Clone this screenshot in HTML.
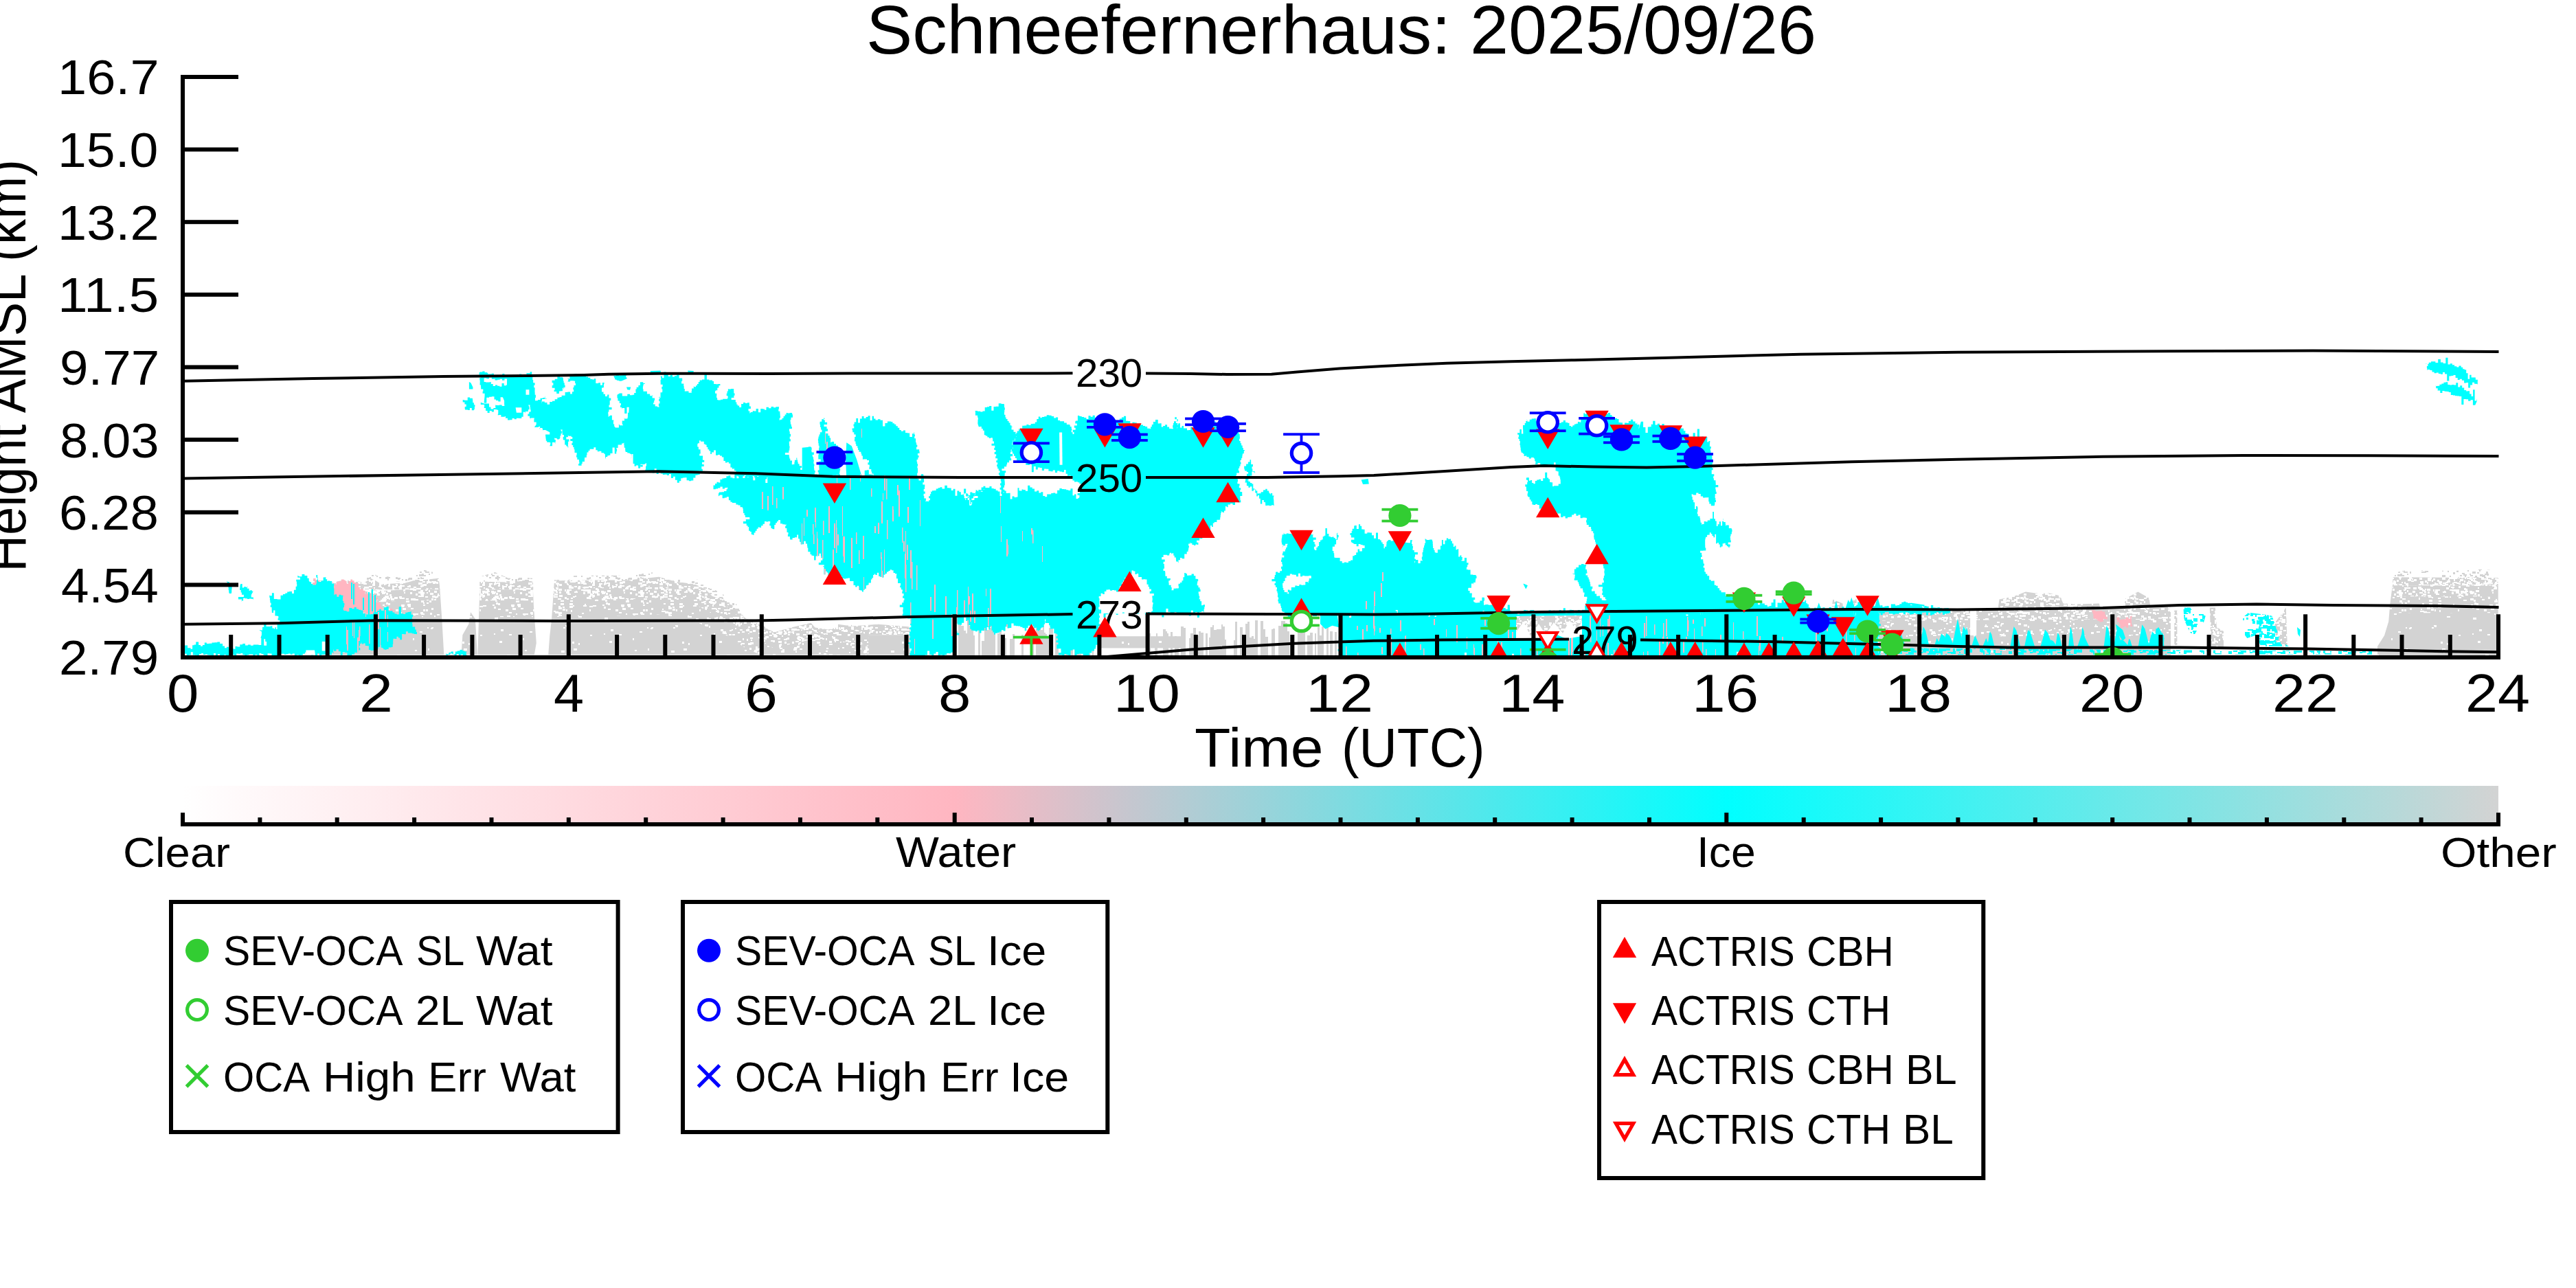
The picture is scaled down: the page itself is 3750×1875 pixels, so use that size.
<!DOCTYPE html>
<html><head><meta charset="utf-8"><title>Schneefernerhaus: 2025/09/26</title>
<style>
html,body{margin:0;padding:0;background:#fff;}
body{width:3750px;height:1875px;position:relative;overflow:hidden;font-family:"Liberation Sans",sans-serif;color:#000;}
svg{position:absolute;left:0;top:0;}
.g{position:absolute;left:0;top:0;}
.t{display:block;position:absolute;white-space:nowrap;line-height:1;transform-origin:0 0;}
</style></head><body>
<svg width="3750" height="1875" viewBox="0 0 3750 1875">
<defs>
<pattern id="g95" width="160" height="120" patternUnits="userSpaceOnUse"><rect width="160" height="120" fill="#d3d3d3"/><path d="M101 83h4v2h-4zM137 12h2v2h-2zM129 27h4v2h-4zM111 53h2v2h-2zM23 70h2v2h-2zM144 15h5v2h-5zM147 74h3v2h-3zM56 5h5v2h-5zM107 18h3v3h-3zM143 104h2v3h-2zM148 73h3v2h-3zM24 70h3v3h-3zM158 26h2v2h-2zM80 59h5v3h-5zM76 31h5v3h-5zM20 73h3v2h-3zM87 93h4v3h-4zM155 9h5v3h-5zM42 96h2v3h-2zM125 53h4v2h-4zM142 73h2v2h-2zM89 76h4v3h-4zM17 107h5v3h-5zM121 89h2v3h-2zM79 82h2v2h-2zM98 113h5v3h-5zM118 45h4v2h-4zM126 7h3v2h-3zM33 94h3v3h-3zM100 117h3v3h-3zM42 57h5v2h-5zM35 104h5v3h-5zM106 45h5v3h-5zM38 10h5v2h-5zM59 84h3v2h-3zM124 106h3v2h-3zM72 0h3v3h-3zM136 47h3v3h-3zM131 79h4v2h-4z" fill="#fff"/></pattern>
<pattern id="g70" width="160" height="120" patternUnits="userSpaceOnUse"><rect width="160" height="120" fill="#d3d3d3"/><path d="M143 50h2v3h-2zM100 13h5v3h-5zM15 24h5v3h-5zM112 20h2v2h-2zM153 6h2v3h-2zM145 19h2v2h-2zM157 3h2v3h-2zM157 48h2v2h-2zM88 77h3v3h-3zM31 14h4v3h-4zM122 61h5v3h-5zM36 13h4v2h-4zM122 106h4v3h-4zM52 67h3v2h-3zM139 117h4v2h-4zM23 89h2v3h-2zM42 45h4v3h-4zM57 78h3v3h-3zM102 94h3v2h-3zM132 63h3v2h-3zM7 101h4v2h-4zM66 24h4v3h-4zM89 46h4v3h-4zM26 29h2v2h-2zM86 26h5v2h-5zM122 116h5v2h-5zM30 116h4v2h-4zM122 113h5v2h-5zM85 11h3v3h-3zM102 95h5v3h-5zM43 16h2v2h-2zM151 115h2v2h-2zM152 60h5v2h-5zM140 70h4v2h-4zM3 102h3v2h-3zM111 111h2v2h-2zM7 32h3v2h-3zM128 30h3v3h-3zM139 53h4v3h-4zM90 114h3v2h-3zM128 16h5v3h-5zM112 99h3v2h-3zM38 22h3v2h-3zM30 71h3v3h-3zM132 67h2v3h-2zM143 7h5v2h-5zM70 5h3v2h-3zM143 3h2v3h-2zM83 78h2v3h-2zM115 65h3v3h-3zM133 112h5v2h-5zM114 17h4v2h-4zM100 56h5v2h-5zM61 54h4v2h-4zM77 100h2v2h-2zM93 18h2v2h-2zM119 28h4v2h-4zM124 20h2v3h-2zM110 65h3v2h-3zM107 25h5v3h-5zM23 92h4v3h-4zM86 70h4v2h-4zM4 49h5v3h-5zM131 8h4v3h-4zM26 10h2v2h-2zM10 115h4v3h-4zM33 104h3v3h-3zM103 19h5v3h-5zM22 35h5v3h-5zM108 114h2v2h-2zM4 81h2v3h-2zM21 77h2v3h-2zM67 110h3v2h-3zM2 43h2v3h-2zM33 5h5v3h-5zM41 33h3v2h-3zM51 39h2v2h-2zM74 57h4v2h-4zM88 102h3v3h-3zM9 1h2v3h-2zM131 60h2v2h-2zM27 84h3v3h-3zM139 106h5v3h-5zM55 29h5v3h-5zM35 51h4v2h-4zM33 1h4v2h-4zM110 20h2v3h-2zM97 111h2v2h-2zM75 5h4v2h-4zM40 34h5v2h-5zM67 46h5v2h-5zM62 4h4v3h-4zM91 23h4v2h-4zM97 10h2v3h-2zM128 83h5v3h-5zM129 99h3v2h-3zM67 104h2v2h-2zM102 75h2v2h-2zM5 38h2v3h-2zM21 74h4v2h-4zM83 92h3v3h-3zM72 92h5v2h-5zM131 80h3v2h-3zM134 96h5v2h-5zM21 3h2v2h-2zM92 13h2v2h-2zM142 6h5v3h-5zM125 33h2v2h-2zM17 95h2v3h-2zM121 32h2v2h-2zM60 93h2v3h-2zM117 63h3v2h-3zM122 116h5v2h-5zM50 9h4v2h-4zM65 83h3v3h-3zM3 61h4v2h-4zM68 86h2v3h-2zM125 37h2v2h-2zM119 59h4v3h-4zM79 10h2v2h-2zM74 58h5v2h-5zM68 49h2v3h-2zM19 74h3v2h-3zM134 33h2v2h-2zM154 104h4v2h-4zM93 29h4v2h-4zM100 3h5v3h-5zM125 87h3v2h-3zM77 93h5v3h-5zM88 48h3v3h-3zM84 0h4v2h-4zM101 15h4v3h-4zM74 32h3v2h-3zM100 49h4v2h-4zM109 96h2v3h-2zM71 13h4v2h-4zM38 31h2v3h-2zM130 40h4v3h-4zM109 113h3v3h-3zM141 70h2v3h-2zM12 93h3v2h-3zM35 82h5v3h-5zM12 116h4v3h-4zM120 53h3v2h-3zM76 32h4v3h-4zM61 38h4v3h-4zM30 21h5v3h-5zM53 64h3v2h-3zM115 116h5v2h-5zM109 17h4v3h-4zM23 22h3v2h-3zM81 30h4v2h-4zM145 25h4v3h-4zM98 52h2v3h-2zM69 43h3v3h-3zM71 73h2v3h-2zM128 67h4v2h-4zM69 114h3v2h-3zM102 82h3v3h-3zM79 108h5v3h-5zM8 54h2v2h-2zM0 9h5v3h-5zM114 31h5v3h-5zM39 19h2v2h-2zM21 70h2v3h-2zM32 29h2v2h-2zM32 80h2v3h-2zM28 12h4v3h-4zM134 74h2v3h-2zM66 28h3v3h-3zM137 38h2v2h-2zM80 82h5v3h-5zM134 30h3v3h-3zM105 90h3v2h-3zM5 24h4v2h-4zM20 32h5v3h-5zM94 29h3v3h-3zM86 91h5v2h-5zM101 25h5v3h-5zM129 8h2v3h-2zM51 39h3v3h-3zM119 28h3v2h-3zM27 79h4v3h-4zM57 62h5v2h-5zM152 18h5v2h-5zM54 3h5v2h-5zM13 90h3v3h-3zM100 57h2v2h-2zM20 21h4v2h-4zM47 83h4v2h-4zM79 85h5v2h-5zM84 56h5v3h-5zM0 10h3v2h-3zM89 53h4v2h-4zM97 45h2v2h-2zM22 6h4v3h-4zM95 69h5v2h-5zM82 46h5v2h-5zM105 31h5v2h-5zM96 4h5v2h-5zM15 32h5v2h-5zM155 43h3v2h-3zM85 78h4v3h-4zM81 35h2v3h-2zM152 117h4v2h-4zM59 13h2v2h-2zM98 101h5v3h-5zM126 16h4v3h-4zM2 102h5v2h-5zM155 30h4v2h-4zM117 46h4v3h-4zM100 96h2v2h-2zM104 8h3v2h-3zM141 69h2v3h-2zM109 113h4v2h-4zM67 79h2v2h-2zM24 53h2v2h-2zM44 29h5v3h-5zM117 79h3v3h-3zM75 37h3v2h-3zM95 32h4v3h-4zM112 31h4v2h-4zM60 19h3v2h-3zM83 8h4v2h-4zM62 64h5v3h-5zM118 4h3v2h-3zM121 113h2v2h-2zM95 5h3v3h-3zM30 6h4v2h-4zM19 47h3v2h-3zM154 33h3v3h-3zM152 90h2v2h-2zM9 47h4v2h-4zM11 26h4v2h-4zM153 93h4v2h-4zM83 52h3v2h-3zM79 9h4v2h-4zM126 70h3v2h-3zM104 12h5v2h-5zM136 11h5v2h-5zM69 52h3v3h-3zM106 6h4v3h-4zM106 53h4v3h-4zM50 50h2v3h-2zM1 55h5v2h-5zM29 105h3v3h-3zM147 113h2v3h-2zM41 16h4v3h-4zM141 18h2v2h-2zM146 79h5v2h-5zM37 44h4v2h-4zM133 21h4v2h-4zM98 62h2v2h-2zM32 107h3v3h-3zM80 6h2v3h-2zM41 81h5v2h-5zM157 108h3v3h-3zM46 72h3v3h-3zM102 66h3v2h-3zM91 15h3v3h-3zM49 5h3v2h-3zM30 49h2v3h-2zM107 39h5v3h-5zM99 84h3v3h-3zM128 56h4v3h-4zM0 79h3v2h-3zM60 57h5v3h-5zM121 51h5v2h-5zM32 45h2v2h-2zM23 102h5v3h-5zM10 81h5v2h-5zM80 99h3v2h-3zM129 114h2v2h-2zM6 109h5v2h-5zM49 16h2v2h-2zM42 87h5v3h-5zM89 78h3v2h-3zM82 114h4v2h-4zM36 32h4v3h-4zM151 33h5v2h-5zM95 4h3v3h-3zM103 20h3v2h-3zM96 21h4v3h-4zM135 6h4v2h-4zM142 66h4v3h-4zM137 80h2v3h-2zM67 48h5v3h-5zM92 42h4v2h-4zM58 22h2v3h-2zM132 32h2v3h-2zM0 95h4v3h-4zM38 37h2v2h-2zM131 46h5v3h-5zM125 29h2v2h-2zM13 0h2v2h-2zM27 66h4v3h-4zM105 74h4v2h-4zM52 46h4v2h-4zM34 1h5v2h-5zM115 12h3v2h-3zM69 51h2v2h-2zM14 82h4v2h-4zM154 66h4v3h-4zM42 115h5v2h-5zM15 68h2v2h-2zM47 30h2v3h-2zM26 1h3v2h-3zM105 25h3v2h-3zM130 39h5v2h-5zM12 113h2v3h-2zM96 108h5v2h-5zM20 94h5v3h-5zM57 13h5v2h-5zM9 15h4v2h-4zM13 34h4v3h-4zM75 82h5v3h-5zM129 1h3v2h-3zM60 107h3v3h-3zM83 24h3v2h-3zM153 30h5v3h-5zM120 107h5v3h-5zM111 92h2v2h-2zM54 50h3v3h-3zM37 4h2v2h-2zM27 79h2v2h-2zM36 89h3v3h-3zM10 17h2v2h-2zM11 8h2v2h-2zM136 114h4v2h-4zM27 31h2v3h-2zM28 4h3v2h-3zM73 61h2v2h-2zM25 101h2v2h-2zM81 43h3v3h-3zM5 44h5v3h-5zM12 91h4v3h-4zM154 64h4v3h-4zM7 100h5v3h-5zM111 66h5v2h-5zM120 90h2v3h-2zM23 73h2v2h-2zM111 0h4v2h-4zM13 0h3v3h-3zM24 62h4v3h-4zM151 44h3v3h-3zM72 104h4v2h-4zM127 21h3v2h-3zM125 100h2v2h-2zM91 12h2v3h-2zM22 54h5v3h-5zM52 38h2v3h-2zM139 64h4v3h-4zM59 58h3v3h-3zM89 74h3v2h-3zM115 84h4v2h-4zM118 56h4v2h-4zM32 42h4v2h-4zM129 24h5v2h-5zM39 92h4v3h-4zM83 77h3v2h-3zM60 41h4v2h-4zM26 21h3v3h-3zM98 19h2v2h-2zM76 55h3v3h-3zM27 81h4v2h-4zM52 113h2v3h-2zM8 1h5v3h-5zM56 64h5v3h-5zM5 18h4v3h-4zM1 94h4v3h-4zM146 75h3v3h-3zM149 109h5v2h-5zM31 58h3v2h-3zM66 80h5v3h-5zM62 100h2v3h-2zM64 108h5v2h-5zM116 2h5v3h-5zM83 99h5v2h-5zM125 116h2v3h-2zM64 69h2v2h-2zM51 66h3v2h-3zM147 58h4v2h-4zM131 2h3v3h-3zM105 94h4v3h-4zM47 50h5v2h-5zM14 32h2v3h-2zM102 7h4v3h-4zM107 117h2v2h-2zM148 33h5v3h-5zM77 94h2v2h-2zM100 59h5v2h-5zM33 118h3v2h-3zM120 82h2v2h-2zM90 85h3v2h-3zM75 97h5v3h-5zM90 100h3v3h-3zM96 87h3v3h-3zM47 61h4v3h-4zM91 31h2v3h-2zM122 62h4v3h-4zM92 19h5v2h-5zM14 10h4v3h-4zM135 106h4v2h-4zM2 26h4v2h-4zM64 77h2v3h-2zM59 23h2v2h-2zM39 26h5v3h-5zM155 100h5v2h-5zM50 63h2v3h-2zM112 85h3v2h-3zM67 53h2v2h-2zM121 63h3v2h-3zM119 115h2v3h-2zM63 63h3v3h-3zM41 107h3v2h-3zM144 63h4v3h-4zM95 54h4v3h-4zM46 81h5v2h-5zM5 78h4v2h-4zM24 65h2v3h-2zM36 4h5v3h-5zM32 43h3v3h-3zM87 60h2v3h-2zM111 43h3v3h-3zM141 6h5v3h-5zM90 105h4v3h-4zM85 64h5v3h-5zM52 83h4v3h-4zM84 24h5v2h-5zM32 75h4v3h-4zM102 92h2v2h-2zM102 38h5v2h-5zM11 24h2v2h-2zM128 116h5v2h-5zM152 112h5v2h-5zM10 85h2v2h-2zM25 84h5v2h-5zM107 99h3v2h-3zM94 111h2v2h-2zM143 90h3v3h-3zM47 53h4v3h-4zM5 55h2v3h-2zM145 66h2v3h-2zM107 73h2v2h-2zM17 1h5v3h-5zM121 98h5v2h-5zM21 82h5v2h-5zM38 80h5v2h-5zM1 1h2v3h-2zM55 111h2v2h-2zM120 2h2v2h-2zM115 93h4v2h-4zM93 99h3v2h-3zM75 80h3v2h-3zM65 116h5v3h-5zM2 7h2v2h-2zM99 39h2v2h-2zM124 77h4v2h-4zM94 73h2v3h-2zM42 18h5v3h-5zM41 80h2v3h-2zM98 99h5v3h-5zM145 42h5v3h-5zM15 79h4v3h-4zM38 76h4v2h-4zM63 48h4v3h-4zM154 98h5v3h-5zM72 88h3v3h-3zM67 34h2v3h-2zM150 117h5v2h-5zM36 103h2v3h-2zM140 87h3v3h-3zM136 10h5v3h-5zM51 100h5v3h-5zM155 7h3v3h-3zM52 32h5v3h-5zM117 69h2v3h-2zM16 29h2v3h-2zM133 41h5v3h-5zM48 27h5v2h-5zM46 103h3v2h-3zM147 72h4v3h-4zM132 109h4v3h-4zM11 118h3v2h-3zM27 47h5v3h-5zM39 40h5v2h-5zM71 66h2v3h-2zM8 26h2v2h-2zM66 118h5v2h-5zM24 57h4v3h-4zM9 43h3v3h-3zM96 10h3v2h-3zM8 71h2v2h-2zM124 108h4v3h-4zM30 90h2v3h-2zM81 72h2v3h-2zM129 50h3v2h-3zM40 47h3v3h-3zM44 4h3v2h-3zM15 115h4v3h-4zM66 100h2v2h-2zM25 18h5v2h-5zM50 86h4v2h-4zM26 60h4v3h-4zM65 49h4v3h-4zM123 48h2v3h-2zM61 103h3v3h-3zM119 91h3v2h-3zM40 118h3v2h-3zM95 113h3v2h-3zM24 49h3v3h-3zM115 43h2v2h-2zM122 14h4v2h-4zM84 28h4v2h-4zM115 70h2v2h-2zM38 34h3v3h-3zM63 19h5v3h-5zM146 107h2v3h-2zM42 33h4v3h-4zM81 58h5v2h-5zM39 65h5v2h-5zM143 61h2v2h-2zM65 96h4v2h-4zM110 33h3v3h-3zM24 49h3v2h-3zM41 7h4v3h-4zM4 56h4v2h-4zM113 0h4v2h-4zM92 55h4v2h-4zM55 35h2v3h-2zM46 66h3v2h-3zM50 76h3v2h-3zM155 93h2v2h-2zM44 26h5v3h-5zM149 39h3v2h-3zM16 88h3v2h-3zM132 103h5v2h-5zM72 107h4v3h-4zM3 52h5v2h-5zM68 31h5v2h-5zM9 20h3v3h-3zM91 66h4v2h-4zM30 45h5v2h-5zM97 73h3v3h-3zM27 93h2v3h-2zM131 3h5v3h-5zM62 11h3v2h-3zM42 13h3v2h-3zM142 104h4v3h-4zM24 118h2v2h-2zM4 107h3v3h-3zM113 13h5v2h-5zM45 5h4v2h-4zM119 63h4v2h-4zM31 15h4v2h-4zM138 75h5v2h-5zM37 85h3v2h-3zM42 105h5v3h-5zM107 76h2v3h-2zM13 99h2v3h-2zM102 30h4v3h-4zM144 102h4v3h-4zM143 6h4v3h-4zM90 31h4v2h-4zM93 13h5v2h-5zM83 55h3v2h-3zM57 17h3v2h-3zM116 81h5v3h-5zM8 110h2v2h-2zM138 103h4v3h-4zM64 15h2v2h-2zM60 5h2v3h-2zM78 44h4v2h-4zM15 76h3v2h-3zM119 75h4v2h-4zM31 65h3v3h-3zM104 73h3v3h-3zM62 94h4v3h-4zM116 78h2v3h-2zM51 70h3v3h-3zM140 38h4v3h-4zM79 3h5v3h-5zM56 24h3v3h-3zM3 45h5v3h-5zM82 71h3v2h-3zM69 36h4v3h-4zM14 98h3v3h-3zM141 8h2v2h-2zM15 66h4v3h-4zM90 94h5v3h-5zM39 53h2v2h-2zM35 86h4v3h-4zM132 12h3v3h-3zM32 52h5v3h-5zM105 98h2v2h-2zM101 73h2v3h-2zM71 111h3v3h-3zM115 88h2v3h-2zM90 37h5v3h-5zM134 71h4v3h-4zM1 100h5v3h-5zM113 38h5v3h-5zM37 55h3v3h-3zM22 105h5v2h-5zM155 107h4v3h-4zM52 54h3v3h-3zM12 32h2v2h-2zM137 99h5v3h-5zM132 105h4v3h-4zM118 45h5v3h-5zM115 1h2v3h-2zM25 52h2v2h-2zM143 73h4v3h-4zM107 62h3v2h-3zM150 43h5v3h-5zM92 40h2v2h-2zM79 65h4v2h-4zM75 88h3v2h-3zM40 67h4v3h-4zM129 114h4v2h-4zM46 7h3v3h-3zM145 80h2v3h-2zM2 100h2v3h-2zM141 0h2v3h-2zM25 75h4v3h-4zM50 22h2v2h-2zM136 65h5v3h-5zM105 77h3v2h-3zM40 66h2v2h-2zM25 9h2v2h-2zM119 78h3v3h-3zM3 87h5v2h-5zM60 45h4v2h-4zM8 34h4v2h-4zM89 24h2v2h-2zM5 6h5v3h-5zM149 97h3v3h-3zM13 79h2v3h-2zM57 5h3v2h-3zM80 0h3v2h-3zM107 77h5v3h-5zM17 31h4v3h-4zM105 39h5v2h-5zM5 101h5v3h-5zM44 21h3v2h-3zM47 0h4v3h-4zM143 46h4v3h-4zM136 111h2v3h-2zM103 83h5v3h-5zM108 105h2v2h-2zM99 24h4v2h-4zM88 30h5v3h-5zM71 85h5v2h-5zM39 30h2v3h-2zM50 34h3v2h-3zM119 107h3v3h-3zM94 45h3v2h-3zM96 80h3v3h-3zM121 64h3v3h-3zM115 86h3v2h-3zM152 115h3v3h-3zM136 31h5v3h-5zM32 111h5v2h-5zM138 109h2v2h-2zM7 84h4v3h-4zM3 49h3v3h-3zM59 41h2v2h-2zM17 71h3v2h-3zM49 8h4v3h-4zM57 36h4v2h-4zM72 45h3v3h-3zM33 35h5v3h-5zM93 86h3v2h-3zM6 84h4v3h-4zM102 45h5v2h-5zM74 14h2v2h-2zM10 51h4v2h-4zM110 25h2v2h-2zM97 94h4v2h-4zM45 72h2v3h-2zM133 32h3v3h-3zM0 14h5v3h-5zM149 77h4v2h-4zM28 4h2v2h-2zM88 95h4v2h-4zM100 95h2v3h-2zM134 11h3v3h-3zM113 43h4v3h-4zM52 54h5v2h-5zM48 5h3v3h-3zM139 20h4v2h-4zM63 7h3v3h-3zM88 52h3v3h-3zM79 17h2v2h-2zM123 30h3v3h-3zM131 88h3v2h-3zM89 89h5v2h-5zM36 75h4v2h-4zM30 70h3v3h-3zM39 76h5v2h-5zM52 14h5v3h-5zM92 62h4v2h-4zM15 114h3v2h-3zM50 14h4v3h-4zM28 20h4v3h-4zM119 72h4v3h-4zM43 71h4v3h-4zM2 59h2v2h-2zM84 94h5v2h-5zM125 55h4v2h-4zM139 41h5v2h-5zM23 82h2v3h-2zM62 10h4v3h-4zM6 99h3v2h-3zM75 47h5v2h-5zM26 100h3v2h-3zM97 23h4v3h-4zM58 47h4v3h-4zM64 30h3v3h-3zM27 72h2v2h-2zM55 63h5v2h-5zM40 38h5v3h-5zM58 20h2v2h-2zM102 11h3v3h-3zM122 24h2v3h-2zM0 4h3v3h-3zM72 9h5v2h-5zM86 8h2v3h-2zM45 115h5v2h-5zM75 0h3v3h-3zM145 25h5v3h-5zM138 41h5v2h-5zM136 116h5v3h-5zM155 79h3v3h-3zM84 77h2v2h-2zM94 61h4v3h-4zM87 67h3v3h-3zM56 86h2v2h-2zM37 84h5v2h-5zM92 67h4v3h-4zM101 33h3v3h-3zM46 113h2v2h-2zM56 110h3v2h-3zM48 67h4v2h-4zM58 70h4v3h-4zM138 73h5v2h-5zM104 86h2v2h-2zM34 110h2v3h-2zM117 106h2v2h-2zM49 72h5v2h-5zM35 47h5v2h-5zM60 6h2v3h-2zM3 89h4v2h-4zM76 15h3v3h-3zM22 79h3v3h-3zM90 21h3v2h-3zM2 105h4v3h-4zM61 47h4v2h-4zM11 104h4v3h-4zM91 70h4v2h-4zM8 118h4v2h-4zM90 24h3v3h-3zM148 56h5v2h-5zM124 14h2v2h-2zM47 19h2v3h-2zM36 75h4v3h-4zM113 1h4v3h-4zM38 62h2v3h-2zM9 9h5v2h-5zM121 20h3v3h-3zM58 111h5v3h-5zM84 67h2v3h-2zM33 75h3v3h-3zM43 104h2v2h-2zM84 73h4v3h-4zM90 40h5v3h-5zM148 61h2v3h-2zM5 31h4v2h-4zM37 93h5v2h-5zM98 34h3v3h-3zM91 72h2v3h-2zM143 115h3v2h-3zM109 81h2v2h-2zM72 101h2v3h-2zM18 38h3v2h-3zM130 109h4v3h-4zM140 91h3v3h-3zM15 90h5v3h-5zM123 64h4v3h-4zM60 44h4v2h-4zM52 0h3v2h-3zM114 50h5v3h-5zM150 8h4v2h-4zM78 32h3v3h-3zM48 74h4v2h-4zM77 74h2v2h-2zM91 99h4v3h-4zM124 40h5v2h-5zM65 69h3v3h-3zM68 30h2v2h-2zM12 51h2v2h-2zM154 36h5v2h-5zM61 93h2v2h-2zM153 6h2v2h-2zM147 43h2v2h-2zM48 34h3v2h-3zM7 27h2v3h-2zM6 83h4v3h-4zM86 22h5v3h-5zM11 11h2v3h-2zM153 51h4v3h-4zM3 3h4v3h-4zM14 53h4v3h-4zM23 2h4v2h-4zM36 67h3v2h-3zM92 54h2v3h-2zM154 73h4v2h-4zM66 104h4v2h-4zM79 83h5v2h-5zM92 66h5v3h-5zM64 1h4v2h-4zM92 19h5v2h-5zM23 3h3v3h-3zM15 69h3v2h-3zM66 77h3v2h-3zM45 111h4v2h-4zM89 99h3v2h-3zM127 27h3v3h-3zM117 27h4v3h-4zM27 84h4v2h-4zM102 86h2v2h-2zM58 72h4v2h-4zM96 84h5v3h-5zM64 2h3v2h-3zM61 29h4v3h-4zM83 97h4v2h-4zM76 112h5v3h-5zM145 101h5v2h-5zM68 96h3v3h-3zM72 11h3v3h-3zM124 111h4v2h-4zM81 87h3v2h-3zM148 6h5v2h-5zM11 99h3v3h-3zM111 110h5v2h-5zM6 103h3v3h-3zM2 17h2v2h-2zM128 94h4v2h-4zM43 59h4v2h-4zM106 43h5v2h-5zM8 74h5v3h-5zM3 4h3v2h-3zM147 55h3v2h-3zM12 114h2v2h-2zM28 15h4v2h-4zM134 54h5v2h-5zM57 87h2v2h-2zM135 45h3v2h-3zM89 27h5v2h-5zM69 90h3v2h-3zM67 34h3v2h-3z" fill="#fff"/></pattern>
<pattern id="g50" width="160" height="120" patternUnits="userSpaceOnUse"><rect width="160" height="120" fill="#d3d3d3"/><path d="M50 65h2v2h-2zM142 46h2v3h-2zM83 88h4v2h-4zM139 36h2v3h-2zM68 51h4v3h-4zM138 53h5v3h-5zM99 97h5v2h-5zM36 114h5v3h-5zM155 64h2v2h-2zM61 105h4v3h-4zM22 107h3v2h-3zM103 88h2v2h-2zM140 85h4v3h-4zM147 0h4v3h-4zM130 43h5v3h-5zM96 45h5v2h-5zM134 34h2v3h-2zM139 85h4v2h-4zM67 116h3v3h-3zM133 75h5v3h-5zM36 8h5v2h-5zM135 21h4v2h-4zM44 19h4v2h-4zM11 41h5v2h-5zM109 15h5v3h-5zM64 48h5v2h-5zM91 84h2v3h-2zM22 35h4v3h-4zM114 88h5v3h-5zM122 93h2v3h-2zM1 87h3v2h-3zM125 66h3v3h-3zM133 43h3v3h-3zM4 71h5v3h-5zM146 33h3v2h-3zM78 91h2v2h-2zM65 30h4v3h-4zM23 67h4v3h-4zM51 16h5v2h-5zM95 117h5v3h-5zM96 46h2v3h-2zM104 55h2v3h-2zM61 49h4v3h-4zM148 47h3v2h-3zM84 110h2v2h-2zM114 48h2v2h-2zM127 115h5v3h-5zM151 72h2v2h-2zM111 53h5v3h-5zM16 56h5v2h-5zM34 65h5v3h-5zM51 51h2v2h-2zM141 42h2v3h-2zM30 11h5v3h-5zM146 104h3v2h-3zM127 11h2v2h-2zM14 105h3v3h-3zM123 110h3v3h-3zM149 17h2v3h-2zM37 41h5v2h-5zM132 0h4v2h-4zM133 33h3v3h-3zM98 32h2v3h-2zM130 113h4v3h-4zM78 38h5v2h-5zM111 109h3v3h-3zM51 16h4v3h-4zM137 83h2v2h-2zM125 90h4v3h-4zM87 25h3v3h-3zM80 1h5v2h-5zM144 105h2v3h-2zM70 28h4v2h-4zM51 90h5v3h-5zM103 93h3v3h-3zM52 7h5v2h-5zM31 6h3v3h-3zM152 63h3v2h-3zM143 94h3v2h-3zM56 86h3v3h-3zM136 107h4v2h-4zM52 66h3v2h-3zM24 25h2v3h-2zM106 28h2v2h-2zM108 19h4v3h-4zM10 20h2v2h-2zM59 111h5v3h-5zM79 116h4v2h-4zM140 107h4v3h-4zM59 50h3v2h-3zM97 19h2v3h-2zM139 88h4v2h-4zM118 19h2v2h-2zM85 86h3v3h-3zM9 106h5v2h-5zM53 83h4v2h-4zM125 44h2v3h-2zM23 25h2v3h-2zM77 76h5v3h-5zM35 60h2v2h-2zM148 118h4v2h-4zM148 76h4v2h-4zM88 24h2v2h-2zM12 22h3v3h-3zM115 61h4v3h-4zM93 22h3v3h-3zM17 92h2v3h-2zM141 14h5v2h-5zM118 4h3v3h-3zM131 74h2v2h-2zM33 53h2v3h-2zM95 93h4v2h-4zM43 84h3v3h-3zM1 107h2v3h-2zM38 33h5v3h-5zM61 14h2v2h-2zM69 68h3v3h-3zM119 31h2v3h-2zM129 32h3v2h-3zM72 51h4v2h-4zM61 93h3v2h-3zM3 13h3v2h-3zM146 26h2v3h-2zM43 19h3v2h-3zM108 50h4v2h-4zM145 113h2v3h-2zM148 27h2v2h-2zM152 99h3v2h-3zM18 76h2v2h-2zM10 27h4v2h-4zM87 10h3v3h-3zM2 40h5v2h-5zM8 11h5v3h-5zM130 86h3v2h-3zM88 98h3v2h-3zM50 118h3v2h-3zM17 0h3v3h-3zM127 67h5v2h-5zM154 81h4v2h-4zM12 108h2v2h-2zM23 83h4v3h-4zM126 86h4v2h-4zM66 106h5v2h-5zM119 106h4v2h-4zM98 105h3v3h-3zM17 100h4v2h-4zM61 25h4v2h-4zM126 73h5v2h-5zM101 101h2v3h-2zM103 11h4v3h-4zM152 115h3v3h-3zM1 38h5v3h-5zM28 112h5v2h-5zM105 77h5v3h-5zM37 42h4v3h-4zM90 50h3v2h-3zM74 42h5v2h-5zM47 89h2v3h-2zM137 103h5v3h-5zM55 87h3v2h-3zM47 49h2v3h-2zM38 46h4v3h-4zM89 113h3v2h-3zM127 40h5v3h-5zM100 67h3v2h-3zM44 13h2v2h-2zM144 103h3v3h-3zM25 70h4v3h-4zM64 85h5v2h-5zM131 79h5v2h-5zM68 37h4v3h-4zM96 66h4v3h-4zM126 46h2v3h-2zM30 71h2v2h-2zM79 96h5v3h-5zM8 41h3v3h-3zM1 114h5v2h-5zM48 75h4v2h-4zM44 95h2v3h-2zM74 98h4v2h-4zM140 52h2v3h-2zM126 90h2v3h-2zM82 20h4v3h-4zM136 44h5v2h-5zM132 103h3v2h-3zM78 94h2v2h-2zM13 75h3v3h-3zM92 88h4v3h-4zM79 114h3v3h-3zM82 118h5v2h-5zM27 87h5v3h-5zM100 40h4v3h-4zM68 14h5v3h-5zM128 107h3v3h-3zM80 5h5v2h-5zM137 60h3v3h-3zM70 50h5v2h-5zM135 103h4v3h-4zM66 57h4v2h-4zM136 105h2v2h-2zM154 46h4v3h-4zM17 112h4v2h-4zM28 39h2v3h-2zM30 99h3v2h-3zM87 51h5v3h-5zM86 44h5v3h-5zM136 94h3v2h-3zM34 27h5v3h-5zM105 8h4v2h-4zM147 55h2v2h-2zM146 93h5v2h-5zM38 28h4v2h-4zM72 115h3v2h-3zM73 16h2v3h-2zM17 98h5v3h-5zM57 39h4v2h-4zM145 113h2v3h-2zM5 89h2v3h-2zM83 27h2v2h-2zM35 57h2v3h-2zM114 75h4v2h-4zM137 105h2v2h-2zM123 28h5v2h-5zM84 67h4v3h-4zM142 101h3v2h-3zM147 68h3v3h-3zM44 3h2v2h-2zM95 8h4v3h-4zM149 14h4v2h-4zM131 75h5v3h-5zM14 102h5v2h-5zM64 9h4v3h-4zM110 58h5v2h-5zM87 78h5v2h-5zM103 21h3v2h-3zM19 94h4v2h-4zM50 101h2v3h-2zM51 71h3v3h-3zM156 92h4v2h-4zM90 26h2v2h-2zM137 33h5v2h-5zM144 80h4v2h-4zM78 13h4v3h-4zM90 53h2v2h-2zM26 43h2v3h-2zM93 99h2v2h-2zM21 116h5v3h-5zM121 114h4v3h-4zM135 72h3v2h-3zM53 45h4v3h-4zM49 90h4v2h-4zM98 20h4v3h-4zM35 1h5v2h-5zM149 68h2v2h-2zM2 104h5v2h-5zM11 26h2v3h-2zM86 79h2v3h-2zM52 0h5v3h-5zM90 48h3v2h-3zM151 112h2v2h-2zM112 58h3v2h-3zM145 92h5v2h-5zM43 51h2v3h-2zM120 77h3v3h-3zM127 76h3v2h-3zM61 102h5v2h-5zM100 72h3v2h-3zM62 12h3v2h-3zM9 59h3v2h-3zM61 28h2v3h-2zM67 5h2v3h-2zM4 61h3v3h-3zM47 18h2v2h-2zM27 65h3v3h-3zM18 108h5v2h-5zM128 71h2v2h-2zM139 78h2v2h-2zM101 85h4v3h-4zM6 23h2v2h-2zM31 90h5v2h-5zM28 78h3v3h-3zM24 11h2v3h-2zM22 47h3v2h-3zM79 97h4v3h-4zM126 77h4v2h-4zM1 10h4v2h-4zM29 87h2v2h-2zM116 52h3v3h-3zM5 107h3v2h-3zM34 108h2v2h-2zM46 79h5v2h-5zM65 90h4v3h-4zM76 108h3v3h-3zM83 48h4v2h-4zM113 20h2v2h-2zM70 102h5v3h-5zM105 68h3v2h-3zM59 69h2v3h-2zM0 98h4v3h-4zM20 68h3v3h-3zM9 105h3v2h-3zM86 46h4v3h-4zM117 20h2v2h-2zM137 31h3v2h-3zM54 27h5v2h-5zM66 55h4v2h-4zM156 56h2v2h-2zM100 31h3v3h-3zM7 11h4v3h-4zM151 18h3v3h-3zM100 38h2v2h-2zM17 68h2v2h-2zM92 9h2v2h-2zM126 82h3v2h-3zM45 115h4v3h-4zM77 50h2v3h-2zM113 93h5v2h-5zM87 41h2v3h-2zM99 106h3v2h-3zM53 102h3v2h-3zM71 79h4v3h-4zM18 115h2v2h-2zM150 39h2v2h-2zM11 18h4v2h-4zM14 49h5v2h-5zM145 74h4v2h-4zM16 37h3v2h-3zM33 45h2v3h-2zM35 47h4v2h-4zM93 21h4v3h-4zM42 36h2v2h-2zM57 83h5v2h-5zM98 109h3v2h-3zM120 33h4v2h-4zM25 84h2v2h-2zM60 36h5v3h-5zM112 62h2v3h-2zM117 71h2v2h-2zM103 15h5v2h-5zM44 116h5v3h-5zM112 7h3v3h-3zM17 34h2v2h-2zM120 30h4v3h-4zM18 65h4v2h-4zM55 72h3v3h-3zM15 55h5v2h-5zM133 21h2v2h-2zM25 10h4v2h-4zM119 58h5v3h-5zM115 80h3v2h-3zM52 35h4v2h-4zM30 90h4v2h-4zM65 23h5v3h-5zM120 87h2v2h-2zM127 85h2v2h-2zM37 49h3v3h-3zM94 84h4v2h-4zM4 76h3v2h-3zM115 27h5v2h-5zM112 17h2v3h-2zM80 74h3v3h-3zM102 3h3v2h-3zM92 61h3v2h-3zM122 47h3v2h-3zM55 24h5v2h-5zM79 100h5v2h-5zM57 96h5v3h-5zM104 22h4v2h-4zM5 72h4v3h-4zM61 105h4v2h-4zM155 103h2v2h-2zM121 71h4v3h-4zM66 30h5v2h-5zM106 19h2v3h-2zM148 41h3v2h-3zM59 54h2v2h-2zM149 104h3v2h-3zM64 113h5v3h-5zM68 91h3v2h-3zM13 55h5v2h-5zM74 9h2v2h-2zM35 53h4v2h-4zM76 103h2v3h-2zM62 63h2v3h-2zM111 9h4v2h-4zM46 110h4v3h-4zM105 46h4v2h-4zM14 79h4v2h-4zM83 102h5v2h-5zM121 43h2v3h-2zM83 100h3v3h-3zM22 26h3v3h-3zM34 115h5v3h-5zM92 48h3v3h-3zM32 28h5v3h-5zM28 4h3v3h-3zM157 53h3v3h-3zM149 58h2v3h-2zM88 90h4v3h-4zM44 103h5v3h-5zM41 50h5v2h-5zM74 106h4v2h-4zM151 98h3v2h-3zM77 83h3v3h-3zM16 76h4v2h-4zM50 114h5v2h-5zM143 34h2v3h-2zM1 107h2v2h-2zM63 0h3v2h-3zM44 33h3v2h-3zM6 14h3v2h-3zM50 19h2v2h-2zM18 66h5v3h-5zM74 53h4v3h-4zM85 7h5v3h-5zM41 33h2v3h-2zM13 89h2v2h-2zM84 43h4v2h-4zM48 77h5v2h-5zM108 49h2v2h-2zM58 39h4v2h-4zM24 8h2v3h-2zM115 102h3v2h-3zM23 105h5v2h-5zM35 1h5v3h-5zM27 107h3v2h-3zM66 64h5v2h-5zM14 3h5v3h-5zM56 65h3v2h-3zM116 78h4v2h-4zM52 39h3v2h-3zM40 7h4v2h-4zM86 105h3v3h-3zM80 66h4v3h-4zM155 40h4v2h-4zM12 41h2v3h-2zM44 80h3v2h-3zM7 25h3v3h-3zM129 91h4v2h-4zM135 39h4v3h-4zM17 79h2v2h-2zM123 8h5v3h-5zM115 40h4v2h-4zM95 68h5v3h-5zM13 13h5v3h-5zM71 17h5v2h-5zM16 59h2v2h-2zM17 109h2v3h-2zM133 10h4v3h-4zM24 91h3v3h-3zM73 116h2v2h-2zM18 40h3v2h-3zM43 30h3v3h-3zM109 90h3v3h-3zM31 114h4v3h-4zM141 14h3v3h-3zM98 60h2v3h-2zM154 103h3v2h-3zM100 91h4v3h-4zM49 117h3v2h-3zM131 43h5v2h-5zM65 65h3v2h-3zM82 40h5v2h-5zM48 84h3v3h-3zM0 110h5v2h-5zM2 100h3v3h-3zM9 41h4v2h-4zM68 46h3v3h-3zM90 50h4v3h-4zM28 29h5v3h-5zM145 96h2v3h-2zM43 96h3v2h-3zM64 64h3v3h-3zM111 107h4v3h-4zM61 69h4v2h-4zM88 114h4v2h-4zM35 109h3v3h-3zM86 60h2v3h-2zM87 46h5v2h-5zM25 15h3v2h-3zM6 29h4v2h-4zM17 63h4v2h-4zM118 81h2v2h-2zM122 48h5v3h-5zM81 115h4v3h-4zM90 73h4v3h-4zM123 57h2v2h-2zM58 26h5v2h-5zM138 46h3v3h-3zM118 75h2v2h-2zM33 54h5v2h-5zM134 37h2v2h-2zM56 101h4v2h-4zM93 113h2v2h-2zM97 81h5v2h-5zM51 41h2v3h-2zM131 93h4v3h-4zM139 96h3v3h-3zM154 48h2v2h-2zM4 116h3v2h-3zM13 7h2v3h-2zM128 108h3v2h-3zM39 71h3v3h-3zM39 80h3v2h-3zM108 17h5v2h-5zM59 53h4v3h-4zM13 11h3v3h-3zM42 95h2v3h-2zM59 66h3v3h-3zM154 22h3v2h-3zM118 91h3v2h-3zM108 65h3v3h-3zM0 56h2v3h-2zM143 86h2v2h-2zM81 58h5v2h-5zM139 43h3v2h-3zM50 29h5v2h-5zM91 79h3v3h-3zM79 20h5v3h-5zM21 18h3v3h-3zM31 64h3v3h-3zM106 61h4v2h-4zM121 35h5v3h-5zM120 75h5v2h-5zM59 9h3v2h-3zM17 51h4v3h-4zM108 42h2v3h-2zM38 59h4v3h-4zM122 45h2v2h-2zM76 20h5v3h-5zM93 86h2v2h-2zM151 73h5v3h-5zM40 70h3v3h-3zM73 14h5v2h-5zM157 41h3v2h-3zM126 35h5v3h-5zM89 70h4v2h-4zM29 42h4v3h-4zM156 77h4v3h-4zM94 102h4v2h-4zM92 103h5v2h-5zM85 36h2v3h-2zM96 2h5v2h-5zM53 7h2v2h-2zM79 29h3v2h-3zM111 33h3v2h-3zM36 70h2v2h-2zM111 107h2v2h-2zM127 109h3v2h-3zM23 80h5v3h-5zM77 4h3v2h-3zM41 15h2v2h-2zM83 90h2v2h-2zM118 20h3v2h-3zM50 77h2v2h-2zM92 15h4v2h-4zM100 52h5v3h-5zM59 61h4v3h-4zM42 23h2v2h-2zM15 57h3v3h-3zM140 101h2v3h-2zM112 112h2v3h-2zM101 65h2v3h-2zM143 66h3v2h-3zM44 88h3v3h-3zM1 64h5v2h-5zM106 90h2v3h-2zM104 42h3v3h-3zM80 114h5v2h-5zM68 115h5v2h-5zM148 88h3v2h-3zM143 33h4v3h-4zM146 109h4v2h-4zM21 62h5v3h-5zM109 97h2v2h-2zM75 75h2v3h-2zM22 75h5v2h-5zM96 35h3v2h-3zM113 112h2v3h-2zM114 83h4v2h-4zM9 63h4v2h-4zM16 83h4v2h-4zM94 26h4v3h-4zM116 82h5v3h-5zM121 15h4v3h-4zM75 6h2v2h-2zM96 109h3v3h-3zM129 4h3v3h-3zM6 11h5v3h-5zM55 59h2v2h-2zM74 43h5v2h-5zM30 82h3v2h-3zM86 21h3v3h-3zM121 109h3v2h-3zM66 116h3v3h-3zM41 116h2v2h-2zM98 68h4v2h-4zM25 53h5v2h-5zM15 95h5v3h-5zM118 61h5v2h-5zM41 66h3v3h-3zM103 113h2v3h-2zM120 60h3v2h-3zM144 47h5v3h-5zM150 42h2v3h-2zM24 47h3v3h-3zM35 63h5v2h-5zM98 73h4v3h-4zM7 40h3v3h-3zM31 36h3v3h-3zM144 99h5v3h-5zM50 69h4v3h-4zM48 77h3v3h-3zM75 90h3v3h-3zM107 1h3v2h-3zM52 65h3v2h-3zM28 87h2v2h-2zM49 86h4v2h-4zM12 54h2v3h-2zM80 114h2v3h-2zM89 115h2v3h-2zM146 25h3v2h-3zM26 26h3v2h-3zM149 112h2v3h-2zM103 89h4v3h-4zM152 106h2v2h-2zM69 65h5v2h-5zM93 111h3v3h-3zM13 54h2v2h-2zM95 92h5v2h-5zM91 117h4v2h-4zM139 18h4v3h-4zM38 19h3v2h-3zM40 39h2v2h-2zM105 59h2v3h-2zM60 54h2v2h-2zM1 30h3v2h-3zM23 106h4v2h-4zM109 42h5v3h-5zM56 85h5v2h-5zM128 30h2v3h-2zM50 8h2v2h-2zM84 96h4v2h-4zM20 54h2v3h-2zM131 99h4v2h-4zM39 22h5v2h-5zM83 116h4v3h-4zM42 75h2v3h-2zM31 108h2v3h-2zM72 64h3v2h-3zM12 13h2v3h-2zM43 29h3v3h-3zM66 84h3v3h-3zM61 115h5v2h-5zM57 84h5v2h-5zM50 52h5v2h-5zM93 42h2v3h-2zM84 28h3v3h-3zM106 88h2v3h-2zM39 10h5v2h-5zM139 24h2v2h-2zM97 64h4v2h-4zM49 12h5v3h-5zM74 8h5v3h-5zM36 8h5v2h-5zM32 84h5v3h-5zM148 92h2v2h-2zM28 102h2v2h-2zM13 28h4v2h-4zM43 89h4v3h-4zM70 20h4v3h-4zM45 0h5v3h-5zM139 92h3v2h-3zM39 84h5v2h-5zM29 103h4v2h-4zM56 0h5v2h-5zM90 10h3v2h-3zM143 110h4v3h-4zM79 66h5v2h-5zM86 16h3v3h-3zM130 71h4v3h-4zM128 16h3v3h-3zM110 85h2v3h-2zM136 37h3v2h-3zM114 99h4v2h-4zM63 90h4v3h-4zM75 51h5v3h-5zM123 41h2v3h-2zM91 90h3v3h-3zM92 11h4v3h-4zM59 100h4v2h-4zM93 88h5v3h-5zM140 7h2v3h-2zM104 4h4v3h-4zM58 43h5v3h-5zM27 92h4v3h-4zM26 47h3v3h-3zM124 5h3v3h-3zM107 111h3v3h-3zM107 19h5v3h-5zM46 91h4v2h-4zM71 7h3v3h-3zM9 109h3v3h-3zM109 54h3v2h-3zM95 65h3v2h-3zM69 56h2v2h-2zM5 50h5v3h-5zM97 100h5v2h-5zM29 97h2v3h-2zM32 86h4v3h-4zM52 2h2v2h-2zM25 25h3v3h-3zM120 75h3v2h-3zM9 73h4v2h-4zM130 58h4v2h-4zM54 56h2v2h-2zM92 1h4v3h-4zM84 51h3v2h-3zM62 42h3v3h-3zM9 66h3v3h-3zM120 99h4v3h-4zM3 6h5v3h-5zM58 76h5v3h-5zM140 49h3v3h-3zM66 97h3v2h-3zM79 59h5v2h-5zM17 11h3v2h-3zM94 0h2v2h-2zM129 58h5v3h-5zM132 47h4v3h-4zM130 67h3v2h-3zM95 37h5v2h-5zM99 45h3v2h-3zM72 97h4v3h-4zM29 46h2v3h-2zM84 86h4v2h-4zM41 53h2v3h-2zM56 51h2v3h-2zM50 85h2v2h-2zM103 33h5v3h-5zM117 21h3v2h-3zM7 48h4v2h-4zM102 86h3v3h-3zM139 60h2v3h-2zM17 82h3v2h-3zM66 103h3v2h-3zM130 111h3v2h-3zM140 68h4v3h-4zM157 14h3v3h-3zM79 38h3v3h-3zM113 95h3v2h-3zM93 63h4v2h-4zM15 83h5v2h-5zM156 79h2v2h-2zM68 103h2v2h-2zM133 2h2v2h-2zM112 11h2v2h-2zM46 25h5v2h-5zM154 3h4v3h-4zM95 8h3v3h-3zM30 6h2v2h-2zM71 38h3v3h-3zM112 77h2v2h-2zM15 93h4v2h-4zM78 11h4v2h-4zM97 89h5v2h-5zM116 106h5v3h-5zM71 34h3v2h-3zM78 50h3v2h-3zM24 27h2v2h-2zM118 65h5v3h-5zM6 79h4v3h-4zM53 20h4v3h-4zM103 20h4v3h-4zM47 60h3v3h-3zM63 45h3v2h-3zM70 44h2v3h-2zM72 48h2v3h-2zM111 103h3v3h-3zM65 101h2v3h-2zM43 37h3v2h-3zM119 55h2v3h-2zM25 19h5v2h-5zM130 114h5v2h-5zM56 82h3v3h-3zM71 19h5v3h-5zM147 107h2v2h-2zM121 75h3v2h-3zM128 62h3v3h-3zM51 56h2v2h-2zM137 55h2v2h-2zM152 29h3v3h-3zM95 13h3v3h-3zM40 88h5v2h-5zM64 70h4v2h-4zM146 111h2v2h-2zM63 26h2v2h-2zM64 106h2v3h-2zM125 23h2v3h-2zM76 117h4v2h-4zM95 31h5v2h-5zM57 110h5v2h-5zM84 95h2v2h-2zM125 99h2v3h-2zM53 44h2v2h-2zM99 52h2v3h-2zM79 53h5v2h-5zM111 74h2v3h-2zM45 105h5v3h-5zM54 84h5v3h-5zM118 73h2v2h-2zM20 87h3v2h-3zM2 1h4v3h-4zM40 107h4v3h-4zM33 111h3v3h-3zM52 18h4v3h-4zM75 2h5v2h-5zM83 66h5v3h-5zM17 16h3v3h-3zM73 5h2v2h-2zM139 88h4v3h-4zM23 93h3v2h-3zM6 99h2v3h-2zM101 81h4v2h-4zM30 66h5v2h-5zM124 56h5v3h-5zM111 118h5v2h-5zM51 41h3v3h-3zM100 66h5v3h-5zM150 5h4v2h-4zM51 19h5v3h-5zM70 46h5v3h-5zM108 19h3v2h-3zM31 71h4v2h-4zM20 4h2v3h-2zM150 56h5v3h-5zM27 51h2v2h-2zM96 46h4v2h-4zM22 2h3v3h-3zM128 28h2v2h-2zM141 24h2v2h-2zM74 105h2v2h-2zM64 75h5v3h-5zM12 72h3v3h-3zM78 76h2v3h-2zM25 54h2v2h-2zM150 107h2v2h-2zM74 23h4v3h-4zM72 58h5v2h-5zM140 35h4v3h-4zM132 63h2v2h-2zM94 14h4v2h-4zM78 47h4v3h-4zM131 35h3v3h-3zM119 32h3v3h-3zM140 82h3v2h-3zM20 32h3v2h-3zM66 88h3v3h-3zM118 22h3v3h-3zM26 23h2v3h-2zM11 114h5v3h-5zM100 87h3v3h-3zM95 85h5v2h-5zM145 51h4v3h-4zM99 18h5v2h-5zM9 107h4v3h-4zM19 91h2v2h-2zM68 114h3v3h-3zM85 39h5v3h-5zM139 85h4v2h-4zM22 19h3v2h-3zM86 110h3v3h-3zM36 91h2v2h-2zM73 38h3v3h-3zM52 50h2v3h-2zM56 48h2v3h-2zM112 110h5v2h-5zM24 29h5v2h-5zM61 3h5v3h-5zM107 74h2v3h-2zM114 36h2v2h-2zM95 73h3v2h-3zM151 2h2v2h-2zM102 19h5v2h-5zM88 51h5v3h-5zM23 90h3v2h-3zM49 103h4v3h-4zM12 64h4v3h-4zM9 42h4v2h-4zM70 55h4v3h-4zM118 59h5v3h-5zM44 103h4v2h-4zM32 26h2v2h-2zM126 85h3v2h-3zM85 93h4v2h-4zM11 80h5v3h-5zM44 57h3v2h-3zM115 3h2v2h-2zM105 64h2v3h-2zM59 108h2v3h-2zM150 52h3v2h-3zM78 80h3v3h-3zM101 7h5v3h-5zM9 77h2v3h-2zM56 42h5v2h-5zM24 107h2v2h-2zM125 89h2v3h-2zM25 74h5v3h-5zM3 49h5v3h-5zM16 63h4v3h-4zM125 12h5v2h-5zM127 93h5v2h-5zM29 93h5v2h-5zM11 77h5v3h-5zM0 105h5v3h-5zM89 73h5v2h-5zM26 37h5v3h-5zM78 69h2v3h-2zM144 102h3v3h-3zM117 112h2v3h-2zM77 81h3v3h-3zM3 18h2v3h-2zM62 3h4v2h-4zM60 93h3v3h-3zM135 77h5v2h-5zM25 31h4v2h-4zM88 19h5v3h-5zM142 99h5v2h-5zM4 67h4v3h-4zM13 15h4v3h-4zM101 106h3v2h-3zM84 9h2v3h-2zM34 38h3v3h-3zM117 64h2v2h-2zM30 27h3v3h-3zM58 115h3v3h-3zM66 12h2v2h-2zM133 106h3v3h-3zM47 40h4v2h-4zM145 57h5v2h-5zM154 69h4v3h-4zM157 110h3v2h-3zM62 88h4v2h-4zM51 99h2v2h-2zM78 41h4v2h-4zM119 103h2v3h-2zM27 11h3v3h-3zM46 20h4v3h-4zM1 11h3v2h-3zM32 31h5v2h-5zM104 80h5v2h-5zM7 50h5v2h-5zM61 75h4v2h-4zM116 68h5v3h-5zM98 8h4v2h-4zM72 37h4v3h-4zM111 41h2v2h-2zM48 110h5v3h-5zM97 79h5v3h-5zM115 8h2v2h-2zM65 63h5v3h-5zM26 29h4v3h-4zM48 0h3v3h-3zM87 48h5v3h-5zM100 84h2v2h-2zM105 65h3v3h-3zM83 57h3v3h-3zM150 61h5v3h-5zM65 81h3v2h-3zM6 35h2v3h-2zM54 54h5v3h-5zM105 93h2v3h-2zM22 81h3v2h-3zM96 25h3v3h-3zM147 84h5v3h-5zM93 49h5v3h-5zM17 39h2v2h-2zM105 84h2v3h-2zM43 30h4v3h-4zM64 49h5v3h-5zM114 4h4v3h-4zM13 104h5v2h-5zM88 38h3v2h-3zM60 63h2v2h-2zM137 52h4v3h-4zM16 22h2v2h-2zM97 19h3v2h-3zM17 18h4v3h-4zM57 15h4v3h-4zM124 41h2v2h-2zM71 47h2v3h-2zM68 23h5v2h-5zM40 104h5v2h-5zM34 76h5v3h-5zM48 38h5v2h-5zM136 30h4v3h-4zM98 29h2v3h-2zM2 56h4v2h-4zM77 63h5v3h-5zM76 26h3v2h-3zM146 45h4v3h-4zM2 73h5v2h-5zM80 63h2v3h-2zM140 76h3v3h-3zM9 60h3v3h-3zM120 99h3v3h-3zM74 85h2v3h-2zM52 36h3v3h-3zM50 39h5v2h-5zM5 12h5v3h-5zM49 73h4v3h-4zM105 93h3v2h-3zM95 96h4v2h-4zM77 32h3v2h-3zM116 114h5v3h-5zM65 84h4v3h-4zM84 29h2v2h-2zM110 33h4v2h-4zM79 36h4v2h-4zM35 27h2v3h-2zM94 43h4v2h-4zM109 32h2v2h-2zM127 39h2v3h-2zM87 53h4v2h-4zM121 63h4v2h-4zM62 113h4v2h-4zM60 118h4v2h-4zM8 25h3v2h-3zM137 87h3v2h-3zM127 47h5v3h-5zM59 54h2v2h-2zM11 91h5v2h-5zM21 35h4v2h-4zM124 19h4v2h-4zM132 79h3v2h-3zM32 38h3v3h-3zM120 10h3v3h-3zM101 26h5v3h-5zM125 114h4v2h-4zM50 69h5v2h-5zM57 76h2v3h-2zM38 13h2v3h-2zM92 87h3v3h-3zM26 96h2v3h-2zM98 103h2v3h-2zM69 103h5v3h-5zM139 106h4v3h-4zM125 22h2v2h-2zM88 86h2v2h-2zM16 85h5v2h-5zM155 16h2v2h-2zM112 76h2v3h-2zM7 52h4v3h-4zM69 17h4v2h-4zM53 31h5v2h-5zM149 34h3v2h-3zM105 46h3v3h-3zM107 89h2v3h-2zM127 74h2v2h-2zM34 63h2v3h-2zM37 99h5v2h-5zM128 112h5v2h-5zM68 10h5v3h-5zM117 118h3v2h-3zM130 68h4v2h-4zM35 2h3v2h-3zM59 40h2v3h-2zM12 53h3v2h-3zM23 117h3v2h-3zM54 97h5v3h-5zM52 18h5v3h-5zM42 5h5v3h-5zM85 115h4v2h-4zM112 13h2v2h-2zM133 99h2v3h-2zM68 75h3v2h-3zM147 96h2v3h-2zM33 42h5v2h-5zM17 55h5v3h-5zM132 50h3v3h-3zM66 47h3v3h-3zM112 2h4v2h-4zM101 63h4v2h-4zM151 15h5v2h-5zM61 72h4v2h-4zM13 90h2v2h-2zM82 116h4v3h-4zM61 57h2v2h-2zM113 49h4v3h-4zM47 102h2v2h-2zM89 75h4v2h-4zM15 54h5v2h-5zM113 85h3v2h-3zM25 89h5v2h-5zM104 31h2v3h-2zM112 43h2v2h-2zM23 56h3v3h-3zM16 41h3v3h-3zM64 52h2v2h-2zM8 57h3v3h-3zM143 26h2v3h-2zM137 79h3v3h-3zM65 116h3v3h-3zM39 37h4v3h-4zM54 116h4v3h-4zM113 16h3v2h-3zM44 50h3v3h-3zM121 50h4v3h-4zM12 54h3v3h-3zM134 42h4v2h-4zM69 105h3v3h-3zM92 89h3v2h-3zM35 22h5v2h-5zM0 86h4v3h-4zM17 33h5v2h-5zM27 105h2v2h-2zM83 76h4v3h-4zM71 100h3v3h-3zM144 83h4v2h-4zM5 21h2v2h-2zM149 110h4v2h-4zM61 62h5v2h-5zM11 108h4v3h-4zM30 50h4v3h-4zM25 95h4v3h-4zM72 35h3v3h-3zM59 99h4v2h-4zM156 48h2v2h-2zM111 43h4v2h-4zM42 110h4v2h-4zM147 111h4v2h-4zM7 30h2v2h-2zM34 70h4v3h-4zM42 5h5v3h-5zM4 83h4v2h-4zM6 77h4v2h-4zM32 38h2v2h-2zM129 87h4v2h-4zM39 69h3v3h-3zM44 17h4v3h-4zM114 51h5v2h-5zM77 49h3v2h-3zM141 30h3v3h-3zM22 67h5v3h-5zM24 97h4v3h-4zM156 12h2v3h-2zM82 110h3v3h-3zM137 12h5v2h-5zM107 101h2v2h-2zM14 18h4v3h-4zM95 44h4v2h-4zM116 58h4v2h-4zM77 41h2v3h-2zM14 45h2v3h-2zM141 71h5v3h-5zM70 17h4v3h-4zM21 88h2v3h-2zM10 5h3v3h-3zM105 116h4v2h-4zM63 13h2v2h-2zM0 30h3v3h-3zM2 92h2v2h-2zM96 68h3v2h-3zM135 109h3v2h-3zM71 0h5v3h-5zM77 71h3v3h-3zM93 55h5v2h-5zM33 72h3v3h-3zM125 70h4v2h-4zM86 61h3v2h-3zM145 3h5v3h-5zM31 60h5v2h-5zM145 51h2v2h-2zM66 83h4v2h-4zM113 116h5v2h-5zM135 77h5v3h-5zM55 105h4v3h-4zM105 15h5v2h-5zM138 54h4v2h-4zM56 30h3v2h-3zM5 51h3v3h-3zM14 1h4v3h-4zM143 49h5v3h-5zM120 58h4v2h-4zM102 5h5v3h-5zM157 41h2v3h-2zM125 111h3v2h-3zM69 47h3v2h-3zM1 74h2v3h-2zM99 76h4v3h-4zM84 116h2v3h-2zM36 22h4v3h-4zM118 69h2v2h-2zM128 13h4v2h-4zM55 52h2v3h-2zM64 68h4v3h-4zM136 33h2v2h-2zM147 71h4v2h-4zM4 44h5v3h-5zM75 32h5v2h-5zM12 74h2v3h-2zM141 90h2v2h-2zM152 117h5v2h-5zM136 89h4v2h-4zM25 18h4v3h-4zM115 101h2v3h-2zM136 103h3v2h-3zM121 85h4v3h-4zM143 73h4v3h-4zM6 69h3v2h-3zM112 43h2v2h-2zM105 108h3v3h-3zM49 0h4v3h-4zM32 32h2v2h-2zM1 96h5v2h-5zM81 2h2v3h-2zM67 30h2v3h-2zM115 26h3v2h-3zM27 29h2v2h-2zM112 74h3v2h-3zM111 40h2v3h-2zM102 60h5v2h-5zM97 101h3v3h-3zM137 12h5v2h-5zM143 117h2v3h-2zM18 95h5v2h-5zM32 10h3v3h-3zM120 48h5v3h-5zM127 23h3v3h-3zM140 12h5v3h-5zM95 28h3v3h-3zM114 88h3v2h-3zM111 68h5v3h-5zM58 44h3v2h-3zM18 39h4v2h-4zM46 95h2v3h-2zM0 51h5v3h-5zM133 55h2v2h-2zM134 80h3v2h-3zM88 52h3v2h-3zM91 83h4v2h-4zM51 99h3v3h-3zM82 95h2v2h-2zM76 1h2v2h-2zM99 67h2v2h-2zM91 107h5v3h-5zM36 75h2v3h-2zM118 40h2v2h-2zM5 36h4v3h-4zM4 8h4v3h-4zM1 67h2v3h-2zM122 103h5v2h-5zM68 1h2v2h-2zM136 106h5v2h-5zM56 15h3v3h-3zM132 53h4v2h-4zM21 22h3v2h-3zM44 41h3v2h-3zM15 44h4v3h-4zM128 105h5v2h-5zM77 66h5v2h-5zM86 52h2v2h-2zM59 39h3v3h-3zM99 73h2v3h-2zM145 49h3v3h-3zM24 13h2v2h-2zM124 6h4v2h-4zM52 4h2v2h-2zM144 53h3v2h-3zM68 44h5v2h-5zM117 22h3v3h-3zM130 59h5v3h-5zM55 69h2v3h-2zM77 116h3v3h-3zM138 101h4v2h-4zM28 28h3v2h-3zM41 63h3v2h-3zM138 33h3v2h-3zM52 61h4v3h-4zM62 109h2v3h-2zM106 33h4v2h-4zM82 18h4v3h-4zM152 63h2v3h-2zM20 115h2v2h-2zM52 106h5v3h-5zM31 64h5v2h-5zM1 40h5v2h-5zM154 79h3v2h-3zM4 25h5v2h-5zM29 21h4v2h-4zM29 25h5v3h-5zM50 33h5v3h-5zM106 29h5v2h-5zM105 12h4v3h-4zM41 17h5v2h-5zM36 67h4v2h-4zM136 21h3v3h-3zM47 18h3v2h-3zM120 44h5v2h-5zM56 8h4v2h-4zM24 73h2v2h-2zM94 30h2v2h-2zM95 93h5v3h-5zM143 69h5v3h-5zM76 97h3v2h-3zM42 72h3v2h-3zM59 55h5v3h-5zM18 62h5v2h-5zM68 92h5v3h-5zM67 90h4v3h-4zM114 63h5v2h-5zM120 20h4v2h-4zM26 62h4v3h-4zM18 112h5v2h-5zM113 44h3v3h-3zM135 43h5v3h-5zM117 2h5v2h-5zM72 19h2v3h-2zM82 95h4v3h-4zM154 101h5v3h-5zM33 26h2v2h-2zM102 42h4v2h-4zM144 56h5v2h-5zM85 88h2v2h-2zM136 74h2v2h-2zM95 53h2v3h-2zM96 117h5v3h-5zM70 66h4v2h-4zM124 34h3v2h-3zM140 14h3v3h-3zM19 53h3v3h-3zM30 98h4v2h-4zM126 104h2v3h-2zM20 114h3v3h-3zM65 109h5v3h-5zM32 6h3v3h-3zM146 63h3v2h-3zM122 34h3v2h-3zM27 50h5v2h-5zM130 108h4v2h-4zM74 76h4v2h-4zM42 116h2v3h-2zM157 65h3v2h-3zM120 1h5v2h-5zM137 44h3v2h-3zM13 40h4v3h-4zM58 49h5v2h-5zM39 32h4v3h-4zM63 64h2v2h-2zM42 13h3v3h-3zM82 66h4v3h-4zM47 19h5v2h-5zM3 98h4v3h-4zM16 96h5v2h-5zM41 28h2v3h-2zM60 6h2v2h-2zM19 98h4v2h-4zM25 91h5v3h-5zM138 65h2v2h-2zM148 95h2v3h-2zM23 106h5v3h-5zM30 51h4v2h-4zM13 30h2v3h-2zM85 110h4v2h-4zM121 31h4v2h-4zM54 27h5v2h-5zM156 17h3v2h-3zM19 22h2v2h-2zM53 110h4v3h-4zM86 114h2v2h-2zM46 77h3v2h-3zM129 66h3v3h-3zM25 28h2v2h-2zM20 94h3v2h-3zM64 93h2v3h-2zM91 60h5v3h-5zM17 72h2v2h-2zM94 86h5v2h-5zM147 48h5v3h-5zM13 74h5v2h-5zM3 91h4v3h-4zM129 33h3v2h-3zM119 116h4v3h-4zM29 32h2v3h-2zM136 110h3v2h-3zM127 30h3v3h-3zM64 17h4v3h-4zM63 39h4v3h-4zM6 109h2v2h-2zM113 33h4v3h-4zM96 46h4v2h-4zM117 74h3v2h-3zM55 66h2v2h-2zM77 81h4v2h-4zM141 89h5v3h-5zM4 66h5v3h-5zM8 59h4v3h-4zM100 0h2v3h-2zM50 11h4v3h-4zM91 31h2v3h-2zM100 3h3v2h-3zM152 13h4v3h-4zM98 57h2v2h-2zM11 44h2v2h-2zM139 99h2v2h-2zM22 34h3v2h-3zM87 86h5v3h-5zM148 90h3v2h-3zM30 8h4v2h-4zM155 73h5v2h-5zM84 116h4v2h-4zM11 114h3v3h-3zM26 9h3v2h-3zM125 10h5v3h-5zM138 93h4v2h-4zM138 41h3v3h-3zM56 58h4v3h-4zM78 91h4v3h-4zM40 37h3v2h-3zM97 8h5v3h-5zM15 34h4v3h-4zM21 12h4v2h-4zM82 6h5v2h-5zM53 66h5v3h-5zM120 16h3v2h-3zM29 72h4v3h-4zM32 49h5v3h-5zM97 5h2v3h-2zM94 20h4v2h-4zM72 56h5v2h-5zM154 94h2v2h-2zM138 106h4v3h-4zM2 52h3v3h-3zM142 9h4v3h-4zM111 69h4v3h-4zM13 45h5v2h-5zM136 7h2v2h-2zM57 102h5v3h-5zM5 79h2v3h-2zM154 65h4v3h-4zM25 45h3v2h-3zM138 64h4v2h-4zM62 46h2v3h-2zM153 109h4v2h-4zM54 49h3v2h-3z" fill="#fff"/></pattern>
<pattern id="g25" width="160" height="120" patternUnits="userSpaceOnUse"><path d="M155 47h5v3h-5zM54 1h4v3h-4zM19 24h2v3h-2zM3 24h4v3h-4zM81 71h3v2h-3zM94 105h3v2h-3zM48 70h3v3h-3zM86 8h5v2h-5zM51 37h4v3h-4zM13 7h5v2h-5zM19 74h5v3h-5zM99 46h3v3h-3zM112 70h2v2h-2zM134 88h5v3h-5zM52 18h5v2h-5zM110 5h2v3h-2zM35 109h2v3h-2zM66 64h2v2h-2zM118 55h5v2h-5zM103 102h5v3h-5zM131 24h4v2h-4zM49 92h3v3h-3zM88 86h4v2h-4zM76 117h4v2h-4zM81 68h5v2h-5zM125 52h2v3h-2zM57 58h4v3h-4zM107 10h4v3h-4zM123 18h4v2h-4zM156 23h4v2h-4zM59 102h4v2h-4zM118 18h3v2h-3zM18 86h4v2h-4zM155 97h5v3h-5zM93 60h5v2h-5zM18 11h4v2h-4zM95 39h5v2h-5zM5 26h4v3h-4zM130 30h3v2h-3zM42 107h4v3h-4zM33 24h5v2h-5zM68 79h4v3h-4zM35 54h4v3h-4zM70 25h3v3h-3zM109 73h2v3h-2zM10 106h4v3h-4zM39 71h2v2h-2zM20 19h4v2h-4zM96 23h5v2h-5zM12 29h4v2h-4zM8 65h3v2h-3zM91 14h2v3h-2zM100 90h5v3h-5zM129 70h2v3h-2zM148 112h2v3h-2zM72 23h4v2h-4zM141 85h5v2h-5zM34 94h3v2h-3zM99 2h3v2h-3zM156 14h3v2h-3zM3 52h5v2h-5zM54 106h5v2h-5zM55 15h5v2h-5zM150 74h5v2h-5zM10 89h5v2h-5zM99 88h5v2h-5zM109 73h5v2h-5zM11 50h4v3h-4zM66 63h4v2h-4zM37 43h2v2h-2zM149 58h2v3h-2zM110 83h5v3h-5zM3 30h3v2h-3zM135 107h5v2h-5zM9 112h3v2h-3zM34 47h3v2h-3zM141 46h5v2h-5zM118 23h2v3h-2zM28 99h5v2h-5zM139 61h5v2h-5zM24 78h4v3h-4zM92 95h2v2h-2zM122 18h5v2h-5zM52 42h5v2h-5zM106 38h3v3h-3zM3 53h5v3h-5zM123 55h5v2h-5zM126 98h5v3h-5zM89 36h2v2h-2zM52 8h4v2h-4zM91 19h2v2h-2zM10 85h2v2h-2zM44 85h4v3h-4zM113 71h4v2h-4zM28 84h3v2h-3zM140 57h2v2h-2zM155 67h4v2h-4zM47 10h3v3h-3zM135 53h3v2h-3zM119 97h2v3h-2zM17 79h2v3h-2zM121 9h5v3h-5zM122 107h3v2h-3zM80 93h3v2h-3zM33 25h4v2h-4zM14 20h2v2h-2zM1 89h3v3h-3zM91 40h2v2h-2zM33 44h2v3h-2zM126 99h5v2h-5zM126 117h2v2h-2zM144 85h2v2h-2zM55 41h3v2h-3zM50 42h2v2h-2zM17 98h2v3h-2zM22 46h4v3h-4zM61 89h4v3h-4zM35 28h5v3h-5zM38 80h4v2h-4zM84 0h4v2h-4zM142 95h5v3h-5zM66 116h2v2h-2zM52 20h4v3h-4zM93 95h3v3h-3zM68 70h2v3h-2zM132 63h2v2h-2zM130 116h5v3h-5zM43 104h5v2h-5zM77 33h5v2h-5zM5 9h2v3h-2zM8 102h4v2h-4zM100 115h3v3h-3zM134 85h4v2h-4zM132 65h5v3h-5zM126 108h3v3h-3zM70 88h3v3h-3zM132 0h2v2h-2zM111 26h5v3h-5zM15 9h4v3h-4zM116 105h4v3h-4zM76 102h3v2h-3zM65 65h5v2h-5zM135 57h5v3h-5zM28 11h4v2h-4zM105 13h2v3h-2zM143 82h2v2h-2zM134 115h3v3h-3zM21 74h2v2h-2zM58 16h3v3h-3zM144 22h4v3h-4zM61 117h3v2h-3zM3 71h5v2h-5zM115 85h2v2h-2zM32 44h3v3h-3zM137 49h4v2h-4zM79 84h4v3h-4zM30 23h5v3h-5zM153 47h2v3h-2zM27 61h4v2h-4zM83 58h4v3h-4zM72 36h3v3h-3zM28 69h4v2h-4zM32 90h2v2h-2zM137 40h4v2h-4zM127 8h4v3h-4zM128 1h3v2h-3zM144 87h4v3h-4zM130 42h3v2h-3zM31 89h2v2h-2zM152 102h2v2h-2zM76 14h5v2h-5zM120 5h5v2h-5zM56 16h2v3h-2zM108 82h2v2h-2zM124 29h3v3h-3zM54 49h5v3h-5zM86 113h3v2h-3zM141 68h3v3h-3zM55 66h4v3h-4zM1 50h3v3h-3zM135 65h3v2h-3zM130 88h2v3h-2zM132 1h5v2h-5zM30 95h2v3h-2zM80 36h4v3h-4zM125 37h4v2h-4zM79 47h5v2h-5zM74 106h4v2h-4zM81 88h5v2h-5zM153 53h3v3h-3zM92 59h5v3h-5zM128 98h5v3h-5zM94 17h4v2h-4zM51 40h2v2h-2zM121 63h4v2h-4zM57 31h3v3h-3zM83 35h4v2h-4zM75 115h2v2h-2zM103 18h4v2h-4zM140 29h2v2h-2zM72 110h2v2h-2zM151 82h5v2h-5zM40 23h2v2h-2zM18 5h3v2h-3zM48 109h2v2h-2zM22 36h3v2h-3zM40 85h3v2h-3zM97 79h3v2h-3zM0 69h4v2h-4zM10 4h4v3h-4zM129 94h2v2h-2zM71 88h3v3h-3zM39 16h3v2h-3zM65 20h2v3h-2zM64 5h2v2h-2zM115 1h5v3h-5zM132 16h3v3h-3zM125 4h5v3h-5zM105 26h3v3h-3zM7 28h4v3h-4zM116 28h4v2h-4zM132 27h3v2h-3zM115 21h2v3h-2zM88 108h5v2h-5zM146 23h2v2h-2zM37 96h5v3h-5zM148 73h3v2h-3zM23 33h3v2h-3zM77 81h4v3h-4zM76 99h5v2h-5zM81 68h2v2h-2zM107 92h2v3h-2zM130 75h2v2h-2zM134 26h2v3h-2zM56 111h3v2h-3zM89 71h5v2h-5zM109 94h3v3h-3zM107 7h2v2h-2zM33 103h2v2h-2zM76 73h3v2h-3zM7 66h4v2h-4zM49 51h2v2h-2zM148 61h2v2h-2zM154 23h4v2h-4zM150 70h2v2h-2zM28 30h2v3h-2zM6 77h4v3h-4zM111 38h5v3h-5zM144 50h5v2h-5zM33 13h2v3h-2zM101 94h5v3h-5zM14 91h2v3h-2zM157 29h3v2h-3zM44 39h2v2h-2zM5 112h4v2h-4zM89 78h2v2h-2zM7 4h2v3h-2zM81 19h3v3h-3zM3 66h2v2h-2zM45 72h5v3h-5zM64 23h4v2h-4zM107 59h4v3h-4zM19 72h2v2h-2zM122 46h4v2h-4zM126 31h5v3h-5zM52 106h2v3h-2zM86 33h2v3h-2zM134 45h5v2h-5zM134 107h5v2h-5zM124 42h4v2h-4zM9 70h5v3h-5zM150 58h3v2h-3zM46 118h2v2h-2zM111 46h5v2h-5zM58 75h2v3h-2zM83 118h3v2h-3zM124 97h2v2h-2zM2 89h5v3h-5zM133 62h4v3h-4zM87 88h4v2h-4zM82 62h3v2h-3zM30 53h4v3h-4zM125 14h3v2h-3zM142 63h5v3h-5zM91 66h2v2h-2zM111 24h3v2h-3zM93 22h4v3h-4zM80 43h3v3h-3zM60 11h4v2h-4zM26 25h4v3h-4zM123 53h3v2h-3zM31 56h3v2h-3zM147 74h3v3h-3zM73 17h3v2h-3zM6 19h2v3h-2zM65 24h5v2h-5zM152 66h4v3h-4zM80 85h3v2h-3zM124 13h2v2h-2zM110 3h3v2h-3zM49 74h2v3h-2zM88 13h5v3h-5zM16 68h4v3h-4zM15 76h2v2h-2zM38 10h4v2h-4zM120 15h4v3h-4zM67 57h2v2h-2zM91 79h4v3h-4zM115 90h5v3h-5zM91 43h5v2h-5zM76 98h2v3h-2zM2 22h3v2h-3zM84 58h4v2h-4zM35 62h2v3h-2zM70 83h3v3h-3zM134 66h5v2h-5zM15 97h4v2h-4zM114 2h2v3h-2zM4 31h3v2h-3zM58 67h4v2h-4zM124 4h5v2h-5zM102 83h5v2h-5zM36 87h4v2h-4zM39 105h5v2h-5zM68 117h2v3h-2zM14 67h5v3h-5zM82 69h3v2h-3zM146 77h2v3h-2zM76 87h4v3h-4zM41 67h2v3h-2zM69 96h5v3h-5zM100 78h4v3h-4zM87 29h5v2h-5zM105 3h2v2h-2zM146 104h4v3h-4zM52 75h2v3h-2zM7 8h5v3h-5zM37 22h3v3h-3zM34 34h3v3h-3zM132 18h4v3h-4zM106 84h4v2h-4zM98 45h5v3h-5zM125 83h2v2h-2zM42 57h2v3h-2zM95 14h5v3h-5zM54 80h3v3h-3zM75 34h4v2h-4zM121 37h5v3h-5zM95 75h2v2h-2zM33 46h3v3h-3zM43 64h3v3h-3zM149 86h5v3h-5zM4 14h2v2h-2zM123 17h5v3h-5zM59 46h3v3h-3zM107 89h5v2h-5zM156 19h3v3h-3zM35 117h2v3h-2zM10 97h3v2h-3zM5 13h2v3h-2zM81 0h4v3h-4zM75 46h4v2h-4zM100 46h4v2h-4zM109 75h3v2h-3zM79 103h5v3h-5zM56 109h3v3h-3zM67 54h2v3h-2zM36 117h4v3h-4zM1 43h5v2h-5zM0 19h4v3h-4zM117 37h2v3h-2zM2 86h2v3h-2zM23 19h4v3h-4zM108 63h5v2h-5zM145 62h4v3h-4zM149 99h5v3h-5zM96 0h3v3h-3zM89 109h2v3h-2zM139 36h5v2h-5zM92 92h2v2h-2zM114 53h5v2h-5zM139 112h2v2h-2zM155 63h3v2h-3zM125 103h5v3h-5zM124 80h5v3h-5zM61 98h3v2h-3zM157 76h2v3h-2zM153 86h4v3h-4zM126 74h3v3h-3zM58 0h2v3h-2zM134 9h4v2h-4zM124 49h3v3h-3zM62 46h5v3h-5zM93 117h5v3h-5zM105 26h4v2h-4zM20 101h2v2h-2zM97 115h4v2h-4zM64 15h5v2h-5zM0 96h5v2h-5zM47 6h4v3h-4zM67 77h2v3h-2zM96 25h4v2h-4zM141 89h2v2h-2zM2 67h5v3h-5zM90 116h5v3h-5zM152 22h3v3h-3zM105 73h2v2h-2zM54 39h3v3h-3zM27 4h3v3h-3zM68 40h2v3h-2zM73 8h3v3h-3zM81 45h4v2h-4zM11 54h3v3h-3zM34 108h5v2h-5zM85 8h2v3h-2zM25 20h4v2h-4zM14 11h5v3h-5zM116 74h4v2h-4zM101 107h4v3h-4zM144 86h4v3h-4zM86 55h4v3h-4zM21 45h5v2h-5zM56 36h3v3h-3zM29 79h2v2h-2zM61 82h5v2h-5zM59 71h3v3h-3zM71 50h4v3h-4zM117 80h5v2h-5zM100 67h5v2h-5zM134 62h3v3h-3zM131 50h2v2h-2zM126 32h5v3h-5zM63 63h4v2h-4zM141 112h4v2h-4zM152 12h2v2h-2zM105 13h5v3h-5zM137 110h4v2h-4zM26 104h2v3h-2zM129 6h4v3h-4zM48 57h2v2h-2zM31 71h3v2h-3zM151 7h2v2h-2zM41 87h2v3h-2zM7 12h5v2h-5zM138 40h3v2h-3zM118 64h5v3h-5zM93 11h2v3h-2zM38 108h2v2h-2zM118 103h5v2h-5zM131 112h3v2h-3zM21 17h4v2h-4zM153 92h5v2h-5zM111 4h2v3h-2zM97 6h5v2h-5zM8 32h4v2h-4zM43 39h3v2h-3zM58 88h3v3h-3zM132 13h2v3h-2zM74 97h4v3h-4zM128 34h3v3h-3zM19 87h2v3h-2zM72 46h3v2h-3zM82 71h5v2h-5zM96 71h4v2h-4zM5 108h2v3h-2zM49 102h5v2h-5zM17 39h2v3h-2zM97 53h2v3h-2zM5 23h3v3h-3zM154 41h5v3h-5zM76 87h2v2h-2zM71 16h2v2h-2zM43 110h2v3h-2zM158 35h2v3h-2zM152 64h5v3h-5zM77 102h5v2h-5zM51 95h5v3h-5zM8 83h2v2h-2zM38 82h5v2h-5zM99 1h4v2h-4zM114 64h5v2h-5zM144 115h2v2h-2zM92 25h2v2h-2zM42 17h5v2h-5zM137 54h4v3h-4zM104 90h2v3h-2zM19 21h3v3h-3zM140 60h5v2h-5zM10 27h2v3h-2zM37 80h5v2h-5zM132 70h3v2h-3zM122 50h5v2h-5zM99 112h3v3h-3zM134 65h2v3h-2zM27 79h5v2h-5zM103 57h5v3h-5zM108 10h5v2h-5zM50 101h5v3h-5zM19 33h4v2h-4zM133 96h4v3h-4zM145 101h3v3h-3zM124 16h2v2h-2zM14 97h5v2h-5zM47 71h4v3h-4zM3 42h4v2h-4zM106 94h2v3h-2zM24 23h4v3h-4zM44 18h5v3h-5zM94 88h4v2h-4zM135 117h5v2h-5zM81 53h2v3h-2zM38 97h5v3h-5zM62 93h3v2h-3zM80 86h3v3h-3zM66 58h2v3h-2zM106 16h4v3h-4zM108 66h3v2h-3zM45 37h3v2h-3zM145 107h2v2h-2zM139 87h5v3h-5zM84 2h2v3h-2zM34 13h3v3h-3zM88 86h3v3h-3zM144 25h5v2h-5zM124 97h5v3h-5zM84 67h5v3h-5zM64 114h4v2h-4zM104 86h2v2h-2zM113 56h5v3h-5zM4 43h2v2h-2zM36 104h4v2h-4zM20 28h2v3h-2zM109 27h2v2h-2zM2 73h2v2h-2zM65 59h4v2h-4zM106 75h5v2h-5zM90 56h3v3h-3zM67 95h3v3h-3zM45 44h3v2h-3zM99 60h2v2h-2zM30 23h2v3h-2zM68 116h3v2h-3zM141 69h3v2h-3zM51 113h3v3h-3zM80 25h4v2h-4zM99 59h2v3h-2zM77 20h4v2h-4zM119 64h5v3h-5zM84 60h5v2h-5zM126 23h2v3h-2zM134 92h5v3h-5zM109 52h5v3h-5zM45 32h2v3h-2zM113 56h5v3h-5zM6 95h2v2h-2zM79 112h5v3h-5zM102 72h2v3h-2zM10 111h5v2h-5zM26 74h3v2h-3zM119 108h4v3h-4zM43 56h4v3h-4zM108 13h2v2h-2zM72 0h3v2h-3zM88 12h4v3h-4zM65 69h2v2h-2zM113 48h4v2h-4zM68 8h2v3h-2zM56 104h3v3h-3zM100 93h4v3h-4zM32 87h2v2h-2zM106 85h2v2h-2zM10 67h4v3h-4zM141 52h4v3h-4zM88 30h5v3h-5zM43 59h5v3h-5zM45 54h4v3h-4z" fill="#d3d3d3"/></pattern>
<pattern id="w25" width="160" height="120" patternUnits="userSpaceOnUse"><path d="M93 65h5v3h-5zM87 25h3v3h-3zM57 72h2v2h-2zM35 11h5v2h-5zM111 97h2v3h-2zM94 64h3v3h-3zM98 42h2v2h-2zM111 76h2v3h-2zM94 113h4v2h-4zM152 80h3v3h-3zM34 2h5v3h-5zM64 55h5v3h-5zM155 86h4v3h-4zM0 14h5v3h-5zM113 106h3v2h-3zM113 37h5v3h-5zM0 61h2v2h-2zM82 89h2v3h-2zM146 66h5v2h-5zM60 55h3v3h-3zM26 55h2v3h-2zM54 106h4v2h-4zM70 95h2v3h-2zM6 85h5v2h-5zM154 66h2v3h-2zM21 68h5v2h-5zM83 63h2v3h-2zM21 106h5v2h-5zM2 22h5v2h-5zM118 16h5v3h-5zM84 19h5v3h-5zM42 112h2v2h-2zM28 64h2v3h-2zM47 110h2v3h-2zM24 89h5v2h-5zM112 14h3v3h-3zM38 93h5v2h-5zM56 18h4v3h-4zM151 56h4v2h-4zM112 14h3v2h-3zM34 28h3v2h-3zM149 80h2v2h-2zM68 70h2v2h-2zM98 83h5v2h-5zM144 7h3v3h-3zM116 44h5v2h-5zM35 100h5v2h-5zM132 19h4v3h-4zM125 101h5v2h-5zM64 55h5v3h-5zM72 53h3v2h-3zM70 65h3v3h-3zM120 31h5v3h-5zM75 20h4v3h-4zM112 67h5v2h-5zM138 51h3v3h-3zM100 52h3v2h-3zM47 68h4v3h-4zM154 55h5v2h-5zM39 103h4v2h-4zM33 38h5v3h-5zM78 66h5v2h-5zM34 80h2v3h-2zM85 106h4v3h-4zM49 18h5v3h-5zM114 41h4v3h-4zM118 67h2v3h-2zM5 8h5v2h-5zM114 65h3v2h-3zM48 52h5v3h-5zM135 55h5v3h-5zM118 80h4v2h-4zM131 45h2v3h-2zM107 58h5v2h-5zM59 32h2v2h-2zM152 67h4v3h-4zM62 67h2v2h-2zM78 105h3v3h-3zM105 8h3v2h-3zM89 51h3v2h-3zM94 88h2v3h-2zM109 77h3v2h-3zM60 98h3v3h-3zM3 70h3v2h-3zM54 29h3v3h-3zM26 88h3v3h-3zM111 13h3v3h-3zM125 24h3v3h-3zM125 56h3v2h-3zM60 3h3v3h-3zM156 27h2v3h-2zM66 51h5v3h-5zM54 18h5v3h-5zM82 46h2v2h-2zM94 51h4v3h-4zM18 52h3v2h-3zM59 24h4v3h-4zM33 51h2v2h-2zM6 28h4v2h-4zM13 17h5v3h-5zM43 97h3v2h-3zM14 26h5v3h-5zM117 47h3v3h-3zM94 109h2v2h-2zM41 15h4v3h-4zM39 3h5v3h-5zM58 31h3v3h-3zM32 3h3v3h-3zM107 94h3v3h-3zM24 21h5v3h-5zM72 35h4v2h-4zM108 22h2v2h-2zM62 64h4v3h-4zM54 53h2v2h-2zM44 7h4v3h-4zM107 100h5v3h-5zM146 90h3v3h-3zM21 90h4v2h-4zM118 31h5v3h-5zM90 78h5v2h-5zM148 5h3v3h-3zM138 91h4v2h-4zM97 53h2v2h-2zM151 116h3v3h-3zM155 101h4v3h-4zM30 111h5v2h-5zM140 39h5v3h-5zM154 61h5v2h-5zM149 66h2v3h-2zM4 72h4v3h-4zM59 64h5v3h-5zM157 24h2v3h-2zM34 40h3v3h-3zM14 53h3v3h-3zM152 96h3v2h-3zM51 91h5v2h-5zM137 100h2v3h-2zM151 50h4v3h-4zM148 88h4v3h-4zM125 32h4v3h-4zM7 24h5v3h-5zM93 81h5v2h-5zM152 67h2v2h-2zM0 14h4v2h-4zM70 111h2v3h-2zM109 60h2v2h-2zM119 11h2v3h-2zM154 86h2v2h-2zM89 31h5v3h-5zM34 98h2v3h-2zM117 98h3v3h-3zM87 57h4v3h-4zM95 35h4v2h-4zM44 114h4v3h-4zM77 40h2v3h-2zM153 106h2v2h-2zM5 35h5v3h-5zM74 104h5v3h-5zM27 43h4v3h-4zM67 90h3v2h-3zM80 27h3v3h-3zM2 78h4v2h-4zM142 53h2v2h-2zM120 41h2v2h-2zM55 62h2v3h-2zM10 60h5v2h-5zM139 28h4v2h-4zM43 87h5v2h-5zM115 69h3v3h-3zM85 0h3v3h-3zM132 27h5v2h-5zM136 77h4v3h-4zM144 53h5v2h-5zM92 87h4v3h-4zM98 9h5v2h-5zM94 29h5v3h-5zM141 5h2v2h-2zM72 35h3v3h-3zM95 68h4v2h-4zM134 70h5v3h-5zM140 61h5v2h-5zM47 89h4v2h-4zM22 8h3v2h-3zM10 69h4v2h-4zM146 118h5v2h-5zM128 57h2v2h-2zM110 101h4v2h-4zM140 99h4v2h-4zM99 47h4v2h-4zM8 85h3v3h-3zM64 85h5v2h-5zM105 38h5v2h-5zM63 61h5v3h-5zM57 27h4v2h-4zM135 34h4v2h-4zM25 31h3v2h-3zM150 52h4v3h-4zM42 7h5v2h-5zM128 75h3v2h-3zM73 3h2v3h-2zM124 55h5v3h-5zM23 80h3v3h-3zM141 67h4v3h-4zM93 61h2v3h-2zM78 45h5v2h-5zM141 38h5v2h-5zM106 118h4v2h-4zM110 16h5v2h-5zM143 73h4v3h-4zM49 97h2v2h-2zM9 21h3v2h-3zM128 52h5v2h-5zM154 5h2v2h-2zM129 72h3v2h-3zM66 43h4v3h-4zM85 10h3v3h-3zM57 90h4v3h-4zM102 30h5v2h-5zM42 3h4v3h-4zM99 113h2v2h-2zM103 36h3v2h-3zM87 3h5v3h-5zM135 48h2v2h-2zM8 28h4v2h-4zM79 30h2v2h-2zM90 8h5v2h-5zM76 32h3v3h-3zM2 80h5v2h-5zM28 39h2v2h-2zM82 49h5v2h-5zM130 116h4v3h-4zM31 117h5v3h-5zM130 46h4v3h-4zM65 99h3v2h-3zM27 83h3v2h-3zM129 21h4v3h-4zM133 65h5v3h-5zM61 44h3v3h-3zM79 30h3v3h-3zM109 111h3v2h-3zM132 24h2v2h-2zM28 103h3v3h-3zM123 93h2v2h-2zM103 94h2v2h-2zM146 23h5v3h-5zM21 4h4v2h-4zM111 66h5v3h-5zM81 103h3v3h-3zM51 103h3v2h-3zM150 116h5v2h-5zM86 30h2v3h-2zM69 94h5v3h-5zM108 94h4v3h-4zM76 78h3v2h-3zM133 59h4v3h-4zM35 39h5v3h-5zM135 64h2v3h-2zM58 0h5v3h-5zM71 114h4v3h-4zM109 3h2v3h-2zM13 67h5v2h-5zM70 12h5v2h-5zM152 20h4v3h-4zM149 69h3v2h-3zM53 115h5v3h-5zM87 15h2v2h-2zM26 24h5v2h-5zM120 111h5v2h-5zM152 110h3v3h-3zM149 27h5v3h-5zM73 88h5v2h-5zM59 13h3v3h-3zM64 51h5v3h-5zM111 92h5v3h-5zM101 28h4v3h-4zM118 60h3v2h-3zM121 14h3v2h-3zM66 85h3v3h-3zM84 48h2v3h-2zM54 79h2v3h-2zM151 52h4v2h-4zM108 69h5v3h-5zM118 62h4v3h-4zM144 57h5v3h-5zM120 50h2v2h-2zM20 67h4v2h-4zM107 99h5v3h-5zM2 92h3v2h-3zM102 59h5v3h-5zM62 8h4v2h-4zM71 51h4v2h-4zM2 16h5v3h-5zM96 115h4v3h-4zM28 41h4v3h-4zM141 22h2v2h-2zM13 64h5v3h-5zM77 65h2v2h-2zM153 28h3v3h-3zM98 11h3v2h-3zM58 47h5v3h-5zM69 24h4v3h-4zM97 80h4v3h-4zM133 79h2v2h-2zM39 82h5v3h-5zM96 81h2v2h-2zM16 44h3v2h-3zM151 0h4v3h-4zM31 63h3v2h-3zM112 100h5v2h-5zM12 31h5v2h-5zM78 29h5v2h-5zM74 37h4v2h-4zM98 38h5v3h-5zM95 93h2v2h-2zM10 64h5v2h-5zM14 21h3v3h-3zM20 110h2v2h-2zM74 36h4v3h-4zM53 74h4v3h-4zM0 102h5v2h-5zM141 33h3v3h-3zM1 33h3v3h-3zM146 15h3v2h-3zM89 65h5v3h-5zM14 66h4v3h-4zM32 76h5v3h-5zM20 63h5v3h-5zM114 83h4v2h-4zM22 116h2v2h-2zM101 118h3v2h-3zM152 92h2v2h-2zM111 77h3v3h-3zM22 115h5v2h-5zM44 52h4v2h-4zM14 98h3v2h-3zM144 12h2v2h-2zM41 86h4v3h-4zM119 8h2v3h-2zM56 51h5v2h-5zM68 20h5v2h-5zM13 93h5v3h-5zM57 29h3v3h-3zM18 11h4v3h-4zM6 18h3v3h-3zM78 37h3v3h-3zM148 31h3v3h-3zM106 30h3v2h-3zM62 27h3v3h-3zM95 47h5v2h-5zM135 67h3v3h-3zM152 32h3v2h-3zM47 92h4v3h-4zM10 17h2v2h-2zM147 63h3v2h-3zM94 47h3v2h-3zM70 100h2v2h-2zM74 62h3v2h-3zM121 17h5v3h-5zM153 108h3v3h-3zM118 58h2v3h-2zM138 108h4v3h-4zM3 8h3v3h-3zM60 50h5v3h-5zM35 2h5v2h-5zM41 89h3v3h-3zM0 43h5v3h-5zM43 56h3v3h-3zM17 42h4v3h-4zM117 22h3v3h-3zM89 59h2v2h-2zM85 45h4v2h-4zM0 64h3v2h-3zM151 88h5v3h-5zM21 10h3v3h-3zM79 67h3v2h-3zM90 35h5v2h-5zM37 27h2v2h-2zM62 74h3v3h-3zM27 104h2v3h-2zM22 90h4v2h-4zM82 23h3v3h-3zM23 6h5v3h-5zM71 70h2v3h-2zM48 14h5v2h-5zM50 33h5v2h-5zM0 84h4v2h-4zM129 35h2v3h-2zM42 7h5v2h-5zM79 78h2v2h-2zM10 116h2v2h-2zM141 108h2v2h-2zM53 56h5v2h-5zM67 16h3v3h-3zM53 56h2v2h-2zM30 52h5v3h-5zM150 53h4v2h-4zM105 112h5v2h-5zM29 48h2v3h-2zM56 73h5v2h-5zM3 111h4v3h-4zM145 95h3v2h-3zM52 96h2v2h-2zM73 61h5v2h-5zM62 20h5v3h-5zM76 23h5v2h-5zM15 107h4v2h-4zM66 45h3v3h-3zM77 7h2v3h-2zM122 98h3v2h-3zM87 97h5v2h-5zM148 113h4v2h-4zM110 8h4v2h-4zM84 70h3v3h-3zM144 81h2v2h-2zM131 95h4v2h-4zM51 3h5v3h-5zM47 9h2v3h-2zM61 36h5v2h-5zM34 95h2v2h-2zM64 35h4v2h-4zM126 77h4v2h-4zM136 118h4v2h-4zM22 29h3v3h-3zM81 71h4v2h-4zM87 39h4v2h-4zM105 115h5v2h-5zM53 62h5v3h-5zM12 89h2v2h-2zM152 116h3v3h-3zM54 52h2v2h-2zM49 83h5v2h-5zM149 109h2v2h-2zM14 100h3v3h-3zM93 61h3v2h-3zM18 43h3v3h-3zM5 92h3v3h-3zM108 77h3v3h-3zM44 116h2v2h-2zM59 115h3v2h-3zM90 72h5v2h-5zM54 56h4v3h-4zM1 28h5v3h-5zM27 18h5v2h-5zM18 85h2v2h-2zM83 30h4v2h-4zM143 50h2v2h-2zM78 34h4v3h-4zM150 1h4v2h-4zM16 35h3v3h-3zM1 63h3v2h-3zM18 7h2v3h-2zM52 47h2v2h-2zM54 67h4v2h-4zM9 19h2v3h-2zM62 115h4v2h-4zM57 79h2v2h-2zM12 62h4v3h-4zM67 84h4v3h-4zM46 103h2v3h-2zM11 36h3v3h-3zM123 65h4v3h-4zM153 70h5v3h-5zM117 16h3v3h-3zM62 91h5v2h-5zM142 38h2v3h-2zM133 22h5v3h-5zM107 66h3v2h-3zM7 61h5v2h-5zM51 38h5v3h-5zM78 32h5v2h-5zM57 80h3v3h-3zM29 99h4v2h-4zM0 78h3v2h-3zM128 1h3v2h-3zM115 7h4v2h-4zM67 32h3v2h-3zM64 110h3v3h-3zM69 41h3v2h-3zM103 42h3v2h-3zM3 107h2v2h-2zM46 7h3v3h-3zM62 26h4v3h-4zM69 17h3v3h-3zM72 77h4v3h-4zM119 16h4v2h-4zM114 117h3v3h-3zM140 15h4v2h-4zM50 15h2v2h-2zM66 21h5v3h-5zM113 102h5v3h-5zM153 0h2v2h-2zM59 59h4v2h-4zM101 97h4v2h-4zM23 110h5v3h-5zM111 115h3v2h-3zM34 114h5v3h-5zM62 94h2v3h-2zM76 60h2v3h-2zM111 31h4v2h-4zM36 21h5v2h-5zM65 38h3v2h-3zM141 49h5v3h-5zM87 40h5v2h-5zM113 61h2v2h-2zM126 76h5v3h-5zM147 46h2v2h-2zM33 57h4v3h-4zM32 77h4v3h-4zM131 9h3v2h-3zM106 101h5v3h-5zM112 58h4v3h-4zM22 18h2v3h-2zM135 6h3v2h-3zM115 110h5v2h-5zM139 41h2v2h-2zM99 101h2v3h-2zM37 114h2v2h-2zM41 50h4v2h-4zM63 113h4v2h-4zM46 88h3v2h-3zM139 18h3v2h-3zM57 115h3v2h-3zM60 56h5v2h-5zM122 34h3v2h-3zM55 21h5v3h-5zM82 11h4v2h-4zM54 86h5v2h-5zM79 61h4v2h-4zM102 69h3v3h-3zM134 6h5v3h-5zM46 18h4v2h-4zM84 49h3v3h-3zM51 11h2v2h-2zM149 99h5v3h-5zM82 27h4v3h-4zM40 88h4v2h-4zM74 33h4v3h-4zM46 76h2v2h-2zM59 108h4v3h-4zM63 22h2v3h-2zM60 4h3v2h-3zM108 11h5v3h-5zM57 88h5v3h-5zM5 26h2v3h-2zM103 35h3v2h-3zM62 94h3v3h-3zM112 105h4v3h-4zM139 46h3v3h-3zM156 58h3v2h-3zM57 73h3v2h-3zM77 56h4v3h-4zM112 64h5v3h-5zM94 90h5v3h-5zM119 48h3v3h-3zM70 90h4v2h-4zM27 98h2v3h-2zM88 28h3v3h-3zM149 51h2v3h-2zM113 34h2v3h-2zM59 93h4v3h-4zM143 70h5v3h-5zM71 85h3v3h-3zM144 19h2v3h-2zM25 18h4v3h-4zM98 91h3v2h-3zM96 107h5v2h-5zM9 73h3v3h-3zM153 48h3v3h-3zM26 97h4v3h-4zM65 83h4v2h-4zM12 89h4v2h-4zM47 54h2v2h-2zM102 116h4v3h-4zM144 87h5v3h-5zM62 86h3v3h-3zM30 69h2v2h-2zM78 37h4v2h-4zM45 12h2v3h-2zM16 66h4v2h-4zM16 97h2v3h-2zM61 109h4v3h-4zM152 47h5v3h-5zM73 6h3v3h-3zM7 111h2v3h-2zM49 106h2v3h-2zM16 104h3v2h-3zM142 94h3v2h-3zM77 89h3v2h-3zM50 10h3v2h-3zM17 70h3v3h-3zM43 90h3v3h-3zM86 11h5v2h-5zM97 69h3v3h-3zM76 45h4v2h-4zM141 16h2v3h-2zM114 83h3v3h-3zM22 94h3v3h-3zM51 4h2v3h-2zM133 25h4v2h-4zM81 64h2v2h-2zM147 54h2v2h-2zM79 21h3v2h-3zM87 71h2v3h-2zM49 22h3v3h-3zM30 103h3v2h-3zM31 30h3v2h-3zM106 61h4v3h-4zM37 74h3v3h-3zM98 103h4v3h-4zM1 49h4v2h-4zM21 56h4v3h-4zM48 90h2v3h-2zM97 68h3v3h-3zM104 37h3v3h-3zM110 73h5v2h-5zM116 47h5v3h-5zM127 61h3v2h-3zM117 109h2v3h-2zM38 20h2v2h-2zM77 5h5v3h-5zM23 44h2v3h-2zM153 16h2v2h-2zM136 34h3v2h-3zM127 47h2v2h-2zM57 79h5v2h-5zM124 103h5v3h-5zM91 86h2v2h-2zM12 1h3v3h-3zM149 28h2v2h-2zM153 15h5v3h-5zM127 59h4v3h-4z" fill="#fff"/></pattern>
<pattern id="w10" width="160" height="120" patternUnits="userSpaceOnUse"><path d="M150 90h2v2h-2zM132 95h5v3h-5zM55 85h2v2h-2zM63 41h5v2h-5zM92 79h5v2h-5zM104 40h5v3h-5zM40 100h4v3h-4zM130 76h4v3h-4zM4 46h2v2h-2zM29 2h5v3h-5zM32 69h2v3h-2zM146 52h3v3h-3zM128 19h2v3h-2zM81 4h5v3h-5zM57 63h2v2h-2zM36 10h5v3h-5zM64 26h3v3h-3zM85 46h4v2h-4zM117 30h5v3h-5zM53 60h4v3h-4zM80 114h2v3h-2zM117 76h4v2h-4zM102 29h3v3h-3zM153 85h3v2h-3zM140 101h3v3h-3zM16 33h5v3h-5zM116 109h2v2h-2zM41 27h3v3h-3zM43 19h5v3h-5zM114 93h5v2h-5zM3 49h5v2h-5zM34 41h2v2h-2zM123 71h3v2h-3zM132 88h4v2h-4zM29 30h4v2h-4zM146 94h5v3h-5zM134 57h2v2h-2zM58 67h4v3h-4zM101 51h4v2h-4zM133 80h5v2h-5zM65 0h5v3h-5zM147 89h2v2h-2zM133 34h4v3h-4zM107 57h2v2h-2zM29 76h4v3h-4zM100 19h3v3h-3zM129 81h2v2h-2zM110 118h4v2h-4zM72 71h2v3h-2zM88 57h5v2h-5zM139 113h3v2h-3zM27 71h3v3h-3zM138 106h5v2h-5zM85 38h3v3h-3zM82 37h3v3h-3zM79 13h2v2h-2zM33 67h2v3h-2zM31 86h4v3h-4zM66 33h5v2h-5zM10 3h2v2h-2zM137 31h5v2h-5zM110 2h2v2h-2zM94 63h5v3h-5zM40 77h4v3h-4zM138 67h2v3h-2zM113 67h3v2h-3zM77 40h3v2h-3zM133 64h2v2h-2zM8 27h3v2h-3zM72 110h3v2h-3zM6 4h4v2h-4zM102 13h2v2h-2zM114 41h4v3h-4zM2 88h2v2h-2zM11 117h5v2h-5zM70 60h5v2h-5zM91 81h3v3h-3zM68 23h2v2h-2zM3 96h2v2h-2zM130 26h2v2h-2zM143 109h3v3h-3zM134 28h3v3h-3zM106 83h4v2h-4zM120 101h4v2h-4zM122 113h5v2h-5zM49 41h5v2h-5zM149 1h3v3h-3zM29 38h5v3h-5zM128 14h4v3h-4zM13 42h3v3h-3zM108 117h4v2h-4zM156 54h4v2h-4zM145 103h3v3h-3zM133 53h5v2h-5zM95 22h5v2h-5zM33 83h5v3h-5zM152 56h2v3h-2zM74 80h5v3h-5zM31 83h3v2h-3zM132 51h4v3h-4zM133 14h2v3h-2zM89 4h3v2h-3zM125 1h3v3h-3zM66 69h5v3h-5zM105 76h2v2h-2zM59 29h4v2h-4zM75 62h5v2h-5zM93 32h4v2h-4zM43 94h3v3h-3zM27 65h4v2h-4zM24 47h2v3h-2zM112 96h3v3h-3zM2 99h5v3h-5zM60 113h3v2h-3zM156 91h4v2h-4zM81 33h3v3h-3zM6 38h3v2h-3zM1 30h2v3h-2zM53 61h3v3h-3zM51 39h2v2h-2zM38 26h2v2h-2zM140 47h3v3h-3zM18 60h5v2h-5zM83 58h2v2h-2zM114 80h3v2h-3zM108 59h5v3h-5zM79 43h3v3h-3zM23 25h4v2h-4zM25 4h5v3h-5zM82 107h3v2h-3zM3 58h3v2h-3zM19 18h2v2h-2zM73 86h2v2h-2zM131 103h3v3h-3zM31 48h2v3h-2zM20 29h2v2h-2zM92 115h4v2h-4zM136 60h4v3h-4zM113 32h2v3h-2zM19 46h4v3h-4zM22 93h3v3h-3zM130 7h5v3h-5zM29 42h5v3h-5zM113 39h5v3h-5zM38 108h2v2h-2zM32 95h4v2h-4zM39 28h3v2h-3zM124 4h3v3h-3zM30 34h4v2h-4zM127 90h2v3h-2zM109 63h5v2h-5zM16 2h4v3h-4zM39 26h2v2h-2zM13 54h3v3h-3zM89 8h3v3h-3zM138 108h4v3h-4zM36 102h5v2h-5zM50 15h2v3h-2zM79 111h4v2h-4zM110 24h5v2h-5zM13 55h5v2h-5zM118 64h3v3h-3zM10 69h2v2h-2zM121 53h2v2h-2zM141 37h3v2h-3zM122 21h3v2h-3zM108 117h3v2h-3zM3 118h5v2h-5zM94 84h5v2h-5zM145 34h3v3h-3zM13 51h5v3h-5zM87 112h5v2h-5zM80 113h5v3h-5zM42 13h3v2h-3zM138 8h3v2h-3zM91 28h2v2h-2zM96 47h4v3h-4zM123 29h3v2h-3zM66 77h3v3h-3zM148 45h3v3h-3zM140 104h4v3h-4zM83 103h3v2h-3zM100 103h2v2h-2zM58 47h2v3h-2zM77 62h5v2h-5zM82 18h5v2h-5zM5 112h4v3h-4zM137 108h4v3h-4zM9 71h5v2h-5zM119 96h5v2h-5zM69 83h4v3h-4zM58 42h5v2h-5zM4 80h4v3h-4zM19 43h3v2h-3zM141 118h2v2h-2zM136 40h3v2h-3zM111 34h5v3h-5zM137 74h3v2h-3zM12 79h5v2h-5zM136 37h2v2h-2zM69 59h3v3h-3zM102 77h3v2h-3zM13 44h5v3h-5zM8 50h5v3h-5zM35 4h5v3h-5zM110 2h4v3h-4zM68 15h4v2h-4zM91 60h5v3h-5zM151 16h5v3h-5zM19 105h3v3h-3zM62 13h2v3h-2zM109 61h4v3h-4zM28 9h2v2h-2zM157 100h3v2h-3zM41 56h2v3h-2zM150 62h3v2h-3zM133 91h2v2h-2zM118 97h2v3h-2zM145 7h4v3h-4zM133 70h2v2h-2zM48 96h2v3h-2zM129 96h5v3h-5zM73 4h4v2h-4zM156 24h3v2h-3zM62 84h3v2h-3zM35 67h2v2h-2zM36 82h2v2h-2zM152 2h2v2h-2zM127 19h2v2h-2zM104 6h2v2h-2zM44 104h4v2h-4zM92 18h2v2h-2zM50 91h2v2h-2zM36 84h4v3h-4zM110 74h2v2h-2zM16 38h5v3h-5zM5 49h4v2h-4zM42 8h5v3h-5zM121 17h5v3h-5zM15 17h3v2h-3zM72 98h3v2h-3zM15 103h4v2h-4zM47 52h3v2h-3zM61 19h3v3h-3zM2 13h2v3h-2zM141 24h5v3h-5zM149 89h3v2h-3zM146 117h5v3h-5zM15 27h5v3h-5zM51 25h5v2h-5zM98 56h5v2h-5zM76 78h3v2h-3zM94 81h4v2h-4zM120 79h4v2h-4zM11 57h3v3h-3zM106 102h3v2h-3zM46 27h2v3h-2zM107 7h5v3h-5zM105 42h3v2h-3zM87 59h5v3h-5zM122 53h3v3h-3zM57 103h4v2h-4z" fill="#fff"/></pattern>
<pattern id="c60" width="160" height="120" patternUnits="userSpaceOnUse"><path d="M76 92h7v3h-7zM134 51h4v4h-4zM33 16h5v4h-5zM8 59h5v3h-5zM124 33h8v5h-8zM51 39h5v5h-5zM147 102h2v3h-2zM13 106h5v4h-5zM109 83h2v2h-2zM121 60h8v2h-8zM137 24h5v4h-5zM131 54h6v3h-6zM128 88h2v3h-2zM41 62h2v4h-2zM33 27h4v5h-4zM49 96h4v4h-4zM126 24h2v4h-2zM141 20h7v4h-7zM98 39h6v4h-6zM153 84h3v2h-3zM147 92h4v4h-4zM130 66h8v2h-8zM100 3h8v3h-8zM139 107h4v5h-4zM116 46h6v2h-6zM51 78h3v5h-3zM13 19h5v4h-5zM11 61h5v2h-5zM130 18h4v3h-4zM148 45h3v3h-3zM36 15h8v5h-8zM40 4h8v5h-8zM69 20h6v2h-6zM29 63h7v3h-7zM4 99h6v3h-6zM18 41h3v2h-3zM61 38h8v2h-8zM48 76h3v5h-3zM12 87h4v2h-4zM102 115h3v4h-3zM12 32h3v4h-3zM21 117h7v3h-7zM97 92h7v5h-7zM69 88h7v2h-7zM153 100h3v5h-3zM149 96h5v2h-5zM57 82h6v2h-6zM100 80h4v5h-4zM37 1h8v2h-8zM148 24h4v2h-4zM74 88h8v5h-8zM80 80h4v4h-4zM105 111h3v5h-3zM49 100h6v2h-6zM88 72h2v5h-2zM14 3h3v4h-3zM96 104h5v4h-5zM112 87h5v5h-5zM49 68h5v4h-5zM12 73h7v5h-7zM110 92h3v3h-3zM93 37h2v5h-2zM152 27h2v2h-2zM59 85h8v3h-8zM146 30h3v4h-3zM99 32h3v3h-3zM10 41h3v5h-3zM68 84h8v4h-8zM65 60h2v3h-2zM48 54h4v4h-4zM120 7h8v2h-8zM35 6h5v3h-5zM34 21h2v5h-2zM75 109h4v2h-4zM130 2h5v3h-5zM152 93h8v2h-8zM7 62h7v4h-7zM25 23h3v2h-3zM54 37h7v5h-7zM46 102h2v4h-2zM147 91h2v5h-2zM88 29h4v2h-4zM144 88h8v5h-8zM42 60h2v2h-2zM14 41h7v3h-7zM76 55h4v2h-4zM7 6h7v2h-7zM60 74h5v4h-5zM107 42h2v2h-2zM42 96h7v5h-7zM8 53h2v2h-2zM51 2h4v3h-4zM124 60h8v2h-8zM76 52h7v3h-7zM95 94h4v4h-4zM152 78h8v2h-8zM48 14h4v4h-4zM133 89h5v5h-5zM105 67h3v4h-3zM50 87h7v3h-7zM11 112h7v5h-7zM117 56h3v2h-3zM90 92h6v4h-6zM101 108h6v2h-6zM116 29h2v2h-2zM135 36h3v3h-3zM26 82h6v5h-6zM87 58h2v4h-2zM68 48h2v5h-2zM53 76h4v4h-4zM70 41h5v3h-5zM117 24h4v2h-4zM83 1h6v4h-6zM48 52h2v2h-2zM59 7h7v4h-7zM112 62h7v4h-7zM66 30h7v3h-7zM15 81h5v4h-5zM82 27h2v5h-2zM123 108h4v3h-4zM154 61h5v4h-5zM20 31h7v2h-7zM51 117h6v3h-6zM31 102h8v4h-8zM148 89h4v3h-4zM131 33h3v5h-3zM134 57h6v4h-6zM15 60h5v5h-5zM76 102h3v4h-3zM57 20h3v3h-3zM47 8h6v2h-6zM107 9h6v4h-6zM44 47h8v3h-8zM148 87h5v3h-5zM61 43h7v4h-7zM108 97h8v4h-8zM37 56h8v5h-8zM8 80h3v4h-3zM30 23h7v4h-7zM140 10h3v4h-3zM101 10h7v3h-7zM151 73h2v3h-2zM33 45h6v5h-6zM115 3h4v3h-4zM124 114h4v3h-4zM130 54h4v3h-4zM94 111h4v5h-4zM78 46h3v2h-3zM8 43h7v2h-7zM22 0h4v5h-4zM23 39h3v5h-3zM68 36h6v5h-6zM65 117h4v2h-4zM127 49h3v5h-3zM6 56h7v5h-7zM76 46h5v3h-5zM123 76h6v3h-6zM8 73h6v3h-6zM57 21h8v5h-8zM94 97h4v2h-4zM74 105h3v3h-3zM62 95h4v2h-4zM152 54h2v2h-2zM35 43h2v4h-2zM138 19h5v5h-5zM111 78h7v3h-7zM38 64h5v3h-5zM28 8h3v2h-3zM105 47h6v3h-6zM45 83h2v4h-2zM16 58h7v2h-7zM89 84h4v4h-4zM33 101h7v3h-7zM80 103h5v4h-5zM149 64h4v3h-4zM11 17h4v5h-4zM137 55h4v4h-4zM149 31h2v2h-2zM32 44h2v3h-2zM40 85h6v4h-6zM11 9h4v2h-4zM58 22h3v4h-3zM89 28h7v2h-7zM119 6h8v4h-8zM100 114h7v3h-7zM91 43h7v3h-7zM36 76h7v4h-7zM21 11h5v2h-5zM109 26h8v5h-8zM126 69h4v4h-4zM135 23h8v5h-8zM76 50h8v4h-8zM147 22h3v4h-3zM37 10h4v3h-4zM12 32h4v2h-4zM94 93h5v4h-5zM32 92h2v2h-2zM75 22h5v4h-5zM138 39h5v3h-5zM120 55h3v3h-3zM142 104h3v2h-3zM97 10h5v5h-5zM89 117h7v2h-7zM44 115h2v2h-2zM103 71h5v5h-5zM151 33h6v3h-6zM115 102h2v5h-2zM102 65h8v4h-8zM36 29h2v3h-2zM13 88h2v2h-2zM51 8h4v4h-4zM99 71h4v3h-4zM83 21h6v2h-6zM98 32h5v3h-5zM18 71h2v2h-2zM111 75h4v3h-4zM84 52h5v3h-5zM136 36h3v2h-3zM85 15h4v4h-4zM66 53h7v4h-7zM67 50h2v5h-2zM94 70h7v5h-7zM84 11h7v5h-7zM9 66h4v2h-4zM62 36h2v2h-2zM104 46h5v2h-5zM139 82h2v3h-2zM6 78h7v5h-7zM153 60h6v4h-6zM102 86h3v3h-3zM107 74h4v5h-4zM53 65h6v5h-6zM51 36h4v2h-4zM44 108h5v4h-5zM83 54h2v4h-2zM95 73h5v2h-5zM66 25h7v4h-7zM120 60h2v2h-2zM65 38h8v5h-8zM148 105h3v5h-3zM152 102h3v2h-3zM86 6h3v5h-3zM4 1h5v4h-5zM90 51h5v3h-5zM41 49h6v5h-6zM5 6h6v2h-6zM8 44h2v4h-2zM111 94h3v5h-3zM1 17h3v3h-3zM27 17h7v4h-7zM139 38h4v5h-4zM89 82h7v2h-7zM85 92h6v4h-6zM20 67h4v4h-4zM2 98h8v3h-8zM5 17h6v2h-6zM42 4h6v4h-6zM53 67h3v4h-3zM2 114h5v4h-5zM65 47h4v3h-4zM83 89h8v2h-8zM116 104h3v3h-3zM36 66h2v3h-2zM54 14h6v2h-6zM133 114h3v4h-3zM105 85h5v5h-5zM100 1h7v3h-7zM43 19h6v2h-6zM97 39h7v4h-7zM105 59h8v3h-8zM10 28h7v2h-7zM31 85h6v5h-6zM22 10h3v3h-3zM37 113h5v5h-5zM23 56h6v4h-6zM119 68h2v3h-2zM103 99h6v4h-6zM140 89h5v5h-5zM106 71h8v3h-8zM10 57h3v5h-3zM48 10h3v5h-3zM25 65h6v5h-6zM88 9h6v3h-6zM78 49h3v4h-3zM51 107h6v2h-6zM51 51h2v2h-2zM25 74h8v2h-8zM15 49h8v2h-8zM107 4h5v2h-5zM115 48h4v4h-4zM30 111h4v4h-4zM0 3h5v4h-5zM134 56h4v4h-4zM9 77h5v5h-5zM18 116h8v2h-8zM7 0h7v3h-7zM37 9h3v4h-3zM139 69h8v2h-8zM50 87h5v3h-5zM115 95h5v5h-5zM3 96h3v5h-3zM146 28h5v4h-5zM100 50h4v4h-4zM32 108h2v2h-2zM50 114h2v4h-2zM117 49h5v3h-5zM117 70h7v4h-7zM103 81h5v2h-5zM32 62h6v4h-6zM144 46h7v2h-7zM20 35h8v3h-8zM2 104h5v5h-5zM22 106h3v5h-3zM118 83h4v5h-4zM56 49h7v4h-7zM24 111h8v5h-8zM127 31h4v3h-4zM73 103h3v4h-3zM16 53h8v3h-8zM32 20h6v3h-6zM79 41h2v2h-2zM8 115h4v3h-4zM39 74h7v5h-7zM59 44h3v3h-3zM98 27h6v4h-6zM28 21h7v3h-7zM103 93h7v4h-7zM59 95h5v2h-5zM4 103h7v2h-7zM75 28h4v2h-4zM138 113h2v2h-2zM66 21h6v2h-6zM57 114h8v2h-8zM129 94h6v5h-6zM137 97h5v4h-5zM153 91h2v4h-2zM25 64h7v4h-7zM88 53h3v2h-3zM22 39h5v3h-5zM119 41h5v4h-5zM88 108h8v3h-8zM34 57h3v4h-3zM102 11h2v5h-2zM102 26h3v2h-3zM21 82h8v2h-8zM20 20h5v4h-5zM141 68h3v5h-3zM82 28h7v3h-7zM15 92h3v5h-3zM8 47h3v4h-3zM29 2h2v2h-2zM116 98h6v4h-6zM14 11h5v5h-5zM79 95h4v3h-4zM124 44h6v3h-6zM110 41h8v5h-8zM39 3h4v5h-4zM97 12h5v3h-5zM139 14h7v3h-7zM24 42h6v2h-6zM59 83h3v3h-3zM30 57h5v3h-5zM77 92h6v5h-6zM113 71h3v3h-3zM70 59h3v3h-3zM105 48h3v5h-3zM131 12h6v3h-6zM154 12h6v4h-6zM54 112h4v5h-4zM86 111h6v3h-6zM4 37h3v5h-3zM11 60h4v4h-4zM65 11h5v4h-5zM97 61h8v3h-8zM27 29h5v4h-5zM7 9h3v5h-3zM107 32h5v3h-5zM18 86h3v3h-3zM130 68h8v5h-8zM102 0h3v5h-3zM19 45h4v2h-4zM118 25h8v4h-8zM64 107h6v3h-6zM55 41h8v4h-8zM12 106h3v2h-3zM37 45h5v2h-5zM7 57h4v4h-4zM92 40h5v4h-5zM132 59h8v4h-8zM85 63h6v2h-6zM99 63h7v5h-7zM51 9h8v2h-8zM76 0h6v5h-6zM45 82h5v3h-5zM114 69h3v2h-3zM138 47h2v4h-2zM88 2h2v5h-2zM57 42h8v4h-8zM86 85h4v3h-4zM78 61h4v3h-4zM23 75h2v4h-2zM67 10h6v3h-6zM9 20h3v3h-3zM95 57h8v5h-8zM141 31h6v2h-6zM120 109h7v3h-7zM151 35h4v3h-4zM97 116h8v2h-8zM104 38h5v5h-5zM143 106h8v4h-8zM71 99h3v4h-3zM23 46h5v5h-5zM66 49h6v2h-6zM107 82h5v5h-5zM127 100h8v4h-8zM14 117h4v2h-4zM72 17h7v2h-7zM93 58h7v4h-7zM68 13h6v4h-6zM94 58h5v3h-5zM114 53h2v2h-2zM76 32h5v4h-5zM137 55h4v2h-4zM146 48h3v5h-3zM103 3h8v5h-8zM29 68h5v4h-5zM41 78h8v2h-8zM4 19h6v4h-6zM123 46h8v3h-8zM132 65h8v5h-8zM111 54h7v2h-7zM140 44h2v5h-2zM139 2h8v2h-8zM142 113h7v3h-7zM109 113h5v5h-5zM79 105h5v5h-5zM10 20h6v4h-6zM109 15h8v4h-8zM42 92h4v4h-4zM130 73h6v2h-6zM35 100h8v2h-8zM102 22h6v4h-6zM89 39h5v2h-5zM134 88h5v3h-5zM132 109h2v2h-2zM62 108h7v2h-7zM127 13h4v3h-4zM141 17h2v5h-2zM88 115h7v4h-7zM7 111h2v2h-2zM103 36h3v5h-3zM147 66h4v4h-4zM141 45h4v5h-4zM129 22h5v5h-5zM3 25h4v2h-4zM129 102h6v5h-6zM150 20h5v2h-5zM51 11h5v5h-5zM65 50h8v3h-8zM69 30h5v3h-5zM87 66h2v3h-2zM61 99h4v5h-4zM134 97h8v4h-8zM42 34h8v3h-8zM74 6h7v4h-7zM90 9h4v5h-4zM83 49h8v3h-8zM50 43h3v5h-3zM133 42h8v2h-8zM54 90h7v3h-7zM4 31h5v2h-5zM138 69h5v4h-5zM129 63h5v2h-5zM72 76h8v2h-8zM3 16h2v5h-2zM22 21h4v5h-4zM54 17h3v5h-3zM53 81h4v2h-4zM154 68h5v2h-5zM96 108h7v3h-7zM61 10h7v4h-7zM9 46h7v5h-7zM102 104h7v4h-7zM107 51h8v2h-8zM47 12h6v5h-6zM30 30h6v5h-6zM107 37h3v3h-3zM15 107h2v5h-2zM149 94h7v3h-7zM134 101h3v5h-3zM9 15h3v2h-3zM98 9h2v3h-2zM110 41h4v4h-4zM63 28h3v5h-3zM142 64h8v5h-8zM90 73h5v2h-5zM86 43h6v3h-6zM66 99h4v2h-4zM39 20h4v3h-4zM21 78h3v4h-3zM55 41h8v3h-8zM35 113h6v4h-6zM118 30h2v2h-2zM54 9h6v3h-6zM140 12h3v2h-3zM148 99h3v4h-3zM151 35h6v2h-6zM41 41h3v3h-3zM75 39h8v3h-8zM113 75h3v4h-3zM71 45h6v4h-6zM134 26h2v4h-2zM153 78h4v5h-4zM131 69h7v2h-7zM111 97h4v4h-4zM4 10h7v2h-7zM120 50h8v2h-8zM21 7h6v5h-6zM1 54h7v2h-7zM126 38h3v3h-3zM138 52h7v2h-7zM62 76h2v4h-2zM75 11h8v2h-8zM89 95h6v4h-6zM122 117h3v3h-3zM54 37h4v4h-4zM115 13h2v3h-2zM98 98h2v3h-2zM128 40h4v3h-4zM142 99h6v3h-6zM37 90h8v2h-8zM130 102h6v3h-6zM76 33h6v5h-6zM49 63h3v3h-3zM64 3h7v2h-7zM9 101h8v5h-8zM112 2h6v3h-6zM57 27h3v5h-3zM149 66h3v5h-3zM72 46h4v2h-4zM71 53h4v2h-4zM17 31h4v3h-4zM45 6h8v3h-8zM70 22h5v4h-5zM51 20h4v5h-4zM64 15h5v5h-5zM58 43h6v5h-6zM147 80h4v2h-4zM83 25h6v5h-6zM147 40h8v4h-8zM31 75h7v2h-7zM123 27h8v3h-8zM60 104h7v4h-7zM101 108h7v3h-7zM84 113h8v4h-8zM150 70h8v3h-8zM19 47h4v5h-4zM26 14h5v5h-5zM120 86h2v2h-2zM156 25h2v4h-2zM25 23h3v2h-3zM112 112h2v4h-2zM128 97h3v4h-3zM139 93h8v4h-8zM137 93h8v5h-8zM50 73h6v4h-6zM63 8h8v3h-8zM56 76h4v2h-4zM113 102h8v2h-8zM29 35h3v3h-3zM100 75h5v4h-5zM117 83h5v5h-5zM48 53h3v2h-3zM69 36h6v4h-6zM7 100h3v3h-3zM110 52h7v2h-7zM45 52h3v4h-3zM132 113h4v4h-4zM125 51h7v4h-7zM94 23h7v3h-7zM12 39h5v2h-5zM68 80h7v5h-7zM146 17h2v4h-2zM1 41h3v5h-3zM81 14h4v2h-4zM56 4h8v2h-8zM95 9h7v4h-7zM146 69h5v2h-5zM129 2h3v3h-3zM30 61h7v5h-7zM4 107h3v3h-3zM106 64h8v3h-8zM10 19h3v2h-3zM49 80h6v3h-6zM91 63h3v4h-3zM111 42h6v2h-6zM112 96h7v5h-7zM37 62h5v3h-5zM101 71h3v4h-3zM63 18h2v4h-2zM107 8h6v3h-6zM143 95h6v4h-6zM100 55h3v2h-3zM72 24h7v4h-7zM4 29h2v2h-2zM10 78h5v3h-5zM14 45h3v5h-3zM99 112h3v2h-3zM66 43h8v2h-8zM33 94h6v3h-6zM29 84h6v4h-6zM56 49h3v5h-3zM8 83h3v4h-3zM28 69h7v3h-7zM121 63h3v5h-3zM33 95h4v3h-4zM10 54h3v2h-3zM33 12h3v2h-3zM88 65h7v3h-7zM93 53h8v2h-8zM38 91h2v2h-2zM89 58h5v5h-5zM150 73h2v4h-2zM128 34h5v2h-5zM82 104h6v4h-6zM60 33h4v2h-4zM127 31h6v5h-6zM46 64h4v3h-4zM104 53h6v5h-6zM33 21h4v5h-4zM124 20h2v3h-2zM111 105h2v3h-2zM98 46h3v3h-3zM156 81h4v4h-4zM0 45h4v4h-4zM73 103h5v4h-5zM4 76h4v2h-4zM10 56h6v5h-6zM139 88h2v5h-2zM149 69h8v3h-8zM25 58h6v3h-6zM48 3h5v5h-5zM152 17h8v2h-8zM96 84h7v5h-7zM107 106h4v2h-4zM52 3h7v2h-7zM92 79h2v5h-2zM102 8h4v4h-4zM46 86h3v4h-3zM100 19h2v2h-2zM113 51h8v5h-8zM26 27h3v4h-3zM67 45h7v2h-7zM98 50h3v3h-3zM82 92h5v2h-5zM49 61h7v3h-7zM89 110h7v3h-7zM95 19h3v2h-3zM58 109h6v5h-6zM134 47h4v3h-4zM107 104h8v3h-8zM86 46h5v3h-5zM78 78h8v4h-8zM84 75h3v2h-3zM130 112h8v4h-8zM82 95h8v4h-8zM47 23h8v2h-8zM84 75h8v5h-8zM121 113h2v3h-2zM77 83h7v5h-7zM79 36h2v3h-2zM101 62h4v3h-4zM144 62h7v5h-7zM47 18h7v4h-7zM83 6h8v3h-8zM93 93h5v5h-5zM108 50h4v2h-4zM133 81h4v4h-4zM56 60h8v3h-8zM136 59h8v5h-8zM93 26h7v3h-7zM59 72h4v3h-4zM127 97h8v2h-8zM143 43h6v5h-6zM85 65h8v4h-8zM140 65h8v5h-8zM130 77h7v4h-7zM115 109h6v2h-6zM146 64h5v3h-5zM123 44h2v5h-2zM11 68h5v4h-5zM148 66h4v5h-4zM142 74h5v4h-5zM27 100h6v4h-6zM28 66h2v2h-2zM49 94h6v4h-6zM133 6h2v4h-2zM66 42h7v3h-7zM117 11h4v4h-4zM11 89h6v4h-6zM39 77h7v4h-7zM69 31h3v5h-3zM94 19h5v2h-5zM77 45h6v4h-6zM79 64h4v4h-4zM89 104h5v4h-5zM69 114h3v5h-3zM44 23h8v2h-8zM39 21h3v4h-3zM89 69h3v3h-3zM127 18h8v4h-8zM113 38h8v5h-8zM136 48h7v5h-7zM74 34h6v3h-6zM12 37h6v5h-6zM116 62h7v3h-7zM97 118h5v2h-5zM116 62h4v3h-4zM78 77h7v2h-7zM157 16h2v4h-2zM32 112h2v2h-2zM129 34h3v4h-3zM66 113h3v5h-3zM29 44h2v4h-2zM97 53h2v5h-2zM19 53h4v4h-4zM105 50h2v4h-2zM53 67h8v2h-8zM137 88h6v4h-6zM24 7h3v2h-3zM56 105h6v2h-6zM63 53h8v2h-8zM59 33h5v3h-5zM54 50h4v5h-4zM36 73h2v4h-2zM123 104h3v5h-3zM132 114h2v3h-2zM153 45h4v5h-4zM128 103h5v5h-5zM0 15h5v2h-5zM21 10h7v4h-7zM92 101h6v5h-6zM28 43h2v5h-2zM0 6h6v3h-6zM128 0h8v2h-8zM4 33h6v5h-6zM151 97h2v4h-2zM40 103h4v2h-4zM142 48h4v3h-4zM3 61h4v4h-4zM114 59h3v3h-3zM99 24h2v2h-2zM61 70h4v2h-4zM106 71h7v5h-7zM136 19h2v3h-2zM39 54h2v3h-2zM40 62h3v2h-3zM7 107h2v4h-2zM69 40h5v3h-5zM35 38h4v4h-4zM139 35h6v5h-6zM96 83h3v4h-3zM110 13h2v4h-2zM65 25h8v4h-8zM37 43h3v5h-3zM86 78h6v3h-6zM33 64h7v4h-7zM62 22h2v5h-2zM139 105h8v3h-8zM141 67h7v2h-7zM60 101h2v2h-2zM124 55h8v5h-8zM124 107h3v3h-3zM112 7h7v4h-7zM57 75h3v5h-3zM59 110h7v4h-7zM123 39h3v2h-3zM46 32h4v4h-4zM21 70h3v5h-3zM142 89h8v2h-8zM31 85h7v3h-7zM68 22h4v4h-4zM20 3h6v3h-6zM8 20h6v5h-6z" fill="#00ffff"/></pattern>
</defs>
<clipPath id="cc"><rect x="266" y="100" width="3371.5" height="857"/></clipPath>
<g clip-path="url(#cc)">
<path d="M531.7 841.7L539.5 834.0L551.1 838.8L590.0 840.8L601.6 836.9L615.2 829.1L638.5 834.9L639.5 843.7L531.7 848.5Z" fill="url(#g25)" />
<path d="M701.2 838.8L720.6 833.0L740.0 841.7L763.3 840.8L774.9 841.7L775.9 847.6L698.3 847.6Z" fill="url(#g25)" />
<path d="M807.9 838.8L856.5 837.8L914.7 837.8L959.3 832.0L982.6 839.8L1015.6 843.7L1031.1 853.4L1050.6 864.1L1070.0 877.6L1081.6 891.2L1081.6 897.0L1070.0 885.4L1062.2 877.6L1050.6 871.8L1037.0 867.9L1027.3 858.2L1011.7 850.5L982.6 846.6L959.3 839.8L914.7 844.6L856.5 844.6L807.0 845.6Z" fill="url(#g25)" />
<path d="M3484.3 834.1L3503.4 830.1L3574.1 831.1L3602.3 828.5L3630.6 830.1L3636.7 841.2L3483.7 840.2Z" fill="url(#g25)" />
<path d="M455.1 843.7L485.2 847.6L500.7 844.6L531.7 847.6L539.5 841.7L547.3 845.6L555.0 850.5L590.0 848.5L601.6 845.6L621.0 843.7L638.5 841.7L640.8 858.2L455.1 858.2Z" fill="url(#g70)" />
<path d="M698.3 846.6L740.0 847.6L763.3 845.6L775.9 846.6L776.3 858.2L698.3 858.2Z" fill="url(#g70)" />
<path d="M807.0 845.6L856.5 844.6L914.7 844.6L959.3 839.8L982.6 846.6L1011.7 850.5L1027.3 858.2L1037.0 867.9L1050.6 871.8L1062.2 877.6L1070.0 885.4L1081.6 897.0L1089.4 902.9L1108.8 908.7L1118.5 916.5L1128.2 920.3L1147.6 914.5L1180.6 906.8L1186.4 913.5L1205.8 916.5L1221.4 912.6L1240.0 909.7L1240.0 917.4L1221.4 921.3L1205.8 925.2L1186.4 921.3L1180.6 915.5L1167.0 919.4L1147.6 923.3L1137.9 927.1L1128.2 929.1L1118.5 925.2L1108.8 917.4L1101.0 911.6L1089.4 906.8L1081.6 901.9L1070.0 894.1L1062.2 888.3L1050.6 882.5L1037.0 878.6L1027.3 872.8L1011.7 865.0L982.6 859.2L959.3 855.3L914.7 857.3L856.5 857.3L806.0 859.2Z" fill="url(#g70)" />
<path d="M1220.0 908.7L1239.4 911.6L1278.2 908.7L1324.8 912.6L1324.8 924.2L1220.0 924.2Z" fill="url(#g70)" />
<path d="M2207.7 898.4L2237.5 903.4L2262.4 898.4L2287.2 905.8L2312.0 899.6L2312.0 913.3L2287.2 915.8L2262.4 912.0L2237.5 915.8L2207.7 910.8Z" fill="url(#g70)" />
<path d="M2908.5 886.6L2910.5 872.5L2930.7 868.4L2948.8 861.4L2963.0 863.4L2983.2 863.4L2999.3 867.4L3003.3 878.5L3023.5 879.5L3055.8 878.5L3057.8 886.6Z" fill="url(#g70)" />
<path d="M3092.2 884.6L3094.2 871.5L3112.3 861.4L3128.5 870.5L3130.5 883.6Z" fill="url(#g70)" />
<path d="M2666.2 886.6L2668.3 872.5L2682.4 878.5L2683.4 886.6Z" fill="url(#g70)" />
<path d="M2696.5 886.6L2697.5 871.5L2702.6 872.5L2702.6 886.6Z" fill="url(#g70)" />
<path d="M3136.1 886.6L3148.2 886.6L3148.2 941.1L3136.1 941.1Z" fill="url(#g70)" />
<path d="M3165.3 888.6L3169.4 888.6L3169.4 939.1L3165.3 939.1Z" fill="url(#g70)" />
<path d="M3216.8 884.6L3224.9 884.6L3226.9 912.9L3237.0 918.9L3237.0 941.1L3218.8 941.1Z" fill="url(#g70)" />
<path d="M3311.7 906.8L3327.8 884.6L3329.8 941.1L3313.7 941.1Z" fill="url(#g70)" />
<path d="M3483.7 840.2L3636.7 841.2L3636.7 852.3L3482.8 852.3Z" fill="url(#g50)" />
<path d="M455.1 858.2L485.2 856.3L531.7 858.2L555.0 860.2L590.0 858.2L640.4 858.2L643.3 900.9L646.3 953.3L444.4 953.3L446.3 945.6L455.1 935.9Z" fill="url(#g95)" />
<path d="M685.1 891.2L691.9 900.9L694.8 953.3L671.5 953.3L673.4 924.2L682.2 908.7Z" fill="url(#g95)" />
<path d="M698.3 858.2L775.9 858.2L776.9 881.5L778.8 908.7L780.8 935.9L777.8 953.3L695.4 953.3Z" fill="url(#g95)" />
<path d="M806.0 858.2L856.5 856.3L914.7 856.3L959.3 854.3L982.6 858.2L1011.7 864.1L1027.3 871.8L1037.0 877.6L1050.6 881.5L1062.2 887.3L1070.0 893.2L1081.6 900.9L1089.4 905.8L1101.0 910.6L1108.8 916.5L1118.5 924.2L1128.2 928.1L1137.9 926.2L1147.6 922.3L1167.0 918.4L1180.6 914.5L1186.4 920.3L1205.8 924.2L1221.4 920.3L1240.0 916.5L1264.1 924.2L1264.1 953.3L798.2 953.3L800.2 926.2L803.1 900.9L805.0 873.8Z" fill="url(#g95)" />
<path d="M1220.0 924.2L1324.8 924.2L1324.8 953.3L1220.0 953.3Z" fill="url(#g95)" />
<path d="M1600.4 926.2L1720.0 926.2L1720.0 943.6L1600.4 943.6Z" fill="url(#g95)" />
<path d="M2734.9 887.6L2868.1 887.6L2868.1 925.0L2877.2 925.0L2877.2 887.6L3104.3 885.6L3160.0 883.6L3160.0 957.3L2734.9 957.3Z" fill="url(#g95)" />
<path d="M3482.8 852.3L3636.7 852.3L3636.7 957.3L3461.0 957.3L3461.0 941.1L3471.1 925.0L3477.2 904.8L3479.2 880.6Z" fill="url(#g95)" />
<path d="M1395 957v-48h4v48zM1399 957v-46h4v46zM1403 957v-39h3v39zM1406 957v-35h2v35zM1408 957v-53h3v53zM1411 957v-46h3v46zM1414 957v-42h3v42zM1417 957v-32h2v32zM1424 957v-40h3v40zM1429 957v-24h4v24zM1433 957v-49h3v49zM1436 957v-40h4v40zM1440 957v-43h3v43zM1443 957v-55h2v55zM1445 957v-40h4v40zM1452 957v-35h3v35zM1455 957v-48h3v48zM1461 957v-35h2v35zM1463 957v-28h2v28zM1470 957v-27h4v27zM1474 957v-34h3v34zM1487 957v-33h3v33zM1503 957v-44h2v44zM1508 957v-47h4v47zM1512 957v-50h3v50zM1515 957v-40h3v40zM1518 957v-50h2v50zM1520 957v-36h2v36zM1522 957v-34h2v34zM1524 957v-28h3v28zM1527 957v-43h3v43zM1530 957v-50h3v50zM1536 957v-42h2v42zM1538 957v-64h3v64zM1672 957v-35h3v35zM1681 957v-27h2v27zM1683 957v-35h2v35zM1693 957v-41h4v41zM1697 957v-38h2v38zM1699 957v-35h2v35zM1704 957v-37h3v37zM1710 957v-31h3v31zM1713 957v-26h3v26zM1719 957v-45h4v45zM1723 957v-43h3v43zM1731 957v-28h2v28zM1733 957v-35h4v35zM1737 957v-43h4v43zM1741 957v-28h2v28zM1743 957v-32h2v32zM1745 957v-38h3v38zM1748 957v-36h4v36zM1755 957v-35h3v35zM1760 957v-29h2v29zM1762 957v-44h3v44zM1765 957v-47h2v47zM1767 957v-40h4v40zM1771 957v-41h4v41zM1775 957v-41h3v41zM1778 957v-48h2v48zM1780 957v-45h3v45zM1783 957v-26h2v26zM1796 957v-25h2v25zM1798 957v-52h3v52zM1805 957v-44h4v44zM1809 957v-33h4v33zM1813 957v-49h3v49zM1816 957v-52h3v52zM1819 957v-29h3v29zM1822 957v-31h3v31zM1825 957v-27h2v27zM1827 957v-54h4v54zM1835 957v-53h4v53zM1839 957v-41h3v41zM1842 957v-30h4v30zM1851 957v-41h2v41zM1853 957v-42h3v42zM1861 957v-46h4v46zM1865 957v-53h3v53zM1868 957v-53h3v53zM1871 957v-50h3v50zM1874 957v-38h3v38zM1889 957v-42h3v42zM1892 957v-48h3v48zM1895 957v-50h2v50zM1897 957v-45h3v45zM1903 957v-32h4v32zM1907 957v-36h4v36zM1914 957v-35h2v35zM1918 957v-44h3v44zM1921 957v-32h3v32zM1924 957v-45h3v45zM1931 957v-55h3v55zM1936 957v-38h4v38zM1943 957v-37h3v37zM1949 957v-43h4v43zM1548 957v-41h3v41zM1551 957v-36h4v36zM1555 957v-37h2v37zM1557 957v-22h3v22zM1560 957v-39h2v39zM1564 957v-14h2v14zM1566 957v-12h4v12zM1570 957v-18h4v18zM1585 957v-37h2v37zM1590 957v-25h2v25z" fill="#d3d3d3"/>
<path d="M455.1 856.2L485.2 854.3L531.7 856.2L555.0 858.2L590.0 856.2L640.4 856.2L640.4 874.2L590.0 874.2L555.0 876.2L531.7 874.2L485.2 872.3L455.1 874.2Z" fill="url(#w25)" />
<path d="M455.1 874.2L485.2 872.3L531.7 874.2L555.0 876.2L590.0 874.2L640.4 874.2L640.4 898.2L590.0 898.2L555.0 900.2L531.7 898.2L485.2 896.3L455.1 898.2Z" fill="url(#w10)" />
<path d="M698.3 856.2L775.9 856.2L775.9 874.2L698.3 874.2Z" fill="url(#w25)" />
<path d="M698.3 874.2L775.9 874.2L775.9 898.2L698.3 898.2Z" fill="url(#w10)" />
<path d="M806.0 856.2L856.5 854.3L914.7 854.3L959.3 852.3L982.6 856.2L1011.7 862.1L1027.3 869.8L1037.0 875.6L1050.6 879.5L1062.2 885.3L1070.0 891.2L1081.6 898.9L1089.4 903.8L1101.0 908.6L1108.8 914.5L1118.5 922.2L1128.2 926.1L1137.9 924.2L1147.6 920.3L1167.0 916.4L1180.6 912.5L1186.4 918.3L1205.8 922.2L1221.4 918.3L1240.0 914.5L1264.1 922.2L1264.1 940.2L1240.0 932.5L1221.4 936.3L1205.8 940.2L1186.4 936.3L1180.6 930.5L1167.0 934.4L1147.6 938.3L1137.9 942.2L1128.2 944.1L1118.5 940.2L1108.8 932.5L1101.0 926.6L1089.4 921.8L1081.6 916.9L1070.0 909.2L1062.2 903.3L1050.6 897.5L1037.0 893.6L1027.3 887.8L1011.7 880.1L982.6 874.2L959.3 870.3L914.7 872.3L856.5 872.3L806.0 874.2Z" fill="url(#w25)" />
<path d="M806.0 874.2L856.5 872.3L914.7 872.3L959.3 870.3L982.6 874.2L1011.7 880.1L1027.3 887.8L1037.0 893.6L1050.6 897.5L1062.2 903.3L1070.0 909.2L1081.6 916.9L1089.4 921.8L1101.0 926.6L1108.8 932.5L1118.5 940.2L1128.2 944.1L1137.9 942.2L1147.6 938.3L1167.0 934.4L1180.6 930.5L1186.4 936.3L1205.8 940.2L1221.4 936.3L1240.0 932.5L1264.1 940.2L1264.1 964.2L1240.0 956.5L1221.4 960.3L1205.8 964.2L1186.4 960.3L1180.6 954.5L1167.0 958.4L1147.6 962.3L1137.9 966.2L1128.2 968.1L1118.5 964.2L1108.8 956.5L1101.0 950.6L1089.4 945.8L1081.6 940.9L1070.0 933.2L1062.2 927.3L1050.6 921.5L1037.0 917.6L1027.3 911.8L1011.7 904.1L982.6 898.2L959.3 894.3L914.7 896.3L856.5 896.3L806.0 898.2Z" fill="url(#w10)" />
<path d="M3482.8 850.3L3636.7 850.3L3636.7 868.3L3482.8 868.3Z" fill="url(#w25)" />
<path d="M3482.8 868.3L3636.7 868.3L3636.7 892.3L3482.8 892.3Z" fill="url(#w10)" />
<path d="M2734.9 885.6L3160.0 882.6L3160.0 900.6L2734.9 903.6Z" fill="url(#w25)" />
<path d="M2734.9 903.6L3160.0 900.6L3160.0 924.6L2734.9 927.6Z" fill="url(#w10)" />
<path d="M486.1 850.7L489.5 850.7L489.5 847.3L492.9 847.3L492.9 846.2L496.8 846.2L496.8 843.4L500.7 843.4L500.7 844.4L502.6 844.4L502.6 845.9L504.6 845.9L504.6 849.7L507.5 849.7L507.5 846.1L510.4 846.1L510.4 843.4L513.0 843.4L513.0 845.3L515.6 845.3L515.6 848.0L518.2 848.0L518.2 849.1L522.0 849.1L521.2 851.4L521.2 854.8L523.8 854.8L523.8 858.2L525.9 857.3L528.8 857.3L528.8 859.7L531.7 859.7L531.7 864.7L535.6 864.7L535.6 863.3L539.5 863.3L539.5 863.7L543.4 863.7L543.4 866.4L547.3 866.4L547.5 866.0L547.5 869.9L549.7 869.9L549.7 873.8L547.4 873.8L547.4 877.0L553.7 877.0L553.7 880.2L554.2 880.2L554.2 883.5L556.2 883.5L556.2 887.3L554.9 887.3L554.9 891.2L556.0 892.4L558.9 892.4L558.9 895.1L561.8 895.1L561.8 886.2L564.7 886.2L564.7 887.8L567.6 887.8L567.6 885.8L570.6 885.8L570.8 883.5L570.8 887.3L572.7 887.3L572.7 891.2L574.4 890.3L571.1 890.3L571.1 889.8L567.8 889.8L567.8 893.4L564.5 893.4L564.5 892.5L561.1 892.5L561.1 889.0L557.8 889.0L557.8 893.8L554.5 893.8L554.5 891.8L551.1 891.8L551.1 891.7L548.0 891.7L548.0 892.8L544.8 892.8L544.8 893.6L541.7 893.6L541.7 894.7L538.5 894.7L538.5 893.6L535.4 893.6L535.4 893.0L532.2 893.0L532.2 890.9L529.1 890.9L529.1 893.1L525.9 893.1L525.9 891.5L522.8 891.5L522.8 891.1L519.6 891.1L519.6 889.6L516.5 889.6L516.5 889.4L513.3 889.4L513.3 890.1L510.1 890.1L510.1 891.2L507.0 891.2L507.0 891.0L503.8 891.0L503.8 891.6L500.7 891.6L500.7 890.5L498.9 890.5L498.9 888.2L497.0 888.2L497.0 885.9L495.2 885.9L495.2 880.7L493.4 880.7L493.4 880.3L491.6 880.3L491.6 875.3L489.8 875.3L489.8 874.7L487.9 874.7L487.9 869.8L486.1 869.8L485.5 867.9L485.5 864.9L486.0 864.9L486.0 861.8L485.1 861.8L485.1 858.7L485.2 858.7L485.2 855.6L486.4 855.6L486.4 852.6L485.2 852.6L485.2 849.5Z" fill="#ffb6c1" />
<path d="M456.0 842.0L459.9 842.0L459.5 841.7L459.5 845.0L465.0 845.0L465.0 848.3L461.2 848.3L461.2 851.6L461.9 851.6L461.9 854.9L461.9 854.9L461.9 858.2L460.9 860.7L457.0 860.7L457.4 858.2L457.4 854.9L456.1 854.9L456.1 851.6L455.4 851.6L455.4 848.3L457.9 848.3L457.9 845.0L456.1 845.0L456.1 841.7Z" fill="#ffb6c1" />
<path d="M3043.7 888.2L3047.1 888.2L3047.1 888.4L3050.4 888.4L3050.4 889.7L3053.8 889.7L3053.8 889.6L3057.2 889.6L3057.2 889.0L3060.5 889.0L3060.5 890.5L3063.9 890.5L3064.2 888.6L3064.2 891.7L3064.3 891.7L3064.3 894.7L3065.4 894.7L3065.4 897.7L3067.7 897.7L3067.7 900.7L3067.9 901.5L3064.9 901.5L3064.9 900.9L3061.9 900.9L3061.9 905.1L3059.1 905.1L3059.1 905.6L3056.2 905.6L3056.2 903.9L3053.4 903.9L3053.4 901.4L3050.6 901.4L3050.6 900.5L3047.8 900.5L3047.3 896.7L3047.3 893.2L3046.1 893.2L3046.1 889.6Z" fill="#ffb6c1" />
<path d="M3082.1 898.6L3085.2 898.6L3085.2 901.9L3088.4 901.9L3088.4 901.6L3091.6 901.6L3091.6 901.3L3094.8 901.3L3094.8 898.6L3097.9 898.6L3097.9 900.6L3101.1 900.6L3101.1 897.0L3104.3 897.0L3102.8 898.7L3102.8 902.3L3102.9 902.3L3102.9 905.8L3103.1 905.8L3103.1 909.3L3104.0 909.3L3104.0 912.9L3104.3 912.0L3101.2 912.0L3101.2 906.7L3098.2 906.7L3098.2 913.9L3095.2 913.9L3095.2 912.0L3092.2 912.0L3092.2 913.6L3089.5 913.6L3089.5 914.5L3086.8 914.5L3086.8 909.5L3084.1 909.5L3084.9 908.8L3084.9 905.8L3082.2 905.8L3082.2 902.8L3081.3 902.8L3081.3 899.7Z" fill="#ffb6c1" />
<path d="M267.9 953.3L267.9 949.0L268.3 949.0L268.3 944.6L268.7 939.6L273.1 939.6L273.1 943.3L277.5 943.3L277.5 944.8L280.1 944.8L280.1 939.2L282.6 939.2L282.6 938.4L285.2 938.4L285.2 934.5L289.1 934.5L289.1 939.1L292.0 939.1L292.0 940.8L294.9 940.8L294.9 938.9L297.8 938.9L297.8 935.5L300.8 935.5L300.8 936.9L304.6 936.9L304.6 936.7L308.5 936.7L308.5 935.4L312.4 935.4L312.4 935.3L316.3 935.3L316.3 934.4L320.2 934.4L320.2 937.1L324.1 937.1L324.1 940.4L327.0 940.4L327.0 943.3L329.9 943.3L329.9 941.7L333.1 941.7L333.1 943.9L336.3 943.9L336.3 943.8L339.6 943.8L339.6 944.7L342.5 944.7L342.5 941.0L345.4 941.0L345.4 941.5L349.3 941.5L349.3 938.3L353.2 938.3L353.2 936.9L357.0 936.9L357.0 939.5L360.9 939.5L360.9 938.5L364.8 938.5L364.8 939.7L368.7 939.7L368.7 938.4L372.6 938.4L372.6 938.6L376.5 938.6L376.5 939.0L380.3 939.0L380.3 928.3L384.2 928.3L384.2 939.7L388.1 939.7L388.1 934.0L386.2 934.0L386.2 930.2L384.2 930.2L384.2 929.0L381.8 929.0L381.8 928.8L379.4 928.8L380.9 924.2L380.9 919.4L377.4 917.2L379.7 917.2L379.7 917.6L382.0 917.6L382.0 912.9L384.2 912.9L384.2 908.6L387.5 908.6L387.5 911.9L390.7 911.9L390.7 911.9L393.9 911.9L393.9 911.3L396.4 911.3L396.4 914.6L398.8 914.6L398.8 915.6L400.4 915.6L400.4 913.3L402.0 913.3L402.0 916.0L403.6 916.0L403.6 906.4L406.5 906.4L407.3 905.8L407.3 902.9L404.6 902.9L404.6 900.0L405.3 900.0L405.3 897.0L402.7 896.4L400.4 896.4L400.4 888.4L398.1 888.4L398.1 892.1L395.9 892.1L395.6 887.3L395.6 884.1L393.7 884.1L393.7 880.9L394.6 880.9L394.6 877.6L393.3 877.6L393.3 873.8L392.9 873.8L392.9 869.9L392.3 869.9L392.3 866.0L393.0 867.2L395.9 867.2L395.9 863.3L398.8 863.3L398.8 872.0L403.6 872.0L403.6 872.4L408.5 872.4L408.5 866.8L411.9 866.8L411.9 865.0L415.3 865.0L415.3 863.6L418.2 863.6L418.2 861.6L421.1 861.6L421.1 861.0L425.0 861.0L425.0 864.0L427.9 864.0L427.9 858.7L430.8 858.7L430.6 857.3L430.6 853.7L432.2 853.7L432.2 850.1L431.9 850.1L431.9 846.6L431.2 846.6L431.2 843.7L437.0 843.7L437.0 840.8L433.3 840.8L433.3 837.8L435.7 839.2L439.5 839.2L439.5 836.1L443.4 836.1L443.4 837.9L447.3 837.9L447.4 837.8L447.4 841.7L449.7 841.7L449.7 845.6L451.2 847.3L453.1 847.3L453.1 849.9L455.1 849.9L455.1 851.6L459.9 851.6L460.9 848.5L460.9 844.6L461.9 844.6L461.9 840.8L460.3 840.8L460.3 836.9L462.2 836.9L462.2 840.1L462.6 840.1L462.6 843.3L462.9 843.3L462.9 846.6L464.8 847.1L467.7 847.1L467.7 845.3L470.6 845.3L470.6 840.6L473.5 840.6L474.3 839.8L474.3 843.2L476.2 843.2L476.2 846.6L477.4 845.6L480.3 845.6L480.3 846.0L483.2 846.0L483.2 849.4L486.1 849.4L486.2 849.5L486.2 853.0L485.9 853.0L485.9 856.5L486.4 856.5L486.4 860.0L486.4 860.0L486.4 863.5L486.3 863.5L486.3 867.0L487.1 865.2L490.3 865.2L490.3 868.7L493.4 868.7L493.4 865.7L496.6 865.7L496.6 866.7L499.7 866.7L499.1 868.9L499.1 872.0L498.9 872.0L498.9 875.1L500.1 875.1L500.1 878.1L501.4 878.1L501.4 881.2L501.0 881.2L501.0 884.3L499.7 884.3L499.7 887.3L500.7 889.1L504.6 889.1L504.6 890.3L508.4 890.3L508.4 885.0L512.3 885.0L512.3 886.2L515.6 886.2L515.6 884.0L518.8 884.0L518.8 886.6L522.0 886.6L522.0 887.7L525.3 887.7L525.3 888.5L528.5 888.5L528.5 893.0L531.7 893.0L531.7 894.5L535.6 894.5L535.6 894.5L539.5 894.5L539.5 894.1L543.4 894.1L543.4 891.6L546.3 891.6L546.3 891.0L549.2 891.0L549.2 889.1L552.1 889.1L552.1 887.0L555.0 887.0L555.0 889.1L558.9 889.1L558.9 884.0L562.8 884.0L562.8 882.9L565.7 882.9L565.7 889.5L568.6 889.5L568.6 889.2L571.5 889.2L571.5 891.6L574.4 891.6L574.4 893.4L577.6 893.4L577.6 894.5L580.7 894.5L580.7 883.3L583.9 883.3L583.9 893.2L587.1 893.2L587.1 893.9L590.2 893.9L590.2 891.8L593.4 891.8L593.4 890.9L596.5 890.9L596.5 890.6L599.7 890.6L598.6 891.2L598.6 894.7L601.1 894.7L601.1 898.2L600.0 898.2L600.0 901.7L602.3 901.7L602.3 905.2L600.1 905.2L600.1 908.7L600.5 908.7L600.5 912.6L604.2 912.6L604.2 916.5L605.9 916.5L605.9 919.9L607.0 919.9L607.0 923.3L605.5 923.0L602.6 923.0L602.6 922.2L599.7 922.2L599.7 921.6L596.8 921.6L596.8 921.4L593.9 921.4L593.9 919.3L590.9 919.3L590.9 923.2L588.0 923.2L588.0 923.1L585.1 923.1L585.1 931.2L582.2 931.2L582.2 928.5L579.8 928.5L579.8 926.8L577.4 926.8L577.4 930.1L574.9 930.1L574.9 929.7L572.5 929.7L572.2 933.9L572.2 937.8L571.7 937.8L571.7 941.7L568.6 942.5L565.7 942.5L565.7 944.9L562.8 944.9L562.8 945.7L559.9 945.7L559.9 945.2L558.2 945.2L558.2 943.4L556.5 943.4L556.5 942.7L554.8 942.7L554.8 939.1L553.1 939.1L554.0 935.9L554.0 938.8L553.4 938.8L553.4 941.7L550.7 941.7L550.7 944.6L547.5 944.6L547.5 947.5L547.3 946.5L543.4 946.5L543.4 946.9L539.5 946.9L539.5 946.0L536.9 946.0L536.9 940.2L534.3 940.2L534.3 940.1L531.7 940.1L531.7 936.5L529.3 936.5L529.3 937.4L526.9 937.4L525.8 933.9L525.8 937.0L524.1 937.0L524.1 940.1L522.9 940.1L522.9 943.2L524.3 943.2L524.3 946.4L521.6 946.4L521.6 949.5L520.1 950.1L516.2 950.1L516.2 952.6L512.3 952.6L512.3 954.6L508.9 954.6L508.9 954.4L505.5 954.4L505.5 950.0L502.1 950.0L502.1 949.4L498.7 949.4L498.7 953.8L495.8 953.8L495.8 948.2L492.9 948.2L492.9 945.3L489.5 945.3L489.5 947.7L486.1 947.7L485.1 944.6L485.1 949.0L485.7 949.0L485.7 953.3L486.1 949.9L483.1 949.9L483.1 953.3L480.1 953.3L480.1 952.5L477.1 952.5L477.1 954.7L474.0 954.7L474.0 952.8L471.0 952.8L471.0 953.0L468.0 953.0L468.0 954.5L465.0 954.5L465.0 951.3L462.0 951.3L462.0 954.8L459.0 954.8L459.0 951.9L455.9 951.9L455.9 953.6L452.9 953.6L452.9 952.9L449.9 952.9L449.9 952.3L446.9 952.3L446.9 949.8L443.9 949.8L443.9 951.8L440.8 951.8L440.8 953.8L437.8 953.8L437.8 954.4L434.8 954.4L434.8 953.6L431.8 953.6L431.8 955.4L428.8 955.4L428.8 951.5L425.7 951.5L425.7 952.7L422.7 952.7L422.7 951.6L419.7 951.6L419.7 952.2L416.7 952.2L416.7 952.7L413.7 952.7L413.7 951.8L410.6 951.8L410.6 951.7L407.6 951.7L407.6 951.4L404.6 951.4L404.6 955.8L401.6 955.8L401.6 956.8L398.6 956.8L398.6 954.8L395.5 954.8L395.5 951.4L392.5 951.4L392.5 951.2L389.5 951.2L389.5 954.0L386.5 954.0L386.5 953.7L383.5 953.7L383.5 952.1L380.4 952.1L380.4 950.9L377.4 950.9L377.4 955.6L374.4 955.6L374.4 953.0L371.4 953.0L371.4 954.3L368.4 954.3L368.4 952.5L365.4 952.5L365.4 952.6L362.3 952.6L362.3 953.4L359.3 953.4L359.3 955.3L356.3 955.3L356.3 953.3L353.3 953.3L353.3 951.1L350.3 951.1L350.3 951.8L347.2 951.8L347.2 951.5L344.2 951.5L344.2 954.4L341.2 954.4L341.2 953.3L338.2 953.3L338.2 953.2L335.2 953.2L335.2 955.6L332.1 955.6L332.1 954.3L329.1 954.3L329.1 953.2L326.1 953.2L326.1 954.3L323.1 954.3L323.1 954.8L320.1 954.8L320.1 952.0L317.0 952.0L317.0 954.8L314.0 954.8L314.0 950.9L311.0 950.9L311.0 955.3L308.0 955.3L308.0 953.7L305.0 953.7L305.0 953.5L301.9 953.5L301.9 952.5L298.9 952.5L298.9 953.1L295.9 953.1L295.9 951.0L292.9 951.0L292.9 951.9L289.9 951.9L289.9 954.8L286.9 954.8L286.9 953.8L283.8 953.8L283.8 953.5L280.8 953.5L280.8 949.2L277.8 949.2L277.8 953.4L274.8 953.4L274.8 953.9L271.8 953.9L271.8 951.7L268.7 951.7Z" fill="#00ffff" />
<path d="M329.9 846.9L334.7 846.9L333.3 847.6L333.3 850.5L335.4 850.5L335.4 853.4L337.6 853.4L337.6 857.7L337.2 857.7L337.2 862.1L336.7 864.0L333.8 864.0L333.2 862.1L333.2 859.2L332.7 859.2L332.7 856.3L331.8 849.7L328.9 849.7L327.4 853.4L327.4 849.5L330.8 849.5L330.8 845.6Z" fill="#00ffff" />
<path d="M350.3 850.0L352.7 850.0L352.7 855.6L355.1 855.6L355.1 854.2L358.0 854.2L358.0 854.7L360.9 854.7L359.8 853.4L359.8 856.8L362.6 856.8L362.6 860.2L364.8 859.3L366.8 859.3L366.8 860.7L368.7 860.7L365.7 866.0L365.7 869.4L368.8 869.4L368.8 872.8L367.7 871.7L365.3 871.7L365.3 871.4L362.9 871.4L362.9 872.1L360.0 872.1L360.0 871.2L357.0 871.2L357.0 870.7L354.1 870.7L354.1 874.6L351.2 874.6L351.9 875.7L351.9 872.4L346.9 872.4L346.9 869.0L354.9 869.0L354.9 865.7L351.9 865.7L351.9 862.4L350.7 862.4L350.7 859.1L349.1 859.1L349.1 855.7L349.4 855.7L349.4 852.4Z" fill="#00ffff" />
<path d="M649.4 953.3L649.4 950.4L650.1 952.3L653.4 952.3L653.4 950.0L656.6 950.0L656.6 948.4L659.8 948.4L659.8 951.9L662.8 951.9L662.8 948.5L665.7 948.5L665.7 947.4L669.5 947.4L669.5 946.0L673.4 946.0L673.4 947.5L676.3 947.5L676.3 948.4L679.3 948.4L678.6 951.4L678.6 953.3L680.2 954.1L677.1 954.1L677.1 955.5L674.0 955.5L674.0 952.8L670.9 952.8L670.9 954.8L667.8 954.8L667.8 952.2L664.7 952.2L664.7 954.7L661.6 954.7L661.6 952.5L658.5 952.5L658.5 951.2L655.4 951.2L655.4 952.9L652.3 952.9L652.3 953.8L649.2 953.8Z" fill="#00ffff" />
<path d="M699.0 541.4L702.3 541.4L702.3 540.5L705.6 540.5L705.6 543.0L708.9 543.0L710.2 542.4L710.2 545.5L709.6 544.6L712.7 544.6L712.7 544.4L715.8 544.4L715.8 543.7L718.9 543.7L718.9 547.9L722.0 547.9L722.0 547.7L725.1 547.7L725.1 546.6L728.2 546.6L728.2 546.4L731.3 546.4L731.3 544.1L734.4 544.1L734.4 548.1L737.5 548.1L737.5 548.1L740.6 548.1L740.6 546.7L743.7 546.7L743.7 547.0L746.8 547.0L746.8 547.7L749.9 547.7L749.9 547.8L753.0 547.8L753.0 547.6L756.1 547.6L756.1 544.6L759.3 544.6L759.3 547.5L762.4 547.5L762.4 545.9L765.5 545.9L766.5 546.1L766.5 542.4L766.1 543.2L771.7 543.2L771.7 541.2L774.2 541.2L774.2 547.9L776.6 547.9L775.3 548.6L775.3 552.9L776.2 552.9L776.2 557.3L778.6 557.3L778.6 560.7L777.3 560.7L777.3 564.2L778.6 564.2L778.6 567.7L778.5 567.7L778.5 571.2L778.7 571.2L778.7 574.7L779.9 574.7L779.9 579.0L779.0 579.0L779.0 583.4L779.1 583.3L782.9 583.3L782.9 581.9L786.6 581.9L786.6 579.8L790.3 579.8L790.3 579.0L794.0 579.0L793.5 575.9L793.5 580.9L796.5 580.1L792.8 580.1L792.8 581.0L789.1 581.0L788.6 584.6L788.6 587.7L789.1 584.6L792.8 584.6L792.8 586.1L796.5 586.1L796.5 588.7L800.2 588.7L800.2 585.1L804.0 585.1L804.0 583.7L807.7 583.7L807.7 581.3L811.4 581.3L811.4 578.7L814.5 578.7L814.5 577.9L817.6 577.9L817.6 575.8L822.6 575.8L822.6 570.9L826.3 570.9L826.3 570.6L830.1 570.6L830.1 573.4L833.8 573.4L832.9 573.4L832.9 570.3L835.2 570.3L835.2 567.2L834.4 567.2L834.4 564.1L835.5 564.1L835.5 561.0L838.0 561.0L838.0 557.9L837.1 557.9L837.1 554.8L833.8 554.2L830.1 554.2L830.1 555.5L826.3 555.5L827.4 553.5L827.4 549.8L826.3 551.6L829.4 551.6L829.4 547.8L832.5 547.8L832.5 546.7L836.3 546.7L836.3 543.9L840.0 543.9L840.0 545.9L843.7 545.9L843.7 546.5L846.8 546.5L846.8 547.6L849.9 547.6L849.9 547.1L853.0 547.1L853.0 548.6L856.1 548.6L856.1 549.8L859.3 549.8L859.3 551.9L862.4 551.9L862.4 552.4L864.8 552.4L864.8 551.2L867.3 551.2L867.3 557.9L871.1 557.9L871.1 557.3L874.0 557.3L874.0 560.7L876.9 560.7L876.9 557.1L879.8 557.1L878.9 560.4L878.9 563.5L879.8 564.0L877.9 564.0L877.9 564.4L876.0 564.4L876.0 570.6L878.5 570.6L878.5 573.8L881.0 573.8L881.0 577.0L884.1 577.0L884.1 574.4L887.2 574.4L886.4 574.7L886.4 579.6L889.3 579.6L889.3 582.9L887.7 582.9L887.7 586.3L887.7 586.3L887.7 589.6L886.5 589.6L886.5 592.9L890.6 592.9L890.6 596.2L886.4 596.2L886.4 599.5L885.3 599.5L885.3 603.2L885.6 603.2L885.6 607.0L888.4 604.8L890.9 604.8L890.9 611.4L893.4 611.4L892.9 614.4L892.9 617.5L894.2 617.5L894.2 620.6L895.9 622.4L900.9 622.4L900.9 621.2L900.9 616.9L902.1 619.3L907.1 619.3L905.7 616.9L905.7 612.5L909.0 612.5L909.0 608.2L908.3 609.4L913.3 609.4L913.9 607.0L913.9 603.9L914.0 603.9L914.0 600.7L915.4 600.7L915.4 597.6L915.6 597.6L915.6 594.5L915.8 592.8L912.5 592.8L912.5 601.9L909.2 601.9L909.2 594.1L905.8 594.1L905.2 595.8L905.2 592.9L903.0 592.9L903.0 590.0L903.9 590.0L903.9 587.1L901.8 587.1L901.8 583.4L899.4 583.4L899.4 579.6L898.5 579.6L898.5 574.7L902.1 572.5L905.8 572.5L905.8 576.6L909.6 576.6L909.6 576.5L913.3 576.5L913.3 573.7L917.0 573.7L917.0 575.2L920.7 575.2L920.7 574.8L923.2 574.8L923.2 572.0L925.7 572.0L925.4 569.7L925.4 566.6L926.7 566.6L926.7 563.5L927.0 563.7L929.4 563.7L929.4 561.0L931.9 561.0L931.9 556.2L936.3 556.2L936.3 557.9L940.6 557.9L940.6 558.1L938.8 558.1L938.8 559.1L936.9 559.1L935.9 563.5L935.9 566.6L936.5 566.6L936.5 569.7L938.1 569.7L941.9 569.7L941.9 573.5L946.2 573.5L946.2 576.3L950.6 576.3L949.6 574.7L949.6 579.6L953.1 579.6L953.1 582.9L952.2 582.9L952.2 586.3L951.0 586.3L951.0 589.6L950.6 588.4L953.7 588.4L953.7 591.5L956.9 591.5L956.9 592.5L960.0 592.5L958.9 590.8L958.9 587.4L960.5 587.4L960.5 584.0L959.3 584.0L959.3 580.6L960.4 580.6L960.4 577.1L959.0 578.9L961.5 578.9L961.5 571.3L964.0 571.3L964.3 569.7L964.3 566.4L963.3 566.4L963.3 563.1L964.6 563.1L964.6 559.8L961.7 559.8L961.7 556.4L961.6 556.4L961.6 553.1L962.3 553.1L962.3 549.8L961.5 547.7L964.0 547.7L964.0 550.3L966.5 550.3L966.5 541.4L969.6 541.4L969.6 544.8L972.7 544.8L972.7 547.9L975.8 547.9L975.8 545.8L978.9 545.8L978.9 548.4L982.0 548.4L982.0 547.3L985.1 547.3L985.1 545.5L988.2 545.5L988.2 545.7L991.3 545.7L988.6 546.1L988.6 550.4L993.2 550.4L993.2 554.8L992.1 554.8L992.1 558.5L995.3 558.5L995.3 562.2L995.7 562.2L995.7 566.0L996.8 566.0L996.8 569.7L998.8 569.6L1002.5 569.6L1002.5 571.8L1006.2 571.8L1006.7 572.2L1006.7 568.9L1007.1 568.9L1007.1 565.5L1009.8 565.5L1009.8 562.2L1011.2 563.2L1013.0 563.2L1013.0 561.3L1014.9 561.3L1014.9 558.9L1016.8 558.9L1016.8 556.0L1018.6 556.0L1018.6 553.6L1022.0 553.6L1022.0 552.6L1025.5 552.6L1025.5 542.5L1028.9 542.5L1028.9 552.5L1032.3 552.5L1032.2 549.8L1032.2 553.5L1037.0 553.5L1037.0 557.3L1036.0 554.9L1039.1 554.9L1039.1 559.0L1042.2 559.0L1042.2 559.2L1045.3 559.2L1045.3 559.0L1048.4 559.0L1048.4 561.3L1046.4 561.3L1046.4 564.4L1044.3 564.4L1044.3 568.3L1042.2 568.3L1041.0 569.7L1041.0 572.8L1043.3 572.8L1043.3 575.9L1043.1 575.9L1043.1 579.0L1044.1 579.0L1044.1 582.1L1046.0 582.4L1049.1 582.4L1049.1 581.8L1052.2 581.8L1052.2 580.7L1055.3 580.7L1055.3 580.7L1058.4 580.7L1059.6 579.6L1059.6 576.2L1057.7 576.2L1057.7 572.8L1058.6 572.8L1058.6 569.4L1059.9 569.4L1059.9 566.0L1060.9 566.4L1064.0 566.4L1064.0 566.0L1067.1 566.0L1068.2 566.0L1068.2 569.2L1068.3 569.2L1068.3 572.4L1069.5 572.4L1069.5 575.7L1068.4 575.7L1068.4 578.9L1064.7 578.9L1064.7 582.1L1070.8 582.1L1070.8 585.4L1072.3 585.4L1072.3 588.7L1073.7 588.7L1073.7 592.0L1073.3 590.5L1076.2 590.5L1076.2 593.1L1079.1 593.1L1079.1 588.1L1082.0 588.1L1082.0 586.0L1084.9 586.0L1084.9 586.9L1087.8 586.9L1087.8 586.3L1090.7 586.3L1090.8 584.6L1090.8 588.1L1090.9 588.1L1090.9 591.6L1092.9 591.6L1092.9 595.0L1089.5 595.0L1089.5 598.5L1091.4 598.5L1091.4 602.0L1093.2 600.1L1095.7 600.1L1095.7 598.3L1098.1 598.3L1098.1 598.5L1100.6 598.5L1100.6 594.9L1103.9 594.9L1103.9 600.3L1107.2 600.3L1107.2 594.9L1110.6 594.9L1110.6 595.6L1113.0 595.6L1113.0 596.7L1115.5 596.7L1115.5 592.8L1119.0 592.8L1119.0 594.2L1122.5 594.2L1122.5 592.1L1126.0 592.1L1126.0 593.2L1129.4 593.2L1129.4 592.3L1132.9 592.3L1133.9 592.0L1133.9 595.4L1133.3 595.4L1133.3 598.7L1135.4 598.7L1135.4 602.0L1135.6 602.0L1135.6 605.3L1135.9 605.3L1135.9 608.6L1134.7 608.6L1134.7 611.9L1136.6 610.8L1138.6 610.8L1138.6 608.7L1140.6 608.7L1140.6 606.0L1142.6 606.0L1142.6 603.4L1144.6 603.4L1144.6 600.9L1146.6 600.9L1146.6 601.4L1149.7 601.4L1149.7 601.0L1152.8 601.0L1154.0 604.5L1154.0 607.8L1151.5 607.8L1151.5 611.1L1150.6 611.1L1150.6 614.4L1150.9 614.4L1150.9 617.7L1151.9 617.7L1151.9 621.0L1152.9 621.0L1152.9 624.3L1148.9 624.3L1148.9 628.1L1149.7 628.1L1149.7 631.8L1151.1 631.8L1151.1 635.5L1149.7 635.5L1149.7 639.3L1150.9 639.3L1150.9 642.6L1148.8 642.6L1148.8 645.9L1149.0 645.9L1149.0 649.2L1149.5 649.2L1149.5 652.5L1149.2 652.5L1149.2 655.8L1148.3 655.8L1148.3 659.1L1142.9 659.1L1142.9 662.0L1148.7 662.0L1148.7 664.8L1149.2 664.8L1149.2 667.6L1150.3 667.6L1150.3 670.5L1153.0 670.5L1153.0 673.3L1152.8 673.3L1152.8 676.2L1154.9 676.2L1154.9 679.0L1154.3 679.0L1154.3 675.9L1156.4 675.9L1156.4 672.8L1156.9 672.8L1156.9 669.7L1160.3 669.7L1160.3 666.6L1159.3 666.6L1159.3 669.5L1161.1 669.5L1161.1 672.4L1161.7 672.4L1161.7 675.3L1163.6 675.3L1163.6 678.2L1167.1 678.2L1167.1 681.1L1165.2 681.1L1165.2 684.0L1168.1 684.0L1168.1 680.7L1168.6 680.7L1168.6 677.5L1172.0 677.5L1172.0 674.3L1168.8 674.3L1168.8 671.1L1168.4 671.1L1168.4 667.8L1168.8 667.8L1168.8 664.6L1168.6 664.6L1168.6 661.4L1168.3 661.4L1168.3 658.1L1168.7 658.1L1168.7 654.9L1171.2 654.9L1171.2 651.7L1170.2 653.3L1173.5 653.3L1173.5 655.8L1176.8 655.8L1176.8 650.6L1180.1 650.6L1181.6 651.7L1181.6 655.2L1180.9 655.2L1180.9 658.6L1184.8 658.6L1184.8 662.1L1181.8 662.1L1181.8 665.6L1184.1 665.6L1184.1 669.1L1184.7 669.1L1184.7 672.3L1184.1 672.3L1184.1 675.5L1185.4 675.5L1185.4 678.7L1184.1 678.7L1184.1 681.8L1185.1 681.8L1185.1 685.0L1186.7 685.0L1186.7 688.2L1184.7 688.2L1184.7 691.4L1185.9 691.4L1185.9 695.2L1184.9 695.2L1184.9 698.9L1186.3 697.4L1183.3 697.4L1183.3 700.6L1180.3 700.6L1180.3 699.6L1177.2 699.6L1177.2 700.3L1174.2 700.3L1174.2 700.0L1171.1 700.0L1171.1 697.2L1168.1 697.2L1168.1 695.8L1165.1 695.8L1165.1 699.3L1162.0 699.3L1162.0 696.9L1159.0 696.9L1159.0 699.9L1155.9 699.9L1155.9 697.4L1152.9 697.4L1152.9 697.7L1149.9 697.7L1149.9 697.7L1146.8 697.7L1146.8 696.6L1143.8 696.6L1143.8 698.5L1140.7 698.5L1140.7 696.2L1137.7 696.2L1137.7 694.7L1134.7 694.7L1134.7 695.9L1131.6 695.9L1131.6 696.4L1128.6 696.4L1128.6 698.0L1125.5 698.0L1125.5 701.9L1122.5 701.9L1122.5 698.3L1119.5 698.3L1119.5 694.7L1116.4 694.7L1116.4 697.4L1113.4 697.4L1113.4 697.9L1110.3 697.9L1110.3 693.6L1107.3 693.6L1107.3 696.7L1104.2 696.7L1104.2 692.9L1101.2 692.9L1101.2 695.2L1098.2 695.2L1098.2 693.1L1095.1 693.1L1095.1 694.2L1092.1 694.2L1092.1 694.6L1089.0 694.6L1089.0 694.6L1086.0 694.6L1086.0 692.3L1083.0 692.3L1083.0 693.2L1079.9 693.2L1079.9 693.6L1076.9 693.6L1076.9 693.5L1073.8 693.5L1073.8 692.7L1070.8 692.7L1069.5 693.9L1069.5 688.9L1071.5 688.9L1071.5 685.2L1069.0 685.2L1069.0 681.5L1068.3 682.6L1065.8 682.6L1065.8 680.5L1063.4 680.5L1063.4 674.8L1060.9 674.8L1060.9 672.7L1058.4 672.7L1058.4 673.5L1055.9 673.5L1055.9 670.9L1053.4 670.9L1053.4 665.5L1050.9 665.5L1050.9 663.4L1048.0 663.4L1048.0 661.9L1045.0 661.9L1045.0 662.7L1042.0 662.7L1042.0 655.6L1039.0 655.6L1039.0 658.4L1036.0 658.4L1036.0 660.9L1034.2 660.9L1034.2 656.5L1032.3 656.5L1032.3 654.2L1030.4 654.2L1030.4 651.0L1028.6 651.0L1028.6 647.6L1026.7 647.6L1026.7 646.6L1024.8 646.6L1024.8 642.8L1019.9 642.8L1019.9 641.2L1018.0 641.2L1018.0 645.3L1016.1 645.3L1015.3 646.7L1015.3 650.4L1016.9 650.4L1016.9 654.2L1019.6 654.2L1019.6 657.3L1019.7 657.3L1019.7 660.4L1018.3 660.4L1018.3 663.5L1023.1 663.5L1023.1 666.6L1022.9 666.6L1022.9 669.7L1025.2 669.7L1025.2 672.8L1022.1 672.8L1022.1 675.9L1024.7 675.9L1024.7 679.0L1021.3 679.0L1021.3 682.7L1022.8 682.7L1022.8 686.5L1023.6 688.1L1021.1 688.1L1021.1 687.8L1018.6 687.8L1018.6 691.0L1015.5 691.0L1015.5 691.8L1012.4 691.8L1012.4 695.6L1009.3 695.6L1009.3 699.4L1006.2 699.4L1006.2 700.2L1002.9 700.2L1002.9 699.2L999.6 699.2L999.6 695.3L996.3 695.3L996.3 695.6L993.8 695.6L993.8 696.2L991.3 696.2L991.3 700.3L988.8 700.3L988.8 702.7L985.8 702.7L985.8 698.8L982.9 698.8L982.9 693.8L979.9 693.8L979.9 696.0L976.9 696.0L976.9 689.9L973.9 689.9L973.9 692.0L970.9 692.0L970.9 690.7L967.8 690.7L967.8 691.0L964.8 691.0L964.8 689.4L961.8 689.4L961.8 687.1L958.7 687.1L958.7 690.1L955.7 690.1L955.7 682.2L952.7 682.2L952.7 688.6L949.6 688.6L949.6 684.9L946.6 684.9L946.6 685.5L942.9 685.5L942.9 685.0L939.1 685.0L940.1 682.7L940.1 678.4L941.0 678.4L941.0 674.0L937.9 676.1L935.0 676.1L935.0 675.8L932.1 675.8L932.1 681.8L929.2 681.8L929.2 674.9L932.4 674.9L932.4 679.5L935.7 679.5L935.7 676.7L932.3 676.7L932.3 678.7L929.0 678.7L929.0 677.4L925.7 677.4L925.7 678.8L923.6 678.8L923.6 675.0L921.6 675.0L921.6 660.9L919.5 660.9L918.9 669.1L918.9 665.3L919.1 665.3L919.1 661.6L915.8 659.6L913.3 659.6L913.3 658.0L910.8 658.0L910.2 655.4L910.2 651.7L908.7 651.7L908.7 648.0L908.4 648.0L908.4 644.2L907.1 645.4L905.2 645.4L905.2 647.6L903.4 647.6L903.4 647.6L899.6 647.6L899.6 652.1L897.1 652.1L898.0 654.2L898.0 657.3L897.2 657.3L897.2 660.4L894.8 660.4L894.8 656.6L894.7 651.4L891.6 651.4L891.6 660.1L888.4 660.1L888.4 662.7L886.4 662.7L886.4 663.2L884.3 663.2L884.3 665.0L882.2 665.0L881.1 668.4L881.1 665.0L880.9 665.0L880.9 661.6L878.5 659.2L875.4 659.2L875.4 656.8L872.3 656.8L872.3 657.2L869.8 657.2L869.8 655.3L867.3 655.3L867.3 651.2L864.4 651.2L864.4 653.8L861.5 653.8L861.5 653.8L858.6 653.8L858.6 656.1L856.6 656.1L856.6 658.5L854.5 658.5L854.5 662.8L852.4 662.8L853.8 662.9L853.8 666.0L851.0 666.0L851.0 669.1L850.9 669.1L850.9 672.0L847.7 672.0L847.7 674.9L846.6 674.9L846.6 677.8L842.1 677.8L842.1 674.9L843.3 674.9L843.3 672.0L842.9 672.0L842.9 669.1L840.3 669.1L840.3 665.8L839.1 665.8L839.1 662.4L839.6 662.4L839.6 659.1L836.5 659.1L836.5 654.2L835.6 654.2L835.6 651.1L834.2 651.1L834.2 648.0L832.4 648.0L832.4 645.0L833.5 645.0L833.5 642.0L830.3 642.0L830.3 639.0L833.3 639.0L833.3 636.0L831.6 636.0L831.6 633.0L831.9 634.8L827.6 634.8L826.9 633.0L826.9 636.3L824.3 636.3L824.3 639.5L828.4 639.5L828.4 642.7L827.1 642.7L827.1 646.0L826.9 646.0L826.9 649.2L827.6 651.3L826.3 651.3L826.3 649.4L824.3 649.4L824.3 647.4L822.2 647.4L822.2 640.5L820.1 640.5L819.7 639.3L819.7 636.1L820.9 636.1L820.9 633.0L818.7 633.0L818.7 629.9L818.4 629.9L818.4 626.8L818.9 625.4L815.8 625.4L817.8 628.1L817.8 631.2L816.5 631.2L816.5 634.3L815.4 634.3L815.4 637.4L813.9 639.4L810.8 639.4L810.8 638.1L807.7 638.1L807.2 636.8L807.2 640.1L808.8 640.1L808.8 643.4L808.3 643.4L808.3 646.7L807.7 643.9L804.0 643.9L804.0 649.2L800.2 649.2L801.3 646.7L801.3 644.2L799.0 643.8L796.2 643.8L796.2 641.7L793.4 641.7L794.8 641.7L794.8 638.6L794.4 638.6L794.4 635.5L794.1 635.5L794.1 632.4L800.3 632.4L800.3 629.3L794.0 625.9L790.3 625.9L790.0 628.1L790.0 624.3L789.1 623.1L785.3 623.1L786.1 625.6L786.1 620.6L782.9 622.0L777.9 622.0L780.7 618.1L780.7 614.4L777.4 614.4L777.4 610.7L777.9 608.5L772.9 608.5L772.6 611.9L772.6 608.8L771.1 608.8L771.1 605.7L768.4 605.7L768.4 602.6L770.3 602.6L770.3 599.5L772.6 599.5L772.6 596.2L772.0 596.2L772.0 592.9L771.5 592.9L771.5 589.6L771.7 589.5L769.2 589.5L770.7 593.3L770.7 596.2L768.9 596.2L768.9 599.1L764.9 599.1L764.9 602.0L764.2 599.7L761.7 599.7L761.7 606.8L759.3 606.8L759.3 609.0L755.5 609.0L755.5 608.7L751.8 608.7L751.8 610.3L748.7 610.3L748.7 609.1L745.6 609.1L745.6 611.2L742.3 611.2L742.3 611.6L739.0 611.6L739.0 608.7L735.7 608.7L736.0 609.4L736.0 605.7L734.4 606.8L729.4 606.8L729.4 604.0L727.0 604.0L727.0 604.3L724.5 604.3L725.3 602.0L725.3 597.0L722.0 596.0L718.9 596.0L718.9 599.4L715.8 599.4L715.8 598.1L712.7 598.1L712.7 601.0L709.6 601.0L709.6 597.9L707.1 597.9L707.1 593.9L704.6 593.9L705.1 592.0L705.1 588.9L699.8 588.9L699.8 585.8L704.6 587.6L709.6 587.6L709.6 587.4L712.0 587.4L712.0 592.5L714.5 592.5L714.5 595.5L718.3 595.5L718.3 594.1L722.0 594.1L721.2 593.3L721.2 589.6L723.2 589.9L727.0 589.9L727.0 589.6L730.7 589.6L730.7 590.9L734.4 590.9L734.1 588.3L734.1 583.4L731.9 578.2L728.6 578.2L728.6 584.4L725.3 584.4L725.3 583.0L722.0 583.0L722.0 581.4L719.5 581.4L719.5 577.3L715.8 577.3L715.8 577.7L712.0 577.7L712.0 578.7L708.3 578.7L708.3 586.6L704.6 586.6L705.6 575.9L705.6 572.8L702.6 572.8L702.6 569.7L703.3 569.7L703.3 566.6L700.2 566.6L700.2 563.5L700.0 563.5L700.0 560.4L698.6 560.4L698.6 557.3L698.7 557.3L698.7 553.5L698.3 553.5L698.3 549.8L700.3 549.8L700.3 546.1L697.6 546.1L697.6 542.4Z" fill="#00ffff" />
<path d="M677.3 582.7L680.7 582.7L680.7 578.6L684.1 578.6L684.1 579.8L687.8 579.8L688.3 583.4L688.3 586.3L689.9 586.3L689.9 589.2L691.4 589.2L691.4 592.0L690.9 592.0L690.9 595.2L689.7 597.2L686.8 597.2L686.8 594.0L683.9 594.0L683.9 597.1L681.0 597.1L681.0 596.6L677.3 596.6L676.7 595.2L676.7 591.9L678.7 591.9L678.7 588.6L676.4 588.6L676.4 585.4L673.7 585.4L673.7 582.1Z" fill="#00ffff" />
<path d="M682.9 556.0L685.3 557.3L688.4 563.5L688.4 566.6L682.9 566.6Z" fill="#00ffff" />
<path d="M804.0 553.8L807.7 553.8L807.7 551.7L811.4 551.7L811.4 547.8L815.2 547.8L815.2 549.2L818.9 549.2L819.9 551.1L819.9 554.2L820.6 554.2L820.6 557.3L821.7 557.3L821.7 560.6L822.6 560.6L822.6 563.9L820.4 563.9L820.4 567.2L821.4 564.8L818.9 564.8L818.9 569.2L816.4 569.2L816.4 569.6L813.9 569.6L813.9 573.1L810.2 573.1L810.2 570.1L806.5 570.1L806.6 570.9L806.6 567.8L807.6 567.8L807.6 564.7L803.7 564.7L803.7 561.0L805.4 561.0L805.4 557.3L803.6 557.3L803.6 553.5Z" fill="#00ffff" />
<path d="M893.4 547.4L897.1 547.4L897.1 545.2L900.9 545.2L900.9 548.4L904.6 548.4L904.6 547.7L908.3 547.7L908.3 546.1L912.0 546.1L911.0 548.0L911.0 553.5L910.8 551.4L907.1 551.4L907.1 553.6L904.0 553.6L904.0 554.4L900.9 554.4L900.9 553.7L897.8 553.7L897.8 552.3L894.7 552.3L895.3 552.9L895.3 547.3Z" fill="#00ffff" />
<path d="M912.0 563.5L918.3 563.5L917.0 567.8L913.3 567.2Z" fill="#00ffff" />
<path d="M699.0 542.4L708.9 542.1L708.9 546.7L699.6 546.7Z" fill="#00ffff" />
<path d="M946.6 539.9L961.5 539.4L962.7 544.8L947.8 544.8Z" fill="#00ffff" />
<path d="M1001.2 539.4L1009.9 539.9L1008.7 544.8L1002.5 544.8Z" fill="#00ffff" />
<path d="M893.2 547.3L909.3 546.1L913.0 551.1L904.3 554.8L895.7 552.3Z" fill="#00ffff" />
<path d="M1193.8 613.7L1196.3 613.7L1196.3 610.3L1198.8 610.3L1198.8 609.8L1201.2 609.8L1199.1 608.2L1199.1 611.4L1200.8 611.4L1200.8 614.7L1204.1 614.7L1204.1 617.9L1199.5 617.9L1199.5 621.1L1203.5 621.1L1203.5 624.3L1205.0 624.3L1205.0 627.7L1201.5 627.7L1201.5 631.0L1205.5 631.0L1205.5 634.3L1207.7 634.3L1207.7 637.6L1209.2 637.6L1209.2 640.9L1209.1 640.9L1209.1 644.2L1211.2 642.9L1214.1 642.9L1214.1 646.0L1217.0 646.0L1217.0 648.5L1219.9 648.5L1219.5 651.7L1219.5 654.7L1219.6 654.7L1219.6 657.7L1221.7 657.7L1221.7 660.7L1221.2 660.7L1221.2 663.7L1221.3 663.7L1221.3 666.8L1222.2 666.8L1222.2 669.8L1219.4 669.8L1219.4 672.8L1221.7 672.8L1221.7 675.8L1222.7 675.8L1222.7 678.8L1221.9 678.8L1221.9 681.8L1223.1 681.8L1223.1 684.9L1222.5 684.9L1222.5 687.9L1222.0 687.9L1222.0 690.9L1223.0 690.9L1223.0 693.9L1222.4 691.7L1219.3 691.7L1219.3 693.9L1216.1 693.9L1216.1 696.0L1213.0 696.0L1213.0 693.6L1209.9 693.6L1209.9 693.9L1206.8 693.9L1206.8 691.4L1203.7 691.4L1203.7 696.0L1200.6 696.0L1200.6 694.1L1197.5 694.1L1197.5 693.1L1194.4 693.1L1194.4 695.3L1191.3 695.3L1191.5 693.9L1191.5 690.8L1191.8 690.8L1191.8 687.6L1190.7 687.6L1190.7 684.4L1192.6 684.4L1192.6 681.3L1192.4 681.3L1192.4 678.1L1192.4 678.1L1192.4 674.9L1191.8 674.9L1191.8 671.8L1194.7 671.8L1194.7 668.6L1191.3 668.6L1191.3 665.5L1191.3 665.5L1191.3 662.3L1191.8 662.3L1191.8 659.1L1192.3 659.1L1192.3 655.7L1192.1 655.7L1192.1 652.2L1192.6 652.2L1192.6 648.7L1191.7 648.7L1191.7 645.2L1191.2 645.2L1191.2 641.7L1190.9 641.7L1190.9 638.6L1191.5 638.6L1191.5 635.5L1192.5 635.5L1192.5 632.4L1193.8 632.4L1193.8 629.3L1196.5 629.3L1196.5 625.6L1195.1 625.6L1195.1 621.9L1194.1 621.9L1194.1 618.1L1193.5 618.1L1193.5 614.4Z" fill="#00ffff" />
<path d="M1232.3 644.2L1239.8 649.2L1247.2 669.1L1254.7 693.9L1232.3 695.2L1231.1 669.1Z" fill="#00ffff" />
<path d="M1241.2 629.3L1241.2 626.3L1240.6 626.3L1240.6 623.4L1243.3 623.4L1243.3 620.4L1242.5 620.4L1242.5 617.4L1243.7 617.4L1243.7 614.4L1243.5 614.6L1246.3 614.6L1246.3 609.0L1249.1 609.0L1249.1 615.6L1251.9 615.6L1251.9 609.6L1254.7 609.6L1254.7 606.1L1257.6 606.1L1257.6 609.0L1260.6 609.0L1260.6 607.1L1263.6 607.1L1263.6 605.2L1266.6 605.2L1266.6 611.9L1269.6 611.9L1269.6 605.8L1272.0 605.8L1272.0 609.6L1274.5 609.6L1274.5 611.5L1278.0 611.5L1278.0 610.3L1281.5 610.3L1281.5 611.7L1285.0 611.7L1285.0 620.6L1288.4 620.6L1288.4 616.1L1291.9 616.1L1291.9 613.6L1296.9 613.6L1296.9 614.1L1299.4 614.1L1299.4 616.3L1301.9 616.3L1301.9 617.7L1304.3 617.7L1304.3 620.2L1306.8 620.2L1306.8 622.7L1309.3 622.7L1309.3 625.9L1311.8 625.9L1311.8 627.7L1314.9 627.7L1314.9 626.5L1318.0 626.5L1318.0 630.1L1321.1 630.1L1321.1 630.5L1324.2 630.5L1324.2 636.1L1328.0 636.1L1328.0 631.3L1331.7 631.3L1330.2 629.3L1330.2 632.3L1331.9 632.3L1331.9 635.3L1331.2 635.3L1331.2 638.3L1333.1 638.3L1333.1 641.2L1333.1 641.2L1333.1 644.2L1334.0 644.2L1334.0 647.5L1335.3 647.5L1335.3 650.8L1334.0 650.8L1334.0 654.2L1338.2 654.2L1338.2 657.1L1338.6 657.1L1338.6 660.1L1335.9 660.1L1335.9 663.1L1337.5 663.1L1337.5 666.1L1336.3 666.1L1336.3 669.1L1334.6 669.1L1334.6 672.2L1335.2 672.2L1335.2 675.3L1336.1 675.3L1336.1 678.4L1335.4 678.4L1335.4 681.5L1336.1 681.5L1336.1 685.0L1336.1 685.0L1336.1 688.4L1335.2 688.4L1335.2 691.9L1335.4 691.9L1335.4 695.4L1335.4 695.4L1335.4 698.9L1334.2 697.0L1331.0 697.0L1331.0 699.6L1327.9 699.6L1327.9 700.9L1324.7 700.9L1324.7 699.4L1321.6 699.4L1321.6 697.7L1318.5 697.7L1318.5 698.2L1315.3 698.2L1315.3 697.5L1312.2 697.5L1312.2 701.2L1309.1 701.2L1309.1 699.2L1305.9 699.2L1305.9 697.7L1302.8 697.7L1302.8 697.6L1299.6 697.6L1299.6 699.8L1296.5 699.8L1296.5 700.9L1293.4 700.9L1293.4 698.8L1290.2 698.8L1290.2 698.4L1287.1 698.4L1287.1 703.6L1283.9 703.6L1283.9 699.9L1280.8 699.9L1280.8 700.4L1277.7 700.4L1277.7 700.8L1274.5 700.8L1275.4 698.9L1275.4 695.8L1272.1 695.8L1272.1 692.7L1271.6 692.7L1271.6 689.6L1269.2 689.6L1269.2 686.5L1268.3 686.5L1268.3 683.1L1265.4 683.1L1265.4 679.8L1265.8 679.8L1265.8 676.5L1263.4 676.5L1263.4 673.2L1265.0 673.2L1265.0 669.9L1262.0 669.9L1262.0 666.6L1262.1 668.6L1257.1 668.6L1255.9 669.1L1255.9 666.2L1255.9 666.2L1255.9 663.4L1254.3 663.4L1254.3 660.6L1253.4 660.6L1253.4 657.7L1250.5 657.7L1250.5 654.9L1249.1 654.9L1249.1 652.0L1248.3 652.0L1248.3 649.2L1246.3 649.2L1246.3 645.9L1245.5 645.9L1245.5 642.6L1244.0 642.6L1244.0 639.3L1244.2 639.3L1244.2 635.9L1245.7 635.9L1245.7 632.6L1243.3 632.6L1243.3 629.3Z" fill="#00ffff" />
<path d="M1167.7 651.7L1180.1 650.4L1183.9 669.1L1186.3 693.9L1167.7 693.9Z" fill="#00ffff" />
<path d="M1063.4 692.3L1060.4 692.3L1060.4 693.3L1057.4 693.3L1057.4 695.9L1054.4 695.9L1054.4 696.6L1051.4 696.6L1051.4 698.0L1048.4 698.0L1048.4 702.4L1046.0 702.4L1046.0 701.8L1043.5 701.8L1043.5 704.0L1041.0 704.0L1041.0 706.6L1038.5 706.6L1038.5 712.2L1041.8 712.2L1041.8 711.4L1045.1 711.4L1045.1 710.4L1048.4 710.4L1048.4 708.4L1051.8 708.4L1051.8 711.4L1055.1 711.4L1055.1 710.1L1058.4 710.1L1059.1 708.8L1059.1 713.8L1060.9 712.2L1057.5 712.2L1057.5 714.9L1054.0 714.9L1054.0 716.3L1050.6 716.3L1050.6 716.6L1047.2 716.6L1045.9 718.8L1045.9 722.5L1048.4 720.4L1051.6 720.4L1051.6 725.3L1054.7 725.3L1054.7 724.4L1057.8 724.4L1057.8 723.3L1060.9 723.3L1060.9 728.2L1063.4 728.2L1063.4 730.8L1065.8 730.8L1065.8 732.1L1068.3 732.1L1068.3 732.1L1071.4 732.1L1071.4 734.4L1074.5 734.4L1074.5 735.6L1077.6 735.6L1077.6 738.2L1080.7 738.2L1081.8 741.1L1081.8 744.1L1082.0 744.1L1082.0 747.1L1083.6 747.1L1083.6 750.1L1084.9 750.1L1084.9 753.0L1091.3 753.0L1091.3 756.0L1085.8 756.0L1085.8 759.1L1081.9 759.1L1081.9 762.2L1086.7 762.2L1086.7 765.3L1088.6 765.3L1088.6 768.4L1088.2 767.0L1090.1 767.0L1090.1 772.7L1091.9 772.7L1091.9 773.9L1093.8 773.9L1093.8 777.9L1095.7 777.9L1095.7 778.7L1097.6 778.7L1097.6 775.6L1099.6 775.6L1099.6 772.8L1101.6 772.8L1101.6 769.7L1103.6 769.7L1103.6 767.4L1105.6 767.4L1105.6 768.1L1108.1 768.1L1108.1 765.3L1110.6 765.3L1110.6 762.8L1113.0 762.8L1113.0 758.9L1115.5 758.9L1115.5 759.4L1118.0 759.4L1117.9 756.0L1117.9 759.1L1121.2 759.1L1121.2 762.2L1120.3 762.2L1120.3 765.3L1122.3 765.3L1122.3 768.4L1125.5 770.2L1127.3 770.2L1127.3 764.1L1129.2 764.1L1129.2 761.3L1131.1 761.3L1131.1 759.1L1132.9 759.1L1132.9 757.0L1136.0 757.0L1136.0 762.2L1139.1 762.2L1139.1 763.2L1142.2 763.2L1142.2 763.8L1145.3 763.8L1143.2 766.0L1143.2 769.0L1145.4 769.0L1145.4 772.0L1145.5 772.0L1145.5 775.0L1147.5 775.0L1147.5 778.0L1146.9 778.0L1146.9 781.0L1149.9 781.0L1149.9 784.1L1150.2 784.1L1150.2 787.1L1150.3 785.4L1153.6 785.4L1153.6 782.9L1156.9 782.9L1156.9 782.2L1160.2 782.2L1160.2 778.6L1162.1 778.6L1162.1 784.3L1164.0 784.3L1164.0 788.7L1165.8 788.7L1165.8 792.5L1167.7 792.5L1167.7 792.3L1170.2 792.3L1170.2 787.8L1172.7 787.8L1172.7 785.8L1172.7 788.7L1172.9 788.7L1172.9 791.6L1175.0 791.6L1175.0 794.5L1175.3 794.5L1175.3 797.4L1176.3 797.4L1176.3 800.3L1176.3 800.3L1176.3 803.2L1177.6 803.3L1179.5 803.3L1179.5 807.1L1181.4 807.1L1181.4 808.7L1183.2 808.7L1183.2 809.0L1185.1 809.0L1185.1 815.4L1187.6 815.4L1187.6 809.5L1190.1 809.5L1190.1 809.3L1192.5 809.3L1192.5 805.7L1195.0 805.7L1194.9 805.7L1194.9 809.0L1195.4 809.0L1195.4 812.3L1197.3 812.3L1197.3 815.7L1194.9 815.7L1194.9 819.0L1191.8 819.0L1191.8 822.3L1199.7 822.3L1199.7 825.6L1197.5 824.1L1199.5 824.1L1199.5 836.2L1201.5 836.2L1201.5 831.5L1203.5 831.5L1203.5 833.4L1205.5 833.4L1205.5 838.0L1207.5 838.0L1207.5 841.0L1210.5 841.0L1210.5 832.8L1213.5 832.8L1213.5 841.7L1216.5 841.7L1216.5 840.8L1219.5 840.8L1219.5 838.1L1222.6 838.1L1222.6 838.5L1225.6 838.5L1225.6 841.9L1228.6 841.9L1228.6 842.6L1231.6 842.6L1231.6 841.9L1234.4 841.9L1234.4 841.4L1237.1 841.4L1237.1 846.1L1239.8 846.1L1239.8 845.9L1242.5 845.9L1242.5 852.1L1245.2 852.1L1245.2 854.6L1247.7 854.6L1247.7 852.7L1250.1 852.7L1250.1 859.0L1252.5 859.0L1252.5 859.6L1254.9 859.6L1254.9 861.6L1256.9 861.6L1256.9 858.7L1258.8 858.7L1258.8 857.1L1260.8 857.1L1260.8 852.3L1262.7 852.3L1262.7 851.6L1264.6 851.6L1264.6 848.6L1266.3 848.6L1266.3 848.4L1267.9 848.4L1267.9 843.5L1269.5 843.5L1269.5 841.3L1271.1 841.3L1271.1 837.0L1272.7 837.0L1272.7 835.4L1274.3 835.4L1274.3 837.0L1276.8 837.0L1276.8 833.7L1279.2 833.7L1279.2 838.9L1281.6 838.9L1281.6 839.9L1284.1 839.9L1284.1 840.8L1286.4 840.8L1286.4 836.6L1288.7 836.6L1288.7 834.9L1291.0 834.9L1291.0 832.4L1293.4 832.4L1293.4 830.9L1295.7 830.9L1295.7 829.2L1298.1 829.2L1298.1 830.3L1300.6 830.3L1300.6 834.1L1303.0 834.1L1303.0 835.3L1305.4 835.3L1304.9 838.8L1304.9 842.2L1307.1 842.2L1307.1 845.6L1307.1 845.6L1307.1 849.0L1311.1 849.0L1311.1 852.4L1310.2 852.4L1310.2 855.3L1311.8 855.3L1311.8 858.2L1313.8 858.2L1313.8 861.1L1313.3 861.1L1313.3 864.1L1315.6 864.1L1315.6 867.4L1314.1 867.4L1314.1 870.7L1316.4 870.7L1316.4 874.0L1315.4 874.0L1315.4 877.3L1313.2 877.3L1313.2 880.6L1309.8 880.6L1309.8 883.9L1314.7 883.9L1314.7 887.2L1314.3 887.2L1314.3 890.5L1314.6 890.5L1314.6 893.8L1313.7 893.8L1313.7 897.0L1314.1 896.4L1317.7 896.4L1317.7 899.3L1321.3 899.3L1321.3 900.4L1324.8 900.4L1325.4 900.9L1325.4 904.0L1325.6 904.0L1325.6 907.1L1325.1 907.1L1325.1 910.2L1326.3 910.2L1326.3 913.3L1324.1 913.3L1324.1 916.3L1325.6 916.3L1325.6 919.4L1324.2 919.4L1324.2 922.5L1323.8 922.5L1323.8 925.6L1324.9 925.6L1324.9 928.7L1324.0 928.7L1324.0 931.8L1325.3 931.8L1325.3 934.8L1320.7 934.8L1320.7 937.9L1323.7 937.9L1323.7 941.0L1324.0 941.0L1324.0 944.1L1326.8 944.1L1326.8 947.2L1325.4 947.2L1325.4 950.3L1324.4 950.3L1324.4 953.3L1324.8 955.3L1328.0 955.3L1328.0 954.9L1331.1 954.9L1331.1 955.6L1334.2 955.6L1334.2 960.0L1337.4 960.0L1337.4 955.1L1340.5 955.1L1340.5 955.1L1343.7 955.1L1343.7 955.0L1346.8 955.0L1346.8 953.6L1350.0 953.6L1350.0 947.5L1353.1 947.5L1353.1 953.0L1356.2 953.0L1356.2 955.6L1359.4 955.6L1359.4 951.5L1362.5 951.5L1362.5 948.9L1365.7 948.9L1365.7 955.3L1368.8 955.3L1368.8 953.4L1372.0 953.4L1372.0 954.0L1375.1 954.0L1375.1 953.2L1378.2 953.2L1378.2 951.0L1381.4 951.0L1381.4 951.2L1384.5 951.2L1384.5 949.8L1387.7 949.8L1387.7 953.0L1390.8 953.0L1389.7 953.3L1389.7 950.1L1390.2 950.1L1390.2 947.0L1390.0 947.0L1390.0 943.8L1392.2 943.8L1392.2 940.6L1391.8 940.6L1391.8 937.4L1390.7 937.4L1390.7 934.2L1391.0 934.2L1391.0 931.0L1389.5 931.0L1389.5 927.8L1391.8 927.8L1391.8 924.6L1396.2 924.6L1396.2 921.5L1393.5 921.5L1393.5 918.3L1391.8 918.3L1391.8 915.1L1390.5 915.1L1390.5 911.9L1392.1 911.9L1392.1 908.7L1390.8 907.4L1393.9 907.4L1393.9 909.2L1397.0 909.2L1397.0 909.6L1400.1 909.6L1400.1 906.8L1403.2 906.8L1403.2 899.1L1406.3 899.1L1406.3 903.9L1408.3 903.9L1408.3 909.6L1410.2 909.6L1410.2 909.9L1412.2 909.9L1412.2 915.7L1414.1 915.7L1414.1 917.8L1417.0 917.8L1417.0 918.3L1419.9 918.3L1419.9 919.3L1422.8 919.3L1422.8 917.8L1425.7 917.8L1425.7 921.5L1428.5 921.5L1428.5 917.9L1431.2 917.9L1431.2 917.9L1433.9 917.9L1433.9 917.7L1436.6 917.7L1436.6 913.1L1439.3 913.1L1439.3 916.4L1441.3 916.4L1441.3 912.8L1443.2 912.8L1443.2 917.8L1445.2 917.8L1445.2 920.6L1447.1 920.6L1447.1 923.8L1449.0 923.8L1449.0 921.8L1451.9 921.8L1451.9 921.1L1454.9 921.1L1454.9 919.5L1457.8 919.5L1457.8 917.3L1460.7 917.3L1460.7 918.6L1463.6 918.6L1463.6 912.2L1466.5 912.2L1466.5 914.4L1469.4 914.4L1469.4 914.0L1472.3 914.0L1472.3 907.6L1475.6 907.6L1475.6 910.7L1478.8 910.7L1478.8 911.3L1482.0 911.3L1482.0 911.4L1485.3 911.4L1485.3 912.8L1488.5 912.8L1488.5 914.3L1491.7 914.3L1491.7 918.3L1494.2 918.3L1494.2 914.0L1496.6 914.0L1496.6 910.8L1499.0 910.8L1499.0 911.2L1501.4 911.2L1501.4 909.6L1503.4 909.6L1503.4 911.9L1505.3 911.9L1505.3 914.5L1507.3 914.5L1507.3 913.7L1509.2 913.7L1509.2 917.4L1511.1 917.4L1511.1 918.4L1512.8 918.4L1512.8 917.0L1514.5 917.0L1514.5 914.7L1516.1 914.7L1516.1 913.6L1517.8 913.6L1517.8 913.1L1519.5 913.1L1519.5 908.8L1521.1 908.8L1521.1 901.6L1522.8 901.6L1522.2 900.9L1522.2 904.0L1521.6 904.0L1521.6 907.1L1527.0 907.1L1527.0 910.2L1528.5 910.2L1528.5 913.4L1529.2 913.4L1529.2 916.5L1530.6 915.2L1534.4 915.2L1534.4 922.0L1538.3 922.0L1537.6 920.3L1537.6 923.3L1539.4 923.3L1539.4 926.3L1537.6 926.3L1537.6 929.3L1540.0 929.3L1540.0 932.3L1537.5 932.3L1537.5 935.3L1540.6 935.3L1540.6 938.3L1538.3 938.3L1538.3 941.3L1538.3 941.3L1538.3 944.3L1544.5 944.3L1544.5 947.3L1544.6 947.3L1544.6 950.3L1541.0 950.3L1541.0 953.3L1540.3 953.5L1543.3 953.5L1543.3 953.5L1546.3 953.5L1546.3 955.7L1549.4 955.7L1549.4 952.0L1552.4 952.0L1552.4 953.3L1555.4 953.3L1555.4 954.8L1558.5 954.8L1558.5 946.7L1561.5 946.7L1561.5 945.5L1564.5 945.5L1564.5 954.9L1567.6 954.9L1567.6 952.2L1570.6 952.2L1570.6 951.4L1573.6 951.4L1573.6 951.8L1576.7 951.8L1576.7 954.4L1579.7 954.4L1579.7 954.7L1582.7 954.7L1582.7 955.7L1585.8 955.7L1585.8 952.2L1588.8 952.2L1585.6 953.3L1585.6 950.4L1589.3 950.4L1589.3 947.5L1593.0 947.5L1593.0 944.6L1595.0 944.6L1595.0 941.7L1595.4 941.7L1595.4 938.8L1598.1 938.8L1598.1 935.9L1597.9 935.9L1597.9 932.8L1598.0 932.8L1598.0 929.8L1600.1 929.8L1600.1 926.7L1599.3 926.7L1599.3 923.7L1597.7 923.7L1597.7 920.6L1603.3 920.6L1603.3 917.6L1599.2 917.6L1599.2 914.5L1599.2 914.5L1599.2 911.5L1603.7 911.5L1603.7 908.4L1599.7 908.4L1599.7 905.4L1600.5 905.4L1600.5 902.3L1600.0 902.3L1600.0 899.3L1601.0 899.3L1601.0 896.2L1600.0 896.2L1600.0 893.2L1600.4 892.9L1603.5 892.9L1603.5 885.6L1606.5 885.6L1606.5 899.0L1609.5 899.0L1609.5 894.3L1612.6 894.3L1612.6 893.4L1615.6 893.4L1615.6 895.0L1618.6 895.0L1618.6 892.5L1621.7 892.5L1621.7 892.3L1624.7 892.3L1624.7 894.9L1627.7 894.9L1627.7 891.8L1630.7 891.8L1630.7 890.9L1633.8 890.9L1633.8 892.7L1636.8 892.7L1636.8 890.8L1639.8 890.8L1639.8 890.8L1642.9 890.8L1642.9 892.8L1645.9 892.8L1645.9 891.6L1648.9 891.6L1648.9 890.7L1652.0 890.7L1652.0 888.8L1655.0 888.8L1655.0 893.5L1658.0 893.5L1658.0 892.9L1661.1 892.9L1661.1 890.7L1664.1 890.7L1664.1 892.2L1667.1 892.2L1667.1 894.8L1670.2 894.8L1670.2 892.3L1673.2 892.3L1673.2 894.6L1676.2 894.6L1676.2 892.6L1679.2 892.6L1679.2 893.1L1682.3 893.1L1682.3 893.9L1685.3 893.9L1685.3 893.7L1688.3 893.7L1688.3 894.4L1691.4 894.4L1691.4 898.5L1694.4 898.5L1694.4 894.8L1697.4 894.8L1697.4 886.1L1700.5 886.1L1700.5 890.7L1703.5 890.7L1703.5 892.8L1706.5 892.8L1706.5 892.8L1709.6 892.8L1709.6 890.9L1712.6 890.9L1712.6 893.9L1715.6 893.9L1715.6 893.4L1718.7 893.4L1718.7 892.3L1721.7 892.3L1721.7 892.9L1724.7 892.9L1724.7 892.9L1727.7 892.9L1727.7 893.4L1730.8 893.4L1730.8 896.4L1733.8 896.4L1733.8 888.7L1736.8 888.7L1736.8 893.8L1739.9 893.8L1739.9 891.1L1742.9 891.1L1742.9 898.9L1745.9 898.9L1745.9 891.1L1749.0 891.1L1749.0 890.1L1752.0 890.1L1752.8 893.0L1752.8 889.8L1752.6 889.8L1752.6 886.5L1753.3 886.5L1753.3 883.2L1754.0 883.2L1754.0 880.0L1752.8 880.6L1750.9 880.6L1750.9 881.2L1749.1 881.2L1749.1 875.2L1747.2 875.2L1747.2 872.2L1745.3 872.2L1746.2 870.6L1746.2 867.5L1745.3 867.5L1745.3 864.3L1744.7 864.3L1744.7 861.2L1747.6 861.2L1747.6 858.1L1746.6 858.1L1746.6 855.2L1744.5 855.2L1744.5 852.2L1742.7 852.2L1742.7 849.2L1743.1 849.2L1743.1 846.2L1744.2 846.2L1744.2 843.2L1742.9 842.7L1740.4 842.7L1740.4 838.2L1737.9 838.2L1737.9 835.4L1734.6 835.4L1734.6 837.5L1731.3 837.5L1731.3 837.7L1728.0 837.7L1728.0 835.0L1726.1 835.0L1726.1 833.9L1724.2 833.9L1724.2 840.2L1722.4 840.2L1722.4 845.3L1720.5 845.3L1720.5 848.0L1718.0 848.0L1718.0 849.8L1715.5 849.8L1715.5 847.9L1713.0 847.9L1713.0 851.8L1710.6 851.8L1710.6 852.3L1708.1 852.3L1707.4 856.9L1707.4 853.7L1707.5 853.7L1707.5 850.4L1706.4 850.4L1706.4 847.2L1703.2 847.2L1703.2 844.0L1704.6 844.0L1704.6 840.7L1701.9 841.2L1699.8 841.2L1699.8 835.4L1697.7 835.4L1697.7 833.1L1695.7 833.1L1696.9 830.8L1696.9 827.7L1695.4 827.7L1695.4 824.6L1697.0 824.6L1697.0 821.5L1696.5 821.5L1696.5 818.4L1697.9 818.4L1697.9 815.3L1699.7 815.3L1699.7 812.2L1700.2 812.2L1700.2 809.1L1702.6 809.1L1702.6 806.0L1703.1 804.8L1705.1 804.8L1705.1 807.9L1707.1 807.9L1707.1 817.4L1709.1 817.4L1709.1 813.6L1711.1 813.6L1711.1 817.8L1713.0 817.8L1713.0 819.2L1715.5 819.2L1715.5 815.3L1718.0 815.3L1718.0 812.0L1720.5 812.0L1720.5 813.2L1724.2 813.2L1724.2 806.5L1728.0 806.5L1727.7 806.0L1727.7 803.1L1729.6 803.1L1729.6 800.2L1730.2 800.2L1730.2 797.3L1730.9 797.3L1730.9 794.4L1730.1 794.4L1730.1 791.5L1732.4 791.5L1732.4 788.6L1732.9 790.8L1735.4 790.8L1735.4 792.9L1737.9 792.9L1737.9 793.9L1740.4 793.9L1740.4 792.5L1742.9 792.5L1742.8 796.0L1742.8 792.9L1744.4 792.9L1744.4 789.8L1742.1 789.8L1742.1 786.7L1746.1 786.7L1746.1 783.6L1747.8 784.0L1750.3 784.0L1750.3 781.6L1752.8 781.6L1752.8 780.9L1755.3 780.9L1755.3 780.7L1757.8 780.7L1757.8 772.8L1760.2 772.8L1760.2 773.2L1762.1 773.2L1762.1 765.1L1764.0 765.1L1764.0 767.1L1765.8 767.1L1765.8 761.6L1767.7 761.6L1767.7 760.1L1771.4 760.1L1771.4 756.8L1775.2 756.8L1776.2 756.3L1776.2 753.2L1776.7 753.2L1776.7 750.1L1777.1 750.1L1777.1 747.0L1777.8 747.0L1777.8 743.9L1780.1 746.1L1782.0 746.1L1782.0 743.6L1783.9 743.6L1783.9 736.9L1785.7 736.9L1785.7 738.2L1787.6 738.2L1787.6 734.5L1791.1 734.5L1791.1 733.1L1794.5 733.1L1794.5 735.1L1798.0 735.1L1798.0 730.5L1801.5 730.5L1801.5 731.3L1805.0 731.3L1806.3 731.4L1806.3 728.3L1805.5 728.3L1805.5 725.2L1805.3 725.2L1805.3 722.1L1808.3 722.1L1808.3 719.0L1808.2 719.0L1808.2 716.1L1805.3 716.1L1805.3 713.1L1806.2 713.1L1806.2 710.2L1803.8 710.2L1803.8 707.2L1804.5 707.2L1804.5 704.3L1801.4 704.3L1801.4 701.3L1802.0 701.3L1802.0 698.4L1801.7 698.4L1801.7 695.4L1799.2 695.4L1799.2 692.0L1800.2 692.0L1800.2 688.6L1803.9 688.6L1803.9 685.2L1802.8 685.2L1802.8 681.7L1804.2 681.7L1804.2 678.8L1805.5 678.8L1805.5 675.8L1806.5 675.8L1806.5 672.8L1805.6 672.8L1805.6 669.8L1807.1 669.8L1807.1 666.8L1808.3 666.8L1808.3 663.5L1808.3 663.5L1808.3 660.2L1810.8 660.2L1810.8 656.9L1812.4 655.0L1809.9 655.0L1809.9 652.0L1807.5 652.0L1808.7 651.9L1808.7 648.6L1807.1 648.6L1807.1 645.3L1805.7 645.3L1805.7 642.0L1804.1 642.0L1804.1 638.7L1804.9 638.7L1804.9 635.4L1804.7 635.4L1804.7 632.0L1803.4 632.0L1803.4 628.9L1802.6 628.9L1802.6 625.8L1801.6 625.8L1801.6 622.7L1804.2 622.7L1804.2 619.6L1802.5 622.1L1799.5 622.1L1799.5 619.3L1796.5 619.3L1796.5 617.3L1793.5 617.3L1793.5 616.9L1790.6 616.9L1790.6 619.5L1787.6 619.5L1787.6 619.1L1784.6 619.1L1784.6 618.9L1781.6 618.9L1781.6 617.7L1778.6 617.7L1778.6 615.3L1775.7 615.3L1775.7 617.3L1772.7 617.3L1772.7 616.1L1769.6 616.1L1769.6 613.6L1766.5 613.6L1766.5 617.8L1763.4 617.8L1763.4 614.6L1760.2 614.6L1760.2 615.4L1757.1 615.4L1757.1 616.2L1754.0 616.2L1754.0 617.2L1750.9 617.2L1750.9 614.8L1747.8 614.8L1747.8 624.9L1744.9 624.9L1744.9 621.1L1742.0 621.1L1742.0 620.8L1739.1 620.8L1739.1 623.6L1736.2 623.6L1736.2 621.8L1733.3 621.8L1733.3 626.1L1730.4 626.1L1730.4 626.3L1728.0 626.3L1728.0 623.4L1725.5 623.4L1725.5 623.5L1723.0 623.5L1723.0 619.9L1720.5 619.9L1720.5 622.4L1718.0 622.4L1718.0 616.2L1715.5 616.2L1713.7 624.6L1713.7 621.7L1715.7 621.7L1715.7 618.8L1714.3 618.8L1714.3 615.9L1711.9 615.9L1711.9 613.0L1713.5 613.0L1713.5 610.1L1712.8 610.1L1712.8 607.2L1710.3 607.2L1710.3 610.2L1714.8 610.2L1714.8 613.2L1709.0 613.2L1709.0 616.1L1708.0 616.1L1708.0 619.1L1707.2 619.1L1707.2 622.1L1708.1 624.3L1705.1 624.3L1705.1 623.9L1702.1 623.9L1702.1 621.4L1699.1 621.4L1699.1 618.2L1696.1 618.2L1696.1 620.0L1693.2 620.0L1693.2 621.6L1690.7 621.6L1690.7 616.3L1688.2 616.3L1688.2 616.6L1685.7 616.6L1685.7 611.1L1682.0 611.1L1682.0 614.0L1678.3 614.0L1678.9 614.7L1678.9 618.0L1676.8 618.0L1676.8 621.3L1675.2 621.3L1675.2 624.6L1673.3 623.8L1670.2 623.8L1670.2 620.9L1667.1 620.9L1667.1 620.1L1664.0 620.1L1664.0 618.6L1660.9 618.6L1660.9 616.8L1657.8 616.8L1657.8 619.8L1654.7 619.8L1654.7 615.3L1651.6 615.3L1651.6 614.7L1648.4 614.7L1648.4 617.2L1645.3 617.2L1645.3 613.0L1642.2 613.0L1642.2 612.8L1639.1 612.8L1639.1 605.8L1636.0 605.8L1636.0 607.4L1632.9 607.4L1632.9 609.5L1629.8 609.5L1629.8 612.5L1626.7 612.5L1626.7 612.8L1623.6 612.8L1623.6 610.1L1620.6 610.1L1620.6 615.4L1617.6 615.4L1617.6 610.4L1614.7 610.4L1614.7 606.7L1611.7 606.7L1611.7 609.6L1608.7 609.6L1608.7 607.5L1605.7 607.5L1605.7 609.3L1602.7 609.3L1602.7 607.9L1599.8 607.9L1599.8 605.2L1596.8 605.2L1596.8 607.9L1593.8 607.9L1593.8 604.7L1590.7 604.7L1590.7 606.7L1587.6 606.7L1587.6 605.3L1584.5 605.3L1584.5 610.0L1581.4 610.0L1581.4 607.9L1578.1 607.9L1578.1 607.0L1574.7 607.0L1574.7 605.9L1571.4 605.9L1571.4 605.0L1568.9 605.0L1568.9 612.4L1566.5 612.4L1565.3 613.4L1565.3 616.5L1567.8 616.5L1567.8 619.6L1563.8 619.6L1563.8 622.7L1565.7 622.7L1565.7 625.8L1561.7 625.8L1561.7 628.9L1563.5 628.9L1563.5 632.0L1561.5 632.0L1561.5 629.3L1559.7 629.3L1559.7 626.6L1560.3 626.6L1560.3 623.9L1559.7 623.9L1559.7 621.1L1557.7 621.1L1557.7 618.4L1556.5 617.9L1552.8 617.9L1552.8 615.6L1549.1 615.6L1549.1 613.3L1546.1 613.3L1546.1 613.2L1543.1 613.2L1543.1 612.1L1540.1 612.1L1540.1 607.5L1537.1 607.5L1537.1 608.5L1534.2 608.5L1534.2 605.9L1530.7 605.9L1530.7 604.7L1527.2 604.7L1527.2 604.3L1523.7 604.3L1523.7 606.3L1520.2 606.3L1520.2 606.9L1516.8 606.9L1516.8 608.2L1514.3 608.2L1514.3 606.6L1511.8 606.6L1511.8 609.9L1509.3 609.9L1509.3 614.4L1506.8 614.4L1506.8 616.7L1503.7 616.7L1503.7 616.9L1500.6 616.9L1500.6 619.1L1497.5 619.1L1497.5 618.0L1494.4 618.0L1494.4 619.6L1491.3 619.6L1491.3 619.8L1488.2 619.8L1488.2 623.8L1485.1 623.8L1485.1 625.0L1482.0 625.0L1483.1 624.6L1483.1 627.4L1480.7 627.4L1480.7 630.3L1479.3 630.3L1479.3 633.1L1479.7 633.1L1479.7 636.0L1477.5 636.0L1477.5 638.8L1477.7 638.8L1477.7 641.6L1474.4 641.6L1474.4 644.5L1473.8 644.5L1473.8 647.5L1474.2 647.5L1474.2 650.4L1474.3 650.4L1474.3 653.4L1472.8 653.4L1472.8 656.4L1471.5 656.4L1471.5 659.4L1472.0 657.3L1474.0 657.3L1474.0 660.5L1476.0 660.5L1476.0 663.8L1478.0 663.8L1478.0 667.0L1480.0 667.0L1480.0 670.6L1482.0 670.6L1482.0 671.6L1484.8 671.6L1484.8 670.6L1487.7 670.6L1487.7 673.5L1490.5 673.5L1490.5 674.0L1493.3 674.0L1493.3 676.7L1496.2 676.7L1496.2 676.9L1499.0 676.9L1499.0 675.8L1501.9 675.8L1501.9 687.3L1504.8 687.3L1504.8 679.0L1507.8 679.0L1507.8 683.6L1510.8 683.6L1510.8 680.4L1513.8 680.4L1513.8 681.0L1516.8 681.0L1516.8 684.9L1520.0 684.9L1520.0 682.6L1523.2 682.6L1523.2 682.8L1526.4 682.8L1526.4 685.7L1529.5 685.7L1529.5 686.2L1532.7 686.2L1532.7 684.6L1535.9 684.6L1535.9 688.1L1539.1 688.1L1539.1 685.6L1542.4 685.6L1542.4 686.5L1545.8 686.5L1545.8 687.3L1549.1 687.3L1549.1 684.0L1551.6 684.0L1551.6 689.8L1554.0 689.8L1554.0 692.8L1556.5 692.8L1556.5 692.6L1559.0 692.6L1559.0 693.3L1561.5 693.3L1561.5 699.5L1564.0 699.5L1564.0 701.4L1566.5 701.4L1566.5 701.2L1568.9 701.2L1568.9 702.2L1571.4 702.2L1571.4 704.3L1573.9 704.3L1572.5 709.1L1572.5 712.0L1573.1 712.0L1573.1 715.0L1572.1 715.0L1572.1 718.0L1568.6 718.0L1568.6 721.0L1571.4 721.0L1571.4 724.0L1568.9 726.0L1566.5 726.0L1566.5 719.5L1564.0 719.5L1564.0 721.3L1561.5 721.3L1561.5 711.3L1558.4 711.3L1558.4 713.9L1555.3 713.9L1555.3 713.3L1552.2 713.3L1552.2 712.3L1549.1 712.3L1549.1 712.0L1545.8 712.0L1545.8 711.1L1542.4 711.1L1542.4 713.8L1539.1 713.8L1539.1 718.5L1536.1 718.5L1536.1 717.5L1533.2 717.5L1533.2 718.1L1530.2 718.1L1530.2 719.6L1527.2 719.6L1527.2 719.6L1524.2 719.6L1524.2 723.3L1521.2 723.3L1521.2 722.1L1518.3 722.1L1518.3 716.2L1515.3 716.2L1515.3 717.5L1512.3 717.5L1512.3 714.3L1509.3 714.3L1509.3 715.4L1506.0 715.4L1506.0 711.5L1502.7 711.5L1502.7 709.6L1499.4 709.6L1499.4 706.7L1496.1 706.7L1496.1 714.7L1492.8 714.7L1492.8 713.1L1489.4 713.1L1489.4 712.6L1487.5 712.6L1487.5 714.6L1485.5 714.6L1485.5 714.2L1483.5 714.2L1483.5 710.2L1481.5 710.2L1481.5 723.5L1479.5 723.5L1479.5 724.0L1476.5 724.0L1476.5 722.6L1473.5 722.6L1473.5 726.6L1470.6 726.6L1470.6 717.8L1467.6 717.8L1467.6 718.1L1464.6 718.1L1464.6 714.5L1461.5 714.5L1461.5 717.4L1458.4 717.4L1458.4 721.9L1455.5 721.9L1455.5 715.6L1452.6 715.6L1452.6 714.1L1449.7 714.1L1449.7 711.7L1446.6 711.7L1446.6 710.9L1443.5 710.9L1443.5 708.1L1440.4 708.1L1440.4 710.0L1437.3 710.0L1437.3 709.9L1434.4 709.9L1434.4 707.8L1431.5 707.8L1431.5 709.6L1428.6 709.6L1428.6 713.5L1425.7 713.5L1425.7 716.3L1422.8 716.3L1422.8 713.4L1419.9 713.4L1420.6 714.0L1420.6 716.9L1420.2 716.9L1420.2 719.7L1419.1 719.7L1419.1 722.6L1416.9 722.6L1416.9 725.4L1414.4 725.4L1414.4 728.2L1415.2 728.2L1415.2 731.1L1412.5 731.1L1412.5 733.9L1413.8 733.9L1413.8 730.9L1412.4 730.9L1412.4 728.0L1405.3 728.0L1405.3 725.0L1410.4 725.0L1410.4 722.0L1409.4 722.0L1409.4 719.0L1407.5 718.2L1403.7 718.2L1403.7 721.7L1400.0 721.7L1400.0 721.7L1403.1 721.7L1403.1 711.4L1406.2 711.4L1406.2 722.4L1409.2 722.4L1409.2 721.0L1412.3 721.0L1412.3 716.4L1415.4 716.4L1415.4 717.8L1418.5 717.8L1418.5 717.9L1421.5 717.9L1421.5 718.2L1424.6 718.2L1424.6 715.8L1427.7 715.8L1427.7 714.8L1430.8 714.8L1430.8 712.0L1433.8 712.0L1433.8 713.9L1436.9 713.9L1436.9 712.0L1440.0 712.0L1440.0 711.5L1436.9 711.5L1436.9 711.2L1433.7 711.2L1433.7 712.3L1430.6 712.3L1430.6 715.8L1427.4 715.8L1427.4 713.1L1424.3 713.1L1424.3 715.0L1421.1 715.0L1420.0 716.3L1420.0 719.2L1418.8 719.2L1418.8 722.1L1423.5 722.1L1423.5 725.0L1418.4 725.0L1418.4 727.9L1415.1 727.9L1415.1 730.8L1415.1 730.8L1415.1 733.7L1413.7 735.8L1411.2 735.8L1411.2 723.2L1408.7 723.2L1408.7 728.1L1406.2 728.1L1406.2 725.2L1403.7 725.2L1403.7 719.7L1401.2 719.7L1401.2 720.2L1398.8 720.2L1398.8 716.3L1396.3 716.3L1396.3 714.5L1393.4 714.5L1393.4 721.8L1390.5 721.8L1390.5 711.8L1387.6 711.8L1387.6 714.0L1384.7 714.0L1384.7 710.4L1381.8 710.4L1381.8 710.3L1378.9 710.3L1378.9 706.7L1375.2 706.7L1375.2 711.6L1371.4 711.6L1371.4 709.2L1368.5 709.2L1368.5 710.3L1365.6 710.3L1365.6 711.4L1362.7 711.4L1362.7 713.9L1359.8 713.9L1359.8 714.3L1356.9 714.3L1356.9 715.7L1354.0 715.7L1355.2 716.3L1355.2 719.3L1353.9 719.3L1353.9 722.2L1352.1 722.2L1352.1 725.2L1353.9 725.2L1353.9 728.2L1352.1 728.2L1352.1 731.2L1351.6 729.7L1346.6 729.7L1347.9 728.7L1347.9 725.4L1345.3 725.4L1345.3 722.1L1344.6 722.1L1344.6 718.8L1346.7 718.8L1346.7 715.4L1344.7 715.4L1344.7 712.1L1346.0 712.1L1346.0 708.8L1346.3 708.8L1346.3 705.5L1343.3 705.5L1343.3 702.2L1345.1 702.2L1345.1 698.9L1344.1 690.2L1340.8 690.2L1340.8 699.4L1337.5 699.4L1337.5 696.8L1334.2 696.8L1334.2 696.4L1331.1 696.4L1331.1 693.8L1328.1 693.8L1328.1 696.0L1325.1 696.0L1325.1 695.2L1322.1 695.2L1322.1 692.9L1319.1 692.9L1319.1 694.9L1316.1 694.9L1316.1 692.5L1313.0 692.5L1313.0 693.3L1310.0 693.3L1310.0 695.4L1307.0 695.4L1307.0 694.6L1304.0 694.6L1304.0 695.4L1301.0 695.4L1301.0 692.4L1298.0 692.4L1298.0 695.1L1294.9 695.1L1294.9 694.2L1291.9 694.2L1291.9 691.4L1288.9 691.4L1288.9 692.4L1285.9 692.4L1285.9 695.0L1282.9 695.0L1282.9 694.1L1279.9 694.1L1279.9 695.0L1276.8 695.0L1276.8 690.5L1273.8 690.5L1273.8 691.9L1270.8 691.9L1270.8 690.7L1267.8 690.7L1267.8 690.5L1264.8 690.5L1264.8 684.3L1261.8 684.3L1261.8 684.7L1258.7 684.7L1258.7 694.3L1255.7 694.3L1255.7 694.3L1252.7 694.3L1252.7 694.4L1249.7 694.4L1249.7 690.2L1246.7 690.2L1246.7 691.4L1243.7 691.4L1243.7 693.6L1240.6 693.6L1240.6 691.3L1237.6 691.3L1237.6 691.7L1234.6 691.7L1234.6 692.6L1231.6 692.6L1231.6 692.8L1228.6 692.8L1228.6 693.1L1225.6 693.1L1225.6 694.3L1222.5 694.3L1222.5 690.0L1219.5 690.0L1219.5 690.9L1216.5 690.9L1216.5 692.7L1213.5 692.7L1213.5 691.9L1210.5 691.9L1210.5 693.7L1207.5 693.7L1207.5 688.1L1204.4 688.1L1204.4 690.6L1201.4 690.6L1201.4 692.5L1198.4 692.5L1198.4 690.2L1195.4 690.2L1195.4 691.2L1192.4 691.2L1192.4 690.7L1189.4 690.7L1189.4 690.4L1186.3 690.4L1186.3 691.4L1183.3 691.4L1183.3 689.1L1180.3 689.1L1180.3 693.7L1177.3 693.7L1177.3 692.0L1174.3 692.0L1174.3 689.8L1171.3 689.8L1171.3 693.6L1168.3 693.6L1168.3 689.4L1165.3 689.4L1165.3 694.3L1162.3 694.3L1162.3 692.0L1159.3 692.0L1159.3 689.5L1156.3 689.5L1156.3 693.8L1153.3 693.8L1153.3 693.9L1150.3 693.9L1150.3 693.1L1147.3 693.1L1147.3 691.9L1144.3 691.9L1144.3 690.9L1141.3 690.9L1141.3 690.0L1138.3 690.0L1138.3 692.4L1135.3 692.4L1135.3 693.1L1132.3 693.1L1132.3 691.6L1129.3 691.6L1129.3 692.3L1126.3 692.3L1126.3 692.0L1123.3 692.0L1123.3 694.5L1120.3 694.5L1120.3 694.6L1117.3 694.6L1117.3 703.1L1114.3 703.1L1114.3 696.8L1111.3 696.8L1111.3 692.1L1108.3 692.1L1108.3 690.8L1105.3 690.8L1105.3 693.9L1102.3 693.9L1102.3 692.3L1099.3 692.3L1099.3 699.2L1096.3 699.2L1096.3 693.4L1093.3 693.4L1093.3 692.4L1090.3 692.4L1090.3 695.1L1087.4 695.1L1087.4 692.9L1084.4 692.9L1084.4 695.9L1081.4 695.9L1081.4 692.0L1078.4 692.0L1078.4 691.6L1075.4 691.6L1075.4 696.2L1072.4 696.2L1072.4 692.2L1069.4 692.2L1069.4 696.3L1066.4 696.3L1066.4 695.2L1063.4 695.2Z" fill="#00ffff" />
<path d="M1418.6 598.1L1423.0 598.1L1423.0 598.7L1427.3 598.7L1427.3 599.6L1430.5 599.6L1430.5 598.4L1433.7 598.4L1433.7 593.1L1436.9 593.1L1436.9 592.3L1440.1 592.3L1440.1 591.0L1443.3 591.0L1443.3 597.7L1446.5 597.7L1446.5 592.0L1449.7 592.0L1449.7 591.7L1453.7 591.7L1453.7 587.2L1457.6 587.2L1457.6 587.9L1461.6 587.9L1462.0 589.8L1462.0 593.3L1462.8 593.3L1462.8 596.8L1462.2 596.8L1462.2 600.2L1461.9 600.2L1461.9 603.7L1463.5 603.7L1463.5 607.2L1462.6 607.5L1464.6 607.5L1464.6 609.9L1466.6 609.9L1466.6 613.1L1468.6 613.1L1468.6 615.5L1470.6 615.5L1470.6 619.2L1472.5 619.2L1472.5 620.9L1474.5 620.9L1472.5 622.1L1472.5 625.4L1475.5 625.4L1475.5 628.7L1478.5 628.7L1478.5 632.0L1480.6 632.0L1480.6 635.2L1479.3 635.2L1479.3 638.3L1477.1 638.3L1477.1 641.4L1474.0 641.4L1474.0 644.5L1473.3 644.5L1473.3 647.8L1475.2 647.8L1475.2 651.1L1474.0 651.1L1474.0 654.4L1471.6 654.4L1471.6 657.7L1470.8 657.7L1470.8 661.0L1474.1 661.0L1474.1 664.3L1470.9 664.3L1470.9 667.3L1472.2 667.3L1472.2 670.3L1469.0 670.3L1469.0 673.3L1466.1 673.3L1466.1 676.3L1465.2 676.3L1465.2 679.3L1461.9 679.3L1461.9 682.2L1458.4 682.2L1458.4 685.2L1464.2 685.2L1464.2 688.2L1462.7 688.2L1462.7 691.2L1462.5 691.2L1462.5 694.2L1461.1 694.2L1461.1 697.3L1462.4 697.3L1462.4 700.4L1462.7 700.4L1462.7 703.5L1462.8 703.5L1462.8 706.6L1461.9 706.6L1461.9 709.7L1460.4 709.7L1460.4 712.8L1462.4 712.8L1462.4 715.9L1460.7 715.9L1460.7 719.0L1460.9 718.9L1457.6 718.9L1457.3 719.0L1457.3 715.9L1457.7 715.9L1457.7 712.8L1455.6 712.8L1455.6 709.7L1457.3 709.7L1457.3 706.6L1456.0 706.6L1456.0 703.5L1457.5 703.5L1457.5 700.4L1456.8 700.4L1456.8 697.3L1456.2 697.3L1456.2 694.2L1455.2 694.2L1455.2 691.2L1453.9 691.2L1453.9 688.2L1455.5 688.2L1455.5 685.2L1453.8 685.2L1453.8 682.2L1452.2 682.2L1452.2 679.3L1451.2 679.3L1451.2 676.3L1452.2 676.3L1452.2 673.3L1450.3 673.3L1450.3 670.3L1452.1 670.3L1452.1 667.3L1449.2 667.3L1449.2 664.3L1450.2 664.3L1450.2 661.2L1447.7 661.2L1447.7 658.1L1449.5 658.1L1449.5 655.0L1447.3 655.0L1447.3 651.9L1448.3 651.9L1448.3 648.8L1443.5 648.8L1443.5 645.7L1447.0 645.7L1447.0 642.6L1445.2 642.6L1445.2 639.5L1444.7 637.2L1442.2 637.2L1442.2 637.9L1439.8 637.9L1439.8 636.5L1437.3 636.5L1437.3 634.4L1434.8 634.4L1434.8 633.2L1432.8 633.2L1432.8 626.8L1430.8 626.8L1430.8 623.9L1428.8 623.9L1428.8 621.0L1426.8 621.0L1426.8 621.3L1424.8 621.3L1423.4 617.1L1423.4 614.0L1423.5 614.0L1423.5 610.9L1423.8 610.9L1423.8 607.8L1423.1 607.8L1423.1 604.7L1419.9 604.7L1419.9 601.6L1419.9 601.6L1419.9 598.5Z" fill="#00ffff" />
<path d="M1821.1 669.3L1821.1 672.6L1821.2 672.6L1821.2 675.9L1824.0 675.9L1824.0 679.3L1822.5 679.3L1822.5 682.6L1823.3 682.6L1823.3 685.9L1826.5 685.9L1826.5 689.2L1827.3 687.4L1824.8 687.4L1824.8 686.4L1822.4 686.4L1822.4 692.6L1819.9 692.6L1819.9 693.8L1817.4 693.8L1817.4 698.8L1814.9 698.8L1814.9 699.3L1817.4 699.3L1817.4 700.9L1819.9 700.9L1819.9 703.0L1822.4 703.0L1822.4 704.5L1824.3 704.5L1824.3 711.3L1826.3 711.3L1826.3 712.4L1828.3 712.4L1828.3 714.6L1830.3 714.6L1830.3 718.5L1832.3 718.5L1832.3 718.2L1835.6 718.2L1835.6 716.3L1838.9 716.3L1838.9 713.6L1842.2 713.6L1842.2 711.8L1844.7 711.8L1844.7 714.6L1847.2 714.6L1847.2 719.8L1849.7 719.8L1849.7 718.1L1852.2 718.1L1852.2 721.4L1854.7 721.4L1853.9 724.0L1853.9 727.1L1854.3 727.1L1854.3 730.2L1854.4 730.2L1854.4 733.3L1854.6 733.3L1854.6 736.4L1853.4 735.2L1850.5 735.2L1850.5 736.3L1847.6 736.3L1847.6 733.0L1844.7 733.0L1844.7 736.0L1842.2 736.0L1842.2 731.0L1839.8 731.0L1839.8 728.0L1837.3 728.0L1837.3 733.4L1834.8 733.4L1834.8 725.7L1832.9 725.7L1832.9 721.1L1831.1 721.1L1831.1 722.5L1829.2 722.5L1829.2 717.4L1827.3 717.4L1827.3 712.7L1824.8 712.7L1824.8 714.7L1822.4 714.7L1822.4 708.3L1819.9 708.3L1819.9 709.7L1817.4 709.7L1817.4 707.2L1814.9 707.2L1814.9 702.5L1812.4 702.5L1813.2 699.1L1813.2 696.0L1813.7 696.0L1813.7 692.9L1815.0 692.9L1815.0 689.8L1817.1 689.8L1817.1 686.7L1817.4 687.0L1814.9 687.0L1814.9 685.6L1812.4 685.6L1811.2 681.7L1811.2 678.6L1814.1 678.6L1814.1 675.5L1816.9 675.5L1816.9 672.4L1819.5 672.4L1819.5 669.3Z" fill="#00ffff" />
<path d="M1800.0 654.4L1809.9 656.9L1807.5 666.8L1801.2 664.3Z" fill="#00ffff" />
<path d="M1865.7 786.6L1865.7 783.8L1866.2 783.8L1866.2 781.0L1866.5 781.0L1866.5 778.2L1868.7 778.2L1868.7 775.4L1869.8 777.5L1872.8 777.5L1872.8 776.6L1875.8 776.6L1875.8 777.1L1878.9 777.1L1878.9 777.3L1881.9 777.3L1881.9 777.9L1884.9 777.9L1884.9 779.0L1887.9 779.0L1887.9 778.2L1890.9 778.2L1890.9 776.0L1893.9 776.0L1893.9 775.5L1897.0 775.5L1897.0 775.7L1900.0 775.7L1900.0 781.7L1903.0 781.7L1903.0 779.3L1906.0 779.3L1906.0 777.0L1909.0 777.0L1909.0 778.3L1912.0 778.3L1911.3 779.1L1911.3 782.4L1915.7 782.4L1915.7 785.8L1912.0 785.8L1912.0 789.1L1913.7 789.1L1913.7 792.4L1915.0 792.4L1915.0 795.7L1912.9 795.7L1912.9 799.0L1914.5 801.1L1916.4 801.1L1916.4 796.9L1918.3 796.9L1918.3 795.1L1920.1 795.1L1920.1 789.0L1922.0 789.0L1922.0 786.4L1923.9 786.4L1923.9 785.4L1925.7 785.4L1925.7 780.9L1927.6 780.9L1927.6 779.8L1929.4 779.8L1929.4 769.1L1931.9 769.1L1931.9 777.0L1934.4 777.0L1934.4 780.9L1936.9 780.9L1936.9 782.1L1939.4 782.1L1939.4 781.6L1941.6 781.6L1941.6 782.9L1943.7 782.9L1943.7 785.0L1945.9 785.0L1945.9 776.3L1948.1 776.3L1946.9 775.4L1946.9 778.8L1948.6 778.8L1948.6 782.2L1947.4 782.2L1947.4 785.7L1945.1 785.7L1945.1 789.1L1945.1 789.1L1945.1 792.4L1942.9 792.4L1942.9 795.7L1939.8 795.7L1939.8 799.0L1939.7 799.0L1939.7 802.1L1941.4 802.1L1941.4 805.2L1942.2 805.2L1942.2 808.3L1942.3 808.3L1942.3 811.4L1944.3 811.9L1947.5 811.9L1947.5 811.9L1950.6 811.9L1950.6 817.1L1953.7 817.1L1953.7 819.4L1956.8 819.4L1956.8 818.5L1959.9 818.5L1959.9 819.1L1963.0 819.1L1963.0 816.9L1966.1 816.9L1966.1 815.6L1969.2 815.6L1969.2 809.2L1971.7 809.2L1971.7 807.9L1974.2 807.9L1974.2 804.3L1976.6 804.3L1976.6 799.5L1979.1 799.5L1979.1 802.4L1982.9 802.4L1982.9 798.0L1986.6 798.0L1986.6 794.1L1983.6 794.1L1983.6 793.0L1980.6 793.0L1980.6 792.0L1977.6 792.0L1977.6 795.2L1974.7 795.2L1974.7 792.1L1971.7 792.1L1966.9 789.1L1966.9 785.8L1971.4 785.8L1971.4 782.4L1966.9 782.4L1966.9 779.1L1965.5 779.1L1965.5 776.0L1967.7 776.0L1967.7 772.9L1968.7 772.9L1968.7 769.8L1971.2 769.8L1971.2 766.7L1971.7 764.9L1974.8 764.9L1974.8 770.0L1977.9 770.0L1977.9 763.2L1980.1 763.2L1980.1 765.7L1982.2 765.7L1982.2 770.6L1984.4 770.6L1984.4 770.8L1986.6 770.8L1986.6 776.8L1990.3 776.8L1990.3 775.2L1994.0 775.2L1994.0 775.4L1997.0 775.4L1997.0 779.3L2000.0 779.3L2000.0 783.7L2003.0 783.7L2003.0 775.6L2006.0 775.6L2006.0 784.9L2008.9 784.9L2008.9 786.6L2010.8 786.6L2010.8 789.6L2012.7 789.6L2012.7 792.0L2014.5 792.0L2014.5 798.2L2016.4 798.2L2015.9 799.0L2015.9 795.7L2018.2 795.7L2018.2 792.4L2018.5 792.4L2018.5 789.1L2021.4 786.1L2024.5 786.1L2024.5 787.6L2027.7 787.6L2027.7 786.7L2030.9 786.7L2030.9 789.5L2034.0 789.5L2034.0 790.2L2037.2 790.2L2037.2 789.5L2040.3 789.5L2040.3 787.3L2043.5 787.3L2043.5 789.5L2046.7 789.5L2046.7 789.9L2049.8 789.9L2049.8 790.3L2053.0 790.3L2053.0 786.3L2056.1 786.3L2055.1 789.1L2055.1 792.0L2056.1 792.0L2056.1 795.0L2056.9 795.0L2056.9 798.0L2056.6 798.0L2056.6 801.0L2058.8 801.0L2058.8 804.0L2063.9 804.0L2063.9 807.2L2060.0 807.2L2060.0 810.4L2059.3 810.4L2059.3 813.7L2061.0 813.7L2061.0 816.9L2059.2 816.9L2059.2 820.1L2061.1 815.1L2064.4 815.1L2064.4 820.0L2067.7 820.0L2067.7 816.2L2071.1 816.2L2069.8 813.9L2069.8 810.6L2070.8 810.6L2070.8 807.3L2070.6 807.3L2070.6 804.0L2071.6 804.0L2071.6 800.7L2072.1 800.7L2072.1 797.3L2073.1 797.3L2073.1 794.0L2073.9 794.0L2073.9 790.7L2075.1 790.7L2075.1 787.4L2074.6 787.4L2074.6 784.1L2077.3 786.1L2081.0 786.1L2081.0 785.4L2084.7 785.4L2085.7 789.1L2085.7 792.0L2085.9 792.0L2085.9 795.0L2086.1 795.0L2086.1 798.0L2087.4 798.0L2087.4 801.0L2088.6 801.0L2088.6 804.0L2090.9 804.7L2092.9 804.7L2092.9 800.1L2094.9 800.1L2094.9 800.0L2096.9 800.0L2096.9 794.5L2098.9 794.5L2098.9 786.0L2100.9 786.0L2100.9 792.3L2103.4 792.3L2103.4 786.8L2105.8 786.8L2105.8 783.4L2108.3 783.4L2108.3 785.0L2110.2 785.0L2110.2 784.5L2112.0 784.5L2112.0 787.6L2113.9 787.6L2113.9 791.2L2115.8 791.2L2115.8 795.9L2117.6 795.9L2117.6 794.5L2119.5 794.5L2119.5 800.3L2121.4 800.3L2121.4 799.3L2123.2 799.3L2123.2 810.5L2125.3 810.5L2125.3 808.5L2127.4 808.5L2127.4 811.1L2129.4 811.1L2128.7 811.4L2128.7 815.2L2127.5 815.2L2127.5 818.9L2125.7 816.4L2128.8 816.4L2128.8 816.5L2131.9 816.5L2131.9 812.1L2135.0 812.1L2135.0 819.2L2138.1 819.2L2137.5 818.9L2137.5 822.2L2136.2 822.2L2136.2 825.5L2135.0 825.5L2135.0 828.8L2133.2 829.1L2136.9 829.1L2136.9 829.5L2140.6 829.5L2140.6 836.4L2144.3 836.4L2144.3 837.1L2148.1 837.1L2149.5 838.8L2149.5 841.9L2148.2 841.9L2148.2 845.0L2147.8 845.0L2147.8 848.1L2145.1 848.1L2145.1 851.2L2145.6 849.6L2141.9 849.6L2141.9 855.7L2138.1 855.7L2137.3 856.1L2137.3 859.9L2139.6 859.9L2139.6 863.6L2142.8 863.6L2142.8 866.7L2142.6 866.7L2142.6 869.8L2147.2 869.8L2147.2 872.9L2145.2 872.9L2145.2 876.0L2148.1 877.4L2151.2 877.4L2151.2 877.2L2154.3 877.2L2154.3 874.6L2157.4 874.6L2157.4 869.8L2160.5 869.8L2161.0 871.1L2161.0 874.4L2159.9 874.4L2159.9 877.7L2160.1 877.7L2160.1 881.0L2163.0 880.0L2166.7 880.0L2166.7 880.8L2170.4 880.8L2170.4 880.6L2173.5 880.6L2173.5 879.4L2176.5 879.4L2176.5 881.5L2179.5 881.5L2179.5 882.4L2182.6 882.4L2182.6 885.0L2185.6 885.0L2185.6 885.0L2188.7 885.0L2188.7 885.1L2191.7 885.1L2191.7 887.0L2194.7 887.0L2194.7 880.4L2197.8 880.4L2198.1 888.4L2198.1 892.2L2198.9 892.2L2198.9 895.9L2197.8 894.4L2194.7 894.4L2194.7 897.3L2191.7 897.3L2191.7 898.4L2188.7 898.4L2188.7 897.3L2185.7 897.3L2185.7 897.1L2182.7 897.1L2182.7 898.2L2179.7 898.2L2179.7 896.0L2176.6 896.0L2176.6 895.8L2173.6 895.8L2173.6 896.7L2170.6 896.7L2170.6 898.3L2167.6 898.3L2167.6 895.5L2164.6 895.5L2164.6 894.9L2161.5 894.9L2161.5 889.3L2158.5 889.3L2158.5 895.5L2155.5 895.5L2155.5 893.6L2152.5 893.6L2152.5 897.6L2149.5 897.6L2149.5 895.6L2146.4 895.6L2146.4 893.9L2143.4 893.9L2143.4 894.6L2140.4 894.6L2140.4 897.1L2137.4 897.1L2137.4 894.3L2134.4 894.3L2134.4 894.0L2131.4 894.0L2131.4 897.4L2128.3 897.4L2128.3 894.9L2125.3 894.9L2125.3 897.6L2122.3 897.6L2122.3 900.2L2119.3 900.2L2119.3 897.8L2116.3 897.8L2116.3 894.2L2113.2 894.2L2113.2 897.5L2110.2 897.5L2110.2 897.5L2107.2 897.5L2107.2 894.2L2104.2 894.2L2104.2 897.7L2101.2 897.7L2101.2 893.7L2098.2 893.7L2098.2 896.3L2095.1 896.3L2095.1 897.1L2092.1 897.1L2092.1 896.4L2089.1 896.4L2089.1 897.6L2086.1 897.6L2086.1 897.8L2083.1 897.8L2083.1 895.8L2080.0 895.8L2080.0 896.7L2077.0 896.7L2077.0 893.5L2074.0 893.5L2074.0 894.5L2071.0 894.5L2071.0 893.6L2068.0 893.6L2068.0 895.3L2064.9 895.3L2064.9 895.0L2061.9 895.0L2061.9 896.3L2058.9 896.3L2058.9 897.3L2055.9 897.3L2055.9 894.1L2052.9 894.1L2052.9 893.6L2049.9 893.6L2049.9 893.7L2046.8 893.7L2046.8 897.9L2043.8 897.9L2043.8 895.4L2040.8 895.4L2040.8 897.3L2037.8 897.3L2037.8 895.8L2034.8 895.8L2034.8 888.0L2031.7 888.0L2031.7 897.3L2028.7 897.3L2028.7 897.4L2025.7 897.4L2025.7 893.9L2022.7 893.9L2022.7 897.0L2019.7 897.0L2019.7 896.4L2016.7 896.4L2016.7 898.0L2013.6 898.0L2013.6 895.2L2010.6 895.2L2010.6 896.1L2007.6 896.1L2007.6 893.6L2004.6 893.6L2004.6 894.1L2001.6 894.1L2001.6 897.1L1998.5 897.1L1998.5 893.9L1995.5 893.9L1995.5 896.0L1992.5 896.0L1992.5 897.9L1989.5 897.9L1989.5 894.2L1986.5 894.2L1986.5 898.7L1983.4 898.7L1983.4 895.9L1980.4 895.9L1980.4 894.2L1977.4 894.2L1977.4 893.4L1974.4 893.4L1974.4 896.0L1971.4 896.0L1971.4 896.0L1968.4 896.0L1968.4 895.7L1965.3 895.7L1965.3 896.8L1962.3 896.8L1962.3 894.0L1959.3 894.0L1959.3 897.9L1956.3 897.9L1956.3 894.3L1953.3 894.3L1953.3 895.1L1950.2 895.1L1950.2 894.8L1947.2 894.8L1947.2 896.6L1944.2 896.6L1944.2 894.9L1941.2 894.9L1941.2 897.6L1938.2 897.6L1938.2 896.7L1935.2 896.7L1935.2 897.7L1932.1 897.7L1932.1 896.4L1929.1 896.4L1929.1 896.3L1926.1 896.3L1926.1 895.4L1923.1 895.4L1923.1 895.6L1920.1 895.6L1920.1 895.5L1917.0 895.5L1917.0 896.9L1914.0 896.9L1914.0 896.9L1911.0 896.9L1911.0 895.5L1908.0 895.5L1908.0 898.3L1905.0 898.3L1905.0 894.4L1901.9 894.4L1901.9 894.1L1898.9 894.1L1898.9 901.6L1895.9 901.6L1895.9 894.0L1892.9 894.0L1892.9 897.6L1889.9 897.6L1889.9 897.5L1886.9 897.5L1886.9 896.1L1883.8 896.1L1883.8 898.1L1880.8 898.1L1880.8 898.3L1877.8 898.3L1877.8 898.2L1874.8 898.2L1874.8 896.3L1872.3 896.3L1872.3 892.5L1869.8 892.5L1869.8 890.7L1867.3 890.7L1865.8 888.4L1865.8 885.1L1864.8 885.1L1864.8 881.8L1864.0 881.8L1864.0 878.5L1861.2 878.5L1861.2 875.5L1860.4 875.5L1860.4 872.5L1861.1 872.5L1861.1 869.6L1860.0 869.6L1860.0 866.6L1860.2 866.6L1860.2 863.6L1859.5 863.6L1859.5 860.7L1858.5 860.7L1858.5 857.8L1859.0 857.8L1859.0 854.9L1857.1 854.9L1857.1 852.0L1855.5 852.0L1855.5 849.1L1856.9 849.1L1856.9 846.2L1851.4 846.2L1851.4 843.1L1855.2 843.1L1855.2 840.0L1855.8 840.0L1855.8 836.9L1857.0 836.9L1857.0 833.8L1857.4 832.5L1860.3 832.5L1860.3 833.8L1863.2 833.8L1863.2 831.2L1866.1 831.2L1866.1 831.3L1866.1 828.0L1865.0 828.0L1865.0 824.7L1867.1 824.7L1867.1 821.4L1866.3 821.4L1866.3 818.1L1865.0 818.1L1865.0 814.7L1865.8 814.7L1865.8 811.4L1869.3 811.4L1869.3 808.5L1866.8 808.5L1866.8 805.6L1867.6 805.6L1867.6 802.7L1870.8 802.7L1870.8 799.8L1872.1 799.8L1872.1 796.9L1873.6 796.9L1873.6 794.0L1874.8 791.8L1871.1 791.8L1871.1 794.3L1867.3 794.3L1866.9 799.0L1866.9 795.9L1867.7 795.9L1867.7 792.8L1866.1 792.8L1866.1 789.7L1865.6 789.7L1865.6 786.6Z" fill="#00ffff" />
<path d="M1840.0 713.3L1847.5 717.0L1853.7 725.7L1851.2 735.7L1843.7 735.7L1840.0 727.0Z" fill="#00ffff" />
<path d="M1981.6 698.4L1991.6 697.1L1992.8 704.6L1984.1 705.1Z" fill="#00ffff" />
<path d="M2217.6 849.9L2223.9 852.4L2221.4 857.4Z" fill="#00ffff" />
<path d="M2209.9 630.3L2212.4 630.3L2212.4 625.1L2214.9 625.1L2214.9 631.5L2217.4 631.5L2217.0 622.2L2217.0 619.1L2219.7 619.1L2219.7 616.0L2221.2 616.0L2221.2 612.9L2222.8 612.9L2222.8 609.8L2223.6 613.8L2226.7 613.8L2226.7 610.8L2229.7 610.8L2229.7 609.5L2232.8 609.5L2232.8 609.3L2235.9 609.3L2235.9 613.2L2239.0 613.2L2239.0 611.6L2242.0 611.6L2242.0 612.9L2245.1 612.9L2245.1 613.9L2248.2 613.9L2248.2 611.4L2251.3 611.4L2251.3 614.2L2254.3 614.2L2254.3 613.8L2257.4 613.8L2257.4 611.9L2260.5 611.9L2260.5 612.2L2263.6 612.2L2263.6 611.5L2266.6 611.5L2266.6 612.5L2269.7 612.5L2269.7 615.8L2272.8 615.8L2272.8 614.5L2275.8 614.5L2275.8 612.1L2278.9 612.1L2278.9 615.0L2282.0 615.0L2282.0 615.8L2284.5 615.8L2284.5 620.1L2287.0 620.1L2287.0 621.3L2289.4 621.3L2289.4 619.2L2291.9 619.2L2291.9 617.4L2294.4 617.4L2294.4 616.8L2296.9 616.8L2296.9 614.1L2299.4 614.1L2299.4 614.8L2301.4 614.8L2301.4 607.4L2303.4 607.4L2303.4 608.2L2305.3 608.2L2305.3 601.6L2307.3 601.6L2307.3 603.0L2309.3 603.0L2309.3 599.5L2312.5 599.5L2312.5 606.6L2315.6 606.6L2315.6 598.3L2318.8 598.3L2318.8 599.8L2322.0 599.8L2322.0 602.4L2325.1 602.4L2325.1 601.1L2328.3 601.1L2328.3 599.7L2331.5 599.7L2331.5 603.2L2334.6 603.2L2334.6 601.0L2337.8 601.0L2337.8 602.6L2340.9 602.6L2340.9 600.9L2344.1 600.9L2344.1 604.2L2346.6 604.2L2346.6 606.4L2349.1 606.4L2349.1 609.0L2351.6 609.0L2351.6 609.0L2354.0 609.0L2354.0 610.0L2356.5 610.0L2356.5 614.9L2359.0 614.9L2359.0 615.2L2362.0 615.2L2362.0 618.0L2365.0 618.0L2365.0 615.5L2368.0 615.5L2368.0 615.7L2370.9 615.7L2370.9 613.0L2373.9 613.0L2373.9 610.8L2377.2 610.8L2377.2 613.4L2380.5 613.4L2380.5 616.5L2383.9 616.5L2382.8 614.8L2382.8 618.1L2386.3 618.1L2386.3 621.4L2385.7 621.4L2385.7 624.7L2388.8 613.7L2392.1 613.7L2392.1 621.9L2395.4 621.9L2395.4 630.0L2398.8 630.0L2398.8 621.5L2401.2 621.5L2401.2 621.2L2403.7 621.2L2403.7 617.8L2406.2 617.8L2406.2 612.7L2409.5 612.7L2409.5 618.4L2412.8 618.4L2412.8 616.8L2416.1 616.8L2416.1 620.3L2419.4 620.3L2419.4 617.1L2422.6 617.1L2422.6 622.2L2425.8 622.2L2425.8 621.1L2429.1 621.1L2429.1 621.1L2432.3 621.1L2432.3 623.6L2435.5 623.6L2435.5 624.8L2438.8 624.8L2438.8 623.8L2442.0 623.8L2442.0 621.8L2445.2 621.8L2445.2 623.4L2448.4 623.4L2448.4 623.8L2450.9 623.8L2450.9 626.9L2453.4 626.9L2453.4 631.1L2455.9 631.1L2455.9 631.5L2458.4 631.5L2458.4 636.8L2461.5 636.8L2461.5 637.0L2464.6 637.0L2464.6 630.3L2467.7 630.3L2467.7 643.6L2470.8 643.6L2470.8 624.6L2473.9 624.6L2473.9 637.5L2477.0 637.5L2477.0 635.4L2480.1 635.4L2480.1 638.4L2483.2 638.4L2483.2 635.9L2485.3 635.9L2485.3 643.4L2487.4 643.4L2487.4 642.1L2489.4 642.1L2488.9 647.1L2488.9 650.1L2490.8 650.1L2490.8 653.0L2489.8 653.0L2489.8 656.0L2490.4 656.0L2490.4 659.0L2492.5 659.0L2492.5 662.0L2492.3 662.0L2492.3 665.2L2492.4 665.2L2492.4 668.4L2492.5 668.4L2492.5 671.6L2493.2 671.6L2493.2 674.8L2492.6 674.8L2492.6 678.0L2492.2 678.0L2492.2 681.2L2493.6 681.2L2493.6 684.3L2491.7 684.3L2491.7 687.3L2491.7 687.3L2491.7 690.3L2495.3 690.3L2495.3 693.3L2494.2 693.3L2494.2 696.3L2494.9 696.3L2494.9 699.3L2497.5 699.3L2497.5 702.6L2497.7 702.6L2497.7 705.9L2501.3 705.9L2501.3 709.2L2497.3 709.2L2497.3 712.5L2497.8 712.5L2497.8 715.8L2498.7 715.8L2498.7 719.1L2496.7 719.1L2496.7 722.1L2496.6 722.1L2496.6 725.1L2497.3 725.1L2497.3 728.1L2497.9 728.1L2497.9 731.1L2496.3 731.1L2496.3 734.0L2495.7 736.3L2490.7 736.3L2490.8 736.5L2490.8 733.4L2488.3 733.4L2488.3 730.3L2487.3 730.3L2487.3 727.2L2487.3 727.2L2487.3 724.1L2485.7 724.2L2482.4 724.2L2482.4 724.4L2479.1 724.4L2479.1 722.4L2475.8 722.4L2475.8 719.1L2472.5 719.1L2472.5 717.4L2469.2 717.4L2469.2 720.4L2465.8 720.4L2462.7 719.1L2462.7 722.9L2463.7 722.9L2463.7 726.6L2463.4 727.6L2465.2 727.6L2465.2 731.3L2467.1 731.3L2467.1 741.1L2468.9 741.1L2468.9 737.1L2470.8 737.1L2471.5 739.0L2471.5 742.1L2471.4 742.1L2471.4 745.2L2470.8 745.2L2470.8 748.3L2471.7 748.3L2471.7 751.4L2474.5 751.4L2474.5 754.5L2475.1 754.5L2475.1 757.6L2475.5 757.6L2475.5 760.7L2477.1 760.7L2477.1 763.9L2478.3 763.0L2480.7 763.0L2480.7 758.9L2483.2 758.9L2483.2 759.4L2485.7 759.4L2485.7 757.5L2489.4 757.5L2489.4 755.0L2493.2 755.0L2493.2 744.9L2495.0 744.9L2495.0 755.3L2496.9 755.3L2496.9 758.4L2498.8 758.4L2498.8 765.9L2500.6 765.9L2500.6 763.3L2502.8 763.3L2502.8 759.3L2505.0 759.3L2505.0 765.3L2507.1 765.3L2507.1 758.7L2509.3 758.7L2508.5 753.9L2508.5 757.0L2509.1 757.0L2509.1 760.1L2511.8 760.1L2511.8 763.2L2512.2 763.2L2512.2 766.3L2513.0 764.4L2516.8 764.4L2516.8 768.9L2520.5 768.9L2521.5 771.3L2521.5 774.3L2520.9 774.3L2520.9 777.4L2519.5 777.4L2519.5 780.4L2518.8 780.4L2518.8 783.5L2519.1 783.5L2519.1 786.5L2519.8 786.5L2519.8 789.5L2515.7 789.5L2515.7 792.6L2518.7 792.6L2518.7 795.6L2517.6 795.6L2517.6 798.6L2518.0 796.8L2515.9 796.8L2515.9 795.2L2513.9 795.2L2513.9 793.6L2511.8 793.6L2511.8 790.7L2509.7 790.7L2509.7 791.3L2507.7 791.3L2507.7 795.4L2505.6 795.4L2505.6 796.8L2503.7 796.8L2503.7 792.5L2501.9 792.5L2501.9 790.0L2500.0 790.0L2500.0 791.2L2498.1 791.2L2498.1 777.7L2496.3 777.7L2496.3 782.3L2494.4 782.3L2494.4 780.1L2492.5 780.1L2492.5 777.3L2490.7 777.3L2490.7 775.2L2488.8 775.2L2488.8 778.5L2487.0 778.5L2487.0 778.7L2485.1 778.7L2485.1 781.7L2483.2 781.7L2482.2 786.2L2482.2 789.9L2482.2 789.9L2482.2 793.7L2482.3 793.7L2482.3 797.4L2483.3 797.4L2483.3 801.1L2483.2 801.5L2479.5 801.5L2479.5 801.8L2475.8 801.8L2475.9 798.6L2475.9 801.7L2475.1 801.7L2475.1 804.8L2477.2 804.8L2477.2 808.0L2477.6 808.0L2477.6 811.1L2476.0 811.1L2476.0 814.2L2479.3 814.2L2479.3 817.3L2479.6 817.3L2479.6 820.4L2481.0 820.4L2481.0 823.5L2479.7 823.5L2479.7 826.5L2481.5 826.5L2481.5 829.4L2481.3 829.4L2481.3 832.4L2483.0 832.4L2483.0 835.4L2485.3 835.4L2485.3 838.4L2485.7 838.2L2488.2 838.2L2488.2 844.1L2490.7 844.1L2490.7 845.8L2493.2 845.8L2493.2 845.6L2495.7 845.6L2495.7 851.7L2498.1 851.7L2498.1 852.8L2500.6 852.8L2500.6 856.3L2503.1 856.3L2503.1 859.5L2505.6 859.5L2505.6 862.3L2508.1 862.3L2508.1 862.3L2511.8 862.3L2511.8 867.8L2515.5 867.8L2515.5 866.7L2518.6 866.7L2518.6 868.4L2521.7 868.4L2521.7 867.6L2524.8 867.6L2524.8 866.3L2528.0 866.3L2528.0 869.8L2531.1 869.8L2531.1 864.1L2534.2 864.1L2534.2 871.9L2537.3 871.9L2537.3 874.2L2540.4 874.2L2540.4 872.6L2543.5 872.6L2543.5 876.6L2546.6 876.6L2546.6 874.2L2549.7 874.2L2549.7 876.6L2552.8 876.6L2552.8 873.3L2555.9 873.3L2555.9 875.5L2559.0 875.5L2559.0 880.3L2562.1 880.3L2562.1 876.1L2565.2 876.1L2565.2 878.5L2568.9 878.5L2568.9 880.7L2572.7 880.7L2572.7 883.0L2575.7 883.0L2575.7 882.1L2578.6 882.1L2578.6 877.2L2581.6 877.2L2581.6 872.4L2584.6 872.4L2584.6 884.0L2587.6 884.0L2587.6 877.4L2590.6 877.4L2590.6 877.8L2593.7 877.8L2593.7 873.6L2596.8 873.6L2596.8 876.8L2599.8 876.8L2599.8 875.7L2602.9 875.7L2602.9 873.6L2605.9 873.6L2605.9 877.5L2609.0 877.5L2609.0 875.6L2612.0 875.6L2612.0 873.4L2615.1 873.4L2615.1 876.8L2618.2 876.8L2618.2 876.3L2621.2 876.3L2621.2 874.5L2624.3 874.5L2624.3 875.9L2627.3 875.9L2627.3 874.1L2629.2 874.1L2629.2 878.2L2631.1 878.2L2631.1 879.8L2632.9 879.8L2632.9 884.2L2634.8 884.2L2634.8 886.1L2637.9 886.1L2637.9 886.6L2641.0 886.6L2641.0 884.8L2644.1 884.8L2644.1 885.7L2647.2 885.7L2647.2 883.1L2650.3 883.1L2650.3 885.6L2653.4 885.6L2653.4 884.3L2656.5 884.3L2656.5 886.4L2659.6 886.4L2659.6 886.6L2662.7 886.6L2662.7 884.1L2665.8 884.1L2665.8 887.3L2668.9 887.3L2668.9 887.2L2672.0 887.2L2672.0 886.3L2675.2 886.3L2675.2 887.9L2678.3 887.9L2678.3 887.8L2681.4 887.8L2681.4 883.3L2684.5 883.3L2684.5 887.5L2687.6 887.5L2687.6 887.8L2690.7 887.8L2690.7 885.1L2693.8 885.1L2693.8 886.1L2696.9 886.1L2696.9 885.0L2698.8 885.0L2698.8 884.1L2700.6 884.1L2700.6 882.0L2702.5 882.0L2702.5 880.6L2704.3 880.6L2704.3 876.6L2707.3 876.6L2707.3 875.9L2710.3 875.9L2710.3 875.9L2713.3 875.9L2713.3 882.2L2716.3 882.2L2716.3 876.9L2719.3 876.9L2719.3 879.1L2722.2 879.1L2722.2 881.1L2725.2 881.1L2725.2 881.5L2728.2 881.5L2728.2 883.3L2731.2 883.3L2731.2 880.8L2734.2 880.8L2734.2 883.8L2737.3 883.8L2737.3 881.2L2740.4 881.2L2740.4 883.4L2743.5 883.4L2743.5 882.6L2746.6 882.6L2746.6 882.0L2749.7 882.0L2749.7 885.8L2752.8 885.8L2752.8 879.5L2755.9 879.5L2755.9 879.6L2759.0 879.6L2759.0 881.5L2762.1 881.5L2762.1 881.0L2765.2 881.0L2765.2 879.2L2768.3 879.2L2768.3 876.8L2771.4 876.8L2771.4 875.7L2774.4 875.7L2774.4 876.9L2777.4 876.9L2777.4 878.5L2780.4 878.5L2780.4 881.5L2783.4 881.5L2783.4 879.5L2786.3 879.5L2786.3 882.9L2789.3 882.9L2789.3 880.0L2792.3 880.0L2792.3 879.9L2795.3 879.9L2795.3 882.2L2798.3 882.2L2798.3 884.5L2801.2 884.5L2801.2 882.0L2804.5 882.0L2804.5 882.8L2807.7 882.8L2807.7 885.9L2810.9 885.9L2810.9 880.9L2814.2 880.9L2814.2 884.6L2817.4 884.6L2817.4 884.7L2820.6 884.7L2820.6 884.3L2823.9 884.3L2823.9 885.2L2827.1 885.2L2827.1 886.0L2830.3 886.0L2830.3 885.2L2833.5 885.2L2833.5 885.0L2836.8 885.0L2836.8 888.9L2840.0 888.9L2839.6 886.8L2839.6 889.9L2838.9 889.9L2838.9 893.0L2840.0 892.2L2837.0 892.2L2837.0 893.1L2834.0 893.1L2834.0 893.5L2831.0 893.5L2831.0 894.8L2828.0 894.8L2828.0 891.4L2825.0 891.4L2825.0 893.0L2821.9 893.0L2821.9 890.9L2818.9 890.9L2818.9 892.7L2815.9 892.7L2815.9 894.4L2812.9 894.4L2812.9 895.4L2809.9 895.4L2809.9 891.7L2806.9 891.7L2806.9 895.4L2803.9 895.4L2803.9 891.4L2800.9 891.4L2800.9 891.8L2797.9 891.8L2797.9 895.1L2794.9 895.1L2794.9 895.5L2791.9 895.5L2791.9 893.7L2788.8 893.7L2788.8 892.7L2785.8 892.7L2785.8 893.9L2782.8 893.9L2782.8 894.5L2779.8 894.5L2779.8 892.2L2776.8 892.2L2776.8 891.3L2773.8 891.3L2773.8 894.2L2770.8 894.2L2770.8 891.7L2767.8 891.7L2767.8 892.0L2764.8 892.0L2764.8 893.5L2761.8 893.5L2761.8 893.4L2758.7 893.4L2758.7 894.6L2755.7 894.6L2755.7 893.4L2752.7 893.4L2752.7 893.5L2749.7 893.5L2749.7 890.8L2746.7 890.8L2746.7 891.1L2743.7 891.1L2743.7 893.1L2740.7 893.1L2740.7 895.3L2737.7 895.3L2737.7 892.4L2734.7 892.4L2734.7 891.3L2731.7 891.3L2731.7 893.6L2728.7 893.6L2728.7 891.4L2725.6 891.4L2725.6 895.1L2722.6 895.1L2722.6 895.2L2719.6 895.2L2719.6 893.7L2716.6 893.7L2716.6 892.5L2713.6 892.5L2713.6 891.7L2710.6 891.7L2710.6 893.2L2707.6 893.2L2707.6 895.1L2704.6 895.1L2704.6 891.8L2701.6 891.8L2701.6 895.4L2698.6 895.4L2698.6 890.0L2695.6 890.0L2695.6 893.6L2692.5 893.6L2692.5 894.2L2689.5 894.2L2689.5 894.3L2686.5 894.3L2686.5 895.6L2683.5 895.6L2683.5 895.9L2680.5 895.9L2680.5 892.2L2677.5 892.2L2677.5 894.7L2674.5 894.7L2674.5 893.3L2671.5 893.3L2671.5 894.8L2668.5 894.8L2668.5 894.4L2665.5 894.4L2665.5 891.6L2662.5 891.6L2662.5 893.2L2659.4 893.2L2659.4 895.5L2656.4 895.5L2656.4 893.0L2653.4 893.0L2653.4 892.0L2650.4 892.0L2650.4 891.6L2647.4 891.6L2647.4 894.2L2644.4 894.2L2644.4 895.8L2641.4 895.8L2641.4 894.2L2638.4 894.2L2638.4 892.2L2635.4 892.2L2635.4 892.9L2632.4 892.9L2632.4 893.6L2629.4 893.6L2629.4 891.6L2626.3 891.6L2626.3 892.9L2623.3 892.9L2623.3 891.2L2620.3 891.2L2620.3 895.5L2617.3 895.5L2617.3 894.7L2614.3 894.7L2614.3 894.9L2611.3 894.9L2611.3 893.0L2608.3 893.0L2608.3 895.2L2605.3 895.2L2605.3 893.3L2602.3 893.3L2602.3 894.1L2599.3 894.1L2599.3 891.8L2596.2 891.8L2596.2 894.1L2593.2 894.1L2593.2 891.5L2590.2 891.5L2590.2 891.4L2587.2 891.4L2587.2 891.2L2584.2 891.2L2584.2 894.4L2581.2 894.4L2581.2 895.5L2578.2 895.5L2578.2 895.6L2575.2 895.6L2575.2 893.8L2572.2 893.8L2572.2 894.5L2569.2 894.5L2569.2 895.8L2566.2 895.8L2566.2 895.1L2563.1 895.1L2563.1 892.6L2560.1 892.6L2560.1 894.1L2557.1 894.1L2557.1 894.7L2554.1 894.7L2554.1 891.4L2551.1 891.4L2551.1 894.4L2548.1 894.4L2548.1 893.7L2545.1 893.7L2545.1 896.0L2542.1 896.0L2542.1 891.4L2539.1 891.4L2539.1 895.5L2536.1 895.5L2536.1 894.6L2533.1 894.6L2533.1 895.5L2530.0 895.5L2530.0 892.4L2527.0 892.4L2527.0 895.5L2524.0 895.5L2524.0 891.7L2521.0 891.7L2521.0 893.1L2518.0 893.1L2518.0 895.8L2515.0 895.8L2515.0 894.4L2512.0 894.4L2512.0 893.0L2509.0 893.0L2509.0 896.2L2506.0 896.2L2506.0 895.2L2503.0 895.2L2503.0 891.6L2500.0 891.6L2500.0 895.0L2496.9 895.0L2496.9 896.3L2493.9 896.3L2493.9 895.2L2490.9 895.2L2490.9 892.1L2487.9 892.1L2487.9 895.3L2484.9 895.3L2484.9 892.9L2481.9 892.9L2481.9 892.0L2478.9 892.0L2478.9 895.3L2475.9 895.3L2475.9 892.2L2472.9 892.2L2472.9 894.7L2469.9 894.7L2469.9 896.3L2466.8 896.3L2466.8 894.4L2463.8 894.4L2463.8 893.4L2460.8 893.4L2460.8 896.4L2457.8 896.4L2457.8 894.5L2454.8 894.5L2454.8 893.9L2451.8 893.9L2451.8 892.2L2448.8 892.2L2448.8 891.7L2445.8 891.7L2445.8 894.1L2442.8 894.1L2442.8 895.7L2439.8 895.7L2439.8 892.5L2436.8 892.5L2436.8 892.8L2433.7 892.8L2433.7 891.5L2430.7 891.5L2430.7 892.9L2427.7 892.9L2427.7 894.5L2424.7 894.5L2424.7 891.6L2421.7 891.6L2421.7 893.1L2418.7 893.1L2418.7 893.8L2415.7 893.8L2415.7 892.9L2412.7 892.9L2412.7 896.2L2409.7 896.2L2409.7 893.5L2406.7 893.5L2406.7 891.8L2403.7 891.8L2403.7 895.4L2400.6 895.4L2400.6 895.0L2397.6 895.0L2397.6 894.9L2394.6 894.9L2394.6 893.6L2391.6 893.6L2391.6 894.9L2388.6 894.9L2388.6 892.5L2385.6 892.5L2385.6 894.2L2382.6 894.2L2382.6 893.8L2379.6 893.8L2379.6 893.0L2376.6 893.0L2376.6 895.2L2373.6 895.2L2373.6 894.3L2370.6 894.3L2370.6 893.3L2367.5 893.3L2367.5 896.6L2364.5 896.6L2364.5 897.0L2361.5 897.0L2361.5 893.0L2358.5 893.0L2358.5 894.8L2355.5 894.8L2355.5 894.7L2352.5 894.7L2352.5 894.3L2349.5 894.3L2349.5 896.6L2346.5 896.6L2346.5 894.9L2343.5 894.9L2343.5 896.5L2340.5 896.5L2340.5 896.7L2337.4 896.7L2337.4 894.8L2334.4 894.8L2334.4 892.5L2331.4 892.5L2331.4 893.5L2328.4 893.5L2328.4 895.0L2325.4 895.0L2325.4 894.5L2322.4 894.5L2322.4 893.6L2319.4 893.6L2319.4 895.0L2316.4 895.0L2316.4 895.3L2313.4 895.3L2313.4 893.5L2310.4 893.5L2310.4 895.8L2307.4 895.8L2307.4 894.1L2304.3 894.1L2304.7 894.3L2304.7 891.1L2305.8 891.1L2305.8 887.8L2307.4 887.8L2307.4 884.6L2307.2 884.6L2307.2 881.4L2308.3 881.4L2308.3 878.1L2309.4 878.1L2309.4 875.0L2309.9 875.0L2309.9 871.9L2310.4 871.9L2310.4 868.8L2306.0 868.8L2306.0 865.7L2306.5 865.7L2306.5 862.6L2304.6 862.6L2304.6 859.5L2304.1 859.5L2304.1 856.4L2300.6 856.4L2300.6 853.3L2299.0 853.3L2299.0 850.5L2298.2 850.5L2298.2 847.6L2296.7 847.6L2296.7 844.8L2291.7 844.8L2291.7 841.9L2292.4 841.9L2292.4 839.1L2292.7 839.1L2292.7 836.3L2290.3 836.3L2290.3 833.4L2289.4 835.4L2291.9 835.4L2291.9 828.5L2294.4 828.5L2294.4 826.0L2298.1 826.0L2298.1 822.5L2301.9 822.5L2301.9 820.9L2305.6 820.9L2305.6 822.1L2309.3 822.1L2308.2 826.0L2308.2 828.9L2310.0 828.9L2310.0 831.8L2310.4 831.8L2310.4 834.7L2308.6 834.7L2308.6 837.6L2311.2 837.6L2311.2 840.5L2312.7 840.5L2312.7 843.4L2313.8 843.4L2313.8 846.8L2314.8 846.8L2314.8 850.3L2315.3 850.3L2315.3 853.8L2318.3 853.8L2318.3 857.3L2317.0 857.3L2317.0 860.7L2316.8 860.8L2319.3 860.8L2319.3 860.6L2321.7 860.6L2321.7 864.4L2324.2 864.4L2324.2 867.8L2326.7 867.8L2326.7 867.5L2329.2 867.5L2329.2 871.0L2331.7 871.0L2331.7 873.8L2334.2 873.8L2334.2 874.0L2336.6 874.0L2336.6 873.8L2339.1 873.8L2338.5 878.1L2338.5 875.2L2338.4 875.2L2338.4 872.2L2336.8 872.2L2336.8 869.2L2334.0 869.2L2334.0 866.2L2332.2 866.2L2332.2 863.2L2333.0 863.2L2333.0 860.2L2332.4 860.2L2332.4 857.3L2333.0 857.3L2333.0 854.3L2327.0 854.3L2327.0 851.3L2332.3 851.3L2332.3 848.3L2334.8 848.3L2334.8 844.8L2334.0 844.8L2334.0 841.4L2334.9 841.4L2334.9 837.9L2335.8 837.9L2335.8 834.4L2335.4 834.4L2335.4 830.9L2335.7 830.9L2335.7 827.6L2334.3 827.6L2334.3 824.3L2333.7 824.3L2333.7 821.0L2332.8 821.0L2332.8 818.1L2329.9 818.1L2329.9 815.1L2336.2 815.1L2336.2 812.2L2328.9 812.2L2328.9 809.2L2326.6 809.2L2326.6 806.3L2326.0 806.3L2326.0 803.4L2326.0 803.4L2326.0 800.4L2326.7 800.4L2326.7 797.5L2325.3 797.5L2325.3 794.6L2323.7 794.6L2323.7 791.6L2322.8 791.6L2322.8 788.7L2322.0 788.7L2322.0 785.6L2320.6 785.6L2320.6 782.5L2320.2 782.5L2320.2 779.4L2320.4 779.4L2320.4 776.3L2319.2 776.3L2319.2 773.2L2316.7 773.2L2316.7 770.1L2316.1 770.1L2316.1 767.0L2312.7 767.0L2312.7 763.9L2309.8 763.9L2309.8 760.5L2309.1 760.5L2309.1 757.2L2309.9 757.2L2309.9 753.9L2306.8 753.6L2303.7 753.6L2303.7 754.2L2300.6 754.2L2300.6 749.5L2297.5 749.5L2297.5 750.8L2294.4 750.8L2294.4 747.8L2291.3 747.8L2291.3 749.5L2288.2 749.5L2288.2 752.5L2285.1 752.5L2285.1 752.9L2282.0 752.9L2282.0 754.6L2278.7 754.6L2278.7 751.6L2275.4 751.6L2275.4 753.0L2272.0 753.0L2272.0 747.5L2269.2 747.5L2269.2 747.4L2266.4 747.4L2266.4 745.3L2263.5 745.3L2263.5 747.2L2260.7 747.2L2260.7 742.5L2257.9 742.5L2257.9 742.1L2255.0 742.1L2255.0 738.6L2252.2 738.6L2252.2 741.9L2249.3 741.9L2249.3 741.0L2246.5 741.0L2246.5 739.6L2243.7 739.6L2243.7 740.6L2240.8 740.6L2240.8 734.9L2238.0 734.9L2238.0 734.0L2235.1 734.0L2235.1 734.9L2232.3 734.9L2232.3 734.6L2230.4 734.6L2230.4 729.9L2228.6 729.9L2228.6 727.2L2226.7 727.2L2226.7 723.5L2224.8 723.5L2223.6 721.6L2223.6 718.3L2224.2 718.3L2224.2 715.0L2222.0 715.0L2222.0 711.7L2221.9 711.7L2221.9 708.4L2220.3 708.4L2220.3 705.2L2223.2 705.2L2223.2 702.0L2224.0 702.0L2224.0 698.8L2221.9 698.8L2221.9 695.5L2223.6 695.2L2225.8 695.2L2225.8 699.8L2228.0 699.8L2228.0 699.1L2230.1 699.1L2230.1 702.9L2232.3 702.9L2232.3 704.3L2234.8 704.3L2234.8 700.1L2237.3 700.1L2237.3 698.6L2240.2 698.6L2240.2 697.8L2243.2 697.8L2243.2 700.1L2246.2 700.1L2246.2 696.2L2249.2 696.2L2249.2 687.8L2252.2 687.8L2252.2 695.4L2254.2 695.4L2254.2 697.4L2256.1 697.4L2256.1 702.0L2258.1 702.0L2258.1 702.2L2260.1 702.2L2260.1 708.1L2262.1 708.1L2262.1 707.2L2265.4 707.2L2265.4 707.2L2268.7 707.2L2268.7 704.6L2272.0 704.6L2271.8 704.2L2271.8 701.1L2271.7 701.1L2271.7 698.0L2271.2 698.0L2271.2 694.9L2270.5 694.9L2270.5 691.8L2270.8 692.6L2268.7 692.6L2268.7 686.3L2266.7 686.3L2266.7 685.6L2264.6 685.6L2264.6 673.2L2262.1 673.2L2262.1 678.4L2259.0 678.4L2259.0 679.7L2255.9 679.7L2255.9 676.2L2252.8 676.2L2252.8 678.7L2249.7 678.7L2249.7 677.0L2246.0 677.0L2246.0 677.0L2242.2 677.0L2242.2 674.0L2238.5 674.0L2238.5 676.1L2234.8 676.1L2235.4 674.4L2235.4 671.3L2234.2 671.3L2234.2 668.2L2232.3 666.1L2229.0 666.1L2229.0 667.6L2225.7 667.6L2225.7 665.2L2222.4 665.2L2222.4 663.6L2220.5 663.6L2220.5 663.9L2218.6 663.9L2218.6 660.6L2216.8 660.6L2216.8 659.0L2214.9 659.0L2213.7 654.5L2213.7 651.4L2213.2 651.4L2213.2 648.3L2212.6 648.3L2212.6 645.2L2212.9 645.2L2212.9 642.1L2211.8 642.1L2211.8 639.0L2210.4 639.0L2210.4 635.9L2211.0 635.9L2211.0 632.8L2209.2 632.8L2209.2 629.7Z" fill="#00ffff" />
<path d="M2217.4 849.6L2223.6 852.0L2221.1 857.0Z" fill="#00ffff" />
<path d="M3529.4 529.2L3532.6 529.2L3532.6 529.7L3535.8 529.7L3535.8 527.7L3539.0 527.7L3539.0 526.2L3542.2 526.2L3542.2 526.2L3545.4 526.2L3545.4 528.1L3549.2 528.1L3549.2 522.9L3552.9 522.9L3552.9 527.4L3556.6 527.4L3556.6 529.0L3560.3 529.0L3560.3 520.7L3563.5 520.7L3563.5 530.6L3566.7 530.6L3566.7 529.3L3569.9 529.3L3569.9 531.3L3573.1 531.3L3573.1 533.2L3576.3 533.2L3576.3 534.4L3579.5 534.4L3579.5 532.6L3582.7 532.6L3582.7 534.7L3585.2 534.7L3585.2 537.2L3587.7 537.2L3587.7 538.3L3590.2 538.3L3590.2 543.3L3592.6 543.3L3592.6 551.8L3595.1 551.8L3595.1 545.7L3597.6 545.7L3597.6 549.6L3600.7 549.6L3600.7 549.6L3603.8 549.6L3603.8 552.8L3606.9 552.8L3606.8 555.9L3606.8 559.6L3605.1 558.8L3602.1 558.8L3602.1 556.7L3599.1 556.7L3599.1 560.4L3596.1 560.4L3596.1 564.6L3593.1 564.6L3593.1 556.9L3590.2 556.9L3590.2 557.4L3587.1 557.4L3587.1 553.7L3583.9 553.7L3583.9 551.7L3580.8 551.7L3580.8 553.1L3577.7 553.1L3577.7 549.9L3574.6 549.9L3574.6 545.9L3571.5 545.9L3571.5 546.9L3568.4 546.9L3568.4 547.5L3565.3 547.5L3565.3 554.6L3562.2 554.6L3562.2 544.6L3559.1 544.6L3559.1 542.0L3556.0 542.0L3556.0 544.7L3552.9 544.7L3552.9 544.1L3549.8 544.1L3549.8 542.6L3546.7 542.6L3546.7 543.3L3543.6 543.3L3543.6 541.6L3540.5 541.6L3540.5 538.9L3537.4 538.9L3537.4 538.0L3534.3 538.0L3533.3 539.1L3533.3 536.0L3532.9 536.0L3532.9 532.9L3534.4 532.9L3534.4 529.8Z" fill="#00ffff" />
<path d="M3545.4 562.0L3548.4 562.0L3548.4 561.7L3551.4 561.7L3551.4 559.8L3554.4 559.8L3554.4 558.6L3557.4 558.6L3557.4 556.7L3560.3 556.7L3560.3 556.2L3563.3 556.2L3563.3 560.1L3566.3 560.1L3566.3 560.6L3569.3 560.6L3569.3 560.0L3572.3 560.0L3572.3 560.4L3575.3 560.4L3575.3 557.3L3578.2 557.3L3578.2 563.6L3581.2 563.6L3581.2 561.3L3584.2 561.3L3584.2 564.4L3587.2 564.4L3587.2 568.1L3590.2 568.1L3590.2 569.5L3592.6 569.5L3592.6 569.3L3595.1 569.3L3595.1 573.4L3597.6 573.4L3597.6 577.0L3600.1 577.0L3600.1 567.3L3602.6 567.3L3602.6 583.5L3605.1 583.5L3605.7 580.1L3605.7 583.9L3603.2 589.7L3599.9 589.7L3599.9 582.3L3596.5 582.3L3596.5 583.7L3593.1 583.7L3593.1 581.3L3589.8 581.3L3589.8 580.9L3586.4 580.9L3586.4 589.0L3583.3 589.0L3583.3 576.9L3580.2 576.9L3580.2 576.5L3577.1 576.5L3577.1 576.2L3574.0 576.2L3574.0 575.4L3570.9 575.4L3570.9 575.1L3567.8 575.1L3567.8 570.9L3564.7 570.9L3564.7 570.1L3561.6 570.1L3561.6 569.7L3558.5 569.7L3558.5 568.9L3555.4 568.9L3555.4 572.0L3552.3 572.0L3552.3 568.5L3549.2 568.5L3548.7 569.0L3548.7 565.2L3546.2 565.2L3546.2 561.5Z" fill="#00ffff" />
<path d="M1949.0 892.7L1952.0 892.7L1952.0 891.9L1955.0 891.9L1955.0 893.0L1958.1 893.0L1958.1 895.4L1961.1 895.4L1961.1 891.1L1964.1 891.1L1964.1 899.0L1967.1 899.0L1967.1 893.3L1970.1 893.3L1970.1 890.8L1973.2 890.8L1973.2 892.8L1976.2 892.8L1976.2 891.2L1979.2 891.2L1979.2 893.1L1982.2 893.1L1982.2 893.4L1985.2 893.4L1985.2 894.9L1988.3 894.9L1988.3 892.4L1991.3 892.4L1991.3 891.8L1994.3 891.8L1994.3 891.8L1997.3 891.8L1997.3 894.4L2000.3 894.4L2000.3 890.6L2003.4 890.6L2003.4 890.1L2006.4 890.1L2006.4 894.4L2009.4 894.4L2009.4 890.4L2012.4 890.4L2012.4 893.9L2015.4 893.9L2015.4 891.0L2018.5 891.0L2018.5 891.7L2021.5 891.7L2021.5 891.4L2024.5 891.4L2024.5 890.0L2027.5 890.0L2027.5 893.9L2030.5 893.9L2030.5 889.5L2033.6 889.5L2033.6 894.2L2036.6 894.2L2036.6 890.8L2039.6 890.8L2039.6 891.8L2042.6 891.8L2042.6 892.6L2045.6 892.6L2045.6 889.2L2048.7 889.2L2048.7 891.7L2051.7 891.7L2051.7 889.5L2054.7 889.5L2054.7 888.9L2057.7 888.9L2057.7 889.4L2060.7 889.4L2060.7 889.2L2063.8 889.2L2063.8 891.0L2066.8 891.0L2066.8 893.4L2069.8 893.4L2069.8 893.0L2072.8 893.0L2072.8 889.7L2075.8 889.7L2075.8 892.8L2078.9 892.8L2078.9 897.4L2081.9 897.4L2081.9 890.1L2084.9 890.1L2084.9 889.1L2087.9 889.1L2087.9 897.9L2090.9 897.9L2090.9 889.7L2094.0 889.7L2094.0 891.4L2097.0 891.4L2097.0 890.8L2100.0 890.8L2100.0 890.7L2103.0 890.7L2103.0 888.5L2106.1 888.5L2106.1 892.3L2109.1 892.3L2109.1 889.9L2112.1 889.9L2112.1 890.3L2115.2 890.3L2115.2 889.5L2118.2 889.5L2118.2 892.7L2121.2 892.7L2121.2 893.2L2124.2 893.2L2124.2 891.6L2127.3 891.6L2127.3 890.7L2130.3 890.7L2130.3 890.2L2133.3 890.2L2133.3 893.1L2136.4 893.1L2136.4 891.6L2139.4 891.6L2139.4 890.2L2142.4 890.2L2142.4 884.4L2145.5 884.4L2145.5 889.7L2148.5 889.7L2148.5 893.0L2151.5 893.0L2151.5 891.7L2154.5 891.7L2154.5 890.6L2157.6 890.6L2157.6 892.4L2160.6 892.4L2160.6 888.2L2163.6 888.2L2163.6 890.4L2166.7 890.4L2166.7 884.9L2169.7 884.9L2169.7 888.6L2172.7 888.6L2172.7 889.5L2175.8 889.5L2175.8 890.2L2178.8 890.2L2178.8 891.6L2181.8 891.6L2181.8 890.0L2184.8 890.0L2184.8 888.6L2187.9 888.6L2187.9 890.3L2190.9 890.3L2190.9 889.1L2193.9 889.1L2193.9 888.9L2197.0 888.9L2197.0 888.9L2200.0 888.9L2200.0 892.0L2203.0 892.0L2203.0 890.4L2206.1 890.4L2206.1 890.7L2209.1 890.7L2209.1 894.2L2212.1 894.2L2212.1 892.3L2215.2 892.3L2215.2 892.1L2218.2 892.1L2218.2 888.1L2221.2 888.1L2221.2 888.5L2224.2 888.5L2224.2 891.9L2227.3 891.9L2227.3 887.9L2230.3 887.9L2230.3 887.9L2233.3 887.9L2233.3 891.1L2236.4 891.1L2236.4 889.6L2239.4 889.6L2239.4 889.8L2242.4 889.8L2242.4 892.7L2245.5 892.7L2245.5 891.9L2248.5 891.9L2248.5 890.9L2251.5 890.9L2251.5 890.9L2254.5 890.9L2254.5 888.3L2257.6 888.3L2257.6 891.4L2260.6 891.4L2260.6 888.7L2263.6 888.7L2263.6 890.1L2266.7 890.1L2266.7 890.2L2269.7 890.2L2269.7 888.1L2272.7 888.1L2272.7 890.5L2275.8 890.5L2275.8 885.3L2278.8 885.3L2278.8 892.6L2281.8 892.6L2281.8 888.7L2284.8 888.7L2284.8 887.7L2287.9 887.7L2287.9 888.1L2290.9 888.1L2290.9 892.2L2293.9 892.2L2293.9 890.9L2297.0 890.9L2297.0 887.9L2300.0 887.9L2300.0 889.1L2303.0 889.1L2303.0 887.8L2306.1 887.8L2306.1 891.2L2309.1 891.2L2309.1 888.5L2312.1 888.5L2312.1 892.2L2315.2 892.2L2315.2 889.4L2318.2 889.4L2318.2 890.2L2321.2 890.2L2321.2 892.2L2324.2 892.2L2324.2 888.6L2327.3 888.6L2327.3 891.5L2330.3 891.5L2330.3 892.1L2333.3 892.1L2333.3 891.3L2336.4 891.3L2336.4 888.1L2339.4 888.1L2339.4 888.7L2342.4 888.7L2342.4 891.4L2345.5 891.4L2345.5 887.2L2348.5 887.2L2348.5 888.0L2351.5 888.0L2351.5 888.4L2354.5 888.4L2354.5 890.3L2357.6 890.3L2357.6 888.5L2360.6 888.5L2360.6 887.4L2363.6 887.4L2363.6 889.8L2366.7 889.8L2366.7 887.8L2369.7 887.8L2369.7 889.4L2372.7 889.4L2372.7 888.0L2375.8 888.0L2375.8 889.2L2378.8 889.2L2378.8 888.1L2381.8 888.1L2381.8 887.0L2384.8 887.0L2384.8 887.8L2387.9 887.8L2387.9 888.7L2390.9 888.7L2390.9 887.9L2393.9 887.9L2393.9 888.4L2397.0 888.4L2397.0 887.2L2400.0 887.2L2400.0 889.0L2403.0 889.0L2403.0 887.8L2406.1 887.8L2406.1 887.9L2409.1 887.9L2409.1 891.2L2412.1 891.2L2412.1 887.2L2415.2 887.2L2415.2 890.6L2418.2 890.6L2418.2 890.9L2421.2 890.9L2421.2 888.3L2424.2 888.3L2424.2 890.6L2427.3 890.6L2427.3 887.9L2430.3 887.9L2430.3 887.4L2433.3 887.4L2433.3 879.0L2436.4 879.0L2436.4 888.0L2439.4 888.0L2439.4 887.3L2442.4 887.3L2442.4 887.0L2445.5 887.0L2445.5 891.2L2448.5 891.2L2448.5 880.9L2451.5 880.9L2451.5 886.5L2454.5 886.5L2454.5 896.4L2457.6 896.4L2457.6 889.8L2460.6 889.8L2460.6 891.1L2463.6 891.1L2463.6 890.7L2466.7 890.7L2466.7 888.2L2469.7 888.2L2469.7 888.4L2472.7 888.4L2472.7 890.4L2475.8 890.4L2475.8 895.1L2478.8 895.1L2478.8 890.8L2481.8 890.8L2481.8 887.3L2484.8 887.3L2484.8 890.3L2487.9 890.3L2487.9 888.0L2490.9 888.0L2490.9 887.4L2493.9 887.4L2493.9 888.4L2497.0 888.4L2497.0 889.0L2500.0 889.0L2500.0 888.7L2503.0 888.7L2503.0 886.8L2506.0 886.8L2506.0 887.0L2509.0 887.0L2509.0 889.0L2512.1 889.0L2512.1 890.0L2515.1 890.0L2515.1 889.5L2518.1 889.5L2518.1 886.8L2521.1 886.8L2521.1 887.0L2524.1 887.0L2524.1 887.0L2527.1 887.0L2527.1 889.7L2530.1 889.7L2530.1 889.5L2533.1 889.5L2533.1 889.4L2536.2 889.4L2536.2 891.0L2539.2 891.0L2539.2 887.9L2542.2 887.9L2542.2 890.0L2545.2 890.0L2545.2 890.3L2548.2 890.3L2548.2 888.1L2551.2 888.1L2551.2 886.6L2554.2 886.6L2554.2 886.4L2557.2 886.4L2557.2 888.0L2560.3 888.0L2560.3 889.2L2563.3 889.2L2563.3 890.1L2566.3 890.1L2566.3 886.3L2569.3 886.3L2569.3 889.1L2572.3 889.1L2572.3 885.5L2575.3 885.5L2575.3 883.1L2578.3 883.1L2578.3 886.6L2581.3 886.6L2581.3 887.5L2584.4 887.5L2584.4 888.5L2587.4 888.5L2587.4 887.3L2590.4 887.3L2590.4 887.1L2593.4 887.1L2593.4 887.4L2596.4 887.4L2596.4 888.2L2599.4 888.2L2599.4 888.3L2602.4 888.3L2602.4 887.7L2605.4 887.7L2605.4 886.8L2608.5 886.8L2608.5 886.5L2611.5 886.5L2611.5 890.0L2614.5 890.0L2614.5 888.5L2617.5 888.5L2617.5 888.1L2620.5 888.1L2620.5 886.3L2623.5 886.3L2623.5 880.4L2626.5 880.4L2626.5 887.0L2629.6 887.0L2629.6 888.3L2632.6 888.3L2632.6 888.4L2635.6 888.4L2635.6 888.9L2638.6 888.9L2638.6 889.8L2641.6 889.8L2641.6 885.5L2644.6 885.5L2644.6 887.4L2647.6 887.4L2647.6 886.8L2650.6 886.8L2650.6 889.7L2653.7 889.7L2653.7 887.3L2656.7 887.3L2656.7 888.1L2659.7 888.1L2659.7 886.2L2662.7 886.2L2662.7 888.4L2665.7 888.4L2665.7 887.9L2668.7 887.9L2668.7 887.8L2671.7 887.8L2671.7 889.5L2674.7 889.5L2674.7 889.6L2677.8 889.6L2677.8 885.7L2680.8 885.7L2680.8 888.4L2683.8 888.4L2683.8 887.1L2686.8 887.1L2686.8 886.7L2689.8 886.7L2689.8 885.8L2692.8 885.8L2692.8 887.7L2695.8 887.7L2695.8 887.3L2698.8 887.3L2698.8 895.4L2701.9 895.4L2701.9 887.9L2704.9 887.9L2704.9 886.8L2707.9 886.8L2707.9 885.9L2710.9 885.9L2710.9 886.7L2713.9 886.7L2713.9 886.0L2716.9 886.0L2716.9 884.7L2719.9 884.7L2719.9 888.9L2722.9 888.9L2722.9 886.1L2726.0 886.1L2726.0 886.6L2729.0 886.6L2729.0 882.2L2732.0 882.2L2732.0 889.3L2735.0 889.3L2735.3 887.0L2735.3 890.0L2734.8 890.0L2734.8 893.1L2736.5 893.1L2736.5 896.1L2735.6 896.1L2735.6 899.2L2735.7 899.2L2735.7 902.2L2736.4 902.2L2736.4 905.3L2735.5 905.3L2735.5 908.3L2737.9 908.3L2737.9 911.3L2735.3 911.3L2735.3 914.4L2734.3 914.4L2734.3 917.4L2736.2 917.4L2736.2 920.5L2735.0 920.5L2735.0 923.5L2736.1 923.5L2736.1 926.6L2734.2 926.6L2734.2 929.6L2734.6 929.6L2734.6 932.7L2733.5 932.7L2733.5 935.7L2734.0 935.7L2734.0 938.7L2734.6 938.7L2734.6 941.8L2735.8 941.8L2735.8 944.8L2736.7 944.8L2736.7 947.9L2734.5 947.9L2734.5 950.9L2735.1 950.9L2735.1 954.0L2734.4 954.0L2734.4 957.0L2735.0 958.4L2732.0 958.4L2732.0 957.9L2729.0 957.9L2729.0 958.6L2726.0 958.6L2726.0 957.9L2723.0 957.9L2723.0 956.2L2720.0 956.2L2720.0 954.9L2717.0 954.9L2717.0 955.0L2714.0 955.0L2714.0 958.9L2711.0 958.9L2711.0 957.9L2708.0 957.9L2708.0 955.7L2705.0 955.7L2705.0 956.2L2702.0 956.2L2702.0 958.9L2699.0 958.9L2699.0 957.2L2696.0 957.2L2696.0 956.2L2693.0 956.2L2693.0 954.6L2690.0 954.6L2690.0 954.6L2687.0 954.6L2687.0 956.0L2684.0 956.0L2684.0 962.3L2681.0 962.3L2681.0 955.3L2678.0 955.3L2678.0 958.2L2675.0 958.2L2675.0 958.5L2672.0 958.5L2672.0 955.3L2669.0 955.3L2669.0 956.6L2666.0 956.6L2666.0 955.9L2663.0 955.9L2663.0 957.2L2660.0 957.2L2660.0 955.5L2657.0 955.5L2657.0 955.2L2654.0 955.2L2654.0 958.2L2651.0 958.2L2651.0 956.3L2648.0 956.3L2648.0 956.3L2645.0 956.3L2645.0 959.2L2642.0 959.2L2642.0 955.4L2639.0 955.4L2639.0 955.3L2636.0 955.3L2636.0 956.6L2633.0 956.6L2633.0 957.9L2630.0 957.9L2630.0 958.7L2627.0 958.7L2627.0 959.4L2624.0 959.4L2624.0 958.0L2621.0 958.0L2621.0 958.5L2618.0 958.5L2618.0 956.4L2615.0 956.4L2615.0 957.3L2612.0 957.3L2612.0 955.8L2609.0 955.8L2609.0 955.5L2606.0 955.5L2606.0 956.9L2603.0 956.9L2603.0 951.9L2600.0 951.9L2600.0 957.1L2597.0 957.1L2597.0 955.2L2594.0 955.2L2594.0 957.6L2591.0 957.6L2591.0 960.6L2588.0 960.6L2588.0 959.2L2585.0 959.2L2585.0 959.1L2582.0 959.1L2582.0 958.4L2579.0 958.4L2579.0 956.3L2576.0 956.3L2576.0 948.6L2573.0 948.6L2573.0 958.2L2570.0 958.2L2570.0 958.8L2567.0 958.8L2567.0 961.5L2564.0 961.5L2564.0 955.9L2561.0 955.9L2561.0 956.4L2558.0 956.4L2558.0 957.8L2555.0 957.8L2555.0 957.4L2552.0 957.4L2552.0 955.6L2549.0 955.6L2549.0 955.1L2546.0 955.1L2546.0 955.8L2543.0 955.8L2543.0 955.8L2540.0 955.8L2540.0 956.6L2537.0 956.6L2537.0 957.2L2534.0 957.2L2534.0 958.2L2531.0 958.2L2531.0 948.8L2528.0 948.8L2528.0 958.3L2525.0 958.3L2525.0 958.0L2522.0 958.0L2522.0 957.1L2519.0 957.1L2519.0 955.0L2516.0 955.0L2516.0 954.6L2513.0 954.6L2513.0 956.7L2510.0 956.7L2510.0 958.7L2507.0 958.7L2507.0 957.5L2504.0 957.5L2504.0 957.9L2501.0 957.9L2501.0 955.8L2498.0 955.8L2498.0 955.3L2495.0 955.3L2495.0 956.7L2492.0 956.7L2492.0 958.9L2489.0 958.9L2489.0 955.5L2486.0 955.5L2486.0 956.3L2483.0 956.3L2483.0 958.0L2480.0 958.0L2480.0 955.8L2477.0 955.8L2477.0 958.2L2474.0 958.2L2474.0 958.8L2471.0 958.8L2471.0 955.0L2468.0 955.0L2468.0 957.2L2465.0 957.2L2465.0 957.9L2462.0 957.9L2462.0 961.2L2459.0 961.2L2459.0 958.3L2456.0 958.3L2456.0 957.4L2453.0 957.4L2453.0 956.2L2450.0 956.2L2450.0 957.1L2447.0 957.1L2447.0 957.7L2444.0 957.7L2444.0 955.8L2441.0 955.8L2441.0 956.1L2438.0 956.1L2438.0 956.6L2435.0 956.6L2435.0 958.3L2432.0 958.3L2432.0 958.0L2429.0 958.0L2429.0 959.2L2426.0 959.2L2426.0 957.3L2423.0 957.3L2423.0 956.2L2420.0 956.2L2420.0 958.1L2417.0 958.1L2417.0 954.8L2414.0 954.8L2414.0 956.5L2411.0 956.5L2411.0 957.5L2408.0 957.5L2408.0 959.2L2405.0 959.2L2405.0 958.3L2402.0 958.3L2402.0 958.1L2399.0 958.1L2399.0 957.9L2396.0 957.9L2396.0 959.1L2393.0 959.1L2393.0 957.4L2390.0 957.4L2390.0 956.8L2387.0 956.8L2387.0 957.5L2384.0 957.5L2384.0 965.3L2381.0 965.3L2381.0 959.2L2378.0 959.2L2378.0 958.5L2375.0 958.5L2375.0 957.7L2372.0 957.7L2372.0 958.9L2369.0 958.9L2369.0 956.6L2366.0 956.6L2366.0 959.2L2363.0 959.2L2363.0 959.2L2360.0 959.2L2360.0 958.1L2357.0 958.1L2357.0 960.2L2354.0 960.2L2354.0 956.9L2351.0 956.9L2351.0 957.7L2348.0 957.7L2348.0 952.6L2345.0 952.6L2345.0 955.1L2342.0 955.1L2342.0 959.4L2339.0 959.4L2339.0 965.3L2336.0 965.3L2336.0 958.3L2333.0 958.3L2333.0 957.6L2330.0 957.6L2330.0 958.6L2327.0 958.6L2327.0 956.2L2324.0 956.2L2324.0 956.1L2321.0 956.1L2321.0 954.9L2318.0 954.9L2318.0 957.0L2315.0 957.0L2315.0 956.7L2312.0 956.7L2312.0 956.3L2309.0 956.3L2309.0 955.1L2306.0 955.1L2306.0 957.2L2303.0 957.2L2303.0 954.7L2300.0 954.7L2300.0 956.8L2297.0 956.8L2297.0 954.8L2294.0 954.8L2294.0 958.9L2291.0 958.9L2291.0 954.7L2288.0 954.7L2288.0 956.7L2285.0 956.7L2285.0 956.7L2282.0 956.7L2282.0 957.8L2279.0 957.8L2279.0 959.4L2276.0 959.4L2276.0 955.6L2273.0 955.6L2273.0 958.1L2270.0 958.1L2270.0 958.8L2267.0 958.8L2267.0 955.7L2264.0 955.7L2264.0 957.5L2261.0 957.5L2261.0 957.5L2258.0 957.5L2258.0 955.5L2255.0 955.5L2255.0 956.6L2252.0 956.6L2252.0 957.7L2249.0 957.7L2249.0 956.8L2246.0 956.8L2246.0 958.9L2243.0 958.9L2243.0 957.6L2240.0 957.6L2240.0 959.4L2237.0 959.4L2237.0 956.4L2234.0 956.4L2234.0 954.7L2231.0 954.7L2231.0 955.5L2228.0 955.5L2228.0 957.6L2225.0 957.6L2225.0 954.6L2222.0 954.6L2222.0 959.2L2219.0 959.2L2219.0 956.4L2216.0 956.4L2216.0 955.2L2213.0 955.2L2213.0 958.3L2210.0 958.3L2210.0 955.9L2207.0 955.9L2207.0 956.8L2204.0 956.8L2204.0 951.8L2201.0 951.8L2201.0 954.7L2198.0 954.7L2198.0 956.6L2195.0 956.6L2195.0 958.3L2192.0 958.3L2192.0 958.5L2189.0 958.5L2189.0 958.6L2186.0 958.6L2186.0 958.4L2183.0 958.4L2183.0 959.2L2180.0 959.2L2180.0 954.6L2177.0 954.6L2177.0 959.1L2174.0 959.1L2174.0 956.6L2171.0 956.6L2171.0 955.0L2168.0 955.0L2168.0 956.7L2165.0 956.7L2165.0 954.5L2162.0 954.5L2162.0 956.6L2159.0 956.6L2159.0 957.1L2156.0 957.1L2156.0 955.4L2153.0 955.4L2153.0 958.3L2150.0 958.3L2150.0 957.4L2147.0 957.4L2147.0 955.5L2144.0 955.5L2144.0 956.0L2141.0 956.0L2141.0 955.5L2138.0 955.5L2138.0 955.8L2135.0 955.8L2135.0 950.1L2132.0 950.1L2132.0 955.8L2129.0 955.8L2129.0 958.0L2126.0 958.0L2126.0 956.7L2123.0 956.7L2123.0 956.3L2120.0 956.3L2120.0 958.9L2117.0 958.9L2117.0 958.5L2114.0 958.5L2114.0 962.2L2111.0 962.2L2111.0 959.2L2108.0 959.2L2108.0 958.6L2105.0 958.6L2105.0 955.2L2102.0 955.2L2102.0 956.5L2099.0 956.5L2099.0 955.3L2096.0 955.3L2096.0 957.0L2093.0 957.0L2093.0 957.5L2090.0 957.5L2090.0 958.0L2087.0 958.0L2087.0 959.3L2084.0 959.3L2084.0 964.7L2081.0 964.7L2081.0 955.8L2078.0 955.8L2078.0 955.3L2075.0 955.3L2075.0 957.4L2072.0 957.4L2072.0 959.1L2069.0 959.1L2069.0 955.6L2066.0 955.6L2066.0 955.7L2063.0 955.7L2063.0 954.6L2060.0 954.6L2060.0 958.5L2057.0 958.5L2057.0 957.8L2054.0 957.8L2054.0 957.9L2051.0 957.9L2051.0 955.1L2048.0 955.1L2048.0 955.8L2045.0 955.8L2045.0 967.2L2042.0 967.2L2042.0 955.3L2039.0 955.3L2039.0 956.9L2036.0 956.9L2036.0 958.7L2033.0 958.7L2033.0 956.6L2030.0 956.6L2030.0 958.0L2027.0 958.0L2027.0 959.2L2024.0 959.2L2024.0 957.5L2021.0 957.5L2021.0 955.1L2018.0 955.1L2018.0 956.5L2015.0 956.5L2015.0 956.1L2012.0 956.1L2012.0 954.0L2009.0 954.0L2009.0 960.4L2006.0 960.4L2006.0 957.5L2003.0 957.5L2003.0 956.5L2000.0 956.5L2000.0 955.2L1997.0 955.2L1997.0 956.9L1994.0 956.9L1994.0 958.7L1991.0 958.7L1991.0 957.2L1988.0 957.2L1988.0 956.9L1985.0 956.9L1985.0 957.3L1982.0 957.3L1982.0 958.0L1979.0 958.0L1979.0 958.7L1976.0 958.7L1976.0 954.7L1973.0 954.7L1973.0 954.6L1970.0 954.6L1970.0 956.5L1967.0 956.5L1967.0 955.8L1964.0 955.8L1964.0 956.3L1961.0 956.3L1961.0 956.4L1958.0 956.4L1958.0 956.0L1955.0 956.0L1955.0 956.9L1952.0 956.9L1952.0 955.0L1949.0 955.0L1949.0 957.0L1949.0 954.0L1950.5 954.0L1950.5 950.9L1950.3 950.9L1950.3 947.9L1947.6 947.9L1947.6 944.8L1951.9 944.8L1951.9 941.8L1948.6 941.8L1948.6 938.7L1948.6 938.7L1948.6 935.7L1949.3 935.7L1949.3 932.6L1948.8 932.6L1948.8 929.6L1948.8 929.6L1948.8 926.5L1949.9 926.5L1949.9 923.5L1950.1 923.5L1950.1 920.4L1949.2 920.4L1949.2 917.4L1950.1 917.4L1950.1 914.3L1949.3 914.3L1949.3 911.3L1947.6 911.3L1947.6 908.2L1951.3 908.2L1951.3 905.2L1949.1 905.2L1949.1 902.1L1948.8 902.1L1948.8 899.1L1948.3 899.1L1948.3 896.0L1949.4 896.0L1949.4 893.0Z" fill="#00ffff" />
<path d="M1922.0 895.9L1946.8 895.9L1949.3 913.3L1939.4 910.8L1929.4 915.8L1922.0 908.3Z" fill="#00ffff" />
<path d="M2797.4 941.1L2801.5 914.9L2807.5 941.1Z" fill="#00ffff" />
<path d="M2841.9 941.1L2849.9 900.7L2858.0 941.1Z" fill="#00ffff" />
<path d="M2870.1 941.1L2875.2 925.0L2882.2 941.1Z" fill="#00ffff" />
<path d="M2886.3 941.1L2891.3 929.0L2896.4 941.1Z" fill="#00ffff" />
<path d="M3080.0 908.8L3090.1 916.9L3094.2 929.0L3090.1 933.0L3082.1 920.9Z" fill="#00ffff" />
<path d="M3136.6 941.1L3138.6 914.9L3144.6 916.9L3150.7 929.0L3148.7 941.1Z" fill="#00ffff" />
<path d="M2815.6 941.1L2819.7 929.0L2825.7 941.1Z" fill="#00ffff" />
<path d="M2952.9 941.1L2954.9 914.9L2958.9 941.1Z" fill="#00ffff" />
<path d="M3344.0 912.9L3349.0 916.9L3348.0 927.0L3345.0 922.9Z" fill="#00ffff" />
<path d="M2831.3 941.0L2835.7 924.1L2838.8 927.5L2843.8 941.0Z" fill="#00ffff" />
<path d="M2980.9 941.0L2985.6 931.4L2989.0 933.3L2994.4 941.0Z" fill="#00ffff" />
<path d="M2737.4 941.0L2743.0 926.8L2747.0 929.6L2753.4 941.0Z" fill="#00ffff" />
<path d="M2827.1 941.0L2833.4 921.7L2837.9 925.6L2845.0 941.0Z" fill="#00ffff" />
<path d="M3077.1 941.0L3081.2 917.7L3084.1 922.3L3088.8 941.0Z" fill="#00ffff" />
<path d="M2794.9 941.0L2799.7 912.2L2803.1 917.9L2808.6 941.0Z" fill="#00ffff" />
<path d="M2947.1 941.0L2952.3 916.9L2956.0 921.7L2962.0 941.0Z" fill="#00ffff" />
<path d="M2758.7 941.0L2764.0 918.8L2767.8 923.3L2773.8 941.0Z" fill="#00ffff" />
<path d="M2860.3 941.0L2862.6 912.2L2864.2 918.0L2866.7 941.0Z" fill="#00ffff" />
<path d="M2926.5 941.0L2931.6 911.9L2935.3 917.7L2941.1 941.0Z" fill="#00ffff" />
<path d="M3024.3 941.0L3030.2 923.5L3034.5 927.0L3041.3 941.0Z" fill="#00ffff" />
<path d="M3062.7 941.0L3066.7 910.5L3069.5 916.6L3074.0 941.0Z" fill="#00ffff" />
<path d="M3096.8 941.0L3099.3 929.7L3101.1 932.0L3103.9 941.0Z" fill="#00ffff" />
<path d="M2820.2 941.0L2826.3 922.5L2830.7 926.2L2837.8 941.0Z" fill="#00ffff" />
<path d="M2992.1 941.0L2995.5 920.8L2997.9 924.9L3001.7 941.0Z" fill="#00ffff" />
<path d="M2893.1 941.0L2896.7 919.0L2899.2 923.4L2903.3 941.0Z" fill="#00ffff" />
<path d="M2971.1 941.0L2977.0 916.6L2981.2 921.5L2988.0 941.0Z" fill="#00ffff" />
<path d="M3112.7 941.0L3118.4 909.2L3122.5 915.6L3129.0 941.0Z" fill="#00ffff" />
<path d="M3011.2 941.0L3014.0 912.3L3016.0 918.1L3019.2 941.0Z" fill="#00ffff" />
<path d="M3127.1 941.0L3133.0 919.3L3137.2 923.7L3143.9 941.0Z" fill="#00ffff" />
<path d="M3028.4 941.0L3031.4 913.0L3033.5 918.6L3036.9 941.0Z" fill="#00ffff" />
<path d="M2970.4 941.0L2973.7 931.5L2976.1 933.4L2979.9 941.0Z" fill="#00ffff" />
<path d="M3081.2 941.0L3087.4 930.9L3091.9 932.9L3099.1 941.0Z" fill="#00ffff" />
<path d="M3062.8 941.0L3066.6 929.4L3069.3 931.7L3073.7 941.0Z" fill="#00ffff" />
<path d="M2852.9 941.0L2858.2 912.1L2862.0 917.8L2868.1 941.0Z" fill="#00ffff" />
<path d="M2751.4 941.0L2756.1 931.9L2759.5 933.7L2764.8 941.0Z" fill="#00ffff" />
<path d="M2705.0 889.0L2709.7 870.7L2714.3 889.0Z" fill="#00ffff" />
<path d="M2727.7 889.0L2733.3 869.0L2738.8 889.0Z" fill="#00ffff" />
<path d="M2669.5 889.0L2672.9 874.6L2676.3 889.0Z" fill="#00ffff" />
<path d="M2643.8 889.0L2647.8 877.3L2651.8 889.0Z" fill="#00ffff" />
<path d="M2696.2 889.0L2699.9 882.4L2703.7 889.0Z" fill="#00ffff" />
<path d="M2718.5 889.0L2723.1 869.6L2727.7 889.0Z" fill="#00ffff" />
<path d="M2720.8 889.0L2725.7 876.6L2730.6 889.0Z" fill="#00ffff" />
<path d="M2685.6 889.0L2691.8 874.7L2698.0 889.0Z" fill="#00ffff" />
<path d="M2689.2 889.0L2695.3 869.8L2701.4 889.0Z" fill="#00ffff" />
<path d="M2685.5 889.0L2690.6 872.9L2695.8 889.0Z" fill="#00ffff" />
<path d="M2734.9 943.1L3160.0 946.2L3160.0 953.2L2734.9 953.2Z" fill="url(#c60)" />
<path d="M2765.2 880.6L2781.3 877.5L2801.5 880.6L2801.5 886.6L2765.2 886.6Z" fill="url(#c60)" />
<path d="M3178.4 884.6L3188.5 884.6L3194.6 894.7L3204.7 891.7L3210.7 896.7L3206.7 910.8L3198.6 916.9L3194.6 924.0L3188.5 920.9L3182.5 908.8L3179.5 900.7Z" fill="url(#c60)" />
<path d="M3265.2 898.7L3273.3 891.7L3297.5 894.7L3307.6 896.7L3311.7 908.8L3319.7 933.0L3331.9 941.1L3291.5 941.1L3283.4 925.0L3271.3 929.0L3265.2 920.9Z" fill="url(#c60)" />
<path d="M3136.1 918.9L3142.1 912.9L3150.2 925.0L3150.2 941.1L3140.1 941.1Z" fill="url(#c60)" />
<path d="M3130.0 946.2L3453.0 947.6L3453.0 952.8L3130.0 952.2Z" fill="url(#c60)" />
<clipPath id="cyc"><path d="M267.9 953.3L267.9 949.0L268.3 949.0L268.3 944.6L268.7 939.6L273.1 939.6L273.1 943.3L277.5 943.3L277.5 944.8L280.1 944.8L280.1 939.2L282.6 939.2L282.6 938.4L285.2 938.4L285.2 934.5L289.1 934.5L289.1 939.1L292.0 939.1L292.0 940.8L294.9 940.8L294.9 938.9L297.8 938.9L297.8 935.5L300.8 935.5L300.8 936.9L304.6 936.9L304.6 936.7L308.5 936.7L308.5 935.4L312.4 935.4L312.4 935.3L316.3 935.3L316.3 934.4L320.2 934.4L320.2 937.1L324.1 937.1L324.1 940.4L327.0 940.4L327.0 943.3L329.9 943.3L329.9 941.7L333.1 941.7L333.1 943.9L336.3 943.9L336.3 943.8L339.6 943.8L339.6 944.7L342.5 944.7L342.5 941.0L345.4 941.0L345.4 941.5L349.3 941.5L349.3 938.3L353.2 938.3L353.2 936.9L357.0 936.9L357.0 939.5L360.9 939.5L360.9 938.5L364.8 938.5L364.8 939.7L368.7 939.7L368.7 938.4L372.6 938.4L372.6 938.6L376.5 938.6L376.5 939.0L380.3 939.0L380.3 928.3L384.2 928.3L384.2 939.7L388.1 939.7L388.1 934.0L386.2 934.0L386.2 930.2L384.2 930.2L384.2 929.0L381.8 929.0L381.8 928.8L379.4 928.8L380.9 924.2L380.9 919.4L377.4 917.2L379.7 917.2L379.7 917.6L382.0 917.6L382.0 912.9L384.2 912.9L384.2 908.6L387.5 908.6L387.5 911.9L390.7 911.9L390.7 911.9L393.9 911.9L393.9 911.3L396.4 911.3L396.4 914.6L398.8 914.6L398.8 915.6L400.4 915.6L400.4 913.3L402.0 913.3L402.0 916.0L403.6 916.0L403.6 906.4L406.5 906.4L407.3 905.8L407.3 902.9L404.6 902.9L404.6 900.0L405.3 900.0L405.3 897.0L402.7 896.4L400.4 896.4L400.4 888.4L398.1 888.4L398.1 892.1L395.9 892.1L395.6 887.3L395.6 884.1L393.7 884.1L393.7 880.9L394.6 880.9L394.6 877.6L393.3 877.6L393.3 873.8L392.9 873.8L392.9 869.9L392.3 869.9L392.3 866.0L393.0 867.2L395.9 867.2L395.9 863.3L398.8 863.3L398.8 872.0L403.6 872.0L403.6 872.4L408.5 872.4L408.5 866.8L411.9 866.8L411.9 865.0L415.3 865.0L415.3 863.6L418.2 863.6L418.2 861.6L421.1 861.6L421.1 861.0L425.0 861.0L425.0 864.0L427.9 864.0L427.9 858.7L430.8 858.7L430.6 857.3L430.6 853.7L432.2 853.7L432.2 850.1L431.9 850.1L431.9 846.6L431.2 846.6L431.2 843.7L437.0 843.7L437.0 840.8L433.3 840.8L433.3 837.8L435.7 839.2L439.5 839.2L439.5 836.1L443.4 836.1L443.4 837.9L447.3 837.9L447.4 837.8L447.4 841.7L449.7 841.7L449.7 845.6L451.2 847.3L453.1 847.3L453.1 849.9L455.1 849.9L455.1 851.6L459.9 851.6L460.9 848.5L460.9 844.6L461.9 844.6L461.9 840.8L460.3 840.8L460.3 836.9L462.2 836.9L462.2 840.1L462.6 840.1L462.6 843.3L462.9 843.3L462.9 846.6L464.8 847.1L467.7 847.1L467.7 845.3L470.6 845.3L470.6 840.6L473.5 840.6L474.3 839.8L474.3 843.2L476.2 843.2L476.2 846.6L477.4 845.6L480.3 845.6L480.3 846.0L483.2 846.0L483.2 849.4L486.1 849.4L486.2 849.5L486.2 853.0L485.9 853.0L485.9 856.5L486.4 856.5L486.4 860.0L486.4 860.0L486.4 863.5L486.3 863.5L486.3 867.0L487.1 865.2L490.3 865.2L490.3 868.7L493.4 868.7L493.4 865.7L496.6 865.7L496.6 866.7L499.7 866.7L499.1 868.9L499.1 872.0L498.9 872.0L498.9 875.1L500.1 875.1L500.1 878.1L501.4 878.1L501.4 881.2L501.0 881.2L501.0 884.3L499.7 884.3L499.7 887.3L500.7 889.1L504.6 889.1L504.6 890.3L508.4 890.3L508.4 885.0L512.3 885.0L512.3 886.2L515.6 886.2L515.6 884.0L518.8 884.0L518.8 886.6L522.0 886.6L522.0 887.7L525.3 887.7L525.3 888.5L528.5 888.5L528.5 893.0L531.7 893.0L531.7 894.5L535.6 894.5L535.6 894.5L539.5 894.5L539.5 894.1L543.4 894.1L543.4 891.6L546.3 891.6L546.3 891.0L549.2 891.0L549.2 889.1L552.1 889.1L552.1 887.0L555.0 887.0L555.0 889.1L558.9 889.1L558.9 884.0L562.8 884.0L562.8 882.9L565.7 882.9L565.7 889.5L568.6 889.5L568.6 889.2L571.5 889.2L571.5 891.6L574.4 891.6L574.4 893.4L577.6 893.4L577.6 894.5L580.7 894.5L580.7 883.3L583.9 883.3L583.9 893.2L587.1 893.2L587.1 893.9L590.2 893.9L590.2 891.8L593.4 891.8L593.4 890.9L596.5 890.9L596.5 890.6L599.7 890.6L598.6 891.2L598.6 894.7L601.1 894.7L601.1 898.2L600.0 898.2L600.0 901.7L602.3 901.7L602.3 905.2L600.1 905.2L600.1 908.7L600.5 908.7L600.5 912.6L604.2 912.6L604.2 916.5L605.9 916.5L605.9 919.9L607.0 919.9L607.0 923.3L605.5 923.0L602.6 923.0L602.6 922.2L599.7 922.2L599.7 921.6L596.8 921.6L596.8 921.4L593.9 921.4L593.9 919.3L590.9 919.3L590.9 923.2L588.0 923.2L588.0 923.1L585.1 923.1L585.1 931.2L582.2 931.2L582.2 928.5L579.8 928.5L579.8 926.8L577.4 926.8L577.4 930.1L574.9 930.1L574.9 929.7L572.5 929.7L572.2 933.9L572.2 937.8L571.7 937.8L571.7 941.7L568.6 942.5L565.7 942.5L565.7 944.9L562.8 944.9L562.8 945.7L559.9 945.7L559.9 945.2L558.2 945.2L558.2 943.4L556.5 943.4L556.5 942.7L554.8 942.7L554.8 939.1L553.1 939.1L554.0 935.9L554.0 938.8L553.4 938.8L553.4 941.7L550.7 941.7L550.7 944.6L547.5 944.6L547.5 947.5L547.3 946.5L543.4 946.5L543.4 946.9L539.5 946.9L539.5 946.0L536.9 946.0L536.9 940.2L534.3 940.2L534.3 940.1L531.7 940.1L531.7 936.5L529.3 936.5L529.3 937.4L526.9 937.4L525.8 933.9L525.8 937.0L524.1 937.0L524.1 940.1L522.9 940.1L522.9 943.2L524.3 943.2L524.3 946.4L521.6 946.4L521.6 949.5L520.1 950.1L516.2 950.1L516.2 952.6L512.3 952.6L512.3 954.6L508.9 954.6L508.9 954.4L505.5 954.4L505.5 950.0L502.1 950.0L502.1 949.4L498.7 949.4L498.7 953.8L495.8 953.8L495.8 948.2L492.9 948.2L492.9 945.3L489.5 945.3L489.5 947.7L486.1 947.7L485.1 944.6L485.1 949.0L485.7 949.0L485.7 953.3L486.1 949.9L483.1 949.9L483.1 953.3L480.1 953.3L480.1 952.5L477.1 952.5L477.1 954.7L474.0 954.7L474.0 952.8L471.0 952.8L471.0 953.0L468.0 953.0L468.0 954.5L465.0 954.5L465.0 951.3L462.0 951.3L462.0 954.8L459.0 954.8L459.0 951.9L455.9 951.9L455.9 953.6L452.9 953.6L452.9 952.9L449.9 952.9L449.9 952.3L446.9 952.3L446.9 949.8L443.9 949.8L443.9 951.8L440.8 951.8L440.8 953.8L437.8 953.8L437.8 954.4L434.8 954.4L434.8 953.6L431.8 953.6L431.8 955.4L428.8 955.4L428.8 951.5L425.7 951.5L425.7 952.7L422.7 952.7L422.7 951.6L419.7 951.6L419.7 952.2L416.7 952.2L416.7 952.7L413.7 952.7L413.7 951.8L410.6 951.8L410.6 951.7L407.6 951.7L407.6 951.4L404.6 951.4L404.6 955.8L401.6 955.8L401.6 956.8L398.6 956.8L398.6 954.8L395.5 954.8L395.5 951.4L392.5 951.4L392.5 951.2L389.5 951.2L389.5 954.0L386.5 954.0L386.5 953.7L383.5 953.7L383.5 952.1L380.4 952.1L380.4 950.9L377.4 950.9L377.4 955.6L374.4 955.6L374.4 953.0L371.4 953.0L371.4 954.3L368.4 954.3L368.4 952.5L365.4 952.5L365.4 952.6L362.3 952.6L362.3 953.4L359.3 953.4L359.3 955.3L356.3 955.3L356.3 953.3L353.3 953.3L353.3 951.1L350.3 951.1L350.3 951.8L347.2 951.8L347.2 951.5L344.2 951.5L344.2 954.4L341.2 954.4L341.2 953.3L338.2 953.3L338.2 953.2L335.2 953.2L335.2 955.6L332.1 955.6L332.1 954.3L329.1 954.3L329.1 953.2L326.1 953.2L326.1 954.3L323.1 954.3L323.1 954.8L320.1 954.8L320.1 952.0L317.0 952.0L317.0 954.8L314.0 954.8L314.0 950.9L311.0 950.9L311.0 955.3L308.0 955.3L308.0 953.7L305.0 953.7L305.0 953.5L301.9 953.5L301.9 952.5L298.9 952.5L298.9 953.1L295.9 953.1L295.9 951.0L292.9 951.0L292.9 951.9L289.9 951.9L289.9 954.8L286.9 954.8L286.9 953.8L283.8 953.8L283.8 953.5L280.8 953.5L280.8 949.2L277.8 949.2L277.8 953.4L274.8 953.4L274.8 953.9L271.8 953.9L271.8 951.7L268.7 951.7Z" fill="#000" /><path d="M329.9 846.9L334.7 846.9L333.3 847.6L333.3 850.5L335.4 850.5L335.4 853.4L337.6 853.4L337.6 857.7L337.2 857.7L337.2 862.1L336.7 864.0L333.8 864.0L333.2 862.1L333.2 859.2L332.7 859.2L332.7 856.3L331.8 849.7L328.9 849.7L327.4 853.4L327.4 849.5L330.8 849.5L330.8 845.6Z" fill="#000" /><path d="M350.3 850.0L352.7 850.0L352.7 855.6L355.1 855.6L355.1 854.2L358.0 854.2L358.0 854.7L360.9 854.7L359.8 853.4L359.8 856.8L362.6 856.8L362.6 860.2L364.8 859.3L366.8 859.3L366.8 860.7L368.7 860.7L365.7 866.0L365.7 869.4L368.8 869.4L368.8 872.8L367.7 871.7L365.3 871.7L365.3 871.4L362.9 871.4L362.9 872.1L360.0 872.1L360.0 871.2L357.0 871.2L357.0 870.7L354.1 870.7L354.1 874.6L351.2 874.6L351.9 875.7L351.9 872.4L346.9 872.4L346.9 869.0L354.9 869.0L354.9 865.7L351.9 865.7L351.9 862.4L350.7 862.4L350.7 859.1L349.1 859.1L349.1 855.7L349.4 855.7L349.4 852.4Z" fill="#000" /><path d="M649.4 953.3L649.4 950.4L650.1 952.3L653.4 952.3L653.4 950.0L656.6 950.0L656.6 948.4L659.8 948.4L659.8 951.9L662.8 951.9L662.8 948.5L665.7 948.5L665.7 947.4L669.5 947.4L669.5 946.0L673.4 946.0L673.4 947.5L676.3 947.5L676.3 948.4L679.3 948.4L678.6 951.4L678.6 953.3L680.2 954.1L677.1 954.1L677.1 955.5L674.0 955.5L674.0 952.8L670.9 952.8L670.9 954.8L667.8 954.8L667.8 952.2L664.7 952.2L664.7 954.7L661.6 954.7L661.6 952.5L658.5 952.5L658.5 951.2L655.4 951.2L655.4 952.9L652.3 952.9L652.3 953.8L649.2 953.8Z" fill="#000" /><path d="M699.0 541.4L702.3 541.4L702.3 540.5L705.6 540.5L705.6 543.0L708.9 543.0L710.2 542.4L710.2 545.5L709.6 544.6L712.7 544.6L712.7 544.4L715.8 544.4L715.8 543.7L718.9 543.7L718.9 547.9L722.0 547.9L722.0 547.7L725.1 547.7L725.1 546.6L728.2 546.6L728.2 546.4L731.3 546.4L731.3 544.1L734.4 544.1L734.4 548.1L737.5 548.1L737.5 548.1L740.6 548.1L740.6 546.7L743.7 546.7L743.7 547.0L746.8 547.0L746.8 547.7L749.9 547.7L749.9 547.8L753.0 547.8L753.0 547.6L756.1 547.6L756.1 544.6L759.3 544.6L759.3 547.5L762.4 547.5L762.4 545.9L765.5 545.9L766.5 546.1L766.5 542.4L766.1 543.2L771.7 543.2L771.7 541.2L774.2 541.2L774.2 547.9L776.6 547.9L775.3 548.6L775.3 552.9L776.2 552.9L776.2 557.3L778.6 557.3L778.6 560.7L777.3 560.7L777.3 564.2L778.6 564.2L778.6 567.7L778.5 567.7L778.5 571.2L778.7 571.2L778.7 574.7L779.9 574.7L779.9 579.0L779.0 579.0L779.0 583.4L779.1 583.3L782.9 583.3L782.9 581.9L786.6 581.9L786.6 579.8L790.3 579.8L790.3 579.0L794.0 579.0L793.5 575.9L793.5 580.9L796.5 580.1L792.8 580.1L792.8 581.0L789.1 581.0L788.6 584.6L788.6 587.7L789.1 584.6L792.8 584.6L792.8 586.1L796.5 586.1L796.5 588.7L800.2 588.7L800.2 585.1L804.0 585.1L804.0 583.7L807.7 583.7L807.7 581.3L811.4 581.3L811.4 578.7L814.5 578.7L814.5 577.9L817.6 577.9L817.6 575.8L822.6 575.8L822.6 570.9L826.3 570.9L826.3 570.6L830.1 570.6L830.1 573.4L833.8 573.4L832.9 573.4L832.9 570.3L835.2 570.3L835.2 567.2L834.4 567.2L834.4 564.1L835.5 564.1L835.5 561.0L838.0 561.0L838.0 557.9L837.1 557.9L837.1 554.8L833.8 554.2L830.1 554.2L830.1 555.5L826.3 555.5L827.4 553.5L827.4 549.8L826.3 551.6L829.4 551.6L829.4 547.8L832.5 547.8L832.5 546.7L836.3 546.7L836.3 543.9L840.0 543.9L840.0 545.9L843.7 545.9L843.7 546.5L846.8 546.5L846.8 547.6L849.9 547.6L849.9 547.1L853.0 547.1L853.0 548.6L856.1 548.6L856.1 549.8L859.3 549.8L859.3 551.9L862.4 551.9L862.4 552.4L864.8 552.4L864.8 551.2L867.3 551.2L867.3 557.9L871.1 557.9L871.1 557.3L874.0 557.3L874.0 560.7L876.9 560.7L876.9 557.1L879.8 557.1L878.9 560.4L878.9 563.5L879.8 564.0L877.9 564.0L877.9 564.4L876.0 564.4L876.0 570.6L878.5 570.6L878.5 573.8L881.0 573.8L881.0 577.0L884.1 577.0L884.1 574.4L887.2 574.4L886.4 574.7L886.4 579.6L889.3 579.6L889.3 582.9L887.7 582.9L887.7 586.3L887.7 586.3L887.7 589.6L886.5 589.6L886.5 592.9L890.6 592.9L890.6 596.2L886.4 596.2L886.4 599.5L885.3 599.5L885.3 603.2L885.6 603.2L885.6 607.0L888.4 604.8L890.9 604.8L890.9 611.4L893.4 611.4L892.9 614.4L892.9 617.5L894.2 617.5L894.2 620.6L895.9 622.4L900.9 622.4L900.9 621.2L900.9 616.9L902.1 619.3L907.1 619.3L905.7 616.9L905.7 612.5L909.0 612.5L909.0 608.2L908.3 609.4L913.3 609.4L913.9 607.0L913.9 603.9L914.0 603.9L914.0 600.7L915.4 600.7L915.4 597.6L915.6 597.6L915.6 594.5L915.8 592.8L912.5 592.8L912.5 601.9L909.2 601.9L909.2 594.1L905.8 594.1L905.2 595.8L905.2 592.9L903.0 592.9L903.0 590.0L903.9 590.0L903.9 587.1L901.8 587.1L901.8 583.4L899.4 583.4L899.4 579.6L898.5 579.6L898.5 574.7L902.1 572.5L905.8 572.5L905.8 576.6L909.6 576.6L909.6 576.5L913.3 576.5L913.3 573.7L917.0 573.7L917.0 575.2L920.7 575.2L920.7 574.8L923.2 574.8L923.2 572.0L925.7 572.0L925.4 569.7L925.4 566.6L926.7 566.6L926.7 563.5L927.0 563.7L929.4 563.7L929.4 561.0L931.9 561.0L931.9 556.2L936.3 556.2L936.3 557.9L940.6 557.9L940.6 558.1L938.8 558.1L938.8 559.1L936.9 559.1L935.9 563.5L935.9 566.6L936.5 566.6L936.5 569.7L938.1 569.7L941.9 569.7L941.9 573.5L946.2 573.5L946.2 576.3L950.6 576.3L949.6 574.7L949.6 579.6L953.1 579.6L953.1 582.9L952.2 582.9L952.2 586.3L951.0 586.3L951.0 589.6L950.6 588.4L953.7 588.4L953.7 591.5L956.9 591.5L956.9 592.5L960.0 592.5L958.9 590.8L958.9 587.4L960.5 587.4L960.5 584.0L959.3 584.0L959.3 580.6L960.4 580.6L960.4 577.1L959.0 578.9L961.5 578.9L961.5 571.3L964.0 571.3L964.3 569.7L964.3 566.4L963.3 566.4L963.3 563.1L964.6 563.1L964.6 559.8L961.7 559.8L961.7 556.4L961.6 556.4L961.6 553.1L962.3 553.1L962.3 549.8L961.5 547.7L964.0 547.7L964.0 550.3L966.5 550.3L966.5 541.4L969.6 541.4L969.6 544.8L972.7 544.8L972.7 547.9L975.8 547.9L975.8 545.8L978.9 545.8L978.9 548.4L982.0 548.4L982.0 547.3L985.1 547.3L985.1 545.5L988.2 545.5L988.2 545.7L991.3 545.7L988.6 546.1L988.6 550.4L993.2 550.4L993.2 554.8L992.1 554.8L992.1 558.5L995.3 558.5L995.3 562.2L995.7 562.2L995.7 566.0L996.8 566.0L996.8 569.7L998.8 569.6L1002.5 569.6L1002.5 571.8L1006.2 571.8L1006.7 572.2L1006.7 568.9L1007.1 568.9L1007.1 565.5L1009.8 565.5L1009.8 562.2L1011.2 563.2L1013.0 563.2L1013.0 561.3L1014.9 561.3L1014.9 558.9L1016.8 558.9L1016.8 556.0L1018.6 556.0L1018.6 553.6L1022.0 553.6L1022.0 552.6L1025.5 552.6L1025.5 542.5L1028.9 542.5L1028.9 552.5L1032.3 552.5L1032.2 549.8L1032.2 553.5L1037.0 553.5L1037.0 557.3L1036.0 554.9L1039.1 554.9L1039.1 559.0L1042.2 559.0L1042.2 559.2L1045.3 559.2L1045.3 559.0L1048.4 559.0L1048.4 561.3L1046.4 561.3L1046.4 564.4L1044.3 564.4L1044.3 568.3L1042.2 568.3L1041.0 569.7L1041.0 572.8L1043.3 572.8L1043.3 575.9L1043.1 575.9L1043.1 579.0L1044.1 579.0L1044.1 582.1L1046.0 582.4L1049.1 582.4L1049.1 581.8L1052.2 581.8L1052.2 580.7L1055.3 580.7L1055.3 580.7L1058.4 580.7L1059.6 579.6L1059.6 576.2L1057.7 576.2L1057.7 572.8L1058.6 572.8L1058.6 569.4L1059.9 569.4L1059.9 566.0L1060.9 566.4L1064.0 566.4L1064.0 566.0L1067.1 566.0L1068.2 566.0L1068.2 569.2L1068.3 569.2L1068.3 572.4L1069.5 572.4L1069.5 575.7L1068.4 575.7L1068.4 578.9L1064.7 578.9L1064.7 582.1L1070.8 582.1L1070.8 585.4L1072.3 585.4L1072.3 588.7L1073.7 588.7L1073.7 592.0L1073.3 590.5L1076.2 590.5L1076.2 593.1L1079.1 593.1L1079.1 588.1L1082.0 588.1L1082.0 586.0L1084.9 586.0L1084.9 586.9L1087.8 586.9L1087.8 586.3L1090.7 586.3L1090.8 584.6L1090.8 588.1L1090.9 588.1L1090.9 591.6L1092.9 591.6L1092.9 595.0L1089.5 595.0L1089.5 598.5L1091.4 598.5L1091.4 602.0L1093.2 600.1L1095.7 600.1L1095.7 598.3L1098.1 598.3L1098.1 598.5L1100.6 598.5L1100.6 594.9L1103.9 594.9L1103.9 600.3L1107.2 600.3L1107.2 594.9L1110.6 594.9L1110.6 595.6L1113.0 595.6L1113.0 596.7L1115.5 596.7L1115.5 592.8L1119.0 592.8L1119.0 594.2L1122.5 594.2L1122.5 592.1L1126.0 592.1L1126.0 593.2L1129.4 593.2L1129.4 592.3L1132.9 592.3L1133.9 592.0L1133.9 595.4L1133.3 595.4L1133.3 598.7L1135.4 598.7L1135.4 602.0L1135.6 602.0L1135.6 605.3L1135.9 605.3L1135.9 608.6L1134.7 608.6L1134.7 611.9L1136.6 610.8L1138.6 610.8L1138.6 608.7L1140.6 608.7L1140.6 606.0L1142.6 606.0L1142.6 603.4L1144.6 603.4L1144.6 600.9L1146.6 600.9L1146.6 601.4L1149.7 601.4L1149.7 601.0L1152.8 601.0L1154.0 604.5L1154.0 607.8L1151.5 607.8L1151.5 611.1L1150.6 611.1L1150.6 614.4L1150.9 614.4L1150.9 617.7L1151.9 617.7L1151.9 621.0L1152.9 621.0L1152.9 624.3L1148.9 624.3L1148.9 628.1L1149.7 628.1L1149.7 631.8L1151.1 631.8L1151.1 635.5L1149.7 635.5L1149.7 639.3L1150.9 639.3L1150.9 642.6L1148.8 642.6L1148.8 645.9L1149.0 645.9L1149.0 649.2L1149.5 649.2L1149.5 652.5L1149.2 652.5L1149.2 655.8L1148.3 655.8L1148.3 659.1L1142.9 659.1L1142.9 662.0L1148.7 662.0L1148.7 664.8L1149.2 664.8L1149.2 667.6L1150.3 667.6L1150.3 670.5L1153.0 670.5L1153.0 673.3L1152.8 673.3L1152.8 676.2L1154.9 676.2L1154.9 679.0L1154.3 679.0L1154.3 675.9L1156.4 675.9L1156.4 672.8L1156.9 672.8L1156.9 669.7L1160.3 669.7L1160.3 666.6L1159.3 666.6L1159.3 669.5L1161.1 669.5L1161.1 672.4L1161.7 672.4L1161.7 675.3L1163.6 675.3L1163.6 678.2L1167.1 678.2L1167.1 681.1L1165.2 681.1L1165.2 684.0L1168.1 684.0L1168.1 680.7L1168.6 680.7L1168.6 677.5L1172.0 677.5L1172.0 674.3L1168.8 674.3L1168.8 671.1L1168.4 671.1L1168.4 667.8L1168.8 667.8L1168.8 664.6L1168.6 664.6L1168.6 661.4L1168.3 661.4L1168.3 658.1L1168.7 658.1L1168.7 654.9L1171.2 654.9L1171.2 651.7L1170.2 653.3L1173.5 653.3L1173.5 655.8L1176.8 655.8L1176.8 650.6L1180.1 650.6L1181.6 651.7L1181.6 655.2L1180.9 655.2L1180.9 658.6L1184.8 658.6L1184.8 662.1L1181.8 662.1L1181.8 665.6L1184.1 665.6L1184.1 669.1L1184.7 669.1L1184.7 672.3L1184.1 672.3L1184.1 675.5L1185.4 675.5L1185.4 678.7L1184.1 678.7L1184.1 681.8L1185.1 681.8L1185.1 685.0L1186.7 685.0L1186.7 688.2L1184.7 688.2L1184.7 691.4L1185.9 691.4L1185.9 695.2L1184.9 695.2L1184.9 698.9L1186.3 697.4L1183.3 697.4L1183.3 700.6L1180.3 700.6L1180.3 699.6L1177.2 699.6L1177.2 700.3L1174.2 700.3L1174.2 700.0L1171.1 700.0L1171.1 697.2L1168.1 697.2L1168.1 695.8L1165.1 695.8L1165.1 699.3L1162.0 699.3L1162.0 696.9L1159.0 696.9L1159.0 699.9L1155.9 699.9L1155.9 697.4L1152.9 697.4L1152.9 697.7L1149.9 697.7L1149.9 697.7L1146.8 697.7L1146.8 696.6L1143.8 696.6L1143.8 698.5L1140.7 698.5L1140.7 696.2L1137.7 696.2L1137.7 694.7L1134.7 694.7L1134.7 695.9L1131.6 695.9L1131.6 696.4L1128.6 696.4L1128.6 698.0L1125.5 698.0L1125.5 701.9L1122.5 701.9L1122.5 698.3L1119.5 698.3L1119.5 694.7L1116.4 694.7L1116.4 697.4L1113.4 697.4L1113.4 697.9L1110.3 697.9L1110.3 693.6L1107.3 693.6L1107.3 696.7L1104.2 696.7L1104.2 692.9L1101.2 692.9L1101.2 695.2L1098.2 695.2L1098.2 693.1L1095.1 693.1L1095.1 694.2L1092.1 694.2L1092.1 694.6L1089.0 694.6L1089.0 694.6L1086.0 694.6L1086.0 692.3L1083.0 692.3L1083.0 693.2L1079.9 693.2L1079.9 693.6L1076.9 693.6L1076.9 693.5L1073.8 693.5L1073.8 692.7L1070.8 692.7L1069.5 693.9L1069.5 688.9L1071.5 688.9L1071.5 685.2L1069.0 685.2L1069.0 681.5L1068.3 682.6L1065.8 682.6L1065.8 680.5L1063.4 680.5L1063.4 674.8L1060.9 674.8L1060.9 672.7L1058.4 672.7L1058.4 673.5L1055.9 673.5L1055.9 670.9L1053.4 670.9L1053.4 665.5L1050.9 665.5L1050.9 663.4L1048.0 663.4L1048.0 661.9L1045.0 661.9L1045.0 662.7L1042.0 662.7L1042.0 655.6L1039.0 655.6L1039.0 658.4L1036.0 658.4L1036.0 660.9L1034.2 660.9L1034.2 656.5L1032.3 656.5L1032.3 654.2L1030.4 654.2L1030.4 651.0L1028.6 651.0L1028.6 647.6L1026.7 647.6L1026.7 646.6L1024.8 646.6L1024.8 642.8L1019.9 642.8L1019.9 641.2L1018.0 641.2L1018.0 645.3L1016.1 645.3L1015.3 646.7L1015.3 650.4L1016.9 650.4L1016.9 654.2L1019.6 654.2L1019.6 657.3L1019.7 657.3L1019.7 660.4L1018.3 660.4L1018.3 663.5L1023.1 663.5L1023.1 666.6L1022.9 666.6L1022.9 669.7L1025.2 669.7L1025.2 672.8L1022.1 672.8L1022.1 675.9L1024.7 675.9L1024.7 679.0L1021.3 679.0L1021.3 682.7L1022.8 682.7L1022.8 686.5L1023.6 688.1L1021.1 688.1L1021.1 687.8L1018.6 687.8L1018.6 691.0L1015.5 691.0L1015.5 691.8L1012.4 691.8L1012.4 695.6L1009.3 695.6L1009.3 699.4L1006.2 699.4L1006.2 700.2L1002.9 700.2L1002.9 699.2L999.6 699.2L999.6 695.3L996.3 695.3L996.3 695.6L993.8 695.6L993.8 696.2L991.3 696.2L991.3 700.3L988.8 700.3L988.8 702.7L985.8 702.7L985.8 698.8L982.9 698.8L982.9 693.8L979.9 693.8L979.9 696.0L976.9 696.0L976.9 689.9L973.9 689.9L973.9 692.0L970.9 692.0L970.9 690.7L967.8 690.7L967.8 691.0L964.8 691.0L964.8 689.4L961.8 689.4L961.8 687.1L958.7 687.1L958.7 690.1L955.7 690.1L955.7 682.2L952.7 682.2L952.7 688.6L949.6 688.6L949.6 684.9L946.6 684.9L946.6 685.5L942.9 685.5L942.9 685.0L939.1 685.0L940.1 682.7L940.1 678.4L941.0 678.4L941.0 674.0L937.9 676.1L935.0 676.1L935.0 675.8L932.1 675.8L932.1 681.8L929.2 681.8L929.2 674.9L932.4 674.9L932.4 679.5L935.7 679.5L935.7 676.7L932.3 676.7L932.3 678.7L929.0 678.7L929.0 677.4L925.7 677.4L925.7 678.8L923.6 678.8L923.6 675.0L921.6 675.0L921.6 660.9L919.5 660.9L918.9 669.1L918.9 665.3L919.1 665.3L919.1 661.6L915.8 659.6L913.3 659.6L913.3 658.0L910.8 658.0L910.2 655.4L910.2 651.7L908.7 651.7L908.7 648.0L908.4 648.0L908.4 644.2L907.1 645.4L905.2 645.4L905.2 647.6L903.4 647.6L903.4 647.6L899.6 647.6L899.6 652.1L897.1 652.1L898.0 654.2L898.0 657.3L897.2 657.3L897.2 660.4L894.8 660.4L894.8 656.6L894.7 651.4L891.6 651.4L891.6 660.1L888.4 660.1L888.4 662.7L886.4 662.7L886.4 663.2L884.3 663.2L884.3 665.0L882.2 665.0L881.1 668.4L881.1 665.0L880.9 665.0L880.9 661.6L878.5 659.2L875.4 659.2L875.4 656.8L872.3 656.8L872.3 657.2L869.8 657.2L869.8 655.3L867.3 655.3L867.3 651.2L864.4 651.2L864.4 653.8L861.5 653.8L861.5 653.8L858.6 653.8L858.6 656.1L856.6 656.1L856.6 658.5L854.5 658.5L854.5 662.8L852.4 662.8L853.8 662.9L853.8 666.0L851.0 666.0L851.0 669.1L850.9 669.1L850.9 672.0L847.7 672.0L847.7 674.9L846.6 674.9L846.6 677.8L842.1 677.8L842.1 674.9L843.3 674.9L843.3 672.0L842.9 672.0L842.9 669.1L840.3 669.1L840.3 665.8L839.1 665.8L839.1 662.4L839.6 662.4L839.6 659.1L836.5 659.1L836.5 654.2L835.6 654.2L835.6 651.1L834.2 651.1L834.2 648.0L832.4 648.0L832.4 645.0L833.5 645.0L833.5 642.0L830.3 642.0L830.3 639.0L833.3 639.0L833.3 636.0L831.6 636.0L831.6 633.0L831.9 634.8L827.6 634.8L826.9 633.0L826.9 636.3L824.3 636.3L824.3 639.5L828.4 639.5L828.4 642.7L827.1 642.7L827.1 646.0L826.9 646.0L826.9 649.2L827.6 651.3L826.3 651.3L826.3 649.4L824.3 649.4L824.3 647.4L822.2 647.4L822.2 640.5L820.1 640.5L819.7 639.3L819.7 636.1L820.9 636.1L820.9 633.0L818.7 633.0L818.7 629.9L818.4 629.9L818.4 626.8L818.9 625.4L815.8 625.4L817.8 628.1L817.8 631.2L816.5 631.2L816.5 634.3L815.4 634.3L815.4 637.4L813.9 639.4L810.8 639.4L810.8 638.1L807.7 638.1L807.2 636.8L807.2 640.1L808.8 640.1L808.8 643.4L808.3 643.4L808.3 646.7L807.7 643.9L804.0 643.9L804.0 649.2L800.2 649.2L801.3 646.7L801.3 644.2L799.0 643.8L796.2 643.8L796.2 641.7L793.4 641.7L794.8 641.7L794.8 638.6L794.4 638.6L794.4 635.5L794.1 635.5L794.1 632.4L800.3 632.4L800.3 629.3L794.0 625.9L790.3 625.9L790.0 628.1L790.0 624.3L789.1 623.1L785.3 623.1L786.1 625.6L786.1 620.6L782.9 622.0L777.9 622.0L780.7 618.1L780.7 614.4L777.4 614.4L777.4 610.7L777.9 608.5L772.9 608.5L772.6 611.9L772.6 608.8L771.1 608.8L771.1 605.7L768.4 605.7L768.4 602.6L770.3 602.6L770.3 599.5L772.6 599.5L772.6 596.2L772.0 596.2L772.0 592.9L771.5 592.9L771.5 589.6L771.7 589.5L769.2 589.5L770.7 593.3L770.7 596.2L768.9 596.2L768.9 599.1L764.9 599.1L764.9 602.0L764.2 599.7L761.7 599.7L761.7 606.8L759.3 606.8L759.3 609.0L755.5 609.0L755.5 608.7L751.8 608.7L751.8 610.3L748.7 610.3L748.7 609.1L745.6 609.1L745.6 611.2L742.3 611.2L742.3 611.6L739.0 611.6L739.0 608.7L735.7 608.7L736.0 609.4L736.0 605.7L734.4 606.8L729.4 606.8L729.4 604.0L727.0 604.0L727.0 604.3L724.5 604.3L725.3 602.0L725.3 597.0L722.0 596.0L718.9 596.0L718.9 599.4L715.8 599.4L715.8 598.1L712.7 598.1L712.7 601.0L709.6 601.0L709.6 597.9L707.1 597.9L707.1 593.9L704.6 593.9L705.1 592.0L705.1 588.9L699.8 588.9L699.8 585.8L704.6 587.6L709.6 587.6L709.6 587.4L712.0 587.4L712.0 592.5L714.5 592.5L714.5 595.5L718.3 595.5L718.3 594.1L722.0 594.1L721.2 593.3L721.2 589.6L723.2 589.9L727.0 589.9L727.0 589.6L730.7 589.6L730.7 590.9L734.4 590.9L734.1 588.3L734.1 583.4L731.9 578.2L728.6 578.2L728.6 584.4L725.3 584.4L725.3 583.0L722.0 583.0L722.0 581.4L719.5 581.4L719.5 577.3L715.8 577.3L715.8 577.7L712.0 577.7L712.0 578.7L708.3 578.7L708.3 586.6L704.6 586.6L705.6 575.9L705.6 572.8L702.6 572.8L702.6 569.7L703.3 569.7L703.3 566.6L700.2 566.6L700.2 563.5L700.0 563.5L700.0 560.4L698.6 560.4L698.6 557.3L698.7 557.3L698.7 553.5L698.3 553.5L698.3 549.8L700.3 549.8L700.3 546.1L697.6 546.1L697.6 542.4Z" fill="#000" /><path d="M677.3 582.7L680.7 582.7L680.7 578.6L684.1 578.6L684.1 579.8L687.8 579.8L688.3 583.4L688.3 586.3L689.9 586.3L689.9 589.2L691.4 589.2L691.4 592.0L690.9 592.0L690.9 595.2L689.7 597.2L686.8 597.2L686.8 594.0L683.9 594.0L683.9 597.1L681.0 597.1L681.0 596.6L677.3 596.6L676.7 595.2L676.7 591.9L678.7 591.9L678.7 588.6L676.4 588.6L676.4 585.4L673.7 585.4L673.7 582.1Z" fill="#000" /><path d="M682.9 556.0L685.3 557.3L688.4 563.5L688.4 566.6L682.9 566.6Z" fill="#000" /><path d="M804.0 553.8L807.7 553.8L807.7 551.7L811.4 551.7L811.4 547.8L815.2 547.8L815.2 549.2L818.9 549.2L819.9 551.1L819.9 554.2L820.6 554.2L820.6 557.3L821.7 557.3L821.7 560.6L822.6 560.6L822.6 563.9L820.4 563.9L820.4 567.2L821.4 564.8L818.9 564.8L818.9 569.2L816.4 569.2L816.4 569.6L813.9 569.6L813.9 573.1L810.2 573.1L810.2 570.1L806.5 570.1L806.6 570.9L806.6 567.8L807.6 567.8L807.6 564.7L803.7 564.7L803.7 561.0L805.4 561.0L805.4 557.3L803.6 557.3L803.6 553.5Z" fill="#000" /><path d="M893.4 547.4L897.1 547.4L897.1 545.2L900.9 545.2L900.9 548.4L904.6 548.4L904.6 547.7L908.3 547.7L908.3 546.1L912.0 546.1L911.0 548.0L911.0 553.5L910.8 551.4L907.1 551.4L907.1 553.6L904.0 553.6L904.0 554.4L900.9 554.4L900.9 553.7L897.8 553.7L897.8 552.3L894.7 552.3L895.3 552.9L895.3 547.3Z" fill="#000" /><path d="M912.0 563.5L918.3 563.5L917.0 567.8L913.3 567.2Z" fill="#000" /><path d="M699.0 542.4L708.9 542.1L708.9 546.7L699.6 546.7Z" fill="#000" /><path d="M946.6 539.9L961.5 539.4L962.7 544.8L947.8 544.8Z" fill="#000" /><path d="M1001.2 539.4L1009.9 539.9L1008.7 544.8L1002.5 544.8Z" fill="#000" /><path d="M893.2 547.3L909.3 546.1L913.0 551.1L904.3 554.8L895.7 552.3Z" fill="#000" /><path d="M1193.8 613.7L1196.3 613.7L1196.3 610.3L1198.8 610.3L1198.8 609.8L1201.2 609.8L1199.1 608.2L1199.1 611.4L1200.8 611.4L1200.8 614.7L1204.1 614.7L1204.1 617.9L1199.5 617.9L1199.5 621.1L1203.5 621.1L1203.5 624.3L1205.0 624.3L1205.0 627.7L1201.5 627.7L1201.5 631.0L1205.5 631.0L1205.5 634.3L1207.7 634.3L1207.7 637.6L1209.2 637.6L1209.2 640.9L1209.1 640.9L1209.1 644.2L1211.2 642.9L1214.1 642.9L1214.1 646.0L1217.0 646.0L1217.0 648.5L1219.9 648.5L1219.5 651.7L1219.5 654.7L1219.6 654.7L1219.6 657.7L1221.7 657.7L1221.7 660.7L1221.2 660.7L1221.2 663.7L1221.3 663.7L1221.3 666.8L1222.2 666.8L1222.2 669.8L1219.4 669.8L1219.4 672.8L1221.7 672.8L1221.7 675.8L1222.7 675.8L1222.7 678.8L1221.9 678.8L1221.9 681.8L1223.1 681.8L1223.1 684.9L1222.5 684.9L1222.5 687.9L1222.0 687.9L1222.0 690.9L1223.0 690.9L1223.0 693.9L1222.4 691.7L1219.3 691.7L1219.3 693.9L1216.1 693.9L1216.1 696.0L1213.0 696.0L1213.0 693.6L1209.9 693.6L1209.9 693.9L1206.8 693.9L1206.8 691.4L1203.7 691.4L1203.7 696.0L1200.6 696.0L1200.6 694.1L1197.5 694.1L1197.5 693.1L1194.4 693.1L1194.4 695.3L1191.3 695.3L1191.5 693.9L1191.5 690.8L1191.8 690.8L1191.8 687.6L1190.7 687.6L1190.7 684.4L1192.6 684.4L1192.6 681.3L1192.4 681.3L1192.4 678.1L1192.4 678.1L1192.4 674.9L1191.8 674.9L1191.8 671.8L1194.7 671.8L1194.7 668.6L1191.3 668.6L1191.3 665.5L1191.3 665.5L1191.3 662.3L1191.8 662.3L1191.8 659.1L1192.3 659.1L1192.3 655.7L1192.1 655.7L1192.1 652.2L1192.6 652.2L1192.6 648.7L1191.7 648.7L1191.7 645.2L1191.2 645.2L1191.2 641.7L1190.9 641.7L1190.9 638.6L1191.5 638.6L1191.5 635.5L1192.5 635.5L1192.5 632.4L1193.8 632.4L1193.8 629.3L1196.5 629.3L1196.5 625.6L1195.1 625.6L1195.1 621.9L1194.1 621.9L1194.1 618.1L1193.5 618.1L1193.5 614.4Z" fill="#000" /><path d="M1232.3 644.2L1239.8 649.2L1247.2 669.1L1254.7 693.9L1232.3 695.2L1231.1 669.1Z" fill="#000" /><path d="M1241.2 629.3L1241.2 626.3L1240.6 626.3L1240.6 623.4L1243.3 623.4L1243.3 620.4L1242.5 620.4L1242.5 617.4L1243.7 617.4L1243.7 614.4L1243.5 614.6L1246.3 614.6L1246.3 609.0L1249.1 609.0L1249.1 615.6L1251.9 615.6L1251.9 609.6L1254.7 609.6L1254.7 606.1L1257.6 606.1L1257.6 609.0L1260.6 609.0L1260.6 607.1L1263.6 607.1L1263.6 605.2L1266.6 605.2L1266.6 611.9L1269.6 611.9L1269.6 605.8L1272.0 605.8L1272.0 609.6L1274.5 609.6L1274.5 611.5L1278.0 611.5L1278.0 610.3L1281.5 610.3L1281.5 611.7L1285.0 611.7L1285.0 620.6L1288.4 620.6L1288.4 616.1L1291.9 616.1L1291.9 613.6L1296.9 613.6L1296.9 614.1L1299.4 614.1L1299.4 616.3L1301.9 616.3L1301.9 617.7L1304.3 617.7L1304.3 620.2L1306.8 620.2L1306.8 622.7L1309.3 622.7L1309.3 625.9L1311.8 625.9L1311.8 627.7L1314.9 627.7L1314.9 626.5L1318.0 626.5L1318.0 630.1L1321.1 630.1L1321.1 630.5L1324.2 630.5L1324.2 636.1L1328.0 636.1L1328.0 631.3L1331.7 631.3L1330.2 629.3L1330.2 632.3L1331.9 632.3L1331.9 635.3L1331.2 635.3L1331.2 638.3L1333.1 638.3L1333.1 641.2L1333.1 641.2L1333.1 644.2L1334.0 644.2L1334.0 647.5L1335.3 647.5L1335.3 650.8L1334.0 650.8L1334.0 654.2L1338.2 654.2L1338.2 657.1L1338.6 657.1L1338.6 660.1L1335.9 660.1L1335.9 663.1L1337.5 663.1L1337.5 666.1L1336.3 666.1L1336.3 669.1L1334.6 669.1L1334.6 672.2L1335.2 672.2L1335.2 675.3L1336.1 675.3L1336.1 678.4L1335.4 678.4L1335.4 681.5L1336.1 681.5L1336.1 685.0L1336.1 685.0L1336.1 688.4L1335.2 688.4L1335.2 691.9L1335.4 691.9L1335.4 695.4L1335.4 695.4L1335.4 698.9L1334.2 697.0L1331.0 697.0L1331.0 699.6L1327.9 699.6L1327.9 700.9L1324.7 700.9L1324.7 699.4L1321.6 699.4L1321.6 697.7L1318.5 697.7L1318.5 698.2L1315.3 698.2L1315.3 697.5L1312.2 697.5L1312.2 701.2L1309.1 701.2L1309.1 699.2L1305.9 699.2L1305.9 697.7L1302.8 697.7L1302.8 697.6L1299.6 697.6L1299.6 699.8L1296.5 699.8L1296.5 700.9L1293.4 700.9L1293.4 698.8L1290.2 698.8L1290.2 698.4L1287.1 698.4L1287.1 703.6L1283.9 703.6L1283.9 699.9L1280.8 699.9L1280.8 700.4L1277.7 700.4L1277.7 700.8L1274.5 700.8L1275.4 698.9L1275.4 695.8L1272.1 695.8L1272.1 692.7L1271.6 692.7L1271.6 689.6L1269.2 689.6L1269.2 686.5L1268.3 686.5L1268.3 683.1L1265.4 683.1L1265.4 679.8L1265.8 679.8L1265.8 676.5L1263.4 676.5L1263.4 673.2L1265.0 673.2L1265.0 669.9L1262.0 669.9L1262.0 666.6L1262.1 668.6L1257.1 668.6L1255.9 669.1L1255.9 666.2L1255.9 666.2L1255.9 663.4L1254.3 663.4L1254.3 660.6L1253.4 660.6L1253.4 657.7L1250.5 657.7L1250.5 654.9L1249.1 654.9L1249.1 652.0L1248.3 652.0L1248.3 649.2L1246.3 649.2L1246.3 645.9L1245.5 645.9L1245.5 642.6L1244.0 642.6L1244.0 639.3L1244.2 639.3L1244.2 635.9L1245.7 635.9L1245.7 632.6L1243.3 632.6L1243.3 629.3Z" fill="#000" /><path d="M1167.7 651.7L1180.1 650.4L1183.9 669.1L1186.3 693.9L1167.7 693.9Z" fill="#000" /><path d="M1063.4 692.3L1060.4 692.3L1060.4 693.3L1057.4 693.3L1057.4 695.9L1054.4 695.9L1054.4 696.6L1051.4 696.6L1051.4 698.0L1048.4 698.0L1048.4 702.4L1046.0 702.4L1046.0 701.8L1043.5 701.8L1043.5 704.0L1041.0 704.0L1041.0 706.6L1038.5 706.6L1038.5 712.2L1041.8 712.2L1041.8 711.4L1045.1 711.4L1045.1 710.4L1048.4 710.4L1048.4 708.4L1051.8 708.4L1051.8 711.4L1055.1 711.4L1055.1 710.1L1058.4 710.1L1059.1 708.8L1059.1 713.8L1060.9 712.2L1057.5 712.2L1057.5 714.9L1054.0 714.9L1054.0 716.3L1050.6 716.3L1050.6 716.6L1047.2 716.6L1045.9 718.8L1045.9 722.5L1048.4 720.4L1051.6 720.4L1051.6 725.3L1054.7 725.3L1054.7 724.4L1057.8 724.4L1057.8 723.3L1060.9 723.3L1060.9 728.2L1063.4 728.2L1063.4 730.8L1065.8 730.8L1065.8 732.1L1068.3 732.1L1068.3 732.1L1071.4 732.1L1071.4 734.4L1074.5 734.4L1074.5 735.6L1077.6 735.6L1077.6 738.2L1080.7 738.2L1081.8 741.1L1081.8 744.1L1082.0 744.1L1082.0 747.1L1083.6 747.1L1083.6 750.1L1084.9 750.1L1084.9 753.0L1091.3 753.0L1091.3 756.0L1085.8 756.0L1085.8 759.1L1081.9 759.1L1081.9 762.2L1086.7 762.2L1086.7 765.3L1088.6 765.3L1088.6 768.4L1088.2 767.0L1090.1 767.0L1090.1 772.7L1091.9 772.7L1091.9 773.9L1093.8 773.9L1093.8 777.9L1095.7 777.9L1095.7 778.7L1097.6 778.7L1097.6 775.6L1099.6 775.6L1099.6 772.8L1101.6 772.8L1101.6 769.7L1103.6 769.7L1103.6 767.4L1105.6 767.4L1105.6 768.1L1108.1 768.1L1108.1 765.3L1110.6 765.3L1110.6 762.8L1113.0 762.8L1113.0 758.9L1115.5 758.9L1115.5 759.4L1118.0 759.4L1117.9 756.0L1117.9 759.1L1121.2 759.1L1121.2 762.2L1120.3 762.2L1120.3 765.3L1122.3 765.3L1122.3 768.4L1125.5 770.2L1127.3 770.2L1127.3 764.1L1129.2 764.1L1129.2 761.3L1131.1 761.3L1131.1 759.1L1132.9 759.1L1132.9 757.0L1136.0 757.0L1136.0 762.2L1139.1 762.2L1139.1 763.2L1142.2 763.2L1142.2 763.8L1145.3 763.8L1143.2 766.0L1143.2 769.0L1145.4 769.0L1145.4 772.0L1145.5 772.0L1145.5 775.0L1147.5 775.0L1147.5 778.0L1146.9 778.0L1146.9 781.0L1149.9 781.0L1149.9 784.1L1150.2 784.1L1150.2 787.1L1150.3 785.4L1153.6 785.4L1153.6 782.9L1156.9 782.9L1156.9 782.2L1160.2 782.2L1160.2 778.6L1162.1 778.6L1162.1 784.3L1164.0 784.3L1164.0 788.7L1165.8 788.7L1165.8 792.5L1167.7 792.5L1167.7 792.3L1170.2 792.3L1170.2 787.8L1172.7 787.8L1172.7 785.8L1172.7 788.7L1172.9 788.7L1172.9 791.6L1175.0 791.6L1175.0 794.5L1175.3 794.5L1175.3 797.4L1176.3 797.4L1176.3 800.3L1176.3 800.3L1176.3 803.2L1177.6 803.3L1179.5 803.3L1179.5 807.1L1181.4 807.1L1181.4 808.7L1183.2 808.7L1183.2 809.0L1185.1 809.0L1185.1 815.4L1187.6 815.4L1187.6 809.5L1190.1 809.5L1190.1 809.3L1192.5 809.3L1192.5 805.7L1195.0 805.7L1194.9 805.7L1194.9 809.0L1195.4 809.0L1195.4 812.3L1197.3 812.3L1197.3 815.7L1194.9 815.7L1194.9 819.0L1191.8 819.0L1191.8 822.3L1199.7 822.3L1199.7 825.6L1197.5 824.1L1199.5 824.1L1199.5 836.2L1201.5 836.2L1201.5 831.5L1203.5 831.5L1203.5 833.4L1205.5 833.4L1205.5 838.0L1207.5 838.0L1207.5 841.0L1210.5 841.0L1210.5 832.8L1213.5 832.8L1213.5 841.7L1216.5 841.7L1216.5 840.8L1219.5 840.8L1219.5 838.1L1222.6 838.1L1222.6 838.5L1225.6 838.5L1225.6 841.9L1228.6 841.9L1228.6 842.6L1231.6 842.6L1231.6 841.9L1234.4 841.9L1234.4 841.4L1237.1 841.4L1237.1 846.1L1239.8 846.1L1239.8 845.9L1242.5 845.9L1242.5 852.1L1245.2 852.1L1245.2 854.6L1247.7 854.6L1247.7 852.7L1250.1 852.7L1250.1 859.0L1252.5 859.0L1252.5 859.6L1254.9 859.6L1254.9 861.6L1256.9 861.6L1256.9 858.7L1258.8 858.7L1258.8 857.1L1260.8 857.1L1260.8 852.3L1262.7 852.3L1262.7 851.6L1264.6 851.6L1264.6 848.6L1266.3 848.6L1266.3 848.4L1267.9 848.4L1267.9 843.5L1269.5 843.5L1269.5 841.3L1271.1 841.3L1271.1 837.0L1272.7 837.0L1272.7 835.4L1274.3 835.4L1274.3 837.0L1276.8 837.0L1276.8 833.7L1279.2 833.7L1279.2 838.9L1281.6 838.9L1281.6 839.9L1284.1 839.9L1284.1 840.8L1286.4 840.8L1286.4 836.6L1288.7 836.6L1288.7 834.9L1291.0 834.9L1291.0 832.4L1293.4 832.4L1293.4 830.9L1295.7 830.9L1295.7 829.2L1298.1 829.2L1298.1 830.3L1300.6 830.3L1300.6 834.1L1303.0 834.1L1303.0 835.3L1305.4 835.3L1304.9 838.8L1304.9 842.2L1307.1 842.2L1307.1 845.6L1307.1 845.6L1307.1 849.0L1311.1 849.0L1311.1 852.4L1310.2 852.4L1310.2 855.3L1311.8 855.3L1311.8 858.2L1313.8 858.2L1313.8 861.1L1313.3 861.1L1313.3 864.1L1315.6 864.1L1315.6 867.4L1314.1 867.4L1314.1 870.7L1316.4 870.7L1316.4 874.0L1315.4 874.0L1315.4 877.3L1313.2 877.3L1313.2 880.6L1309.8 880.6L1309.8 883.9L1314.7 883.9L1314.7 887.2L1314.3 887.2L1314.3 890.5L1314.6 890.5L1314.6 893.8L1313.7 893.8L1313.7 897.0L1314.1 896.4L1317.7 896.4L1317.7 899.3L1321.3 899.3L1321.3 900.4L1324.8 900.4L1325.4 900.9L1325.4 904.0L1325.6 904.0L1325.6 907.1L1325.1 907.1L1325.1 910.2L1326.3 910.2L1326.3 913.3L1324.1 913.3L1324.1 916.3L1325.6 916.3L1325.6 919.4L1324.2 919.4L1324.2 922.5L1323.8 922.5L1323.8 925.6L1324.9 925.6L1324.9 928.7L1324.0 928.7L1324.0 931.8L1325.3 931.8L1325.3 934.8L1320.7 934.8L1320.7 937.9L1323.7 937.9L1323.7 941.0L1324.0 941.0L1324.0 944.1L1326.8 944.1L1326.8 947.2L1325.4 947.2L1325.4 950.3L1324.4 950.3L1324.4 953.3L1324.8 955.3L1328.0 955.3L1328.0 954.9L1331.1 954.9L1331.1 955.6L1334.2 955.6L1334.2 960.0L1337.4 960.0L1337.4 955.1L1340.5 955.1L1340.5 955.1L1343.7 955.1L1343.7 955.0L1346.8 955.0L1346.8 953.6L1350.0 953.6L1350.0 947.5L1353.1 947.5L1353.1 953.0L1356.2 953.0L1356.2 955.6L1359.4 955.6L1359.4 951.5L1362.5 951.5L1362.5 948.9L1365.7 948.9L1365.7 955.3L1368.8 955.3L1368.8 953.4L1372.0 953.4L1372.0 954.0L1375.1 954.0L1375.1 953.2L1378.2 953.2L1378.2 951.0L1381.4 951.0L1381.4 951.2L1384.5 951.2L1384.5 949.8L1387.7 949.8L1387.7 953.0L1390.8 953.0L1389.7 953.3L1389.7 950.1L1390.2 950.1L1390.2 947.0L1390.0 947.0L1390.0 943.8L1392.2 943.8L1392.2 940.6L1391.8 940.6L1391.8 937.4L1390.7 937.4L1390.7 934.2L1391.0 934.2L1391.0 931.0L1389.5 931.0L1389.5 927.8L1391.8 927.8L1391.8 924.6L1396.2 924.6L1396.2 921.5L1393.5 921.5L1393.5 918.3L1391.8 918.3L1391.8 915.1L1390.5 915.1L1390.5 911.9L1392.1 911.9L1392.1 908.7L1390.8 907.4L1393.9 907.4L1393.9 909.2L1397.0 909.2L1397.0 909.6L1400.1 909.6L1400.1 906.8L1403.2 906.8L1403.2 899.1L1406.3 899.1L1406.3 903.9L1408.3 903.9L1408.3 909.6L1410.2 909.6L1410.2 909.9L1412.2 909.9L1412.2 915.7L1414.1 915.7L1414.1 917.8L1417.0 917.8L1417.0 918.3L1419.9 918.3L1419.9 919.3L1422.8 919.3L1422.8 917.8L1425.7 917.8L1425.7 921.5L1428.5 921.5L1428.5 917.9L1431.2 917.9L1431.2 917.9L1433.9 917.9L1433.9 917.7L1436.6 917.7L1436.6 913.1L1439.3 913.1L1439.3 916.4L1441.3 916.4L1441.3 912.8L1443.2 912.8L1443.2 917.8L1445.2 917.8L1445.2 920.6L1447.1 920.6L1447.1 923.8L1449.0 923.8L1449.0 921.8L1451.9 921.8L1451.9 921.1L1454.9 921.1L1454.9 919.5L1457.8 919.5L1457.8 917.3L1460.7 917.3L1460.7 918.6L1463.6 918.6L1463.6 912.2L1466.5 912.2L1466.5 914.4L1469.4 914.4L1469.4 914.0L1472.3 914.0L1472.3 907.6L1475.6 907.6L1475.6 910.7L1478.8 910.7L1478.8 911.3L1482.0 911.3L1482.0 911.4L1485.3 911.4L1485.3 912.8L1488.5 912.8L1488.5 914.3L1491.7 914.3L1491.7 918.3L1494.2 918.3L1494.2 914.0L1496.6 914.0L1496.6 910.8L1499.0 910.8L1499.0 911.2L1501.4 911.2L1501.4 909.6L1503.4 909.6L1503.4 911.9L1505.3 911.9L1505.3 914.5L1507.3 914.5L1507.3 913.7L1509.2 913.7L1509.2 917.4L1511.1 917.4L1511.1 918.4L1512.8 918.4L1512.8 917.0L1514.5 917.0L1514.5 914.7L1516.1 914.7L1516.1 913.6L1517.8 913.6L1517.8 913.1L1519.5 913.1L1519.5 908.8L1521.1 908.8L1521.1 901.6L1522.8 901.6L1522.2 900.9L1522.2 904.0L1521.6 904.0L1521.6 907.1L1527.0 907.1L1527.0 910.2L1528.5 910.2L1528.5 913.4L1529.2 913.4L1529.2 916.5L1530.6 915.2L1534.4 915.2L1534.4 922.0L1538.3 922.0L1537.6 920.3L1537.6 923.3L1539.4 923.3L1539.4 926.3L1537.6 926.3L1537.6 929.3L1540.0 929.3L1540.0 932.3L1537.5 932.3L1537.5 935.3L1540.6 935.3L1540.6 938.3L1538.3 938.3L1538.3 941.3L1538.3 941.3L1538.3 944.3L1544.5 944.3L1544.5 947.3L1544.6 947.3L1544.6 950.3L1541.0 950.3L1541.0 953.3L1540.3 953.5L1543.3 953.5L1543.3 953.5L1546.3 953.5L1546.3 955.7L1549.4 955.7L1549.4 952.0L1552.4 952.0L1552.4 953.3L1555.4 953.3L1555.4 954.8L1558.5 954.8L1558.5 946.7L1561.5 946.7L1561.5 945.5L1564.5 945.5L1564.5 954.9L1567.6 954.9L1567.6 952.2L1570.6 952.2L1570.6 951.4L1573.6 951.4L1573.6 951.8L1576.7 951.8L1576.7 954.4L1579.7 954.4L1579.7 954.7L1582.7 954.7L1582.7 955.7L1585.8 955.7L1585.8 952.2L1588.8 952.2L1585.6 953.3L1585.6 950.4L1589.3 950.4L1589.3 947.5L1593.0 947.5L1593.0 944.6L1595.0 944.6L1595.0 941.7L1595.4 941.7L1595.4 938.8L1598.1 938.8L1598.1 935.9L1597.9 935.9L1597.9 932.8L1598.0 932.8L1598.0 929.8L1600.1 929.8L1600.1 926.7L1599.3 926.7L1599.3 923.7L1597.7 923.7L1597.7 920.6L1603.3 920.6L1603.3 917.6L1599.2 917.6L1599.2 914.5L1599.2 914.5L1599.2 911.5L1603.7 911.5L1603.7 908.4L1599.7 908.4L1599.7 905.4L1600.5 905.4L1600.5 902.3L1600.0 902.3L1600.0 899.3L1601.0 899.3L1601.0 896.2L1600.0 896.2L1600.0 893.2L1600.4 892.9L1603.5 892.9L1603.5 885.6L1606.5 885.6L1606.5 899.0L1609.5 899.0L1609.5 894.3L1612.6 894.3L1612.6 893.4L1615.6 893.4L1615.6 895.0L1618.6 895.0L1618.6 892.5L1621.7 892.5L1621.7 892.3L1624.7 892.3L1624.7 894.9L1627.7 894.9L1627.7 891.8L1630.7 891.8L1630.7 890.9L1633.8 890.9L1633.8 892.7L1636.8 892.7L1636.8 890.8L1639.8 890.8L1639.8 890.8L1642.9 890.8L1642.9 892.8L1645.9 892.8L1645.9 891.6L1648.9 891.6L1648.9 890.7L1652.0 890.7L1652.0 888.8L1655.0 888.8L1655.0 893.5L1658.0 893.5L1658.0 892.9L1661.1 892.9L1661.1 890.7L1664.1 890.7L1664.1 892.2L1667.1 892.2L1667.1 894.8L1670.2 894.8L1670.2 892.3L1673.2 892.3L1673.2 894.6L1676.2 894.6L1676.2 892.6L1679.2 892.6L1679.2 893.1L1682.3 893.1L1682.3 893.9L1685.3 893.9L1685.3 893.7L1688.3 893.7L1688.3 894.4L1691.4 894.4L1691.4 898.5L1694.4 898.5L1694.4 894.8L1697.4 894.8L1697.4 886.1L1700.5 886.1L1700.5 890.7L1703.5 890.7L1703.5 892.8L1706.5 892.8L1706.5 892.8L1709.6 892.8L1709.6 890.9L1712.6 890.9L1712.6 893.9L1715.6 893.9L1715.6 893.4L1718.7 893.4L1718.7 892.3L1721.7 892.3L1721.7 892.9L1724.7 892.9L1724.7 892.9L1727.7 892.9L1727.7 893.4L1730.8 893.4L1730.8 896.4L1733.8 896.4L1733.8 888.7L1736.8 888.7L1736.8 893.8L1739.9 893.8L1739.9 891.1L1742.9 891.1L1742.9 898.9L1745.9 898.9L1745.9 891.1L1749.0 891.1L1749.0 890.1L1752.0 890.1L1752.8 893.0L1752.8 889.8L1752.6 889.8L1752.6 886.5L1753.3 886.5L1753.3 883.2L1754.0 883.2L1754.0 880.0L1752.8 880.6L1750.9 880.6L1750.9 881.2L1749.1 881.2L1749.1 875.2L1747.2 875.2L1747.2 872.2L1745.3 872.2L1746.2 870.6L1746.2 867.5L1745.3 867.5L1745.3 864.3L1744.7 864.3L1744.7 861.2L1747.6 861.2L1747.6 858.1L1746.6 858.1L1746.6 855.2L1744.5 855.2L1744.5 852.2L1742.7 852.2L1742.7 849.2L1743.1 849.2L1743.1 846.2L1744.2 846.2L1744.2 843.2L1742.9 842.7L1740.4 842.7L1740.4 838.2L1737.9 838.2L1737.9 835.4L1734.6 835.4L1734.6 837.5L1731.3 837.5L1731.3 837.7L1728.0 837.7L1728.0 835.0L1726.1 835.0L1726.1 833.9L1724.2 833.9L1724.2 840.2L1722.4 840.2L1722.4 845.3L1720.5 845.3L1720.5 848.0L1718.0 848.0L1718.0 849.8L1715.5 849.8L1715.5 847.9L1713.0 847.9L1713.0 851.8L1710.6 851.8L1710.6 852.3L1708.1 852.3L1707.4 856.9L1707.4 853.7L1707.5 853.7L1707.5 850.4L1706.4 850.4L1706.4 847.2L1703.2 847.2L1703.2 844.0L1704.6 844.0L1704.6 840.7L1701.9 841.2L1699.8 841.2L1699.8 835.4L1697.7 835.4L1697.7 833.1L1695.7 833.1L1696.9 830.8L1696.9 827.7L1695.4 827.7L1695.4 824.6L1697.0 824.6L1697.0 821.5L1696.5 821.5L1696.5 818.4L1697.9 818.4L1697.9 815.3L1699.7 815.3L1699.7 812.2L1700.2 812.2L1700.2 809.1L1702.6 809.1L1702.6 806.0L1703.1 804.8L1705.1 804.8L1705.1 807.9L1707.1 807.9L1707.1 817.4L1709.1 817.4L1709.1 813.6L1711.1 813.6L1711.1 817.8L1713.0 817.8L1713.0 819.2L1715.5 819.2L1715.5 815.3L1718.0 815.3L1718.0 812.0L1720.5 812.0L1720.5 813.2L1724.2 813.2L1724.2 806.5L1728.0 806.5L1727.7 806.0L1727.7 803.1L1729.6 803.1L1729.6 800.2L1730.2 800.2L1730.2 797.3L1730.9 797.3L1730.9 794.4L1730.1 794.4L1730.1 791.5L1732.4 791.5L1732.4 788.6L1732.9 790.8L1735.4 790.8L1735.4 792.9L1737.9 792.9L1737.9 793.9L1740.4 793.9L1740.4 792.5L1742.9 792.5L1742.8 796.0L1742.8 792.9L1744.4 792.9L1744.4 789.8L1742.1 789.8L1742.1 786.7L1746.1 786.7L1746.1 783.6L1747.8 784.0L1750.3 784.0L1750.3 781.6L1752.8 781.6L1752.8 780.9L1755.3 780.9L1755.3 780.7L1757.8 780.7L1757.8 772.8L1760.2 772.8L1760.2 773.2L1762.1 773.2L1762.1 765.1L1764.0 765.1L1764.0 767.1L1765.8 767.1L1765.8 761.6L1767.7 761.6L1767.7 760.1L1771.4 760.1L1771.4 756.8L1775.2 756.8L1776.2 756.3L1776.2 753.2L1776.7 753.2L1776.7 750.1L1777.1 750.1L1777.1 747.0L1777.8 747.0L1777.8 743.9L1780.1 746.1L1782.0 746.1L1782.0 743.6L1783.9 743.6L1783.9 736.9L1785.7 736.9L1785.7 738.2L1787.6 738.2L1787.6 734.5L1791.1 734.5L1791.1 733.1L1794.5 733.1L1794.5 735.1L1798.0 735.1L1798.0 730.5L1801.5 730.5L1801.5 731.3L1805.0 731.3L1806.3 731.4L1806.3 728.3L1805.5 728.3L1805.5 725.2L1805.3 725.2L1805.3 722.1L1808.3 722.1L1808.3 719.0L1808.2 719.0L1808.2 716.1L1805.3 716.1L1805.3 713.1L1806.2 713.1L1806.2 710.2L1803.8 710.2L1803.8 707.2L1804.5 707.2L1804.5 704.3L1801.4 704.3L1801.4 701.3L1802.0 701.3L1802.0 698.4L1801.7 698.4L1801.7 695.4L1799.2 695.4L1799.2 692.0L1800.2 692.0L1800.2 688.6L1803.9 688.6L1803.9 685.2L1802.8 685.2L1802.8 681.7L1804.2 681.7L1804.2 678.8L1805.5 678.8L1805.5 675.8L1806.5 675.8L1806.5 672.8L1805.6 672.8L1805.6 669.8L1807.1 669.8L1807.1 666.8L1808.3 666.8L1808.3 663.5L1808.3 663.5L1808.3 660.2L1810.8 660.2L1810.8 656.9L1812.4 655.0L1809.9 655.0L1809.9 652.0L1807.5 652.0L1808.7 651.9L1808.7 648.6L1807.1 648.6L1807.1 645.3L1805.7 645.3L1805.7 642.0L1804.1 642.0L1804.1 638.7L1804.9 638.7L1804.9 635.4L1804.7 635.4L1804.7 632.0L1803.4 632.0L1803.4 628.9L1802.6 628.9L1802.6 625.8L1801.6 625.8L1801.6 622.7L1804.2 622.7L1804.2 619.6L1802.5 622.1L1799.5 622.1L1799.5 619.3L1796.5 619.3L1796.5 617.3L1793.5 617.3L1793.5 616.9L1790.6 616.9L1790.6 619.5L1787.6 619.5L1787.6 619.1L1784.6 619.1L1784.6 618.9L1781.6 618.9L1781.6 617.7L1778.6 617.7L1778.6 615.3L1775.7 615.3L1775.7 617.3L1772.7 617.3L1772.7 616.1L1769.6 616.1L1769.6 613.6L1766.5 613.6L1766.5 617.8L1763.4 617.8L1763.4 614.6L1760.2 614.6L1760.2 615.4L1757.1 615.4L1757.1 616.2L1754.0 616.2L1754.0 617.2L1750.9 617.2L1750.9 614.8L1747.8 614.8L1747.8 624.9L1744.9 624.9L1744.9 621.1L1742.0 621.1L1742.0 620.8L1739.1 620.8L1739.1 623.6L1736.2 623.6L1736.2 621.8L1733.3 621.8L1733.3 626.1L1730.4 626.1L1730.4 626.3L1728.0 626.3L1728.0 623.4L1725.5 623.4L1725.5 623.5L1723.0 623.5L1723.0 619.9L1720.5 619.9L1720.5 622.4L1718.0 622.4L1718.0 616.2L1715.5 616.2L1713.7 624.6L1713.7 621.7L1715.7 621.7L1715.7 618.8L1714.3 618.8L1714.3 615.9L1711.9 615.9L1711.9 613.0L1713.5 613.0L1713.5 610.1L1712.8 610.1L1712.8 607.2L1710.3 607.2L1710.3 610.2L1714.8 610.2L1714.8 613.2L1709.0 613.2L1709.0 616.1L1708.0 616.1L1708.0 619.1L1707.2 619.1L1707.2 622.1L1708.1 624.3L1705.1 624.3L1705.1 623.9L1702.1 623.9L1702.1 621.4L1699.1 621.4L1699.1 618.2L1696.1 618.2L1696.1 620.0L1693.2 620.0L1693.2 621.6L1690.7 621.6L1690.7 616.3L1688.2 616.3L1688.2 616.6L1685.7 616.6L1685.7 611.1L1682.0 611.1L1682.0 614.0L1678.3 614.0L1678.9 614.7L1678.9 618.0L1676.8 618.0L1676.8 621.3L1675.2 621.3L1675.2 624.6L1673.3 623.8L1670.2 623.8L1670.2 620.9L1667.1 620.9L1667.1 620.1L1664.0 620.1L1664.0 618.6L1660.9 618.6L1660.9 616.8L1657.8 616.8L1657.8 619.8L1654.7 619.8L1654.7 615.3L1651.6 615.3L1651.6 614.7L1648.4 614.7L1648.4 617.2L1645.3 617.2L1645.3 613.0L1642.2 613.0L1642.2 612.8L1639.1 612.8L1639.1 605.8L1636.0 605.8L1636.0 607.4L1632.9 607.4L1632.9 609.5L1629.8 609.5L1629.8 612.5L1626.7 612.5L1626.7 612.8L1623.6 612.8L1623.6 610.1L1620.6 610.1L1620.6 615.4L1617.6 615.4L1617.6 610.4L1614.7 610.4L1614.7 606.7L1611.7 606.7L1611.7 609.6L1608.7 609.6L1608.7 607.5L1605.7 607.5L1605.7 609.3L1602.7 609.3L1602.7 607.9L1599.8 607.9L1599.8 605.2L1596.8 605.2L1596.8 607.9L1593.8 607.9L1593.8 604.7L1590.7 604.7L1590.7 606.7L1587.6 606.7L1587.6 605.3L1584.5 605.3L1584.5 610.0L1581.4 610.0L1581.4 607.9L1578.1 607.9L1578.1 607.0L1574.7 607.0L1574.7 605.9L1571.4 605.9L1571.4 605.0L1568.9 605.0L1568.9 612.4L1566.5 612.4L1565.3 613.4L1565.3 616.5L1567.8 616.5L1567.8 619.6L1563.8 619.6L1563.8 622.7L1565.7 622.7L1565.7 625.8L1561.7 625.8L1561.7 628.9L1563.5 628.9L1563.5 632.0L1561.5 632.0L1561.5 629.3L1559.7 629.3L1559.7 626.6L1560.3 626.6L1560.3 623.9L1559.7 623.9L1559.7 621.1L1557.7 621.1L1557.7 618.4L1556.5 617.9L1552.8 617.9L1552.8 615.6L1549.1 615.6L1549.1 613.3L1546.1 613.3L1546.1 613.2L1543.1 613.2L1543.1 612.1L1540.1 612.1L1540.1 607.5L1537.1 607.5L1537.1 608.5L1534.2 608.5L1534.2 605.9L1530.7 605.9L1530.7 604.7L1527.2 604.7L1527.2 604.3L1523.7 604.3L1523.7 606.3L1520.2 606.3L1520.2 606.9L1516.8 606.9L1516.8 608.2L1514.3 608.2L1514.3 606.6L1511.8 606.6L1511.8 609.9L1509.3 609.9L1509.3 614.4L1506.8 614.4L1506.8 616.7L1503.7 616.7L1503.7 616.9L1500.6 616.9L1500.6 619.1L1497.5 619.1L1497.5 618.0L1494.4 618.0L1494.4 619.6L1491.3 619.6L1491.3 619.8L1488.2 619.8L1488.2 623.8L1485.1 623.8L1485.1 625.0L1482.0 625.0L1483.1 624.6L1483.1 627.4L1480.7 627.4L1480.7 630.3L1479.3 630.3L1479.3 633.1L1479.7 633.1L1479.7 636.0L1477.5 636.0L1477.5 638.8L1477.7 638.8L1477.7 641.6L1474.4 641.6L1474.4 644.5L1473.8 644.5L1473.8 647.5L1474.2 647.5L1474.2 650.4L1474.3 650.4L1474.3 653.4L1472.8 653.4L1472.8 656.4L1471.5 656.4L1471.5 659.4L1472.0 657.3L1474.0 657.3L1474.0 660.5L1476.0 660.5L1476.0 663.8L1478.0 663.8L1478.0 667.0L1480.0 667.0L1480.0 670.6L1482.0 670.6L1482.0 671.6L1484.8 671.6L1484.8 670.6L1487.7 670.6L1487.7 673.5L1490.5 673.5L1490.5 674.0L1493.3 674.0L1493.3 676.7L1496.2 676.7L1496.2 676.9L1499.0 676.9L1499.0 675.8L1501.9 675.8L1501.9 687.3L1504.8 687.3L1504.8 679.0L1507.8 679.0L1507.8 683.6L1510.8 683.6L1510.8 680.4L1513.8 680.4L1513.8 681.0L1516.8 681.0L1516.8 684.9L1520.0 684.9L1520.0 682.6L1523.2 682.6L1523.2 682.8L1526.4 682.8L1526.4 685.7L1529.5 685.7L1529.5 686.2L1532.7 686.2L1532.7 684.6L1535.9 684.6L1535.9 688.1L1539.1 688.1L1539.1 685.6L1542.4 685.6L1542.4 686.5L1545.8 686.5L1545.8 687.3L1549.1 687.3L1549.1 684.0L1551.6 684.0L1551.6 689.8L1554.0 689.8L1554.0 692.8L1556.5 692.8L1556.5 692.6L1559.0 692.6L1559.0 693.3L1561.5 693.3L1561.5 699.5L1564.0 699.5L1564.0 701.4L1566.5 701.4L1566.5 701.2L1568.9 701.2L1568.9 702.2L1571.4 702.2L1571.4 704.3L1573.9 704.3L1572.5 709.1L1572.5 712.0L1573.1 712.0L1573.1 715.0L1572.1 715.0L1572.1 718.0L1568.6 718.0L1568.6 721.0L1571.4 721.0L1571.4 724.0L1568.9 726.0L1566.5 726.0L1566.5 719.5L1564.0 719.5L1564.0 721.3L1561.5 721.3L1561.5 711.3L1558.4 711.3L1558.4 713.9L1555.3 713.9L1555.3 713.3L1552.2 713.3L1552.2 712.3L1549.1 712.3L1549.1 712.0L1545.8 712.0L1545.8 711.1L1542.4 711.1L1542.4 713.8L1539.1 713.8L1539.1 718.5L1536.1 718.5L1536.1 717.5L1533.2 717.5L1533.2 718.1L1530.2 718.1L1530.2 719.6L1527.2 719.6L1527.2 719.6L1524.2 719.6L1524.2 723.3L1521.2 723.3L1521.2 722.1L1518.3 722.1L1518.3 716.2L1515.3 716.2L1515.3 717.5L1512.3 717.5L1512.3 714.3L1509.3 714.3L1509.3 715.4L1506.0 715.4L1506.0 711.5L1502.7 711.5L1502.7 709.6L1499.4 709.6L1499.4 706.7L1496.1 706.7L1496.1 714.7L1492.8 714.7L1492.8 713.1L1489.4 713.1L1489.4 712.6L1487.5 712.6L1487.5 714.6L1485.5 714.6L1485.5 714.2L1483.5 714.2L1483.5 710.2L1481.5 710.2L1481.5 723.5L1479.5 723.5L1479.5 724.0L1476.5 724.0L1476.5 722.6L1473.5 722.6L1473.5 726.6L1470.6 726.6L1470.6 717.8L1467.6 717.8L1467.6 718.1L1464.6 718.1L1464.6 714.5L1461.5 714.5L1461.5 717.4L1458.4 717.4L1458.4 721.9L1455.5 721.9L1455.5 715.6L1452.6 715.6L1452.6 714.1L1449.7 714.1L1449.7 711.7L1446.6 711.7L1446.6 710.9L1443.5 710.9L1443.5 708.1L1440.4 708.1L1440.4 710.0L1437.3 710.0L1437.3 709.9L1434.4 709.9L1434.4 707.8L1431.5 707.8L1431.5 709.6L1428.6 709.6L1428.6 713.5L1425.7 713.5L1425.7 716.3L1422.8 716.3L1422.8 713.4L1419.9 713.4L1420.6 714.0L1420.6 716.9L1420.2 716.9L1420.2 719.7L1419.1 719.7L1419.1 722.6L1416.9 722.6L1416.9 725.4L1414.4 725.4L1414.4 728.2L1415.2 728.2L1415.2 731.1L1412.5 731.1L1412.5 733.9L1413.8 733.9L1413.8 730.9L1412.4 730.9L1412.4 728.0L1405.3 728.0L1405.3 725.0L1410.4 725.0L1410.4 722.0L1409.4 722.0L1409.4 719.0L1407.5 718.2L1403.7 718.2L1403.7 721.7L1400.0 721.7L1400.0 721.7L1403.1 721.7L1403.1 711.4L1406.2 711.4L1406.2 722.4L1409.2 722.4L1409.2 721.0L1412.3 721.0L1412.3 716.4L1415.4 716.4L1415.4 717.8L1418.5 717.8L1418.5 717.9L1421.5 717.9L1421.5 718.2L1424.6 718.2L1424.6 715.8L1427.7 715.8L1427.7 714.8L1430.8 714.8L1430.8 712.0L1433.8 712.0L1433.8 713.9L1436.9 713.9L1436.9 712.0L1440.0 712.0L1440.0 711.5L1436.9 711.5L1436.9 711.2L1433.7 711.2L1433.7 712.3L1430.6 712.3L1430.6 715.8L1427.4 715.8L1427.4 713.1L1424.3 713.1L1424.3 715.0L1421.1 715.0L1420.0 716.3L1420.0 719.2L1418.8 719.2L1418.8 722.1L1423.5 722.1L1423.5 725.0L1418.4 725.0L1418.4 727.9L1415.1 727.9L1415.1 730.8L1415.1 730.8L1415.1 733.7L1413.7 735.8L1411.2 735.8L1411.2 723.2L1408.7 723.2L1408.7 728.1L1406.2 728.1L1406.2 725.2L1403.7 725.2L1403.7 719.7L1401.2 719.7L1401.2 720.2L1398.8 720.2L1398.8 716.3L1396.3 716.3L1396.3 714.5L1393.4 714.5L1393.4 721.8L1390.5 721.8L1390.5 711.8L1387.6 711.8L1387.6 714.0L1384.7 714.0L1384.7 710.4L1381.8 710.4L1381.8 710.3L1378.9 710.3L1378.9 706.7L1375.2 706.7L1375.2 711.6L1371.4 711.6L1371.4 709.2L1368.5 709.2L1368.5 710.3L1365.6 710.3L1365.6 711.4L1362.7 711.4L1362.7 713.9L1359.8 713.9L1359.8 714.3L1356.9 714.3L1356.9 715.7L1354.0 715.7L1355.2 716.3L1355.2 719.3L1353.9 719.3L1353.9 722.2L1352.1 722.2L1352.1 725.2L1353.9 725.2L1353.9 728.2L1352.1 728.2L1352.1 731.2L1351.6 729.7L1346.6 729.7L1347.9 728.7L1347.9 725.4L1345.3 725.4L1345.3 722.1L1344.6 722.1L1344.6 718.8L1346.7 718.8L1346.7 715.4L1344.7 715.4L1344.7 712.1L1346.0 712.1L1346.0 708.8L1346.3 708.8L1346.3 705.5L1343.3 705.5L1343.3 702.2L1345.1 702.2L1345.1 698.9L1344.1 690.2L1340.8 690.2L1340.8 699.4L1337.5 699.4L1337.5 696.8L1334.2 696.8L1334.2 696.4L1331.1 696.4L1331.1 693.8L1328.1 693.8L1328.1 696.0L1325.1 696.0L1325.1 695.2L1322.1 695.2L1322.1 692.9L1319.1 692.9L1319.1 694.9L1316.1 694.9L1316.1 692.5L1313.0 692.5L1313.0 693.3L1310.0 693.3L1310.0 695.4L1307.0 695.4L1307.0 694.6L1304.0 694.6L1304.0 695.4L1301.0 695.4L1301.0 692.4L1298.0 692.4L1298.0 695.1L1294.9 695.1L1294.9 694.2L1291.9 694.2L1291.9 691.4L1288.9 691.4L1288.9 692.4L1285.9 692.4L1285.9 695.0L1282.9 695.0L1282.9 694.1L1279.9 694.1L1279.9 695.0L1276.8 695.0L1276.8 690.5L1273.8 690.5L1273.8 691.9L1270.8 691.9L1270.8 690.7L1267.8 690.7L1267.8 690.5L1264.8 690.5L1264.8 684.3L1261.8 684.3L1261.8 684.7L1258.7 684.7L1258.7 694.3L1255.7 694.3L1255.7 694.3L1252.7 694.3L1252.7 694.4L1249.7 694.4L1249.7 690.2L1246.7 690.2L1246.7 691.4L1243.7 691.4L1243.7 693.6L1240.6 693.6L1240.6 691.3L1237.6 691.3L1237.6 691.7L1234.6 691.7L1234.6 692.6L1231.6 692.6L1231.6 692.8L1228.6 692.8L1228.6 693.1L1225.6 693.1L1225.6 694.3L1222.5 694.3L1222.5 690.0L1219.5 690.0L1219.5 690.9L1216.5 690.9L1216.5 692.7L1213.5 692.7L1213.5 691.9L1210.5 691.9L1210.5 693.7L1207.5 693.7L1207.5 688.1L1204.4 688.1L1204.4 690.6L1201.4 690.6L1201.4 692.5L1198.4 692.5L1198.4 690.2L1195.4 690.2L1195.4 691.2L1192.4 691.2L1192.4 690.7L1189.4 690.7L1189.4 690.4L1186.3 690.4L1186.3 691.4L1183.3 691.4L1183.3 689.1L1180.3 689.1L1180.3 693.7L1177.3 693.7L1177.3 692.0L1174.3 692.0L1174.3 689.8L1171.3 689.8L1171.3 693.6L1168.3 693.6L1168.3 689.4L1165.3 689.4L1165.3 694.3L1162.3 694.3L1162.3 692.0L1159.3 692.0L1159.3 689.5L1156.3 689.5L1156.3 693.8L1153.3 693.8L1153.3 693.9L1150.3 693.9L1150.3 693.1L1147.3 693.1L1147.3 691.9L1144.3 691.9L1144.3 690.9L1141.3 690.9L1141.3 690.0L1138.3 690.0L1138.3 692.4L1135.3 692.4L1135.3 693.1L1132.3 693.1L1132.3 691.6L1129.3 691.6L1129.3 692.3L1126.3 692.3L1126.3 692.0L1123.3 692.0L1123.3 694.5L1120.3 694.5L1120.3 694.6L1117.3 694.6L1117.3 703.1L1114.3 703.1L1114.3 696.8L1111.3 696.8L1111.3 692.1L1108.3 692.1L1108.3 690.8L1105.3 690.8L1105.3 693.9L1102.3 693.9L1102.3 692.3L1099.3 692.3L1099.3 699.2L1096.3 699.2L1096.3 693.4L1093.3 693.4L1093.3 692.4L1090.3 692.4L1090.3 695.1L1087.4 695.1L1087.4 692.9L1084.4 692.9L1084.4 695.9L1081.4 695.9L1081.4 692.0L1078.4 692.0L1078.4 691.6L1075.4 691.6L1075.4 696.2L1072.4 696.2L1072.4 692.2L1069.4 692.2L1069.4 696.3L1066.4 696.3L1066.4 695.2L1063.4 695.2Z" fill="#000" /><path d="M1418.6 598.1L1423.0 598.1L1423.0 598.7L1427.3 598.7L1427.3 599.6L1430.5 599.6L1430.5 598.4L1433.7 598.4L1433.7 593.1L1436.9 593.1L1436.9 592.3L1440.1 592.3L1440.1 591.0L1443.3 591.0L1443.3 597.7L1446.5 597.7L1446.5 592.0L1449.7 592.0L1449.7 591.7L1453.7 591.7L1453.7 587.2L1457.6 587.2L1457.6 587.9L1461.6 587.9L1462.0 589.8L1462.0 593.3L1462.8 593.3L1462.8 596.8L1462.2 596.8L1462.2 600.2L1461.9 600.2L1461.9 603.7L1463.5 603.7L1463.5 607.2L1462.6 607.5L1464.6 607.5L1464.6 609.9L1466.6 609.9L1466.6 613.1L1468.6 613.1L1468.6 615.5L1470.6 615.5L1470.6 619.2L1472.5 619.2L1472.5 620.9L1474.5 620.9L1472.5 622.1L1472.5 625.4L1475.5 625.4L1475.5 628.7L1478.5 628.7L1478.5 632.0L1480.6 632.0L1480.6 635.2L1479.3 635.2L1479.3 638.3L1477.1 638.3L1477.1 641.4L1474.0 641.4L1474.0 644.5L1473.3 644.5L1473.3 647.8L1475.2 647.8L1475.2 651.1L1474.0 651.1L1474.0 654.4L1471.6 654.4L1471.6 657.7L1470.8 657.7L1470.8 661.0L1474.1 661.0L1474.1 664.3L1470.9 664.3L1470.9 667.3L1472.2 667.3L1472.2 670.3L1469.0 670.3L1469.0 673.3L1466.1 673.3L1466.1 676.3L1465.2 676.3L1465.2 679.3L1461.9 679.3L1461.9 682.2L1458.4 682.2L1458.4 685.2L1464.2 685.2L1464.2 688.2L1462.7 688.2L1462.7 691.2L1462.5 691.2L1462.5 694.2L1461.1 694.2L1461.1 697.3L1462.4 697.3L1462.4 700.4L1462.7 700.4L1462.7 703.5L1462.8 703.5L1462.8 706.6L1461.9 706.6L1461.9 709.7L1460.4 709.7L1460.4 712.8L1462.4 712.8L1462.4 715.9L1460.7 715.9L1460.7 719.0L1460.9 718.9L1457.6 718.9L1457.3 719.0L1457.3 715.9L1457.7 715.9L1457.7 712.8L1455.6 712.8L1455.6 709.7L1457.3 709.7L1457.3 706.6L1456.0 706.6L1456.0 703.5L1457.5 703.5L1457.5 700.4L1456.8 700.4L1456.8 697.3L1456.2 697.3L1456.2 694.2L1455.2 694.2L1455.2 691.2L1453.9 691.2L1453.9 688.2L1455.5 688.2L1455.5 685.2L1453.8 685.2L1453.8 682.2L1452.2 682.2L1452.2 679.3L1451.2 679.3L1451.2 676.3L1452.2 676.3L1452.2 673.3L1450.3 673.3L1450.3 670.3L1452.1 670.3L1452.1 667.3L1449.2 667.3L1449.2 664.3L1450.2 664.3L1450.2 661.2L1447.7 661.2L1447.7 658.1L1449.5 658.1L1449.5 655.0L1447.3 655.0L1447.3 651.9L1448.3 651.9L1448.3 648.8L1443.5 648.8L1443.5 645.7L1447.0 645.7L1447.0 642.6L1445.2 642.6L1445.2 639.5L1444.7 637.2L1442.2 637.2L1442.2 637.9L1439.8 637.9L1439.8 636.5L1437.3 636.5L1437.3 634.4L1434.8 634.4L1434.8 633.2L1432.8 633.2L1432.8 626.8L1430.8 626.8L1430.8 623.9L1428.8 623.9L1428.8 621.0L1426.8 621.0L1426.8 621.3L1424.8 621.3L1423.4 617.1L1423.4 614.0L1423.5 614.0L1423.5 610.9L1423.8 610.9L1423.8 607.8L1423.1 607.8L1423.1 604.7L1419.9 604.7L1419.9 601.6L1419.9 601.6L1419.9 598.5Z" fill="#000" /><path d="M1821.1 669.3L1821.1 672.6L1821.2 672.6L1821.2 675.9L1824.0 675.9L1824.0 679.3L1822.5 679.3L1822.5 682.6L1823.3 682.6L1823.3 685.9L1826.5 685.9L1826.5 689.2L1827.3 687.4L1824.8 687.4L1824.8 686.4L1822.4 686.4L1822.4 692.6L1819.9 692.6L1819.9 693.8L1817.4 693.8L1817.4 698.8L1814.9 698.8L1814.9 699.3L1817.4 699.3L1817.4 700.9L1819.9 700.9L1819.9 703.0L1822.4 703.0L1822.4 704.5L1824.3 704.5L1824.3 711.3L1826.3 711.3L1826.3 712.4L1828.3 712.4L1828.3 714.6L1830.3 714.6L1830.3 718.5L1832.3 718.5L1832.3 718.2L1835.6 718.2L1835.6 716.3L1838.9 716.3L1838.9 713.6L1842.2 713.6L1842.2 711.8L1844.7 711.8L1844.7 714.6L1847.2 714.6L1847.2 719.8L1849.7 719.8L1849.7 718.1L1852.2 718.1L1852.2 721.4L1854.7 721.4L1853.9 724.0L1853.9 727.1L1854.3 727.1L1854.3 730.2L1854.4 730.2L1854.4 733.3L1854.6 733.3L1854.6 736.4L1853.4 735.2L1850.5 735.2L1850.5 736.3L1847.6 736.3L1847.6 733.0L1844.7 733.0L1844.7 736.0L1842.2 736.0L1842.2 731.0L1839.8 731.0L1839.8 728.0L1837.3 728.0L1837.3 733.4L1834.8 733.4L1834.8 725.7L1832.9 725.7L1832.9 721.1L1831.1 721.1L1831.1 722.5L1829.2 722.5L1829.2 717.4L1827.3 717.4L1827.3 712.7L1824.8 712.7L1824.8 714.7L1822.4 714.7L1822.4 708.3L1819.9 708.3L1819.9 709.7L1817.4 709.7L1817.4 707.2L1814.9 707.2L1814.9 702.5L1812.4 702.5L1813.2 699.1L1813.2 696.0L1813.7 696.0L1813.7 692.9L1815.0 692.9L1815.0 689.8L1817.1 689.8L1817.1 686.7L1817.4 687.0L1814.9 687.0L1814.9 685.6L1812.4 685.6L1811.2 681.7L1811.2 678.6L1814.1 678.6L1814.1 675.5L1816.9 675.5L1816.9 672.4L1819.5 672.4L1819.5 669.3Z" fill="#000" /><path d="M1800.0 654.4L1809.9 656.9L1807.5 666.8L1801.2 664.3Z" fill="#000" /><path d="M1865.7 786.6L1865.7 783.8L1866.2 783.8L1866.2 781.0L1866.5 781.0L1866.5 778.2L1868.7 778.2L1868.7 775.4L1869.8 777.5L1872.8 777.5L1872.8 776.6L1875.8 776.6L1875.8 777.1L1878.9 777.1L1878.9 777.3L1881.9 777.3L1881.9 777.9L1884.9 777.9L1884.9 779.0L1887.9 779.0L1887.9 778.2L1890.9 778.2L1890.9 776.0L1893.9 776.0L1893.9 775.5L1897.0 775.5L1897.0 775.7L1900.0 775.7L1900.0 781.7L1903.0 781.7L1903.0 779.3L1906.0 779.3L1906.0 777.0L1909.0 777.0L1909.0 778.3L1912.0 778.3L1911.3 779.1L1911.3 782.4L1915.7 782.4L1915.7 785.8L1912.0 785.8L1912.0 789.1L1913.7 789.1L1913.7 792.4L1915.0 792.4L1915.0 795.7L1912.9 795.7L1912.9 799.0L1914.5 801.1L1916.4 801.1L1916.4 796.9L1918.3 796.9L1918.3 795.1L1920.1 795.1L1920.1 789.0L1922.0 789.0L1922.0 786.4L1923.9 786.4L1923.9 785.4L1925.7 785.4L1925.7 780.9L1927.6 780.9L1927.6 779.8L1929.4 779.8L1929.4 769.1L1931.9 769.1L1931.9 777.0L1934.4 777.0L1934.4 780.9L1936.9 780.9L1936.9 782.1L1939.4 782.1L1939.4 781.6L1941.6 781.6L1941.6 782.9L1943.7 782.9L1943.7 785.0L1945.9 785.0L1945.9 776.3L1948.1 776.3L1946.9 775.4L1946.9 778.8L1948.6 778.8L1948.6 782.2L1947.4 782.2L1947.4 785.7L1945.1 785.7L1945.1 789.1L1945.1 789.1L1945.1 792.4L1942.9 792.4L1942.9 795.7L1939.8 795.7L1939.8 799.0L1939.7 799.0L1939.7 802.1L1941.4 802.1L1941.4 805.2L1942.2 805.2L1942.2 808.3L1942.3 808.3L1942.3 811.4L1944.3 811.9L1947.5 811.9L1947.5 811.9L1950.6 811.9L1950.6 817.1L1953.7 817.1L1953.7 819.4L1956.8 819.4L1956.8 818.5L1959.9 818.5L1959.9 819.1L1963.0 819.1L1963.0 816.9L1966.1 816.9L1966.1 815.6L1969.2 815.6L1969.2 809.2L1971.7 809.2L1971.7 807.9L1974.2 807.9L1974.2 804.3L1976.6 804.3L1976.6 799.5L1979.1 799.5L1979.1 802.4L1982.9 802.4L1982.9 798.0L1986.6 798.0L1986.6 794.1L1983.6 794.1L1983.6 793.0L1980.6 793.0L1980.6 792.0L1977.6 792.0L1977.6 795.2L1974.7 795.2L1974.7 792.1L1971.7 792.1L1966.9 789.1L1966.9 785.8L1971.4 785.8L1971.4 782.4L1966.9 782.4L1966.9 779.1L1965.5 779.1L1965.5 776.0L1967.7 776.0L1967.7 772.9L1968.7 772.9L1968.7 769.8L1971.2 769.8L1971.2 766.7L1971.7 764.9L1974.8 764.9L1974.8 770.0L1977.9 770.0L1977.9 763.2L1980.1 763.2L1980.1 765.7L1982.2 765.7L1982.2 770.6L1984.4 770.6L1984.4 770.8L1986.6 770.8L1986.6 776.8L1990.3 776.8L1990.3 775.2L1994.0 775.2L1994.0 775.4L1997.0 775.4L1997.0 779.3L2000.0 779.3L2000.0 783.7L2003.0 783.7L2003.0 775.6L2006.0 775.6L2006.0 784.9L2008.9 784.9L2008.9 786.6L2010.8 786.6L2010.8 789.6L2012.7 789.6L2012.7 792.0L2014.5 792.0L2014.5 798.2L2016.4 798.2L2015.9 799.0L2015.9 795.7L2018.2 795.7L2018.2 792.4L2018.5 792.4L2018.5 789.1L2021.4 786.1L2024.5 786.1L2024.5 787.6L2027.7 787.6L2027.7 786.7L2030.9 786.7L2030.9 789.5L2034.0 789.5L2034.0 790.2L2037.2 790.2L2037.2 789.5L2040.3 789.5L2040.3 787.3L2043.5 787.3L2043.5 789.5L2046.7 789.5L2046.7 789.9L2049.8 789.9L2049.8 790.3L2053.0 790.3L2053.0 786.3L2056.1 786.3L2055.1 789.1L2055.1 792.0L2056.1 792.0L2056.1 795.0L2056.9 795.0L2056.9 798.0L2056.6 798.0L2056.6 801.0L2058.8 801.0L2058.8 804.0L2063.9 804.0L2063.9 807.2L2060.0 807.2L2060.0 810.4L2059.3 810.4L2059.3 813.7L2061.0 813.7L2061.0 816.9L2059.2 816.9L2059.2 820.1L2061.1 815.1L2064.4 815.1L2064.4 820.0L2067.7 820.0L2067.7 816.2L2071.1 816.2L2069.8 813.9L2069.8 810.6L2070.8 810.6L2070.8 807.3L2070.6 807.3L2070.6 804.0L2071.6 804.0L2071.6 800.7L2072.1 800.7L2072.1 797.3L2073.1 797.3L2073.1 794.0L2073.9 794.0L2073.9 790.7L2075.1 790.7L2075.1 787.4L2074.6 787.4L2074.6 784.1L2077.3 786.1L2081.0 786.1L2081.0 785.4L2084.7 785.4L2085.7 789.1L2085.7 792.0L2085.9 792.0L2085.9 795.0L2086.1 795.0L2086.1 798.0L2087.4 798.0L2087.4 801.0L2088.6 801.0L2088.6 804.0L2090.9 804.7L2092.9 804.7L2092.9 800.1L2094.9 800.1L2094.9 800.0L2096.9 800.0L2096.9 794.5L2098.9 794.5L2098.9 786.0L2100.9 786.0L2100.9 792.3L2103.4 792.3L2103.4 786.8L2105.8 786.8L2105.8 783.4L2108.3 783.4L2108.3 785.0L2110.2 785.0L2110.2 784.5L2112.0 784.5L2112.0 787.6L2113.9 787.6L2113.9 791.2L2115.8 791.2L2115.8 795.9L2117.6 795.9L2117.6 794.5L2119.5 794.5L2119.5 800.3L2121.4 800.3L2121.4 799.3L2123.2 799.3L2123.2 810.5L2125.3 810.5L2125.3 808.5L2127.4 808.5L2127.4 811.1L2129.4 811.1L2128.7 811.4L2128.7 815.2L2127.5 815.2L2127.5 818.9L2125.7 816.4L2128.8 816.4L2128.8 816.5L2131.9 816.5L2131.9 812.1L2135.0 812.1L2135.0 819.2L2138.1 819.2L2137.5 818.9L2137.5 822.2L2136.2 822.2L2136.2 825.5L2135.0 825.5L2135.0 828.8L2133.2 829.1L2136.9 829.1L2136.9 829.5L2140.6 829.5L2140.6 836.4L2144.3 836.4L2144.3 837.1L2148.1 837.1L2149.5 838.8L2149.5 841.9L2148.2 841.9L2148.2 845.0L2147.8 845.0L2147.8 848.1L2145.1 848.1L2145.1 851.2L2145.6 849.6L2141.9 849.6L2141.9 855.7L2138.1 855.7L2137.3 856.1L2137.3 859.9L2139.6 859.9L2139.6 863.6L2142.8 863.6L2142.8 866.7L2142.6 866.7L2142.6 869.8L2147.2 869.8L2147.2 872.9L2145.2 872.9L2145.2 876.0L2148.1 877.4L2151.2 877.4L2151.2 877.2L2154.3 877.2L2154.3 874.6L2157.4 874.6L2157.4 869.8L2160.5 869.8L2161.0 871.1L2161.0 874.4L2159.9 874.4L2159.9 877.7L2160.1 877.7L2160.1 881.0L2163.0 880.0L2166.7 880.0L2166.7 880.8L2170.4 880.8L2170.4 880.6L2173.5 880.6L2173.5 879.4L2176.5 879.4L2176.5 881.5L2179.5 881.5L2179.5 882.4L2182.6 882.4L2182.6 885.0L2185.6 885.0L2185.6 885.0L2188.7 885.0L2188.7 885.1L2191.7 885.1L2191.7 887.0L2194.7 887.0L2194.7 880.4L2197.8 880.4L2198.1 888.4L2198.1 892.2L2198.9 892.2L2198.9 895.9L2197.8 894.4L2194.7 894.4L2194.7 897.3L2191.7 897.3L2191.7 898.4L2188.7 898.4L2188.7 897.3L2185.7 897.3L2185.7 897.1L2182.7 897.1L2182.7 898.2L2179.7 898.2L2179.7 896.0L2176.6 896.0L2176.6 895.8L2173.6 895.8L2173.6 896.7L2170.6 896.7L2170.6 898.3L2167.6 898.3L2167.6 895.5L2164.6 895.5L2164.6 894.9L2161.5 894.9L2161.5 889.3L2158.5 889.3L2158.5 895.5L2155.5 895.5L2155.5 893.6L2152.5 893.6L2152.5 897.6L2149.5 897.6L2149.5 895.6L2146.4 895.6L2146.4 893.9L2143.4 893.9L2143.4 894.6L2140.4 894.6L2140.4 897.1L2137.4 897.1L2137.4 894.3L2134.4 894.3L2134.4 894.0L2131.4 894.0L2131.4 897.4L2128.3 897.4L2128.3 894.9L2125.3 894.9L2125.3 897.6L2122.3 897.6L2122.3 900.2L2119.3 900.2L2119.3 897.8L2116.3 897.8L2116.3 894.2L2113.2 894.2L2113.2 897.5L2110.2 897.5L2110.2 897.5L2107.2 897.5L2107.2 894.2L2104.2 894.2L2104.2 897.7L2101.2 897.7L2101.2 893.7L2098.2 893.7L2098.2 896.3L2095.1 896.3L2095.1 897.1L2092.1 897.1L2092.1 896.4L2089.1 896.4L2089.1 897.6L2086.1 897.6L2086.1 897.8L2083.1 897.8L2083.1 895.8L2080.0 895.8L2080.0 896.7L2077.0 896.7L2077.0 893.5L2074.0 893.5L2074.0 894.5L2071.0 894.5L2071.0 893.6L2068.0 893.6L2068.0 895.3L2064.9 895.3L2064.9 895.0L2061.9 895.0L2061.9 896.3L2058.9 896.3L2058.9 897.3L2055.9 897.3L2055.9 894.1L2052.9 894.1L2052.9 893.6L2049.9 893.6L2049.9 893.7L2046.8 893.7L2046.8 897.9L2043.8 897.9L2043.8 895.4L2040.8 895.4L2040.8 897.3L2037.8 897.3L2037.8 895.8L2034.8 895.8L2034.8 888.0L2031.7 888.0L2031.7 897.3L2028.7 897.3L2028.7 897.4L2025.7 897.4L2025.7 893.9L2022.7 893.9L2022.7 897.0L2019.7 897.0L2019.7 896.4L2016.7 896.4L2016.7 898.0L2013.6 898.0L2013.6 895.2L2010.6 895.2L2010.6 896.1L2007.6 896.1L2007.6 893.6L2004.6 893.6L2004.6 894.1L2001.6 894.1L2001.6 897.1L1998.5 897.1L1998.5 893.9L1995.5 893.9L1995.5 896.0L1992.5 896.0L1992.5 897.9L1989.5 897.9L1989.5 894.2L1986.5 894.2L1986.5 898.7L1983.4 898.7L1983.4 895.9L1980.4 895.9L1980.4 894.2L1977.4 894.2L1977.4 893.4L1974.4 893.4L1974.4 896.0L1971.4 896.0L1971.4 896.0L1968.4 896.0L1968.4 895.7L1965.3 895.7L1965.3 896.8L1962.3 896.8L1962.3 894.0L1959.3 894.0L1959.3 897.9L1956.3 897.9L1956.3 894.3L1953.3 894.3L1953.3 895.1L1950.2 895.1L1950.2 894.8L1947.2 894.8L1947.2 896.6L1944.2 896.6L1944.2 894.9L1941.2 894.9L1941.2 897.6L1938.2 897.6L1938.2 896.7L1935.2 896.7L1935.2 897.7L1932.1 897.7L1932.1 896.4L1929.1 896.4L1929.1 896.3L1926.1 896.3L1926.1 895.4L1923.1 895.4L1923.1 895.6L1920.1 895.6L1920.1 895.5L1917.0 895.5L1917.0 896.9L1914.0 896.9L1914.0 896.9L1911.0 896.9L1911.0 895.5L1908.0 895.5L1908.0 898.3L1905.0 898.3L1905.0 894.4L1901.9 894.4L1901.9 894.1L1898.9 894.1L1898.9 901.6L1895.9 901.6L1895.9 894.0L1892.9 894.0L1892.9 897.6L1889.9 897.6L1889.9 897.5L1886.9 897.5L1886.9 896.1L1883.8 896.1L1883.8 898.1L1880.8 898.1L1880.8 898.3L1877.8 898.3L1877.8 898.2L1874.8 898.2L1874.8 896.3L1872.3 896.3L1872.3 892.5L1869.8 892.5L1869.8 890.7L1867.3 890.7L1865.8 888.4L1865.8 885.1L1864.8 885.1L1864.8 881.8L1864.0 881.8L1864.0 878.5L1861.2 878.5L1861.2 875.5L1860.4 875.5L1860.4 872.5L1861.1 872.5L1861.1 869.6L1860.0 869.6L1860.0 866.6L1860.2 866.6L1860.2 863.6L1859.5 863.6L1859.5 860.7L1858.5 860.7L1858.5 857.8L1859.0 857.8L1859.0 854.9L1857.1 854.9L1857.1 852.0L1855.5 852.0L1855.5 849.1L1856.9 849.1L1856.9 846.2L1851.4 846.2L1851.4 843.1L1855.2 843.1L1855.2 840.0L1855.8 840.0L1855.8 836.9L1857.0 836.9L1857.0 833.8L1857.4 832.5L1860.3 832.5L1860.3 833.8L1863.2 833.8L1863.2 831.2L1866.1 831.2L1866.1 831.3L1866.1 828.0L1865.0 828.0L1865.0 824.7L1867.1 824.7L1867.1 821.4L1866.3 821.4L1866.3 818.1L1865.0 818.1L1865.0 814.7L1865.8 814.7L1865.8 811.4L1869.3 811.4L1869.3 808.5L1866.8 808.5L1866.8 805.6L1867.6 805.6L1867.6 802.7L1870.8 802.7L1870.8 799.8L1872.1 799.8L1872.1 796.9L1873.6 796.9L1873.6 794.0L1874.8 791.8L1871.1 791.8L1871.1 794.3L1867.3 794.3L1866.9 799.0L1866.9 795.9L1867.7 795.9L1867.7 792.8L1866.1 792.8L1866.1 789.7L1865.6 789.7L1865.6 786.6Z" fill="#000" /><path d="M1840.0 713.3L1847.5 717.0L1853.7 725.7L1851.2 735.7L1843.7 735.7L1840.0 727.0Z" fill="#000" /><path d="M1981.6 698.4L1991.6 697.1L1992.8 704.6L1984.1 705.1Z" fill="#000" /><path d="M2217.6 849.9L2223.9 852.4L2221.4 857.4Z" fill="#000" /><path d="M2209.9 630.3L2212.4 630.3L2212.4 625.1L2214.9 625.1L2214.9 631.5L2217.4 631.5L2217.0 622.2L2217.0 619.1L2219.7 619.1L2219.7 616.0L2221.2 616.0L2221.2 612.9L2222.8 612.9L2222.8 609.8L2223.6 613.8L2226.7 613.8L2226.7 610.8L2229.7 610.8L2229.7 609.5L2232.8 609.5L2232.8 609.3L2235.9 609.3L2235.9 613.2L2239.0 613.2L2239.0 611.6L2242.0 611.6L2242.0 612.9L2245.1 612.9L2245.1 613.9L2248.2 613.9L2248.2 611.4L2251.3 611.4L2251.3 614.2L2254.3 614.2L2254.3 613.8L2257.4 613.8L2257.4 611.9L2260.5 611.9L2260.5 612.2L2263.6 612.2L2263.6 611.5L2266.6 611.5L2266.6 612.5L2269.7 612.5L2269.7 615.8L2272.8 615.8L2272.8 614.5L2275.8 614.5L2275.8 612.1L2278.9 612.1L2278.9 615.0L2282.0 615.0L2282.0 615.8L2284.5 615.8L2284.5 620.1L2287.0 620.1L2287.0 621.3L2289.4 621.3L2289.4 619.2L2291.9 619.2L2291.9 617.4L2294.4 617.4L2294.4 616.8L2296.9 616.8L2296.9 614.1L2299.4 614.1L2299.4 614.8L2301.4 614.8L2301.4 607.4L2303.4 607.4L2303.4 608.2L2305.3 608.2L2305.3 601.6L2307.3 601.6L2307.3 603.0L2309.3 603.0L2309.3 599.5L2312.5 599.5L2312.5 606.6L2315.6 606.6L2315.6 598.3L2318.8 598.3L2318.8 599.8L2322.0 599.8L2322.0 602.4L2325.1 602.4L2325.1 601.1L2328.3 601.1L2328.3 599.7L2331.5 599.7L2331.5 603.2L2334.6 603.2L2334.6 601.0L2337.8 601.0L2337.8 602.6L2340.9 602.6L2340.9 600.9L2344.1 600.9L2344.1 604.2L2346.6 604.2L2346.6 606.4L2349.1 606.4L2349.1 609.0L2351.6 609.0L2351.6 609.0L2354.0 609.0L2354.0 610.0L2356.5 610.0L2356.5 614.9L2359.0 614.9L2359.0 615.2L2362.0 615.2L2362.0 618.0L2365.0 618.0L2365.0 615.5L2368.0 615.5L2368.0 615.7L2370.9 615.7L2370.9 613.0L2373.9 613.0L2373.9 610.8L2377.2 610.8L2377.2 613.4L2380.5 613.4L2380.5 616.5L2383.9 616.5L2382.8 614.8L2382.8 618.1L2386.3 618.1L2386.3 621.4L2385.7 621.4L2385.7 624.7L2388.8 613.7L2392.1 613.7L2392.1 621.9L2395.4 621.9L2395.4 630.0L2398.8 630.0L2398.8 621.5L2401.2 621.5L2401.2 621.2L2403.7 621.2L2403.7 617.8L2406.2 617.8L2406.2 612.7L2409.5 612.7L2409.5 618.4L2412.8 618.4L2412.8 616.8L2416.1 616.8L2416.1 620.3L2419.4 620.3L2419.4 617.1L2422.6 617.1L2422.6 622.2L2425.8 622.2L2425.8 621.1L2429.1 621.1L2429.1 621.1L2432.3 621.1L2432.3 623.6L2435.5 623.6L2435.5 624.8L2438.8 624.8L2438.8 623.8L2442.0 623.8L2442.0 621.8L2445.2 621.8L2445.2 623.4L2448.4 623.4L2448.4 623.8L2450.9 623.8L2450.9 626.9L2453.4 626.9L2453.4 631.1L2455.9 631.1L2455.9 631.5L2458.4 631.5L2458.4 636.8L2461.5 636.8L2461.5 637.0L2464.6 637.0L2464.6 630.3L2467.7 630.3L2467.7 643.6L2470.8 643.6L2470.8 624.6L2473.9 624.6L2473.9 637.5L2477.0 637.5L2477.0 635.4L2480.1 635.4L2480.1 638.4L2483.2 638.4L2483.2 635.9L2485.3 635.9L2485.3 643.4L2487.4 643.4L2487.4 642.1L2489.4 642.1L2488.9 647.1L2488.9 650.1L2490.8 650.1L2490.8 653.0L2489.8 653.0L2489.8 656.0L2490.4 656.0L2490.4 659.0L2492.5 659.0L2492.5 662.0L2492.3 662.0L2492.3 665.2L2492.4 665.2L2492.4 668.4L2492.5 668.4L2492.5 671.6L2493.2 671.6L2493.2 674.8L2492.6 674.8L2492.6 678.0L2492.2 678.0L2492.2 681.2L2493.6 681.2L2493.6 684.3L2491.7 684.3L2491.7 687.3L2491.7 687.3L2491.7 690.3L2495.3 690.3L2495.3 693.3L2494.2 693.3L2494.2 696.3L2494.9 696.3L2494.9 699.3L2497.5 699.3L2497.5 702.6L2497.7 702.6L2497.7 705.9L2501.3 705.9L2501.3 709.2L2497.3 709.2L2497.3 712.5L2497.8 712.5L2497.8 715.8L2498.7 715.8L2498.7 719.1L2496.7 719.1L2496.7 722.1L2496.6 722.1L2496.6 725.1L2497.3 725.1L2497.3 728.1L2497.9 728.1L2497.9 731.1L2496.3 731.1L2496.3 734.0L2495.7 736.3L2490.7 736.3L2490.8 736.5L2490.8 733.4L2488.3 733.4L2488.3 730.3L2487.3 730.3L2487.3 727.2L2487.3 727.2L2487.3 724.1L2485.7 724.2L2482.4 724.2L2482.4 724.4L2479.1 724.4L2479.1 722.4L2475.8 722.4L2475.8 719.1L2472.5 719.1L2472.5 717.4L2469.2 717.4L2469.2 720.4L2465.8 720.4L2462.7 719.1L2462.7 722.9L2463.7 722.9L2463.7 726.6L2463.4 727.6L2465.2 727.6L2465.2 731.3L2467.1 731.3L2467.1 741.1L2468.9 741.1L2468.9 737.1L2470.8 737.1L2471.5 739.0L2471.5 742.1L2471.4 742.1L2471.4 745.2L2470.8 745.2L2470.8 748.3L2471.7 748.3L2471.7 751.4L2474.5 751.4L2474.5 754.5L2475.1 754.5L2475.1 757.6L2475.5 757.6L2475.5 760.7L2477.1 760.7L2477.1 763.9L2478.3 763.0L2480.7 763.0L2480.7 758.9L2483.2 758.9L2483.2 759.4L2485.7 759.4L2485.7 757.5L2489.4 757.5L2489.4 755.0L2493.2 755.0L2493.2 744.9L2495.0 744.9L2495.0 755.3L2496.9 755.3L2496.9 758.4L2498.8 758.4L2498.8 765.9L2500.6 765.9L2500.6 763.3L2502.8 763.3L2502.8 759.3L2505.0 759.3L2505.0 765.3L2507.1 765.3L2507.1 758.7L2509.3 758.7L2508.5 753.9L2508.5 757.0L2509.1 757.0L2509.1 760.1L2511.8 760.1L2511.8 763.2L2512.2 763.2L2512.2 766.3L2513.0 764.4L2516.8 764.4L2516.8 768.9L2520.5 768.9L2521.5 771.3L2521.5 774.3L2520.9 774.3L2520.9 777.4L2519.5 777.4L2519.5 780.4L2518.8 780.4L2518.8 783.5L2519.1 783.5L2519.1 786.5L2519.8 786.5L2519.8 789.5L2515.7 789.5L2515.7 792.6L2518.7 792.6L2518.7 795.6L2517.6 795.6L2517.6 798.6L2518.0 796.8L2515.9 796.8L2515.9 795.2L2513.9 795.2L2513.9 793.6L2511.8 793.6L2511.8 790.7L2509.7 790.7L2509.7 791.3L2507.7 791.3L2507.7 795.4L2505.6 795.4L2505.6 796.8L2503.7 796.8L2503.7 792.5L2501.9 792.5L2501.9 790.0L2500.0 790.0L2500.0 791.2L2498.1 791.2L2498.1 777.7L2496.3 777.7L2496.3 782.3L2494.4 782.3L2494.4 780.1L2492.5 780.1L2492.5 777.3L2490.7 777.3L2490.7 775.2L2488.8 775.2L2488.8 778.5L2487.0 778.5L2487.0 778.7L2485.1 778.7L2485.1 781.7L2483.2 781.7L2482.2 786.2L2482.2 789.9L2482.2 789.9L2482.2 793.7L2482.3 793.7L2482.3 797.4L2483.3 797.4L2483.3 801.1L2483.2 801.5L2479.5 801.5L2479.5 801.8L2475.8 801.8L2475.9 798.6L2475.9 801.7L2475.1 801.7L2475.1 804.8L2477.2 804.8L2477.2 808.0L2477.6 808.0L2477.6 811.1L2476.0 811.1L2476.0 814.2L2479.3 814.2L2479.3 817.3L2479.6 817.3L2479.6 820.4L2481.0 820.4L2481.0 823.5L2479.7 823.5L2479.7 826.5L2481.5 826.5L2481.5 829.4L2481.3 829.4L2481.3 832.4L2483.0 832.4L2483.0 835.4L2485.3 835.4L2485.3 838.4L2485.7 838.2L2488.2 838.2L2488.2 844.1L2490.7 844.1L2490.7 845.8L2493.2 845.8L2493.2 845.6L2495.7 845.6L2495.7 851.7L2498.1 851.7L2498.1 852.8L2500.6 852.8L2500.6 856.3L2503.1 856.3L2503.1 859.5L2505.6 859.5L2505.6 862.3L2508.1 862.3L2508.1 862.3L2511.8 862.3L2511.8 867.8L2515.5 867.8L2515.5 866.7L2518.6 866.7L2518.6 868.4L2521.7 868.4L2521.7 867.6L2524.8 867.6L2524.8 866.3L2528.0 866.3L2528.0 869.8L2531.1 869.8L2531.1 864.1L2534.2 864.1L2534.2 871.9L2537.3 871.9L2537.3 874.2L2540.4 874.2L2540.4 872.6L2543.5 872.6L2543.5 876.6L2546.6 876.6L2546.6 874.2L2549.7 874.2L2549.7 876.6L2552.8 876.6L2552.8 873.3L2555.9 873.3L2555.9 875.5L2559.0 875.5L2559.0 880.3L2562.1 880.3L2562.1 876.1L2565.2 876.1L2565.2 878.5L2568.9 878.5L2568.9 880.7L2572.7 880.7L2572.7 883.0L2575.7 883.0L2575.7 882.1L2578.6 882.1L2578.6 877.2L2581.6 877.2L2581.6 872.4L2584.6 872.4L2584.6 884.0L2587.6 884.0L2587.6 877.4L2590.6 877.4L2590.6 877.8L2593.7 877.8L2593.7 873.6L2596.8 873.6L2596.8 876.8L2599.8 876.8L2599.8 875.7L2602.9 875.7L2602.9 873.6L2605.9 873.6L2605.9 877.5L2609.0 877.5L2609.0 875.6L2612.0 875.6L2612.0 873.4L2615.1 873.4L2615.1 876.8L2618.2 876.8L2618.2 876.3L2621.2 876.3L2621.2 874.5L2624.3 874.5L2624.3 875.9L2627.3 875.9L2627.3 874.1L2629.2 874.1L2629.2 878.2L2631.1 878.2L2631.1 879.8L2632.9 879.8L2632.9 884.2L2634.8 884.2L2634.8 886.1L2637.9 886.1L2637.9 886.6L2641.0 886.6L2641.0 884.8L2644.1 884.8L2644.1 885.7L2647.2 885.7L2647.2 883.1L2650.3 883.1L2650.3 885.6L2653.4 885.6L2653.4 884.3L2656.5 884.3L2656.5 886.4L2659.6 886.4L2659.6 886.6L2662.7 886.6L2662.7 884.1L2665.8 884.1L2665.8 887.3L2668.9 887.3L2668.9 887.2L2672.0 887.2L2672.0 886.3L2675.2 886.3L2675.2 887.9L2678.3 887.9L2678.3 887.8L2681.4 887.8L2681.4 883.3L2684.5 883.3L2684.5 887.5L2687.6 887.5L2687.6 887.8L2690.7 887.8L2690.7 885.1L2693.8 885.1L2693.8 886.1L2696.9 886.1L2696.9 885.0L2698.8 885.0L2698.8 884.1L2700.6 884.1L2700.6 882.0L2702.5 882.0L2702.5 880.6L2704.3 880.6L2704.3 876.6L2707.3 876.6L2707.3 875.9L2710.3 875.9L2710.3 875.9L2713.3 875.9L2713.3 882.2L2716.3 882.2L2716.3 876.9L2719.3 876.9L2719.3 879.1L2722.2 879.1L2722.2 881.1L2725.2 881.1L2725.2 881.5L2728.2 881.5L2728.2 883.3L2731.2 883.3L2731.2 880.8L2734.2 880.8L2734.2 883.8L2737.3 883.8L2737.3 881.2L2740.4 881.2L2740.4 883.4L2743.5 883.4L2743.5 882.6L2746.6 882.6L2746.6 882.0L2749.7 882.0L2749.7 885.8L2752.8 885.8L2752.8 879.5L2755.9 879.5L2755.9 879.6L2759.0 879.6L2759.0 881.5L2762.1 881.5L2762.1 881.0L2765.2 881.0L2765.2 879.2L2768.3 879.2L2768.3 876.8L2771.4 876.8L2771.4 875.7L2774.4 875.7L2774.4 876.9L2777.4 876.9L2777.4 878.5L2780.4 878.5L2780.4 881.5L2783.4 881.5L2783.4 879.5L2786.3 879.5L2786.3 882.9L2789.3 882.9L2789.3 880.0L2792.3 880.0L2792.3 879.9L2795.3 879.9L2795.3 882.2L2798.3 882.2L2798.3 884.5L2801.2 884.5L2801.2 882.0L2804.5 882.0L2804.5 882.8L2807.7 882.8L2807.7 885.9L2810.9 885.9L2810.9 880.9L2814.2 880.9L2814.2 884.6L2817.4 884.6L2817.4 884.7L2820.6 884.7L2820.6 884.3L2823.9 884.3L2823.9 885.2L2827.1 885.2L2827.1 886.0L2830.3 886.0L2830.3 885.2L2833.5 885.2L2833.5 885.0L2836.8 885.0L2836.8 888.9L2840.0 888.9L2839.6 886.8L2839.6 889.9L2838.9 889.9L2838.9 893.0L2840.0 892.2L2837.0 892.2L2837.0 893.1L2834.0 893.1L2834.0 893.5L2831.0 893.5L2831.0 894.8L2828.0 894.8L2828.0 891.4L2825.0 891.4L2825.0 893.0L2821.9 893.0L2821.9 890.9L2818.9 890.9L2818.9 892.7L2815.9 892.7L2815.9 894.4L2812.9 894.4L2812.9 895.4L2809.9 895.4L2809.9 891.7L2806.9 891.7L2806.9 895.4L2803.9 895.4L2803.9 891.4L2800.9 891.4L2800.9 891.8L2797.9 891.8L2797.9 895.1L2794.9 895.1L2794.9 895.5L2791.9 895.5L2791.9 893.7L2788.8 893.7L2788.8 892.7L2785.8 892.7L2785.8 893.9L2782.8 893.9L2782.8 894.5L2779.8 894.5L2779.8 892.2L2776.8 892.2L2776.8 891.3L2773.8 891.3L2773.8 894.2L2770.8 894.2L2770.8 891.7L2767.8 891.7L2767.8 892.0L2764.8 892.0L2764.8 893.5L2761.8 893.5L2761.8 893.4L2758.7 893.4L2758.7 894.6L2755.7 894.6L2755.7 893.4L2752.7 893.4L2752.7 893.5L2749.7 893.5L2749.7 890.8L2746.7 890.8L2746.7 891.1L2743.7 891.1L2743.7 893.1L2740.7 893.1L2740.7 895.3L2737.7 895.3L2737.7 892.4L2734.7 892.4L2734.7 891.3L2731.7 891.3L2731.7 893.6L2728.7 893.6L2728.7 891.4L2725.6 891.4L2725.6 895.1L2722.6 895.1L2722.6 895.2L2719.6 895.2L2719.6 893.7L2716.6 893.7L2716.6 892.5L2713.6 892.5L2713.6 891.7L2710.6 891.7L2710.6 893.2L2707.6 893.2L2707.6 895.1L2704.6 895.1L2704.6 891.8L2701.6 891.8L2701.6 895.4L2698.6 895.4L2698.6 890.0L2695.6 890.0L2695.6 893.6L2692.5 893.6L2692.5 894.2L2689.5 894.2L2689.5 894.3L2686.5 894.3L2686.5 895.6L2683.5 895.6L2683.5 895.9L2680.5 895.9L2680.5 892.2L2677.5 892.2L2677.5 894.7L2674.5 894.7L2674.5 893.3L2671.5 893.3L2671.5 894.8L2668.5 894.8L2668.5 894.4L2665.5 894.4L2665.5 891.6L2662.5 891.6L2662.5 893.2L2659.4 893.2L2659.4 895.5L2656.4 895.5L2656.4 893.0L2653.4 893.0L2653.4 892.0L2650.4 892.0L2650.4 891.6L2647.4 891.6L2647.4 894.2L2644.4 894.2L2644.4 895.8L2641.4 895.8L2641.4 894.2L2638.4 894.2L2638.4 892.2L2635.4 892.2L2635.4 892.9L2632.4 892.9L2632.4 893.6L2629.4 893.6L2629.4 891.6L2626.3 891.6L2626.3 892.9L2623.3 892.9L2623.3 891.2L2620.3 891.2L2620.3 895.5L2617.3 895.5L2617.3 894.7L2614.3 894.7L2614.3 894.9L2611.3 894.9L2611.3 893.0L2608.3 893.0L2608.3 895.2L2605.3 895.2L2605.3 893.3L2602.3 893.3L2602.3 894.1L2599.3 894.1L2599.3 891.8L2596.2 891.8L2596.2 894.1L2593.2 894.1L2593.2 891.5L2590.2 891.5L2590.2 891.4L2587.2 891.4L2587.2 891.2L2584.2 891.2L2584.2 894.4L2581.2 894.4L2581.2 895.5L2578.2 895.5L2578.2 895.6L2575.2 895.6L2575.2 893.8L2572.2 893.8L2572.2 894.5L2569.2 894.5L2569.2 895.8L2566.2 895.8L2566.2 895.1L2563.1 895.1L2563.1 892.6L2560.1 892.6L2560.1 894.1L2557.1 894.1L2557.1 894.7L2554.1 894.7L2554.1 891.4L2551.1 891.4L2551.1 894.4L2548.1 894.4L2548.1 893.7L2545.1 893.7L2545.1 896.0L2542.1 896.0L2542.1 891.4L2539.1 891.4L2539.1 895.5L2536.1 895.5L2536.1 894.6L2533.1 894.6L2533.1 895.5L2530.0 895.5L2530.0 892.4L2527.0 892.4L2527.0 895.5L2524.0 895.5L2524.0 891.7L2521.0 891.7L2521.0 893.1L2518.0 893.1L2518.0 895.8L2515.0 895.8L2515.0 894.4L2512.0 894.4L2512.0 893.0L2509.0 893.0L2509.0 896.2L2506.0 896.2L2506.0 895.2L2503.0 895.2L2503.0 891.6L2500.0 891.6L2500.0 895.0L2496.9 895.0L2496.9 896.3L2493.9 896.3L2493.9 895.2L2490.9 895.2L2490.9 892.1L2487.9 892.1L2487.9 895.3L2484.9 895.3L2484.9 892.9L2481.9 892.9L2481.9 892.0L2478.9 892.0L2478.9 895.3L2475.9 895.3L2475.9 892.2L2472.9 892.2L2472.9 894.7L2469.9 894.7L2469.9 896.3L2466.8 896.3L2466.8 894.4L2463.8 894.4L2463.8 893.4L2460.8 893.4L2460.8 896.4L2457.8 896.4L2457.8 894.5L2454.8 894.5L2454.8 893.9L2451.8 893.9L2451.8 892.2L2448.8 892.2L2448.8 891.7L2445.8 891.7L2445.8 894.1L2442.8 894.1L2442.8 895.7L2439.8 895.7L2439.8 892.5L2436.8 892.5L2436.8 892.8L2433.7 892.8L2433.7 891.5L2430.7 891.5L2430.7 892.9L2427.7 892.9L2427.7 894.5L2424.7 894.5L2424.7 891.6L2421.7 891.6L2421.7 893.1L2418.7 893.1L2418.7 893.8L2415.7 893.8L2415.7 892.9L2412.7 892.9L2412.7 896.2L2409.7 896.2L2409.7 893.5L2406.7 893.5L2406.7 891.8L2403.7 891.8L2403.7 895.4L2400.6 895.4L2400.6 895.0L2397.6 895.0L2397.6 894.9L2394.6 894.9L2394.6 893.6L2391.6 893.6L2391.6 894.9L2388.6 894.9L2388.6 892.5L2385.6 892.5L2385.6 894.2L2382.6 894.2L2382.6 893.8L2379.6 893.8L2379.6 893.0L2376.6 893.0L2376.6 895.2L2373.6 895.2L2373.6 894.3L2370.6 894.3L2370.6 893.3L2367.5 893.3L2367.5 896.6L2364.5 896.6L2364.5 897.0L2361.5 897.0L2361.5 893.0L2358.5 893.0L2358.5 894.8L2355.5 894.8L2355.5 894.7L2352.5 894.7L2352.5 894.3L2349.5 894.3L2349.5 896.6L2346.5 896.6L2346.5 894.9L2343.5 894.9L2343.5 896.5L2340.5 896.5L2340.5 896.7L2337.4 896.7L2337.4 894.8L2334.4 894.8L2334.4 892.5L2331.4 892.5L2331.4 893.5L2328.4 893.5L2328.4 895.0L2325.4 895.0L2325.4 894.5L2322.4 894.5L2322.4 893.6L2319.4 893.6L2319.4 895.0L2316.4 895.0L2316.4 895.3L2313.4 895.3L2313.4 893.5L2310.4 893.5L2310.4 895.8L2307.4 895.8L2307.4 894.1L2304.3 894.1L2304.7 894.3L2304.7 891.1L2305.8 891.1L2305.8 887.8L2307.4 887.8L2307.4 884.6L2307.2 884.6L2307.2 881.4L2308.3 881.4L2308.3 878.1L2309.4 878.1L2309.4 875.0L2309.9 875.0L2309.9 871.9L2310.4 871.9L2310.4 868.8L2306.0 868.8L2306.0 865.7L2306.5 865.7L2306.5 862.6L2304.6 862.6L2304.6 859.5L2304.1 859.5L2304.1 856.4L2300.6 856.4L2300.6 853.3L2299.0 853.3L2299.0 850.5L2298.2 850.5L2298.2 847.6L2296.7 847.6L2296.7 844.8L2291.7 844.8L2291.7 841.9L2292.4 841.9L2292.4 839.1L2292.7 839.1L2292.7 836.3L2290.3 836.3L2290.3 833.4L2289.4 835.4L2291.9 835.4L2291.9 828.5L2294.4 828.5L2294.4 826.0L2298.1 826.0L2298.1 822.5L2301.9 822.5L2301.9 820.9L2305.6 820.9L2305.6 822.1L2309.3 822.1L2308.2 826.0L2308.2 828.9L2310.0 828.9L2310.0 831.8L2310.4 831.8L2310.4 834.7L2308.6 834.7L2308.6 837.6L2311.2 837.6L2311.2 840.5L2312.7 840.5L2312.7 843.4L2313.8 843.4L2313.8 846.8L2314.8 846.8L2314.8 850.3L2315.3 850.3L2315.3 853.8L2318.3 853.8L2318.3 857.3L2317.0 857.3L2317.0 860.7L2316.8 860.8L2319.3 860.8L2319.3 860.6L2321.7 860.6L2321.7 864.4L2324.2 864.4L2324.2 867.8L2326.7 867.8L2326.7 867.5L2329.2 867.5L2329.2 871.0L2331.7 871.0L2331.7 873.8L2334.2 873.8L2334.2 874.0L2336.6 874.0L2336.6 873.8L2339.1 873.8L2338.5 878.1L2338.5 875.2L2338.4 875.2L2338.4 872.2L2336.8 872.2L2336.8 869.2L2334.0 869.2L2334.0 866.2L2332.2 866.2L2332.2 863.2L2333.0 863.2L2333.0 860.2L2332.4 860.2L2332.4 857.3L2333.0 857.3L2333.0 854.3L2327.0 854.3L2327.0 851.3L2332.3 851.3L2332.3 848.3L2334.8 848.3L2334.8 844.8L2334.0 844.8L2334.0 841.4L2334.9 841.4L2334.9 837.9L2335.8 837.9L2335.8 834.4L2335.4 834.4L2335.4 830.9L2335.7 830.9L2335.7 827.6L2334.3 827.6L2334.3 824.3L2333.7 824.3L2333.7 821.0L2332.8 821.0L2332.8 818.1L2329.9 818.1L2329.9 815.1L2336.2 815.1L2336.2 812.2L2328.9 812.2L2328.9 809.2L2326.6 809.2L2326.6 806.3L2326.0 806.3L2326.0 803.4L2326.0 803.4L2326.0 800.4L2326.7 800.4L2326.7 797.5L2325.3 797.5L2325.3 794.6L2323.7 794.6L2323.7 791.6L2322.8 791.6L2322.8 788.7L2322.0 788.7L2322.0 785.6L2320.6 785.6L2320.6 782.5L2320.2 782.5L2320.2 779.4L2320.4 779.4L2320.4 776.3L2319.2 776.3L2319.2 773.2L2316.7 773.2L2316.7 770.1L2316.1 770.1L2316.1 767.0L2312.7 767.0L2312.7 763.9L2309.8 763.9L2309.8 760.5L2309.1 760.5L2309.1 757.2L2309.9 757.2L2309.9 753.9L2306.8 753.6L2303.7 753.6L2303.7 754.2L2300.6 754.2L2300.6 749.5L2297.5 749.5L2297.5 750.8L2294.4 750.8L2294.4 747.8L2291.3 747.8L2291.3 749.5L2288.2 749.5L2288.2 752.5L2285.1 752.5L2285.1 752.9L2282.0 752.9L2282.0 754.6L2278.7 754.6L2278.7 751.6L2275.4 751.6L2275.4 753.0L2272.0 753.0L2272.0 747.5L2269.2 747.5L2269.2 747.4L2266.4 747.4L2266.4 745.3L2263.5 745.3L2263.5 747.2L2260.7 747.2L2260.7 742.5L2257.9 742.5L2257.9 742.1L2255.0 742.1L2255.0 738.6L2252.2 738.6L2252.2 741.9L2249.3 741.9L2249.3 741.0L2246.5 741.0L2246.5 739.6L2243.7 739.6L2243.7 740.6L2240.8 740.6L2240.8 734.9L2238.0 734.9L2238.0 734.0L2235.1 734.0L2235.1 734.9L2232.3 734.9L2232.3 734.6L2230.4 734.6L2230.4 729.9L2228.6 729.9L2228.6 727.2L2226.7 727.2L2226.7 723.5L2224.8 723.5L2223.6 721.6L2223.6 718.3L2224.2 718.3L2224.2 715.0L2222.0 715.0L2222.0 711.7L2221.9 711.7L2221.9 708.4L2220.3 708.4L2220.3 705.2L2223.2 705.2L2223.2 702.0L2224.0 702.0L2224.0 698.8L2221.9 698.8L2221.9 695.5L2223.6 695.2L2225.8 695.2L2225.8 699.8L2228.0 699.8L2228.0 699.1L2230.1 699.1L2230.1 702.9L2232.3 702.9L2232.3 704.3L2234.8 704.3L2234.8 700.1L2237.3 700.1L2237.3 698.6L2240.2 698.6L2240.2 697.8L2243.2 697.8L2243.2 700.1L2246.2 700.1L2246.2 696.2L2249.2 696.2L2249.2 687.8L2252.2 687.8L2252.2 695.4L2254.2 695.4L2254.2 697.4L2256.1 697.4L2256.1 702.0L2258.1 702.0L2258.1 702.2L2260.1 702.2L2260.1 708.1L2262.1 708.1L2262.1 707.2L2265.4 707.2L2265.4 707.2L2268.7 707.2L2268.7 704.6L2272.0 704.6L2271.8 704.2L2271.8 701.1L2271.7 701.1L2271.7 698.0L2271.2 698.0L2271.2 694.9L2270.5 694.9L2270.5 691.8L2270.8 692.6L2268.7 692.6L2268.7 686.3L2266.7 686.3L2266.7 685.6L2264.6 685.6L2264.6 673.2L2262.1 673.2L2262.1 678.4L2259.0 678.4L2259.0 679.7L2255.9 679.7L2255.9 676.2L2252.8 676.2L2252.8 678.7L2249.7 678.7L2249.7 677.0L2246.0 677.0L2246.0 677.0L2242.2 677.0L2242.2 674.0L2238.5 674.0L2238.5 676.1L2234.8 676.1L2235.4 674.4L2235.4 671.3L2234.2 671.3L2234.2 668.2L2232.3 666.1L2229.0 666.1L2229.0 667.6L2225.7 667.6L2225.7 665.2L2222.4 665.2L2222.4 663.6L2220.5 663.6L2220.5 663.9L2218.6 663.9L2218.6 660.6L2216.8 660.6L2216.8 659.0L2214.9 659.0L2213.7 654.5L2213.7 651.4L2213.2 651.4L2213.2 648.3L2212.6 648.3L2212.6 645.2L2212.9 645.2L2212.9 642.1L2211.8 642.1L2211.8 639.0L2210.4 639.0L2210.4 635.9L2211.0 635.9L2211.0 632.8L2209.2 632.8L2209.2 629.7Z" fill="#000" /><path d="M2217.4 849.6L2223.6 852.0L2221.1 857.0Z" fill="#000" /><path d="M3529.4 529.2L3532.6 529.2L3532.6 529.7L3535.8 529.7L3535.8 527.7L3539.0 527.7L3539.0 526.2L3542.2 526.2L3542.2 526.2L3545.4 526.2L3545.4 528.1L3549.2 528.1L3549.2 522.9L3552.9 522.9L3552.9 527.4L3556.6 527.4L3556.6 529.0L3560.3 529.0L3560.3 520.7L3563.5 520.7L3563.5 530.6L3566.7 530.6L3566.7 529.3L3569.9 529.3L3569.9 531.3L3573.1 531.3L3573.1 533.2L3576.3 533.2L3576.3 534.4L3579.5 534.4L3579.5 532.6L3582.7 532.6L3582.7 534.7L3585.2 534.7L3585.2 537.2L3587.7 537.2L3587.7 538.3L3590.2 538.3L3590.2 543.3L3592.6 543.3L3592.6 551.8L3595.1 551.8L3595.1 545.7L3597.6 545.7L3597.6 549.6L3600.7 549.6L3600.7 549.6L3603.8 549.6L3603.8 552.8L3606.9 552.8L3606.8 555.9L3606.8 559.6L3605.1 558.8L3602.1 558.8L3602.1 556.7L3599.1 556.7L3599.1 560.4L3596.1 560.4L3596.1 564.6L3593.1 564.6L3593.1 556.9L3590.2 556.9L3590.2 557.4L3587.1 557.4L3587.1 553.7L3583.9 553.7L3583.9 551.7L3580.8 551.7L3580.8 553.1L3577.7 553.1L3577.7 549.9L3574.6 549.9L3574.6 545.9L3571.5 545.9L3571.5 546.9L3568.4 546.9L3568.4 547.5L3565.3 547.5L3565.3 554.6L3562.2 554.6L3562.2 544.6L3559.1 544.6L3559.1 542.0L3556.0 542.0L3556.0 544.7L3552.9 544.7L3552.9 544.1L3549.8 544.1L3549.8 542.6L3546.7 542.6L3546.7 543.3L3543.6 543.3L3543.6 541.6L3540.5 541.6L3540.5 538.9L3537.4 538.9L3537.4 538.0L3534.3 538.0L3533.3 539.1L3533.3 536.0L3532.9 536.0L3532.9 532.9L3534.4 532.9L3534.4 529.8Z" fill="#000" /><path d="M3545.4 562.0L3548.4 562.0L3548.4 561.7L3551.4 561.7L3551.4 559.8L3554.4 559.8L3554.4 558.6L3557.4 558.6L3557.4 556.7L3560.3 556.7L3560.3 556.2L3563.3 556.2L3563.3 560.1L3566.3 560.1L3566.3 560.6L3569.3 560.6L3569.3 560.0L3572.3 560.0L3572.3 560.4L3575.3 560.4L3575.3 557.3L3578.2 557.3L3578.2 563.6L3581.2 563.6L3581.2 561.3L3584.2 561.3L3584.2 564.4L3587.2 564.4L3587.2 568.1L3590.2 568.1L3590.2 569.5L3592.6 569.5L3592.6 569.3L3595.1 569.3L3595.1 573.4L3597.6 573.4L3597.6 577.0L3600.1 577.0L3600.1 567.3L3602.6 567.3L3602.6 583.5L3605.1 583.5L3605.7 580.1L3605.7 583.9L3603.2 589.7L3599.9 589.7L3599.9 582.3L3596.5 582.3L3596.5 583.7L3593.1 583.7L3593.1 581.3L3589.8 581.3L3589.8 580.9L3586.4 580.9L3586.4 589.0L3583.3 589.0L3583.3 576.9L3580.2 576.9L3580.2 576.5L3577.1 576.5L3577.1 576.2L3574.0 576.2L3574.0 575.4L3570.9 575.4L3570.9 575.1L3567.8 575.1L3567.8 570.9L3564.7 570.9L3564.7 570.1L3561.6 570.1L3561.6 569.7L3558.5 569.7L3558.5 568.9L3555.4 568.9L3555.4 572.0L3552.3 572.0L3552.3 568.5L3549.2 568.5L3548.7 569.0L3548.7 565.2L3546.2 565.2L3546.2 561.5Z" fill="#000" /><path d="M1949.0 892.7L1952.0 892.7L1952.0 891.9L1955.0 891.9L1955.0 893.0L1958.1 893.0L1958.1 895.4L1961.1 895.4L1961.1 891.1L1964.1 891.1L1964.1 899.0L1967.1 899.0L1967.1 893.3L1970.1 893.3L1970.1 890.8L1973.2 890.8L1973.2 892.8L1976.2 892.8L1976.2 891.2L1979.2 891.2L1979.2 893.1L1982.2 893.1L1982.2 893.4L1985.2 893.4L1985.2 894.9L1988.3 894.9L1988.3 892.4L1991.3 892.4L1991.3 891.8L1994.3 891.8L1994.3 891.8L1997.3 891.8L1997.3 894.4L2000.3 894.4L2000.3 890.6L2003.4 890.6L2003.4 890.1L2006.4 890.1L2006.4 894.4L2009.4 894.4L2009.4 890.4L2012.4 890.4L2012.4 893.9L2015.4 893.9L2015.4 891.0L2018.5 891.0L2018.5 891.7L2021.5 891.7L2021.5 891.4L2024.5 891.4L2024.5 890.0L2027.5 890.0L2027.5 893.9L2030.5 893.9L2030.5 889.5L2033.6 889.5L2033.6 894.2L2036.6 894.2L2036.6 890.8L2039.6 890.8L2039.6 891.8L2042.6 891.8L2042.6 892.6L2045.6 892.6L2045.6 889.2L2048.7 889.2L2048.7 891.7L2051.7 891.7L2051.7 889.5L2054.7 889.5L2054.7 888.9L2057.7 888.9L2057.7 889.4L2060.7 889.4L2060.7 889.2L2063.8 889.2L2063.8 891.0L2066.8 891.0L2066.8 893.4L2069.8 893.4L2069.8 893.0L2072.8 893.0L2072.8 889.7L2075.8 889.7L2075.8 892.8L2078.9 892.8L2078.9 897.4L2081.9 897.4L2081.9 890.1L2084.9 890.1L2084.9 889.1L2087.9 889.1L2087.9 897.9L2090.9 897.9L2090.9 889.7L2094.0 889.7L2094.0 891.4L2097.0 891.4L2097.0 890.8L2100.0 890.8L2100.0 890.7L2103.0 890.7L2103.0 888.5L2106.1 888.5L2106.1 892.3L2109.1 892.3L2109.1 889.9L2112.1 889.9L2112.1 890.3L2115.2 890.3L2115.2 889.5L2118.2 889.5L2118.2 892.7L2121.2 892.7L2121.2 893.2L2124.2 893.2L2124.2 891.6L2127.3 891.6L2127.3 890.7L2130.3 890.7L2130.3 890.2L2133.3 890.2L2133.3 893.1L2136.4 893.1L2136.4 891.6L2139.4 891.6L2139.4 890.2L2142.4 890.2L2142.4 884.4L2145.5 884.4L2145.5 889.7L2148.5 889.7L2148.5 893.0L2151.5 893.0L2151.5 891.7L2154.5 891.7L2154.5 890.6L2157.6 890.6L2157.6 892.4L2160.6 892.4L2160.6 888.2L2163.6 888.2L2163.6 890.4L2166.7 890.4L2166.7 884.9L2169.7 884.9L2169.7 888.6L2172.7 888.6L2172.7 889.5L2175.8 889.5L2175.8 890.2L2178.8 890.2L2178.8 891.6L2181.8 891.6L2181.8 890.0L2184.8 890.0L2184.8 888.6L2187.9 888.6L2187.9 890.3L2190.9 890.3L2190.9 889.1L2193.9 889.1L2193.9 888.9L2197.0 888.9L2197.0 888.9L2200.0 888.9L2200.0 892.0L2203.0 892.0L2203.0 890.4L2206.1 890.4L2206.1 890.7L2209.1 890.7L2209.1 894.2L2212.1 894.2L2212.1 892.3L2215.2 892.3L2215.2 892.1L2218.2 892.1L2218.2 888.1L2221.2 888.1L2221.2 888.5L2224.2 888.5L2224.2 891.9L2227.3 891.9L2227.3 887.9L2230.3 887.9L2230.3 887.9L2233.3 887.9L2233.3 891.1L2236.4 891.1L2236.4 889.6L2239.4 889.6L2239.4 889.8L2242.4 889.8L2242.4 892.7L2245.5 892.7L2245.5 891.9L2248.5 891.9L2248.5 890.9L2251.5 890.9L2251.5 890.9L2254.5 890.9L2254.5 888.3L2257.6 888.3L2257.6 891.4L2260.6 891.4L2260.6 888.7L2263.6 888.7L2263.6 890.1L2266.7 890.1L2266.7 890.2L2269.7 890.2L2269.7 888.1L2272.7 888.1L2272.7 890.5L2275.8 890.5L2275.8 885.3L2278.8 885.3L2278.8 892.6L2281.8 892.6L2281.8 888.7L2284.8 888.7L2284.8 887.7L2287.9 887.7L2287.9 888.1L2290.9 888.1L2290.9 892.2L2293.9 892.2L2293.9 890.9L2297.0 890.9L2297.0 887.9L2300.0 887.9L2300.0 889.1L2303.0 889.1L2303.0 887.8L2306.1 887.8L2306.1 891.2L2309.1 891.2L2309.1 888.5L2312.1 888.5L2312.1 892.2L2315.2 892.2L2315.2 889.4L2318.2 889.4L2318.2 890.2L2321.2 890.2L2321.2 892.2L2324.2 892.2L2324.2 888.6L2327.3 888.6L2327.3 891.5L2330.3 891.5L2330.3 892.1L2333.3 892.1L2333.3 891.3L2336.4 891.3L2336.4 888.1L2339.4 888.1L2339.4 888.7L2342.4 888.7L2342.4 891.4L2345.5 891.4L2345.5 887.2L2348.5 887.2L2348.5 888.0L2351.5 888.0L2351.5 888.4L2354.5 888.4L2354.5 890.3L2357.6 890.3L2357.6 888.5L2360.6 888.5L2360.6 887.4L2363.6 887.4L2363.6 889.8L2366.7 889.8L2366.7 887.8L2369.7 887.8L2369.7 889.4L2372.7 889.4L2372.7 888.0L2375.8 888.0L2375.8 889.2L2378.8 889.2L2378.8 888.1L2381.8 888.1L2381.8 887.0L2384.8 887.0L2384.8 887.8L2387.9 887.8L2387.9 888.7L2390.9 888.7L2390.9 887.9L2393.9 887.9L2393.9 888.4L2397.0 888.4L2397.0 887.2L2400.0 887.2L2400.0 889.0L2403.0 889.0L2403.0 887.8L2406.1 887.8L2406.1 887.9L2409.1 887.9L2409.1 891.2L2412.1 891.2L2412.1 887.2L2415.2 887.2L2415.2 890.6L2418.2 890.6L2418.2 890.9L2421.2 890.9L2421.2 888.3L2424.2 888.3L2424.2 890.6L2427.3 890.6L2427.3 887.9L2430.3 887.9L2430.3 887.4L2433.3 887.4L2433.3 879.0L2436.4 879.0L2436.4 888.0L2439.4 888.0L2439.4 887.3L2442.4 887.3L2442.4 887.0L2445.5 887.0L2445.5 891.2L2448.5 891.2L2448.5 880.9L2451.5 880.9L2451.5 886.5L2454.5 886.5L2454.5 896.4L2457.6 896.4L2457.6 889.8L2460.6 889.8L2460.6 891.1L2463.6 891.1L2463.6 890.7L2466.7 890.7L2466.7 888.2L2469.7 888.2L2469.7 888.4L2472.7 888.4L2472.7 890.4L2475.8 890.4L2475.8 895.1L2478.8 895.1L2478.8 890.8L2481.8 890.8L2481.8 887.3L2484.8 887.3L2484.8 890.3L2487.9 890.3L2487.9 888.0L2490.9 888.0L2490.9 887.4L2493.9 887.4L2493.9 888.4L2497.0 888.4L2497.0 889.0L2500.0 889.0L2500.0 888.7L2503.0 888.7L2503.0 886.8L2506.0 886.8L2506.0 887.0L2509.0 887.0L2509.0 889.0L2512.1 889.0L2512.1 890.0L2515.1 890.0L2515.1 889.5L2518.1 889.5L2518.1 886.8L2521.1 886.8L2521.1 887.0L2524.1 887.0L2524.1 887.0L2527.1 887.0L2527.1 889.7L2530.1 889.7L2530.1 889.5L2533.1 889.5L2533.1 889.4L2536.2 889.4L2536.2 891.0L2539.2 891.0L2539.2 887.9L2542.2 887.9L2542.2 890.0L2545.2 890.0L2545.2 890.3L2548.2 890.3L2548.2 888.1L2551.2 888.1L2551.2 886.6L2554.2 886.6L2554.2 886.4L2557.2 886.4L2557.2 888.0L2560.3 888.0L2560.3 889.2L2563.3 889.2L2563.3 890.1L2566.3 890.1L2566.3 886.3L2569.3 886.3L2569.3 889.1L2572.3 889.1L2572.3 885.5L2575.3 885.5L2575.3 883.1L2578.3 883.1L2578.3 886.6L2581.3 886.6L2581.3 887.5L2584.4 887.5L2584.4 888.5L2587.4 888.5L2587.4 887.3L2590.4 887.3L2590.4 887.1L2593.4 887.1L2593.4 887.4L2596.4 887.4L2596.4 888.2L2599.4 888.2L2599.4 888.3L2602.4 888.3L2602.4 887.7L2605.4 887.7L2605.4 886.8L2608.5 886.8L2608.5 886.5L2611.5 886.5L2611.5 890.0L2614.5 890.0L2614.5 888.5L2617.5 888.5L2617.5 888.1L2620.5 888.1L2620.5 886.3L2623.5 886.3L2623.5 880.4L2626.5 880.4L2626.5 887.0L2629.6 887.0L2629.6 888.3L2632.6 888.3L2632.6 888.4L2635.6 888.4L2635.6 888.9L2638.6 888.9L2638.6 889.8L2641.6 889.8L2641.6 885.5L2644.6 885.5L2644.6 887.4L2647.6 887.4L2647.6 886.8L2650.6 886.8L2650.6 889.7L2653.7 889.7L2653.7 887.3L2656.7 887.3L2656.7 888.1L2659.7 888.1L2659.7 886.2L2662.7 886.2L2662.7 888.4L2665.7 888.4L2665.7 887.9L2668.7 887.9L2668.7 887.8L2671.7 887.8L2671.7 889.5L2674.7 889.5L2674.7 889.6L2677.8 889.6L2677.8 885.7L2680.8 885.7L2680.8 888.4L2683.8 888.4L2683.8 887.1L2686.8 887.1L2686.8 886.7L2689.8 886.7L2689.8 885.8L2692.8 885.8L2692.8 887.7L2695.8 887.7L2695.8 887.3L2698.8 887.3L2698.8 895.4L2701.9 895.4L2701.9 887.9L2704.9 887.9L2704.9 886.8L2707.9 886.8L2707.9 885.9L2710.9 885.9L2710.9 886.7L2713.9 886.7L2713.9 886.0L2716.9 886.0L2716.9 884.7L2719.9 884.7L2719.9 888.9L2722.9 888.9L2722.9 886.1L2726.0 886.1L2726.0 886.6L2729.0 886.6L2729.0 882.2L2732.0 882.2L2732.0 889.3L2735.0 889.3L2735.3 887.0L2735.3 890.0L2734.8 890.0L2734.8 893.1L2736.5 893.1L2736.5 896.1L2735.6 896.1L2735.6 899.2L2735.7 899.2L2735.7 902.2L2736.4 902.2L2736.4 905.3L2735.5 905.3L2735.5 908.3L2737.9 908.3L2737.9 911.3L2735.3 911.3L2735.3 914.4L2734.3 914.4L2734.3 917.4L2736.2 917.4L2736.2 920.5L2735.0 920.5L2735.0 923.5L2736.1 923.5L2736.1 926.6L2734.2 926.6L2734.2 929.6L2734.6 929.6L2734.6 932.7L2733.5 932.7L2733.5 935.7L2734.0 935.7L2734.0 938.7L2734.6 938.7L2734.6 941.8L2735.8 941.8L2735.8 944.8L2736.7 944.8L2736.7 947.9L2734.5 947.9L2734.5 950.9L2735.1 950.9L2735.1 954.0L2734.4 954.0L2734.4 957.0L2735.0 958.4L2732.0 958.4L2732.0 957.9L2729.0 957.9L2729.0 958.6L2726.0 958.6L2726.0 957.9L2723.0 957.9L2723.0 956.2L2720.0 956.2L2720.0 954.9L2717.0 954.9L2717.0 955.0L2714.0 955.0L2714.0 958.9L2711.0 958.9L2711.0 957.9L2708.0 957.9L2708.0 955.7L2705.0 955.7L2705.0 956.2L2702.0 956.2L2702.0 958.9L2699.0 958.9L2699.0 957.2L2696.0 957.2L2696.0 956.2L2693.0 956.2L2693.0 954.6L2690.0 954.6L2690.0 954.6L2687.0 954.6L2687.0 956.0L2684.0 956.0L2684.0 962.3L2681.0 962.3L2681.0 955.3L2678.0 955.3L2678.0 958.2L2675.0 958.2L2675.0 958.5L2672.0 958.5L2672.0 955.3L2669.0 955.3L2669.0 956.6L2666.0 956.6L2666.0 955.9L2663.0 955.9L2663.0 957.2L2660.0 957.2L2660.0 955.5L2657.0 955.5L2657.0 955.2L2654.0 955.2L2654.0 958.2L2651.0 958.2L2651.0 956.3L2648.0 956.3L2648.0 956.3L2645.0 956.3L2645.0 959.2L2642.0 959.2L2642.0 955.4L2639.0 955.4L2639.0 955.3L2636.0 955.3L2636.0 956.6L2633.0 956.6L2633.0 957.9L2630.0 957.9L2630.0 958.7L2627.0 958.7L2627.0 959.4L2624.0 959.4L2624.0 958.0L2621.0 958.0L2621.0 958.5L2618.0 958.5L2618.0 956.4L2615.0 956.4L2615.0 957.3L2612.0 957.3L2612.0 955.8L2609.0 955.8L2609.0 955.5L2606.0 955.5L2606.0 956.9L2603.0 956.9L2603.0 951.9L2600.0 951.9L2600.0 957.1L2597.0 957.1L2597.0 955.2L2594.0 955.2L2594.0 957.6L2591.0 957.6L2591.0 960.6L2588.0 960.6L2588.0 959.2L2585.0 959.2L2585.0 959.1L2582.0 959.1L2582.0 958.4L2579.0 958.4L2579.0 956.3L2576.0 956.3L2576.0 948.6L2573.0 948.6L2573.0 958.2L2570.0 958.2L2570.0 958.8L2567.0 958.8L2567.0 961.5L2564.0 961.5L2564.0 955.9L2561.0 955.9L2561.0 956.4L2558.0 956.4L2558.0 957.8L2555.0 957.8L2555.0 957.4L2552.0 957.4L2552.0 955.6L2549.0 955.6L2549.0 955.1L2546.0 955.1L2546.0 955.8L2543.0 955.8L2543.0 955.8L2540.0 955.8L2540.0 956.6L2537.0 956.6L2537.0 957.2L2534.0 957.2L2534.0 958.2L2531.0 958.2L2531.0 948.8L2528.0 948.8L2528.0 958.3L2525.0 958.3L2525.0 958.0L2522.0 958.0L2522.0 957.1L2519.0 957.1L2519.0 955.0L2516.0 955.0L2516.0 954.6L2513.0 954.6L2513.0 956.7L2510.0 956.7L2510.0 958.7L2507.0 958.7L2507.0 957.5L2504.0 957.5L2504.0 957.9L2501.0 957.9L2501.0 955.8L2498.0 955.8L2498.0 955.3L2495.0 955.3L2495.0 956.7L2492.0 956.7L2492.0 958.9L2489.0 958.9L2489.0 955.5L2486.0 955.5L2486.0 956.3L2483.0 956.3L2483.0 958.0L2480.0 958.0L2480.0 955.8L2477.0 955.8L2477.0 958.2L2474.0 958.2L2474.0 958.8L2471.0 958.8L2471.0 955.0L2468.0 955.0L2468.0 957.2L2465.0 957.2L2465.0 957.9L2462.0 957.9L2462.0 961.2L2459.0 961.2L2459.0 958.3L2456.0 958.3L2456.0 957.4L2453.0 957.4L2453.0 956.2L2450.0 956.2L2450.0 957.1L2447.0 957.1L2447.0 957.7L2444.0 957.7L2444.0 955.8L2441.0 955.8L2441.0 956.1L2438.0 956.1L2438.0 956.6L2435.0 956.6L2435.0 958.3L2432.0 958.3L2432.0 958.0L2429.0 958.0L2429.0 959.2L2426.0 959.2L2426.0 957.3L2423.0 957.3L2423.0 956.2L2420.0 956.2L2420.0 958.1L2417.0 958.1L2417.0 954.8L2414.0 954.8L2414.0 956.5L2411.0 956.5L2411.0 957.5L2408.0 957.5L2408.0 959.2L2405.0 959.2L2405.0 958.3L2402.0 958.3L2402.0 958.1L2399.0 958.1L2399.0 957.9L2396.0 957.9L2396.0 959.1L2393.0 959.1L2393.0 957.4L2390.0 957.4L2390.0 956.8L2387.0 956.8L2387.0 957.5L2384.0 957.5L2384.0 965.3L2381.0 965.3L2381.0 959.2L2378.0 959.2L2378.0 958.5L2375.0 958.5L2375.0 957.7L2372.0 957.7L2372.0 958.9L2369.0 958.9L2369.0 956.6L2366.0 956.6L2366.0 959.2L2363.0 959.2L2363.0 959.2L2360.0 959.2L2360.0 958.1L2357.0 958.1L2357.0 960.2L2354.0 960.2L2354.0 956.9L2351.0 956.9L2351.0 957.7L2348.0 957.7L2348.0 952.6L2345.0 952.6L2345.0 955.1L2342.0 955.1L2342.0 959.4L2339.0 959.4L2339.0 965.3L2336.0 965.3L2336.0 958.3L2333.0 958.3L2333.0 957.6L2330.0 957.6L2330.0 958.6L2327.0 958.6L2327.0 956.2L2324.0 956.2L2324.0 956.1L2321.0 956.1L2321.0 954.9L2318.0 954.9L2318.0 957.0L2315.0 957.0L2315.0 956.7L2312.0 956.7L2312.0 956.3L2309.0 956.3L2309.0 955.1L2306.0 955.1L2306.0 957.2L2303.0 957.2L2303.0 954.7L2300.0 954.7L2300.0 956.8L2297.0 956.8L2297.0 954.8L2294.0 954.8L2294.0 958.9L2291.0 958.9L2291.0 954.7L2288.0 954.7L2288.0 956.7L2285.0 956.7L2285.0 956.7L2282.0 956.7L2282.0 957.8L2279.0 957.8L2279.0 959.4L2276.0 959.4L2276.0 955.6L2273.0 955.6L2273.0 958.1L2270.0 958.1L2270.0 958.8L2267.0 958.8L2267.0 955.7L2264.0 955.7L2264.0 957.5L2261.0 957.5L2261.0 957.5L2258.0 957.5L2258.0 955.5L2255.0 955.5L2255.0 956.6L2252.0 956.6L2252.0 957.7L2249.0 957.7L2249.0 956.8L2246.0 956.8L2246.0 958.9L2243.0 958.9L2243.0 957.6L2240.0 957.6L2240.0 959.4L2237.0 959.4L2237.0 956.4L2234.0 956.4L2234.0 954.7L2231.0 954.7L2231.0 955.5L2228.0 955.5L2228.0 957.6L2225.0 957.6L2225.0 954.6L2222.0 954.6L2222.0 959.2L2219.0 959.2L2219.0 956.4L2216.0 956.4L2216.0 955.2L2213.0 955.2L2213.0 958.3L2210.0 958.3L2210.0 955.9L2207.0 955.9L2207.0 956.8L2204.0 956.8L2204.0 951.8L2201.0 951.8L2201.0 954.7L2198.0 954.7L2198.0 956.6L2195.0 956.6L2195.0 958.3L2192.0 958.3L2192.0 958.5L2189.0 958.5L2189.0 958.6L2186.0 958.6L2186.0 958.4L2183.0 958.4L2183.0 959.2L2180.0 959.2L2180.0 954.6L2177.0 954.6L2177.0 959.1L2174.0 959.1L2174.0 956.6L2171.0 956.6L2171.0 955.0L2168.0 955.0L2168.0 956.7L2165.0 956.7L2165.0 954.5L2162.0 954.5L2162.0 956.6L2159.0 956.6L2159.0 957.1L2156.0 957.1L2156.0 955.4L2153.0 955.4L2153.0 958.3L2150.0 958.3L2150.0 957.4L2147.0 957.4L2147.0 955.5L2144.0 955.5L2144.0 956.0L2141.0 956.0L2141.0 955.5L2138.0 955.5L2138.0 955.8L2135.0 955.8L2135.0 950.1L2132.0 950.1L2132.0 955.8L2129.0 955.8L2129.0 958.0L2126.0 958.0L2126.0 956.7L2123.0 956.7L2123.0 956.3L2120.0 956.3L2120.0 958.9L2117.0 958.9L2117.0 958.5L2114.0 958.5L2114.0 962.2L2111.0 962.2L2111.0 959.2L2108.0 959.2L2108.0 958.6L2105.0 958.6L2105.0 955.2L2102.0 955.2L2102.0 956.5L2099.0 956.5L2099.0 955.3L2096.0 955.3L2096.0 957.0L2093.0 957.0L2093.0 957.5L2090.0 957.5L2090.0 958.0L2087.0 958.0L2087.0 959.3L2084.0 959.3L2084.0 964.7L2081.0 964.7L2081.0 955.8L2078.0 955.8L2078.0 955.3L2075.0 955.3L2075.0 957.4L2072.0 957.4L2072.0 959.1L2069.0 959.1L2069.0 955.6L2066.0 955.6L2066.0 955.7L2063.0 955.7L2063.0 954.6L2060.0 954.6L2060.0 958.5L2057.0 958.5L2057.0 957.8L2054.0 957.8L2054.0 957.9L2051.0 957.9L2051.0 955.1L2048.0 955.1L2048.0 955.8L2045.0 955.8L2045.0 967.2L2042.0 967.2L2042.0 955.3L2039.0 955.3L2039.0 956.9L2036.0 956.9L2036.0 958.7L2033.0 958.7L2033.0 956.6L2030.0 956.6L2030.0 958.0L2027.0 958.0L2027.0 959.2L2024.0 959.2L2024.0 957.5L2021.0 957.5L2021.0 955.1L2018.0 955.1L2018.0 956.5L2015.0 956.5L2015.0 956.1L2012.0 956.1L2012.0 954.0L2009.0 954.0L2009.0 960.4L2006.0 960.4L2006.0 957.5L2003.0 957.5L2003.0 956.5L2000.0 956.5L2000.0 955.2L1997.0 955.2L1997.0 956.9L1994.0 956.9L1994.0 958.7L1991.0 958.7L1991.0 957.2L1988.0 957.2L1988.0 956.9L1985.0 956.9L1985.0 957.3L1982.0 957.3L1982.0 958.0L1979.0 958.0L1979.0 958.7L1976.0 958.7L1976.0 954.7L1973.0 954.7L1973.0 954.6L1970.0 954.6L1970.0 956.5L1967.0 956.5L1967.0 955.8L1964.0 955.8L1964.0 956.3L1961.0 956.3L1961.0 956.4L1958.0 956.4L1958.0 956.0L1955.0 956.0L1955.0 956.9L1952.0 956.9L1952.0 955.0L1949.0 955.0L1949.0 957.0L1949.0 954.0L1950.5 954.0L1950.5 950.9L1950.3 950.9L1950.3 947.9L1947.6 947.9L1947.6 944.8L1951.9 944.8L1951.9 941.8L1948.6 941.8L1948.6 938.7L1948.6 938.7L1948.6 935.7L1949.3 935.7L1949.3 932.6L1948.8 932.6L1948.8 929.6L1948.8 929.6L1948.8 926.5L1949.9 926.5L1949.9 923.5L1950.1 923.5L1950.1 920.4L1949.2 920.4L1949.2 917.4L1950.1 917.4L1950.1 914.3L1949.3 914.3L1949.3 911.3L1947.6 911.3L1947.6 908.2L1951.3 908.2L1951.3 905.2L1949.1 905.2L1949.1 902.1L1948.8 902.1L1948.8 899.1L1948.3 899.1L1948.3 896.0L1949.4 896.0L1949.4 893.0Z" fill="#000" /><path d="M1922.0 895.9L1946.8 895.9L1949.3 913.3L1939.4 910.8L1929.4 915.8L1922.0 908.3Z" fill="#000" /><path d="M2797.4 941.1L2801.5 914.9L2807.5 941.1Z" fill="#000" /><path d="M2841.9 941.1L2849.9 900.7L2858.0 941.1Z" fill="#000" /><path d="M2870.1 941.1L2875.2 925.0L2882.2 941.1Z" fill="#000" /><path d="M2886.3 941.1L2891.3 929.0L2896.4 941.1Z" fill="#000" /><path d="M3080.0 908.8L3090.1 916.9L3094.2 929.0L3090.1 933.0L3082.1 920.9Z" fill="#000" /><path d="M3136.6 941.1L3138.6 914.9L3144.6 916.9L3150.7 929.0L3148.7 941.1Z" fill="#000" /><path d="M2815.6 941.1L2819.7 929.0L2825.7 941.1Z" fill="#000" /><path d="M2952.9 941.1L2954.9 914.9L2958.9 941.1Z" fill="#000" /><path d="M3344.0 912.9L3349.0 916.9L3348.0 927.0L3345.0 922.9Z" fill="#000" /><path d="M2831.3 941.0L2835.7 924.1L2838.8 927.5L2843.8 941.0Z" fill="#000" /><path d="M2980.9 941.0L2985.6 931.4L2989.0 933.3L2994.4 941.0Z" fill="#000" /><path d="M2737.4 941.0L2743.0 926.8L2747.0 929.6L2753.4 941.0Z" fill="#000" /><path d="M2827.1 941.0L2833.4 921.7L2837.9 925.6L2845.0 941.0Z" fill="#000" /><path d="M3077.1 941.0L3081.2 917.7L3084.1 922.3L3088.8 941.0Z" fill="#000" /><path d="M2794.9 941.0L2799.7 912.2L2803.1 917.9L2808.6 941.0Z" fill="#000" /><path d="M2947.1 941.0L2952.3 916.9L2956.0 921.7L2962.0 941.0Z" fill="#000" /><path d="M2758.7 941.0L2764.0 918.8L2767.8 923.3L2773.8 941.0Z" fill="#000" /><path d="M2860.3 941.0L2862.6 912.2L2864.2 918.0L2866.7 941.0Z" fill="#000" /><path d="M2926.5 941.0L2931.6 911.9L2935.3 917.7L2941.1 941.0Z" fill="#000" /><path d="M3024.3 941.0L3030.2 923.5L3034.5 927.0L3041.3 941.0Z" fill="#000" /><path d="M3062.7 941.0L3066.7 910.5L3069.5 916.6L3074.0 941.0Z" fill="#000" /><path d="M3096.8 941.0L3099.3 929.7L3101.1 932.0L3103.9 941.0Z" fill="#000" /><path d="M2820.2 941.0L2826.3 922.5L2830.7 926.2L2837.8 941.0Z" fill="#000" /><path d="M2992.1 941.0L2995.5 920.8L2997.9 924.9L3001.7 941.0Z" fill="#000" /><path d="M2893.1 941.0L2896.7 919.0L2899.2 923.4L2903.3 941.0Z" fill="#000" /><path d="M2971.1 941.0L2977.0 916.6L2981.2 921.5L2988.0 941.0Z" fill="#000" /><path d="M3112.7 941.0L3118.4 909.2L3122.5 915.6L3129.0 941.0Z" fill="#000" /><path d="M3011.2 941.0L3014.0 912.3L3016.0 918.1L3019.2 941.0Z" fill="#000" /><path d="M3127.1 941.0L3133.0 919.3L3137.2 923.7L3143.9 941.0Z" fill="#000" /><path d="M3028.4 941.0L3031.4 913.0L3033.5 918.6L3036.9 941.0Z" fill="#000" /><path d="M2970.4 941.0L2973.7 931.5L2976.1 933.4L2979.9 941.0Z" fill="#000" /><path d="M3081.2 941.0L3087.4 930.9L3091.9 932.9L3099.1 941.0Z" fill="#000" /><path d="M3062.8 941.0L3066.6 929.4L3069.3 931.7L3073.7 941.0Z" fill="#000" /><path d="M2852.9 941.0L2858.2 912.1L2862.0 917.8L2868.1 941.0Z" fill="#000" /><path d="M2751.4 941.0L2756.1 931.9L2759.5 933.7L2764.8 941.0Z" fill="#000" /><path d="M2705.0 889.0L2709.7 870.7L2714.3 889.0Z" fill="#000" /><path d="M2727.7 889.0L2733.3 869.0L2738.8 889.0Z" fill="#000" /><path d="M2669.5 889.0L2672.9 874.6L2676.3 889.0Z" fill="#000" /><path d="M2643.8 889.0L2647.8 877.3L2651.8 889.0Z" fill="#000" /><path d="M2696.2 889.0L2699.9 882.4L2703.7 889.0Z" fill="#000" /><path d="M2718.5 889.0L2723.1 869.6L2727.7 889.0Z" fill="#000" /><path d="M2720.8 889.0L2725.7 876.6L2730.6 889.0Z" fill="#000" /><path d="M2685.6 889.0L2691.8 874.7L2698.0 889.0Z" fill="#000" /><path d="M2689.2 889.0L2695.3 869.8L2701.4 889.0Z" fill="#000" /><path d="M2685.5 889.0L2690.6 872.9L2695.8 889.0Z" fill="#000" /></clipPath>
<path d="M1241 859h2v39h-2zM1278 761h2v16h-2zM1287 800h1v35h-1zM1334 823h1.5v36h-1.5zM1214 827h2v37h-2zM1186 739h2v21h-2zM1161 807h1.5v32h-1.5zM1155 789h2v21h-2zM1287 692h2v22h-2zM1283 811h1v30h-1zM1206 737h2v39h-2zM1166 852h1v14h-1zM1200 828h2v25h-2zM1325 877h1.5v31h-1.5zM1283 831h2v20h-2zM1299 742h2v17h-2zM1201 852h1.5v14h-1.5zM1227 781h1v29h-1zM1257 840h1v42h-1zM1313 768h1.5v22h-1.5zM1154 864h2v42h-2zM1283 730h2v32h-2zM1165 821h2v12h-2zM1318 822h1.5v40h-1.5zM1327 818h1.5v40h-1.5zM1219 778h2v16h-2zM1187 740h1v28h-1zM1177 805h1v32h-1zM1216 853h1v13h-1zM1286 866h1.5v18h-1.5zM1256 780h2v34h-2zM1167 762h1v39h-1zM1214 762h2v36h-2zM1318 773h1v34h-1zM1320 793h2v22h-2zM1302 878h1v11h-1zM1212 800h2v27h-2zM1239 783h2v44h-2zM1321 738h2v23h-2zM1317 806h2v36h-2zM1198 826h1v11h-1zM1175 828h1v13h-1zM1226 737h1v43h-1zM1294 857h1.5v11h-1.5zM1306 706h2v15h-2zM1339 728h1v38h-1zM1268 711h1.5v12h-1.5zM1190 800h1v44h-1zM1217 757h1v13h-1zM1273 766h2v10h-2zM1164 851h2v39h-2zM1161 833h1.5v38h-1.5zM1252 690h1v11h-1zM1285 718h1v10h-1zM1290 697h1.5v30h-1.5zM1217 768h1.5v37h-1.5zM1315 788h2v15h-2zM1250 854h1v28h-1zM1282 804h1.5v10h-1.5zM1299 737h1.5v22h-1.5zM1291 757h1.5v28h-1.5zM1197 786h1.5v28h-1.5zM1308 714h2v38h-2zM1325 801h2v41h-2zM1228 781h2v38h-2zM1250 801h1.5v20h-1.5zM1297 878h1v15h-1zM1151 796h1v35h-1zM1298 830h2v41h-2zM1246 775h1.5v17h-1.5zM1438 885h1.5v27h-1.5zM1360 851h2v40h-2zM1357 902h2v28h-2zM1442 911h1.5v18h-1.5zM1392 884h1.5v36h-1.5zM1393 866h1v30h-1zM1412 889h2v16h-2zM1354 869h2v20h-2zM1410 868h2v12h-2zM1466 922h1.5v26h-1.5zM1465 909h2v36h-2zM1403 874h2v36h-2zM1376 868h2v27h-2zM1441 857h2v39h-2zM1415 864h2v34h-2zM1433 914h1.5v16h-1.5zM1331 930h1v22h-1zM1408 903h2v35h-2zM1385 895h2v31h-2zM1435 857h1v11h-1zM1385 894h1v24h-1zM1393 859h1.5v29h-1.5zM1418 889h2v18h-2zM1409 854h1v38h-1zM1447 926h2v34h-2zM1184 778h1.5v14h-1.5zM1113 768h1v13h-1zM1130 725h1.5v15h-1.5zM1189 784h2v25h-2zM1198 758h1.5v21h-1.5zM1189 774h1v10h-1zM1183 763h1.5v15h-1.5zM1124 778h1.5v15h-1.5zM1109 716h2v25h-2zM1118 768h2v13h-2zM1117 722h2v21h-2zM1170 754h1v26h-1zM1139 709h2v18h-2zM1124 708h1.5v27h-1.5zM1174 742h2v10h-2zM2012 833h2v13h-2zM1988 875h2v12h-2zM1999 888h2v27h-2zM2000 861h2v21h-2zM2010 849h2v20h-2zM2000 873h1v30h-1zM2046 925h1v14h-1zM2087 901h2v9h-2zM2314 913h1.5v12h-1.5zM2213 944h1.5v17h-1.5zM2454 927h2v6h-2zM2481 900h2v12h-2zM2594 927h2v8h-2zM1959 941h1.5v17h-1.5zM2216 915h2v6h-2zM2699 924h1.5v9h-1.5zM2289 920h1v29h-1zM2363 946h1.5v7h-1.5zM2396 897h1.5v29h-1.5zM2024 928h2v24h-2zM2478 933h1.5v17h-1.5zM2466 930h2v24h-2zM2557 897h2v29h-2zM2456 898h1.5v28h-1.5zM1983 916h2v16h-2zM2392 949h1v22h-1zM2426 927h2v21h-2zM2072 944h1.5v11h-1.5zM2231 918h2v10h-2zM2105 916h1v11h-1zM2342 896h2v27h-2zM2349 946h1.5v20h-1.5zM2504 924h2v10h-2zM2145 938h1v15h-1zM2701 943h1v14h-1zM2288 897h2v28h-2zM2011 942h2v10h-2zM2195 906h2v26h-2zM2497 945h1v23h-1zM2652 931h2v29h-2zM2314 896h2v23h-2zM2512 922h1v19h-1zM1975 911h2v6h-2zM2373 921h1v9h-1zM2270 896h1v9h-1zM2195 913h2v6h-2zM2185 935h2v11h-2zM2161 902h2v9h-2zM2038 903h2v16h-2zM2425 901h2v25h-2zM2231 911h1v11h-1zM2000 911h2v8h-2zM2180 933h1v22h-1zM2606 942h1v25h-1zM2466 915h1v28h-1zM2146 943h1v12h-1zM1976 950h1.5v27h-1.5zM2237 947h1.5v29h-1.5zM2477 912h1.5v14h-1.5zM2333 910h1v16h-1zM2178 947h1v29h-1zM2303 931h1.5v28h-1.5zM2024 946h1.5v29h-1.5zM2287 927h2v29h-2zM2135 927h1v18h-1zM2306 947h2v10h-2zM2256 914h2v9h-2zM2643 915h2v22h-2zM2398 948h1.5v24h-1.5zM2340 901h2v21h-2zM2393 907h2v21h-2zM2687 910h1.5v28h-1.5zM2000 906h1v19h-1zM2523 906h1v25h-1zM2537 919h1.5v11h-1.5zM2045 926h1.5v24h-1.5zM1989 910h2v9h-2zM2120 910h2v25h-2zM2157 938h2v18h-2zM2008 914h2v7h-2zM2201 920h2v9h-2zM2421 907h1.5v26h-1.5zM2659 902h2v17h-2zM2408 909h1.5v15h-1.5zM2340 936h2v23h-2zM2415 932h2v27h-2zM2457 903h1.5v16h-1.5zM2067 938h2v8h-2zM2450 932h2v18h-2zM2483 945h1.5v19h-1.5zM2561 926h2v21h-2zM2420 927h2v10h-2zM2024 915h1.5v8h-1.5zM2283 927h2v30h-2zM2464 902h2v6h-2zM2560 940h1v16h-1zM550 891h2v25h-2zM553 913h1v34h-1zM504 912h1v26h-1zM560 888h2v16h-2zM537 909h1.5v28h-1.5zM515 904h1v25h-1zM564 920h1v14h-1zM520 928h2v26h-2zM564 895h1v18h-1zM505 917h2v30h-2zM513 902h1v24h-1zM522 917h2v16h-2zM523 912h1.5v14h-1.5zM532 883h1v15h-1zM1357 623h2v18h-2zM1377 683h1.5v16h-1.5zM1254 624h1v13h-1zM1339 674h1v20h-1zM1369 682h2v22h-2zM1237 696h1.5v17h-1.5zM1201 629h1v17h-1zM1203 643h2v24h-2zM1323 696h2v17h-2zM1224 668h2v16h-2zM1387 625h1v10h-1zM1218 691h1v12h-1zM1457 766h1v23h-1zM1465 785h2v25h-2zM1503 772h1.5v19h-1.5zM1517 795h1v23h-1zM1488 773h1v15h-1zM1456 723h1v24h-1zM1501 769h2v9h-2zM1466 793h2v14h-2zM2315 915h1.5v20h-1.5zM2329 897h1v30h-1zM2324 918h1v16h-1z" fill="#ffb6c1" clip-path="url(#cyc)"/>
<path d="M511.0 848.0L513.0 848.0L513.0 872.0L511.0 872.0Z" fill="#00ffff" />
<path d="M514.0 850.0L516.0 850.0L516.0 880.0L514.0 880.0Z" fill="#00ffff" />
<path d="M536.0 862.0L538.0 862.0L538.0 895.0L536.0 895.0Z" fill="#00ffff" />
<path d="M541.0 858.0L543.0 858.0L543.0 890.0L541.0 890.0Z" fill="#00ffff" />
<path d="M545.0 866.0L547.0 866.0L547.0 893.0L545.0 893.0Z" fill="#00ffff" />
<path d="M528.0 870.0L530.0 870.0L530.0 888.0L528.0 888.0Z" fill="#00ffff" />
<path d="M2207.0 897.0L2303.0 896.0L2303.0 926.0L2280.0 930.0L2262.0 922.0L2240.0 930.0L2207.0 932.0Z" fill="#fff" />
<path d="M2207.0 897.0L2303.0 896.0L2303.0 905.0L2295.0 918.0L2285.0 903.0L2275.0 922.0L2262.0 906.0L2250.0 924.0L2240.0 908.0L2228.0 926.0L2218.0 905.0L2207.0 920.0Z" fill="url(#g70)" />
<path d="M445.4 946.5L458.0 946.5L459.0 953.3L445.4 953.3Z" fill="#fff" />
<path d="M468.7 933.9L473.5 933.9L473.5 947.5L468.7 947.5Z" fill="#fff" />
<path d="M704.6 550.4L708.3 550.4L708.3 551.2L712.0 551.2L712.0 549.5L715.8 549.5L715.8 551.8L719.5 551.8L720.5 551.1L720.5 553.5L720.7 553.5L724.2 553.5L724.2 552.8L727.6 552.8L727.6 551.8L731.0 551.8L731.0 553.8L734.4 553.8L734.4 551.4L738.1 551.4L738.0 556.0L738.0 559.8L736.9 561.2L733.7 561.2L733.7 557.9L730.5 557.9L730.5 562.7L727.3 562.7L727.3 561.7L724.1 561.7L724.1 560.4L720.9 560.4L720.9 562.1L717.7 562.1L717.7 559.0L714.5 559.0L714.8 560.4L714.8 556.0L712.0 556.6L707.1 556.6L707.1 556.1L704.6 556.1Z" fill="#fff" />
<path d="M750.6 593.3L759.3 593.3L759.3 600.7L751.8 600.7Z" fill="#fff" />
<path d="M765.5 567.2L770.4 567.2L770.4 574.7L765.5 574.7Z" fill="#fff" />
<path d="M1542.1 629.6L1546.1 629.6L1546.6 676.8L1542.6 676.8Z" fill="#fff" />
<path d="M1600.0 868.1L1602.6 868.1L1602.6 863.7L1605.2 863.7L1605.2 864.9L1607.8 864.9L1607.8 860.9L1610.4 860.9L1610.4 858.4L1613.0 858.4L1613.0 858.3L1616.0 858.3L1616.0 859.8L1619.0 859.8L1619.0 859.1L1622.0 859.1L1622.0 859.4L1625.0 859.4L1625.0 861.6L1628.0 861.6L1628.5 861.0L1628.5 858.4L1629.0 858.4L1629.0 855.8L1630.2 855.8L1630.2 853.1L1634.0 853.1L1634.0 850.5L1633.1 850.5L1633.1 847.9L1634.9 847.9L1634.9 845.2L1638.1 845.2L1638.1 842.6L1637.4 842.6L1637.4 840.0L1640.0 843.5L1642.5 843.5L1642.5 837.9L1645.0 837.9L1645.0 835.5L1647.5 835.5L1647.5 830.6L1650.0 830.6L1650.0 831.6L1652.4 831.6L1652.4 835.9L1654.8 835.9L1654.8 835.1L1657.2 835.1L1657.2 839.9L1659.6 839.9L1659.6 839.9L1662.0 839.9L1662.0 843.4L1664.5 843.4L1664.5 843.2L1667.0 843.2L1667.0 843.4L1669.5 843.4L1669.5 850.7L1672.0 850.7L1671.6 851.0L1671.6 854.2L1673.1 854.2L1673.1 857.5L1675.9 857.5L1675.9 860.8L1673.7 860.8L1673.7 864.0L1679.8 864.0L1679.8 867.2L1677.4 867.2L1677.4 870.4L1677.7 870.4L1677.7 873.7L1677.4 873.7L1677.4 876.9L1678.6 876.9L1678.6 880.1L1678.0 880.1L1678.0 883.3L1677.6 883.3L1677.6 886.6L1678.0 886.6L1678.0 889.8L1676.2 889.8L1676.2 893.0L1677.0 893.6L1673.9 893.6L1673.9 891.1L1670.8 891.1L1670.8 893.8L1667.8 893.8L1667.8 892.3L1664.7 892.3L1664.7 893.0L1661.6 893.0L1661.6 893.3L1658.5 893.3L1658.5 892.5L1655.4 892.5L1655.4 891.9L1652.4 891.9L1652.4 893.1L1649.3 893.1L1649.3 895.0L1646.2 895.0L1646.2 893.8L1643.1 893.8L1643.1 892.6L1640.0 892.6L1640.0 893.6L1637.0 893.6L1637.0 891.6L1633.9 891.6L1633.9 892.0L1630.8 892.0L1630.8 893.5L1627.7 893.5L1627.7 893.4L1624.6 893.4L1624.6 892.2L1621.6 892.2L1621.6 893.1L1618.5 893.1L1618.5 891.8L1615.4 891.8L1615.4 893.1L1612.3 893.1L1612.3 893.1L1609.2 893.1L1609.2 893.1L1606.2 893.1L1606.2 893.8L1603.1 893.8L1603.1 887.6L1600.0 887.6L1600.3 893.0L1600.3 889.9L1600.2 889.9L1600.2 886.8L1599.2 886.8L1599.2 883.6L1600.6 883.6L1600.6 880.5L1600.3 880.5L1600.3 877.4L1600.3 877.4L1600.3 874.2L1600.5 874.2L1600.5 871.1L1599.7 871.1L1599.7 868.0Z" fill="#fff" />
<path d="M1695.5 807.7L1698.9 807.7L1698.9 808.4L1702.3 808.4L1702.3 806.5L1705.7 806.5L1705.7 805.5L1709.1 805.5L1708.3 805.8L1708.3 808.7L1709.7 808.7L1709.7 811.6L1711.9 811.6L1711.9 814.6L1712.1 814.6L1712.1 817.5L1714.9 817.5L1714.9 820.4L1716.1 820.4L1716.1 823.3L1717.1 823.3L1717.1 826.3L1716.5 826.3L1716.5 829.3L1715.7 829.3L1715.7 832.3L1715.4 832.3L1715.4 835.3L1715.5 835.3L1715.5 838.3L1717.1 838.3L1717.1 841.3L1715.3 841.3L1715.3 844.3L1715.9 844.3L1715.9 847.3L1715.9 847.3L1715.9 850.3L1715.5 850.3L1715.5 853.3L1715.9 853.3L1715.9 856.3L1715.0 856.6L1711.7 856.6L1711.7 856.8L1708.5 856.8L1708.5 859.2L1705.2 859.2L1705.7 858.2L1705.7 855.0L1704.7 855.0L1704.7 851.8L1701.6 851.8L1701.6 848.5L1701.3 848.5L1701.3 845.3L1703.9 845.3L1703.9 842.1L1698.8 842.1L1698.8 838.8L1696.4 838.8L1696.4 834.9L1696.4 834.9L1696.4 831.1L1693.5 831.1L1693.5 827.7L1695.0 827.7L1695.0 824.4L1694.8 824.4L1694.8 821.1L1693.6 821.1L1693.6 817.7L1695.7 817.7L1695.7 814.4L1691.2 814.4L1691.2 811.1L1693.6 811.1L1693.6 807.8Z" fill="#fff" />
<path d="M1874.8 838.0L1877.8 838.0L1877.8 835.6L1880.9 835.6L1880.9 836.4L1883.9 836.4L1883.9 836.8L1886.9 836.8L1886.9 839.2L1890.0 839.2L1890.0 834.8L1893.0 834.8L1893.0 839.2L1896.0 839.2L1896.0 838.1L1899.1 838.1L1899.1 838.4L1902.1 838.4L1902.1 838.6L1905.2 838.6L1905.2 838.1L1908.3 838.1L1908.8 838.8L1908.8 842.1L1905.7 842.1L1905.7 845.4L1904.7 845.4L1904.7 848.7L1903.4 846.9L1900.3 846.9L1900.3 851.5L1897.3 851.5L1897.3 851.7L1894.3 851.7L1894.3 851.1L1891.3 851.1L1891.3 853.0L1888.3 853.0L1888.3 852.5L1885.3 852.5L1885.3 855.1L1882.2 855.1L1882.2 855.0L1879.8 855.0L1879.8 859.4L1877.3 859.4L1877.3 858.6L1874.8 858.6L1874.8 862.7L1872.3 862.7L1876.2 864.8L1876.2 861.9L1869.7 861.9L1869.7 859.0L1868.3 859.0L1868.3 856.1L1867.4 856.1L1867.4 852.4L1867.1 852.4L1867.1 848.7L1868.6 848.7L1868.6 845.0L1868.6 846.1L1870.6 846.1L1870.6 841.2L1872.7 841.2L1872.7 838.1L1874.8 838.1Z" fill="#fff" />
</g>
<clipPath id="pc"><rect x="266" y="100" width="3380" height="857"/></clipPath>
<g clip-path="url(#pc)">
<path d="M266.0 554.7L456.0 551.0L646.0 548.0L768.0 547.0L850.0 546.0L886.0 544.8L960.0 543.8L1120.0 544.0L1240.0 543.6L1440.0 543.6L1561.5 543.3M1668.0 543.4L1733.0 544.0L1786.0 545.0L1851.0 544.7L1888.0 541.6L1950.0 536.6L2013.0 532.9L2106.0 528.8L2199.0 526.3L2292.0 524.2L2440.0 520.4L2621.0 515.7L2850.0 512.8L3158.0 511.2L3367.0 510.5L3637.5 512.0" fill="none" stroke="#000" stroke-width="4" stroke-linejoin="round"/>
<path d="M266.0 696.4L623.0 691.2L958.0 686.3L1100.0 689.3L1212.0 693.8L1398.0 695.0L1561.5 695.0M1668.0 695.0L1845.0 695.0L1950.0 693.3L2000.0 692.0L2099.0 686.3L2200.0 680.0L2248.0 678.1L2320.0 679.5L2397.0 680.4L2470.0 679.0L2546.0 676.7L2695.0 672.2L2850.0 668.8L3061.0 664.7L3266.0 662.9L3450.0 663.2L3637.5 664.0" fill="none" stroke="#000" stroke-width="4" stroke-linejoin="round"/>
<path d="M266.0 908.8L406.0 907.3L548.0 903.2L809.0 904.0L1100.0 903.4L1150.0 902.5L1324.0 898.0L1561.5 894.0M1668.0 893.5L1850.0 894.0L1953.0 894.2L2000.0 894.6L2077.0 893.8L2233.0 891.0L2509.0 888.7L2695.0 886.9L2850.0 887.6L3061.0 885.0L3173.0 880.9L3285.0 879.4L3396.0 880.9L3545.0 882.0L3637.5 883.9" fill="none" stroke="#000" stroke-width="4" stroke-linejoin="round"/>
<path d="M1600.0 957.0L1734.0 945.4L1883.0 936.8L2000.0 932.8L2099.0 931.6L2284.0 930.5M2388.0 931.6L2584.0 934.2L2733.0 937.9L2850.0 940.9L2923.0 942.4L3173.0 942.4L3359.0 944.6L3500.0 947.0L3560.0 948.2L3637.5 949.2" fill="none" stroke="#000" stroke-width="4" stroke-linejoin="round"/>
</g>
</svg>
<div class="t" style="left:1566.4px;top:514.7px;font-size:57.86px;transform:scaleX(1.0075);">230</div>
<div class="t" style="left:1566.4px;top:668.3px;font-size:57.86px;transform:scaleX(1.0075);">250</div>
<div class="t" style="left:1566.4px;top:867.2px;font-size:57.86px;transform:scaleX(1.0107);">273</div>
<div class="t" style="left:2287.6px;top:903.5px;font-size:57.86px;transform:scaleX(1.0007);">279</div>
<svg width="3750" height="1875" viewBox="0 0 3750 1875">
<clipPath id="pc2"><rect x="266" y="100" width="3380" height="857"/></clipPath>
<g clip-path="url(#pc2)">
<path d="M1197.7 703.4L1232.1 703.4L1214.9 732.9Z" fill="#ff0000"/>
<path d="M1484.2 623.8L1518.6 623.8L1501.4 653.3Z" fill="#ff0000"/>
<path d="M1591.2 622.0L1625.6 622.0L1608.4 651.5Z" fill="#ff0000"/>
<path d="M1627.2 616.3L1661.6 616.3L1644.4 645.8Z" fill="#ff0000"/>
<path d="M1734.3 622.3L1768.7 622.3L1751.5 651.8Z" fill="#ff0000"/>
<path d="M1770.3 622.3L1804.7 622.3L1787.5 651.8Z" fill="#ff0000"/>
<path d="M1877.3 771.7L1911.7 771.7L1894.5 801.2Z" fill="#ff0000"/>
<path d="M2020.7 773.2L2055.1 773.2L2037.9 802.7Z" fill="#ff0000"/>
<path d="M2164.4 867.0L2198.8 867.0L2181.6 896.5Z" fill="#ff0000"/>
<path d="M2236.0 624.5L2270.4 624.5L2253.2 654.0Z" fill="#ff0000"/>
<path d="M2307.4 597.7L2341.8 597.7L2324.6 627.2Z" fill="#ff0000"/>
<path d="M2343.3 618.3L2377.7 618.3L2360.5 647.8Z" fill="#ff0000"/>
<path d="M2414.7 619.2L2449.1 619.2L2431.9 648.7Z" fill="#ff0000"/>
<path d="M2450.4 635.5L2484.8 635.5L2467.6 665.0Z" fill="#ff0000"/>
<path d="M2521.7 862.5L2556.1 862.5L2538.9 892.0Z" fill="#ff0000"/>
<path d="M2594.0 868.5L2628.4 868.5L2611.2 898.0Z" fill="#ff0000"/>
<path d="M2629.4 894.5L2663.8 894.5L2646.6 924.0Z" fill="#ff0000"/>
<path d="M2665.7 898.3L2700.1 898.3L2682.9 927.8Z" fill="#ff0000"/>
<path d="M2701.4 867.2L2735.8 867.2L2718.6 896.7Z" fill="#ff0000"/>
<path d="M2737.3 917.2L2771.7 917.2L2754.5 946.7Z" fill="#ff0000"/>
<path d="M1197.7 850.9L1232.1 850.9L1214.9 821.4Z" fill="#ff0000"/>
<path d="M1484.2 937.8L1518.6 937.8L1501.4 908.3Z" fill="#ff0000"/>
<path d="M1591.2 927.5L1625.6 927.5L1608.4 898.0Z" fill="#ff0000"/>
<path d="M1627.2 861.1L1661.6 861.1L1644.4 831.6Z" fill="#ff0000"/>
<path d="M1734.3 783.0L1768.7 783.0L1751.5 753.5Z" fill="#ff0000"/>
<path d="M1770.3 731.3L1804.7 731.3L1787.5 701.8Z" fill="#ff0000"/>
<path d="M1877.3 900.1L1911.7 900.1L1894.5 870.6Z" fill="#ff0000"/>
<path d="M2020.7 965.0L2055.1 965.0L2037.9 935.5Z" fill="#ff0000"/>
<path d="M2164.4 963.7L2198.8 963.7L2181.6 934.2Z" fill="#ff0000"/>
<path d="M2236.0 753.2L2270.4 753.2L2253.2 723.7Z" fill="#ff0000"/>
<path d="M2236.0 964.0L2270.4 964.0L2253.2 934.5Z" fill="#ff0000"/>
<path d="M2307.4 821.3L2341.8 821.3L2324.6 791.8Z" fill="#ff0000"/>
<path d="M2343.3 963.5L2377.7 963.5L2360.5 934.0Z" fill="#ff0000"/>
<path d="M2414.7 963.5L2449.1 963.5L2431.9 934.0Z" fill="#ff0000"/>
<path d="M2450.4 963.5L2484.8 963.5L2467.6 934.0Z" fill="#ff0000"/>
<path d="M2521.7 965.0L2556.1 965.0L2538.9 935.5Z" fill="#ff0000"/>
<path d="M2557.8 964.5L2592.2 964.5L2575.0 935.0Z" fill="#ff0000"/>
<path d="M2594.0 963.5L2628.4 963.5L2611.2 934.0Z" fill="#ff0000"/>
<path d="M2629.4 961.5L2663.8 961.5L2646.6 932.0Z" fill="#ff0000"/>
<path d="M2665.7 958.0L2700.1 958.0L2682.9 928.5Z" fill="#ff0000"/>
<path d="M2701.4 963.5L2735.8 963.5L2718.6 934.0Z" fill="#ff0000"/>
<path d="M2737.3 969.5L2771.7 969.5L2754.5 940.0Z" fill="#ff0000"/>
<path d="M2236.0 919.0L2270.4 919.0L2253.2 948.5Z" fill="#ff0000"/><path d="M2243.0 923.0L2263.4 923.0L2253.2 940.6Z" fill="#fff"/>
<path d="M2307.4 879.2L2341.8 879.2L2324.6 908.7Z" fill="#ff0000"/><path d="M2314.4 883.2L2334.8 883.2L2324.6 900.8Z" fill="#fff"/>
<path d="M2307.4 961.7L2341.8 961.7L2324.6 932.2Z" fill="#ff0000"/><path d="M2314.4 957.7L2334.8 957.7L2324.6 940.1Z" fill="#fff"/>
<rect x="1188.5" y="656.2" width="52.8" height="3.8" fill="#0000ff"/><rect x="1188.5" y="672.7" width="52.8" height="3.8" fill="#0000ff"/><circle cx="1214.9" cy="666.2" r="16.6" fill="#0000ff"/>
<rect x="1475.0" y="643.4" width="52.8" height="3.8" fill="#0000ff"/><rect x="1475.0" y="670.2" width="52.8" height="3.8" fill="#0000ff"/><circle cx="1501.4" cy="658.7" r="14.2" fill="#fff" stroke="#0000ff" stroke-width="5.2"/>
<rect x="1499.5" y="927.6" width="3.8" height="47.4" fill="#32cd32"/><rect x="1475.0" y="925.7" width="52.8" height="3.8" fill="#32cd32"/><rect x="1475.0" y="973.1" width="52.8" height="3.8" fill="#32cd32"/>
<rect x="1582.0" y="611.4" width="52.8" height="3.8" fill="#0000ff"/><rect x="1582.0" y="620.0" width="52.8" height="3.8" fill="#0000ff"/><circle cx="1608.4" cy="617.8" r="16.6" fill="#0000ff"/>
<rect x="1618.0" y="630.6" width="52.8" height="3.8" fill="#0000ff"/><rect x="1618.0" y="639.1" width="52.8" height="3.8" fill="#0000ff"/><circle cx="1644.4" cy="636.6" r="16.6" fill="#0000ff"/>
<rect x="1725.1" y="607.6" width="52.8" height="3.8" fill="#0000ff"/><rect x="1725.1" y="616.4" width="52.8" height="3.8" fill="#0000ff"/><circle cx="1751.5" cy="613.5" r="16.6" fill="#0000ff"/>
<rect x="1761.1" y="615.0" width="52.8" height="3.8" fill="#0000ff"/><rect x="1761.1" y="625.3" width="52.8" height="3.8" fill="#0000ff"/><circle cx="1787.5" cy="621.5" r="16.6" fill="#0000ff"/>
<rect x="1892.6" y="632.2" width="3.8" height="55.8" fill="#0000ff"/><rect x="1868.1" y="630.3" width="52.8" height="3.8" fill="#0000ff"/><rect x="1868.1" y="686.1" width="52.8" height="3.8" fill="#0000ff"/><circle cx="1894.5" cy="659.6" r="14.2" fill="#fff" stroke="#0000ff" stroke-width="5.2"/>
<rect x="1868.1" y="897.6" width="52.8" height="3.8" fill="#32cd32"/><rect x="1868.1" y="908.5" width="52.8" height="3.8" fill="#32cd32"/><circle cx="1894.5" cy="904.5" r="14.2" fill="#fff" stroke="#32cd32" stroke-width="5.2"/>
<rect x="2011.5" y="739.8" width="52.8" height="3.8" fill="#32cd32"/><rect x="2011.5" y="756.6" width="52.8" height="3.8" fill="#32cd32"/><circle cx="2037.9" cy="750.5" r="16.6" fill="#32cd32"/>
<rect x="2155.2" y="898.1" width="52.8" height="3.8" fill="#32cd32"/><rect x="2155.2" y="912.8" width="52.8" height="3.8" fill="#32cd32"/><circle cx="2181.6" cy="907.6" r="16.6" fill="#32cd32"/>
<rect x="2226.8" y="599.3" width="52.8" height="3.8" fill="#0000ff"/><rect x="2226.8" y="625.3" width="52.8" height="3.8" fill="#0000ff"/><circle cx="2253.2" cy="614.8" r="14.2" fill="#fff" stroke="#0000ff" stroke-width="5.2"/>
<rect x="2251.3" y="945.7" width="3.8" height="34.3" fill="#32cd32"/><rect x="2226.8" y="943.8" width="52.8" height="3.8" fill="#32cd32"/><rect x="2226.8" y="978.1" width="52.8" height="3.8" fill="#32cd32"/><circle cx="2253.2" cy="964.0" r="16.6" fill="#32cd32"/>
<rect x="2298.2" y="607.0" width="52.8" height="3.8" fill="#0000ff"/><rect x="2298.2" y="629.7" width="52.8" height="3.8" fill="#0000ff"/><circle cx="2324.6" cy="619.8" r="14.2" fill="#fff" stroke="#0000ff" stroke-width="5.2"/>
<rect x="2334.1" y="633.6" width="52.8" height="3.8" fill="#0000ff"/><rect x="2334.1" y="642.4" width="52.8" height="3.8" fill="#0000ff"/><circle cx="2360.5" cy="639.9" r="16.6" fill="#0000ff"/>
<rect x="2405.5" y="632.7" width="52.8" height="3.8" fill="#0000ff"/><rect x="2405.5" y="640.9" width="52.8" height="3.8" fill="#0000ff"/><circle cx="2431.9" cy="638.4" r="16.6" fill="#0000ff"/>
<rect x="2441.2" y="659.2" width="52.8" height="3.8" fill="#0000ff"/><rect x="2441.2" y="669.0" width="52.8" height="3.8" fill="#0000ff"/><circle cx="2467.6" cy="666.1" r="16.6" fill="#0000ff"/>
<rect x="2512.5" y="864.8" width="52.8" height="3.8" fill="#32cd32"/><rect x="2512.5" y="874.0" width="52.8" height="3.8" fill="#32cd32"/><circle cx="2538.9" cy="871.4" r="16.6" fill="#32cd32"/>
<rect x="2584.8" y="859.4" width="52.8" height="3.8" fill="#32cd32"/><rect x="2584.8" y="863.2" width="52.8" height="3.8" fill="#32cd32"/><circle cx="2611.2" cy="863.2" r="16.6" fill="#32cd32"/>
<rect x="2620.4" y="899.6" width="52.8" height="3.8" fill="#0000ff"/><rect x="2620.4" y="904.7" width="52.8" height="3.8" fill="#0000ff"/><circle cx="2646.8" cy="904.6" r="16.6" fill="#0000ff"/>
<rect x="2692.2" y="915.0" width="52.8" height="3.8" fill="#32cd32"/><rect x="2692.2" y="920.3" width="52.8" height="3.8" fill="#32cd32"/><circle cx="2718.6" cy="919.0" r="16.6" fill="#32cd32"/>
<rect x="2728.1" y="930.1" width="52.8" height="3.8" fill="#32cd32"/><rect x="2728.1" y="944.1" width="52.8" height="3.8" fill="#32cd32"/><circle cx="2754.5" cy="938.2" r="16.6" fill="#32cd32"/>
<rect x="3049.4" y="950.6" width="52.8" height="3.8" fill="#32cd32"/><rect x="3049.4" y="964.1" width="52.8" height="3.8" fill="#32cd32"/><circle cx="3075.8" cy="958.5" r="16.6" fill="#32cd32"/>
</g>
<g fill="#000">
<rect x="263" y="109" width="6" height="851"/>
<rect x="263" y="954" width="3377" height="6"/>
<rect x="266" y="109.0" width="81" height="6"/>
<rect x="266" y="214.6" width="81" height="6"/>
<rect x="266" y="320.2" width="81" height="6"/>
<rect x="266" y="425.9" width="81" height="6"/>
<rect x="266" y="531.5" width="81" height="6"/>
<rect x="266" y="637.1" width="81" height="6"/>
<rect x="266" y="742.8" width="81" height="6"/>
<rect x="266" y="848.4" width="81" height="6"/>
<rect x="333.2" y="924" width="6" height="32"/>
<rect x="403.5" y="924" width="6" height="32"/>
<rect x="473.7" y="924" width="6" height="32"/>
<rect x="543.9" y="894.3" width="6" height="62"/>
<rect x="614.1" y="924" width="6" height="32"/>
<rect x="684.4" y="924" width="6" height="32"/>
<rect x="754.6" y="924" width="6" height="32"/>
<rect x="824.8" y="894.3" width="6" height="62"/>
<rect x="895.1" y="924" width="6" height="32"/>
<rect x="965.3" y="924" width="6" height="32"/>
<rect x="1035.5" y="924" width="6" height="32"/>
<rect x="1105.8" y="894.3" width="6" height="62"/>
<rect x="1176.0" y="924" width="6" height="32"/>
<rect x="1246.2" y="924" width="6" height="32"/>
<rect x="1316.4" y="924" width="6" height="32"/>
<rect x="1386.7" y="894.3" width="6" height="62"/>
<rect x="1456.9" y="924" width="6" height="32"/>
<rect x="1527.1" y="924" width="6" height="32"/>
<rect x="1597.4" y="924" width="6" height="32"/>
<rect x="1667.6" y="894.3" width="6" height="62"/>
<rect x="1737.8" y="924" width="6" height="32"/>
<rect x="1808.0" y="924" width="6" height="32"/>
<rect x="1878.3" y="924" width="6" height="32"/>
<rect x="1948.5" y="894.3" width="6" height="62"/>
<rect x="2018.7" y="924" width="6" height="32"/>
<rect x="2089.0" y="924" width="6" height="32"/>
<rect x="2159.2" y="924" width="6" height="32"/>
<rect x="2229.4" y="894.3" width="6" height="62"/>
<rect x="2299.6" y="924" width="6" height="32"/>
<rect x="2369.9" y="924" width="6" height="32"/>
<rect x="2440.1" y="924" width="6" height="32"/>
<rect x="2510.3" y="894.3" width="6" height="62"/>
<rect x="2580.6" y="924" width="6" height="32"/>
<rect x="2650.8" y="924" width="6" height="32"/>
<rect x="2721.0" y="924" width="6" height="32"/>
<rect x="2791.2" y="894.3" width="6" height="62"/>
<rect x="2861.5" y="924" width="6" height="32"/>
<rect x="2931.7" y="924" width="6" height="32"/>
<rect x="3001.9" y="924" width="6" height="32"/>
<rect x="3072.2" y="894.3" width="6" height="62"/>
<rect x="3142.4" y="924" width="6" height="32"/>
<rect x="3212.6" y="924" width="6" height="32"/>
<rect x="3282.9" y="924" width="6" height="32"/>
<rect x="3353.1" y="894.3" width="6" height="62"/>
<rect x="3423.3" y="924" width="6" height="32"/>
<rect x="3493.5" y="924" width="6" height="32"/>
<rect x="3563.8" y="924" width="6" height="32"/>
<rect x="3634.0" y="894.3" width="6" height="62"/>
</g>
<defs><linearGradient id="cb" x1="0" x2="1" y1="0" y2="0"><stop offset="0" stop-color="#ffffff"/><stop offset="0.3333" stop-color="#ffb6c1"/><stop offset="0.6667" stop-color="#00ffff"/><stop offset="1" stop-color="#d3d3d3"/></linearGradient></defs>
<rect x="266.0" y="1144" width="3371.0" height="56" fill="url(#cb)"/>
<g fill="#000">
<rect x="263" y="1197" width="3377" height="6"/>
<rect x="263.0" y="1183" width="6" height="17"/>
<rect x="375.4" y="1190" width="6" height="10"/>
<rect x="487.7" y="1190" width="6" height="10"/>
<rect x="600.1" y="1190" width="6" height="10"/>
<rect x="712.5" y="1190" width="6" height="10"/>
<rect x="824.8" y="1190" width="6" height="10"/>
<rect x="937.2" y="1190" width="6" height="10"/>
<rect x="1049.6" y="1190" width="6" height="10"/>
<rect x="1161.9" y="1190" width="6" height="10"/>
<rect x="1274.3" y="1190" width="6" height="10"/>
<rect x="1386.7" y="1183" width="6" height="17"/>
<rect x="1499.0" y="1190" width="6" height="10"/>
<rect x="1611.4" y="1190" width="6" height="10"/>
<rect x="1723.8" y="1190" width="6" height="10"/>
<rect x="1836.1" y="1190" width="6" height="10"/>
<rect x="1948.5" y="1190" width="6" height="10"/>
<rect x="2060.9" y="1190" width="6" height="10"/>
<rect x="2173.2" y="1190" width="6" height="10"/>
<rect x="2285.6" y="1190" width="6" height="10"/>
<rect x="2398.0" y="1190" width="6" height="10"/>
<rect x="2510.3" y="1183" width="6" height="17"/>
<rect x="2622.7" y="1190" width="6" height="10"/>
<rect x="2735.1" y="1190" width="6" height="10"/>
<rect x="2847.4" y="1190" width="6" height="10"/>
<rect x="2959.8" y="1190" width="6" height="10"/>
<rect x="3072.2" y="1190" width="6" height="10"/>
<rect x="3184.5" y="1190" width="6" height="10"/>
<rect x="3296.9" y="1190" width="6" height="10"/>
<rect x="3409.3" y="1190" width="6" height="10"/>
<rect x="3521.6" y="1190" width="6" height="10"/>
<rect x="3634.0" y="1183" width="6" height="17"/>
</g>
<rect x="249" y="1313" width="650.6" height="335" fill="#fff" stroke="#000" stroke-width="6"/>
<rect x="994" y="1313" width="618.3" height="335" fill="#fff" stroke="#000" stroke-width="6"/>
<rect x="2328" y="1313" width="559.3000000000002" height="402" fill="#fff" stroke="#000" stroke-width="6"/>
<circle cx="287" cy="1383.8" r="17" fill="#32cd32"/>
<circle cx="287" cy="1470.1" r="14.4" fill="#fff" stroke="#32cd32" stroke-width="5.2"/>
<path d="M271.5 1550.9L302.5 1581.9M271.5 1581.9L302.5 1550.9" stroke="#32cd32" stroke-width="5.2" fill="none" stroke-linecap="butt"/>
<circle cx="1032" cy="1383.8" r="17" fill="#0000ff"/>
<circle cx="1032" cy="1470.1" r="14.4" fill="#fff" stroke="#0000ff" stroke-width="5.2"/>
<path d="M1016.5 1550.9L1047.5 1581.9M1016.5 1581.9L1047.5 1550.9" stroke="#0000ff" stroke-width="5.2" fill="none" stroke-linecap="butt"/>
<path d="M2347.8 1394.0L2382.2 1394.0L2365.0 1363.8Z" fill="#ff0000"/>
<path d="M2347.8 1460.3L2382.2 1460.3L2365.0 1490.5Z" fill="#ff0000"/>
<path d="M2347.8 1567.3L2382.2 1567.3L2365.0 1537.1Z" fill="#ff0000"/><path d="M2356.7 1562.1L2373.3 1562.1L2365.0 1547.6Z" fill="#fff"/>
<path d="M2347.8 1632.8L2382.2 1632.8L2365.0 1663.0Z" fill="#ff0000"/><path d="M2356.7 1638.0L2373.3 1638.0L2365.0 1652.5Z" fill="#fff"/>
</svg>
<div class="t" style="left:1260.7px;top:-7.5px;font-size:100.28px;transform:scaleX(1.0044);">Schneefernerhaus: 2025/09/26</div>
<div class="t" style="left:84.3px;top:78.3px;font-size:70.00px;transform:scaleX(1.0832);">16.7</div>
<div class="t" style="left:84.4px;top:184.0px;font-size:70.00px;transform:scaleX(1.0743);">15.0</div>
<div class="t" style="left:84.3px;top:289.6px;font-size:70.00px;transform:scaleX(1.0832);">13.2</div>
<div class="t" style="left:84.1px;top:395.2px;font-size:70.00px;transform:scaleX(1.1233);">11.5</div>
<div class="t" style="left:86.6px;top:500.8px;font-size:70.00px;transform:scaleX(1.0656);">9.77</div>
<div class="t" style="left:86.7px;top:606.5px;font-size:70.00px;transform:scaleX(1.0599);">8.03</div>
<div class="t" style="left:86.3px;top:712.1px;font-size:70.00px;transform:scaleX(1.0628);">6.28</div>
<div class="t" style="left:88.5px;top:817.7px;font-size:70.00px;transform:scaleX(1.0403);">4.54</div>
<div class="t" style="left:86.3px;top:923.3px;font-size:70.00px;transform:scaleX(1.0656);">2.79</div>
<div class="t" style="left:242.7px;top:970.7px;font-size:77.14px;transform:scaleX(1.0802);">0</div>
<div class="t" style="left:522.5px;top:970.7px;font-size:77.14px;transform:scaleX(1.1396);">2</div>
<div class="t" style="left:806.2px;top:970.7px;font-size:77.14px;transform:scaleX(1.0268);">4</div>
<div class="t" style="left:1084.4px;top:970.7px;font-size:77.14px;transform:scaleX(1.1151);">6</div>
<div class="t" style="left:1365.8px;top:970.7px;font-size:77.14px;transform:scaleX(1.1032);">8</div>
<div class="t" style="left:1620.6px;top:970.7px;font-size:77.14px;transform:scaleX(1.1278);">10</div>
<div class="t" style="left:1901.4px;top:970.7px;font-size:77.14px;transform:scaleX(1.1450);">12</div>
<div class="t" style="left:2182.4px;top:970.7px;font-size:77.14px;transform:scaleX(1.1222);">14</div>
<div class="t" style="left:2463.3px;top:970.7px;font-size:77.14px;transform:scaleX(1.1334);">16</div>
<div class="t" style="left:2744.2px;top:970.7px;font-size:77.14px;transform:scaleX(1.1334);">18</div>
<div class="t" style="left:3027.4px;top:970.7px;font-size:77.14px;transform:scaleX(1.1003);">20</div>
<div class="t" style="left:3308.3px;top:970.7px;font-size:77.14px;transform:scaleX(1.1166);">22</div>
<div class="t" style="left:3589.3px;top:970.7px;font-size:77.14px;transform:scaleX(1.0949);">24</div>
<div class="g"><span class="t" style="left:1739.3px;top:1048.8px;font-size:79.86px;transform:scaleX(1.0751);">Time</span> <span class="t" style="left:1952.8px;top:1048.8px;font-size:79.86px;transform:scaleX(0.9594);">(UTC)</span></div>
<div class="t" style="left:179.3px;top:1210.7px;font-size:61.14px;transform:scaleX(1.0673);">Clear</div>
<div class="t" style="left:1303.7px;top:1210.0px;font-size:62.03px;transform:scaleX(1.0744);">Water</div>
<div class="t" style="left:2470.1px;top:1210.0px;font-size:62.03px;transform:scaleX(1.0371);">Ice</div>
<div class="t" style="left:3553.2px;top:1210.7px;font-size:61.14px;transform:scaleX(1.1033);">Other</div>
<div class="g"><span class="t" style="left:324.5px;top:1353.4px;font-size:61.59px;transform:scaleX(0.9546);">SEV-OCA</span> <span class="t" style="left:605.6px;top:1353.4px;font-size:61.59px;transform:scaleX(0.9330);">SL</span> <span class="t" style="left:693.3px;top:1353.4px;font-size:61.59px;transform:scaleX(1.0407);">Wat</span></div>
<div class="g"><span class="t" style="left:324.5px;top:1439.8px;font-size:61.59px;transform:scaleX(0.9546);">SEV-OCA</span> <span class="t" style="left:605.0px;top:1439.8px;font-size:61.59px;transform:scaleX(1.0372);">2L</span> <span class="t" style="left:693.3px;top:1439.8px;font-size:61.59px;transform:scaleX(1.0407);">Wat</span></div>
<div class="g"><span class="t" style="left:324.5px;top:1536.7px;font-size:61.59px;transform:scaleX(0.9443);">OCA</span> <span class="t" style="left:470.1px;top:1536.7px;font-size:61.59px;transform:scaleX(1.0634);">High</span> <span class="t" style="left:623.3px;top:1536.7px;font-size:61.59px;transform:scaleX(1.0333);">Err</span> <span class="t" style="left:727.5px;top:1536.7px;font-size:61.59px;transform:scaleX(1.0285);">Wat</span></div>
<div class="g"><span class="t" style="left:1069.8px;top:1353.4px;font-size:61.59px;transform:scaleX(0.9546);">SEV-OCA</span> <span class="t" style="left:1351.2px;top:1353.4px;font-size:61.59px;transform:scaleX(0.9245);">SL</span> <span class="t" style="left:1437.1px;top:1353.4px;font-size:61.59px;transform:scaleX(1.0512);">Ice</span></div>
<div class="g"><span class="t" style="left:1069.8px;top:1439.8px;font-size:61.59px;transform:scaleX(0.9546);">SEV-OCA</span> <span class="t" style="left:1350.6px;top:1439.8px;font-size:61.59px;transform:scaleX(1.0277);">2L</span> <span class="t" style="left:1437.1px;top:1439.8px;font-size:61.59px;transform:scaleX(1.0512);">Ice</span></div>
<div class="g"><span class="t" style="left:1069.8px;top:1536.7px;font-size:61.59px;transform:scaleX(0.9465);">OCA</span> <span class="t" style="left:1214.9px;top:1536.7px;font-size:61.59px;transform:scaleX(1.0668);">High</span> <span class="t" style="left:1368.6px;top:1536.7px;font-size:61.59px;transform:scaleX(1.0320);">Err</span> <span class="t" style="left:1469.7px;top:1536.7px;font-size:61.59px;transform:scaleX(1.0512);">Ice</span></div>
<div class="g"><span class="t" style="left:2403.7px;top:1353.5px;font-size:61.88px;transform:scaleX(0.9196);">ACTRIS</span> <span class="t" style="left:2630.2px;top:1353.5px;font-size:61.88px;transform:scaleX(0.9728);">CBH</span></div>
<div class="g"><span class="t" style="left:2403.7px;top:1440.0px;font-size:61.88px;transform:scaleX(0.9196);">ACTRIS</span> <span class="t" style="left:2630.2px;top:1440.0px;font-size:61.88px;transform:scaleX(0.9603);">CTH</span></div>
<div class="g"><span class="t" style="left:2403.7px;top:1526.4px;font-size:61.88px;transform:scaleX(0.9196);">ACTRIS</span> <span class="t" style="left:2630.2px;top:1526.4px;font-size:61.88px;transform:scaleX(0.9728);">CBH</span> <span class="t" style="left:2774.4px;top:1526.4px;font-size:61.88px;transform:scaleX(0.9856);">BL</span></div>
<div class="g"><span class="t" style="left:2403.7px;top:1612.5px;font-size:61.88px;transform:scaleX(0.9196);">ACTRIS</span> <span class="t" style="left:2630.2px;top:1612.5px;font-size:61.88px;transform:scaleX(0.9603);">CTH</span> <span class="t" style="left:2770.0px;top:1612.5px;font-size:61.88px;transform:scaleX(0.9754);">BL</span></div>
<div class="t" style="left:0;top:0;font-size:79.71px;transform-origin:0 0;transform:translate(37px,832.6px) rotate(-90deg) scaleX(0.9328) translateY(-67.47px)">Height AMSL (km)</div>
</body></html>
